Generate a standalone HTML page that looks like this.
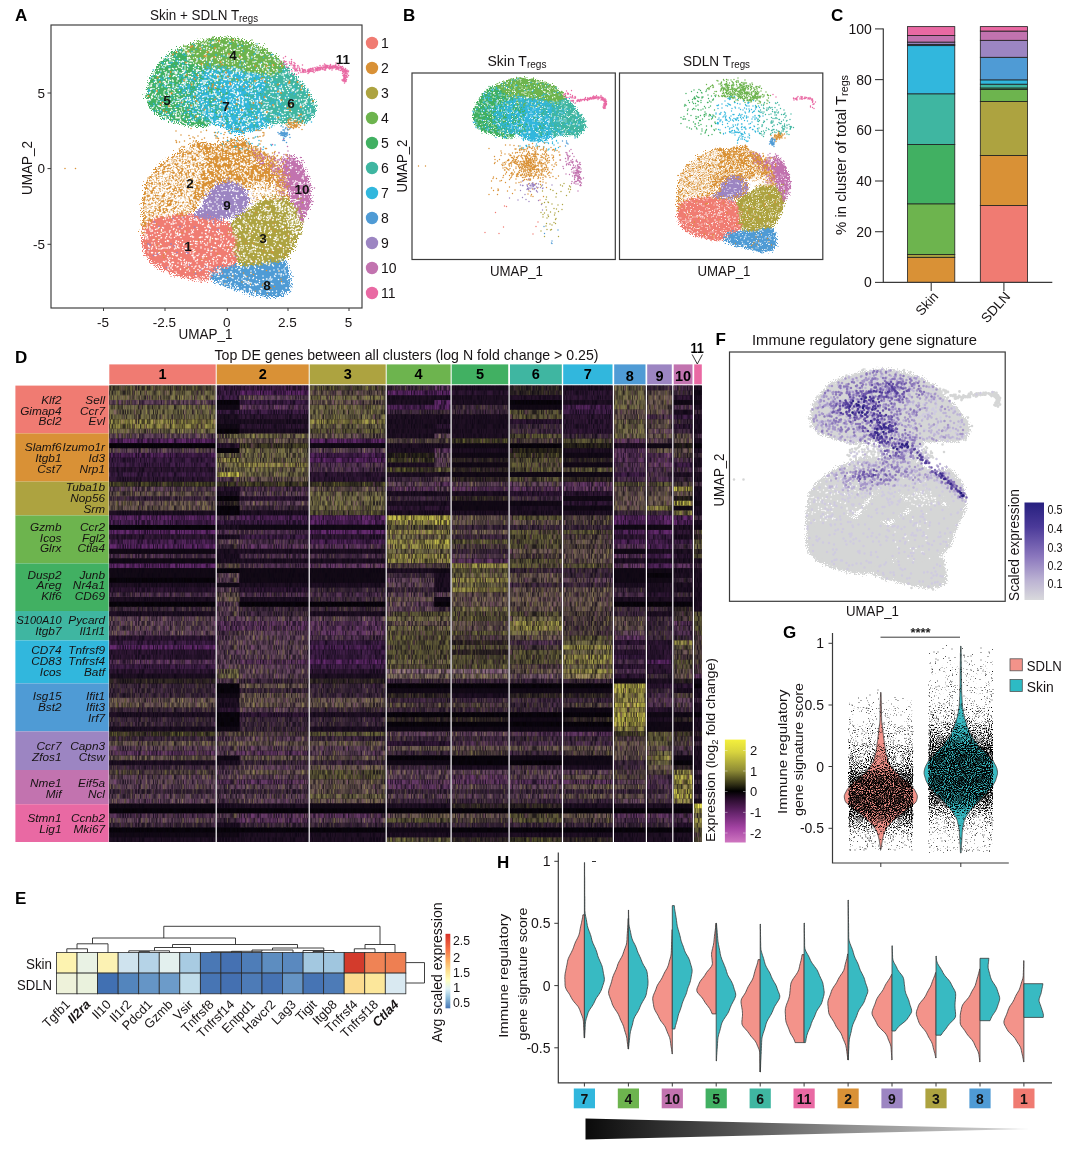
<!DOCTYPE html>
<html><head><meta charset="utf-8"><title>Figure</title>
<style>html,body{margin:0;padding:0;background:#fff}svg{display:block}text{font-family:"Liberation Sans",sans-serif}</style></head>
<body>
<svg width="1080" height="1149" viewBox="0 0 1080 1149">
<rect width="1080" height="1149" fill="#fff"/>
<defs><filter id="rag" x="-5%" y="-5%" width="110%" height="110%"><feTurbulence type="fractalNoise" baseFrequency="0.85" numOctaves="2" seed="4" result="n"/><feDisplacementMap in="SourceGraphic" in2="n" scale="15" xChannelSelector="R" yChannelSelector="G"/></filter><filter id="rag2" x="-5%" y="-5%" width="110%" height="110%"><feTurbulence type="fractalNoise" baseFrequency="0.9" numOctaves="2" seed="9" result="n"/><feDisplacementMap in="SourceGraphic" in2="n" scale="10" xChannelSelector="R" yChannelSelector="G"/></filter><clipPath id="cA"><rect x="51" y="25" width="311" height="283"/></clipPath><clipPath id="cB1"><rect x="412" y="73" width="203.3" height="186.5"/></clipPath><clipPath id="cB2"><rect x="619.5" y="73" width="203.3" height="186.5"/></clipPath><clipPath id="cF"><rect x="729.5" y="352" width="275.7" height="249.3"/></clipPath></defs>
<g clip-path="url(#cA)">
<g filter="url(#rag)">
<path d="M146.3 97.4L149.4 80.7L157.8 66.0L170.3 53.5L180.7 48.3L195.3 61.9L207.9 68.1L201.6 76.5L199.5 91.1L201.6 107.8L207.9 120.3L207.9 126.6L191.2 125.5L174.5 121.4L159.8 116.2L150.4 107.8Z" fill="#41B062"/>
<path d="M179.3 49.1L200.2 40.8L216.9 38.1L233.6 38.7L250.3 42.9L264.9 49.1L277.4 57.5L284.7 64.8L281.6 72.1L271.2 76.9L254.5 74.2L237.8 71.1L221.1 67.9L206.4 69.0L193.9 62.7Z" fill="#6DB44E"/>
<path d="M270.0 75.9L280.5 71.1L285.0 66.3L295.1 76.3L305.5 88.9L313.9 101.4L315.5 110.8L309.7 120.2L299.2 123.3L282.5 122.3L265.8 124.3L261.7 116.0L259.6 103.5L261.7 90.9L265.8 78.4Z" fill="#3FB6A1"/>
<path d="M206.5 68.0L221.1 66.9L237.8 70.0L254.6 73.2L267.1 78.4L262.9 90.9L260.8 103.5L262.9 116.0L267.1 124.3L254.6 130.6L237.8 132.7L221.1 126.4L206.5 120.2L200.3 107.6L198.2 90.9L200.3 76.3Z" fill="#31B7DD"/>
<path d="M143.8 197.8L145.8 183.2L155.2 170.6L169.9 158.1L184.5 149.8L199.1 143.1L217.9 144.5L232.5 141.0L245.0 139.3L251.3 145.6L253.4 156.0L261.7 164.4L272.2 170.6L274.3 181.1L261.7 187.3L251.3 189.4L245.0 187.3L238.8 183.2L226.2 181.1L215.8 183.2L207.4 191.5L199.1 202.0L192.8 210.3L184.5 216.6L169.9 216.6L155.2 218.7L145.8 227.0L143.1 243.7L142.3 212.4Z" fill="#D99136"/>
<path d="M142.2 242.1L145.0 225.0L154.6 216.4L169.6 214.3L184.6 214.3L195.3 216.4L212.4 218.5L223.1 220.7L233.8 225.0L238.0 235.6L240.2 250.6L238.0 261.3L229.5 267.7L218.8 276.3L208.1 279.5L195.3 279.5L180.3 276.3L165.3 270.9L152.5 263.5L145.0 254.9Z" fill="#F07B72"/>
<path d="M230.1 225.6L238.6 214.9L251.4 208.5L260.0 199.9L272.8 195.6L285.7 197.8L294.2 204.2L300.6 212.7L302.8 221.3L298.5 234.1L294.2 247.0L287.8 255.5L281.4 261.9L272.8 264.1L262.1 266.2L249.3 268.3L238.6 264.1L234.3 251.2L234.3 236.3Z" fill="#ADA340"/>
<path d="M209.4 274.7L220.1 268.2L235.0 266.1L250.0 266.1L262.8 264.0L277.8 261.8L286.4 261.8L289.6 274.7L290.7 289.6L282.1 296.0L269.3 297.1L254.3 293.9L239.3 289.6L224.3 285.4L213.7 281.1Z" fill="#4F9BD5"/>
<path d="M284.5 158.0L292.9 155.9L301.2 164.3L307.5 174.7L310.6 187.3L310.6 201.9L305.8 214.4L301.2 222.8L297.5 210.2L291.2 197.7L287.0 187.3L284.5 176.8L282.4 166.4Z" fill="#C273AF"/>
<path d="M209.9 193.3L217.4 184.7L227.0 181.3L237.7 183.4L245.2 190.7L248.8 200.3L244.3 210.0L233.4 216.4L221.6 218.9L209.9 217.7L200.2 218.5L193.4 216.4L200.7 207.8Z" fill="#9C85C2"/>
</g>
<path transform="scale(.5)" d="M368 97h0m-23 11h0m7-2h0m2-1h0m2 0h0m1-2h0m3 5h0m3-3h0m1-1h0m1 3h0m0-2h0m1-1h0m0 0h0m2 1h0m0 1h0m-32 8h0m1-3h0m5 2h0m0-3h0m3 4h0m0-4h0m2 2h0m1-4h0m2 3h0m0-2h0m3 3h0m3-4h0m0 0h0m5 3h0m3-2h0m3 3h0m1-3h0m1-1h0m1 1h0m0 4h0m1-2h0m2 2h0m-45 5h0m4 1h0m2-1h0m1 1h0m1 0h0m1-2h0m0-1h0m4 2h0m1 2h0m0-1h0m2-3h0m5-2h0m21 1h0m0 1h0m2 0h0m0 4h0m2-2h0m1 2h0m2-3h0m1-1h0m3 1h0m1 2h0m-63 6h0m1 1h0m3-1h0m0 1h0m2-1h0m1 0h0m7-1h0m1 0h0m8-3h0m32 0h0m6-1h0m3 6h0m4-1h0m4 1h0m2-1h0m-73 5h0m3 1h0m1-3h0m4 0h0m0 0h0m0 4h0m2-3h0m1-1h0m5-2h0m45 2h0m1-1h0m0 1h0m3 3h0m1-2h0m1 2h0m1 0h0m3-1h0m4-1h0m3-3h0m1 5h0m12-2h0m15-3h0m-108 10h0m2-3h0m6 3h0m0-1h0m60-3h0m4 2h0m2 2h0m2-4h0m0 4h0m1-4h0m2 4h0m5-2h0m0 3h0m5-1h0m14 1h0m47-2h0m-154 6h0m1-2h0m3 4h0m1-1h0m5-3h0m74 4h0m2-3h0m1 0h0m4 1h0m0-3h0m3 4h0m1 1h0m1-4h0m2 2h0m1-2h0m6 4h0m1-1h0m1-2h0m7 2h0m1-2h0m2 3h0m4 1h0m5-6h0m5 5h0m-135 2h0m4 3h0m1-3h0m1 1h0m1 4h0m79-1h0m1-3h0m1 1h0m1-2h0m1 3h0m2 1h0m0-3h0m0 0h0m1 3h0m3-2h0m0 2h0m2-3h0m3 1h0m0 0h0m12-1h0m1 3h0m0 1h0m0-4h0m1 4h0m1-6h0m9 3h0m0 2h0m3-4h0m1 1h0m1 4h0m5-3h0m26-2h0m24 3h0m12-4h0m-196 11h0m1-4h0m0 2h0m0-1h0m1 2h0m3-3h0m79 3h0m4-3h0m2 5h0m1-6h0m0 3h0m1-3h0m1 1h0m3 3h0m3-3h0m1 4h0m11 0h0m8-5h0m6 2h0m1-1h0m1-1h0m5 2h0m53-1h0m-194 7h0m1-1h0m4 4h0m5-5h0m2 0h0m79 6h0m1-3h0m0 0h0m2-1h0m2 1h0m1-1h0m0 1h0m1-2h0m4 0h0m1 1h0m2 0h0m0 4h0m5 0h0m2-4h0m3 2h0m10-3h0m1 2h0m4 3h0m7-2h0m22 1h0m7-5h0m31 2h0m19 1h0m-220 8h0m6 0h0m1-4h0m0 3h0m2 0h0m2-3h0m0 5h0m83-1h0m1-3h0m0 2h0m0-3h0m0 4h0m2 1h0m1-5h0m1 5h0m0-5h0m0 4h0m1 0h0m2 0h0m1-1h0m0-2h0m1 4h0m2-5h0m0 4h0m0-1h0m4 2h0m2 0h0m9-6h0m0 4h0m4 1h0m4-3h0m2-1h0m7 3h0m40-3h0m8 2h0m43 3h0m-228 3h0m1 1h0m0-2h0m3 1h0m0 0h0m2 2h0m0-4h0m1 2h0m1 3h0m83-2h0m4-4h0m0 5h0m4-5h0m2 5h0m6-5h0m5 0h0m1 1h0m2 0h0m3 5h0m1-2h0m6-1h0m3-2h0m5 1h0m1 2h0m0-1h0m2-1h0m5-2h0m4 2h0m2 0h0m3 0h0m56 3h0m-209 4h0m0 2h0m2-4h0m7-1h0m0 0h0m1 2h0m1-1h0m88 2h0m0 1h0m1 1h0m0 1h0m0 0h0m2-5h0m1 5h0m0-5h0m8 2h0m3 0h0m8 2h0m2 0h0m3 0h0m0-3h0m3 2h0m7-2h0m2 2h0m0 0h0m2 0h0m3 1h0m39-5h0m28 2h0m14-1h0m-222 9h0m2-2h0m0-2h0m4 2h0m1 0h0m82 3h0m1-1h0m1-2h0m9 0h0m1-1h0m2-1h0m4 6h0m1-3h0m5-1h0m1 2h0m4-3h0m1 0h0m2 3h0m3-2h0m0 3h0m1-2h0m4-1h0m1 3h0m7-4h0m6 4h0m13 1h0m31-6h0m8 3h0m13 0h0m11-3h0m-224 11h0m4-2h0m0-2h0m2 3h0m2-1h0m1 0h0m1 1h0m85-2h0m2 3h0m0-4h0m2 1h0m6-1h0m5 0h0m3 0h0m11 1h0m5-1h0m8 0h0m2 5h0m2-1h0m5 0h0m1-5h0m2 2h0m1 2h0m3-1h0m5-1h0m1-2h0m18 0h0m0 0h0m19 6h0m5-1h0m12 1h0m14-5h0m-229 6h0m7 0h0m3 5h0m88-3h0m3 2h0m0-1h0m2-4h0m1 4h0m4-4h0m4 1h0m1 1h0m2 4h0m2-1h0m4-1h0m9 1h0m3 0h0m5-3h0m3 2h0m5-1h0m6-1h0m25 2h0m-173 6h0m4 0h0m0-2h0m1 2h0m1 2h0m2-1h0m88 1h0m3-3h0m4-1h0m0 1h0m1 3h0m1 0h0m2-2h0m6 0h0m2 0h0m0-3h0m8-1h0m0 2h0m1 2h0m3-1h0m3 0h0m2-2h0m0 1h0m14 3h0m11-5h0m46 2h0m-202 7h0m2 1h0m2-1h0m1 3h0m1-6h0m4 3h0m0 2h0m2-1h0m83-1h0m0 0h0m2 1h0m0-4h0m1 1h0m4 0h0m2 1h0m1 1h0m1 0h0m3 0h0m2 2h0m2-2h0m10 2h0m0-4h0m1-1h0m2 0h0m10 6h0m2-4h0m3-2h0m3 5h0m0-3h0m59 2h0m14 1h0m-215 4h0m4 2h0m4-3h0m2-2h0m0 6h0m2-3h0m1 3h0m1-3h0m2 2h0m1 1h0m78-5h0m3 2h0m2 1h0m4-3h0m4 5h0m2-4h0m2 3h0m8 0h0m2-3h0m2 1h0m3 0h0m1-3h0m2 5h0m2-4h0m0 0h0m7 1h0m1 4h0m23-6h0m7 5h0m6-4h0m5 1h0m27-1h0m8 0h0m-212 6h0m3 0h0m5 3h0m1 2h0m2-4h0m2 2h0m1-1h0m2 2h0m2-1h0m0 1h0m72-4h0m1 2h0m1 3h0m3-2h0m3 1h0m1-2h0m1 3h0m2-4h0m4-1h0m5 1h0m0 0h0m4 4h0m1 0h0m5 0h0m5-5h0m3 2h0m4 2h0m2-3h0m2-2h0m1 4h0m3 0h0m10-3h0m17 0h0m12 2h0m29-2h0m0 1h0m-188 5h0m0 3h0m7 2h0m3-1h0m3 1h0m63-3h0m2 1h0m2-2h0m2 4h0m0-6h0m0 3h0m1 1h0m0-2h0m2 0h0m1 0h0m1 1h0m1 1h0m5 2h0m8-5h0m6 2h0m2-3h0m1 5h0m0-2h0m3 1h0m2-4h0m30 4h0m30-2h0m5 0h0m2 1h0m-186 5h0m5-1h0m1 0h0m3 0h0m0 1h0m3 1h0m0-1h0m2 0h0m1-1h0m4 2h0m1 1h0m2 0h0m2-2h0m0 2h0m2 0h0m4 1h0m48-4h0m3 3h0m3 1h0m2 0h0m0-1h0m0-2h0m2 3h0m1 1h0m8-4h0m1 0h0m1-1h0m5 4h0m10 0h0m17 0h0m13-4h0m10 2h0m11-1h0m6 0h0m19 3h0m1-2h0m-183 6h0m2-3h0m14 2h0m1 0h0m0-1h0m3 2h0m1-1h0m5-1h0m1 1h0m6 2h0m7-1h0m3 3h0m2-2h0m0 0h0m2 2h0m27-4h0m2 1h0m1 2h0m1-2h0m0-1h0m1 0h0m1 2h0m3-3h0m4 1h0m1 2h0m8 0h0m2-3h0m9 4h0m3-4h0m14 4h0m4-3h0m28 1h0m5 0h0m31 2h0m-179 2h0m3 1h0m4-1h0m9 0h0m3 1h0m2 1h0m1-2h0m2 4h0m1-4h0m1 2h0m1-2h0m2 4h0m1-2h0m3 1h0m1-3h0m7 4h0m4 1h0m2-2h0m3 1h0m2-3h0m2 2h0m3 0h0m2 1h0m1-3h0m0 1h0m0 0h0m1 3h0m0-5h0m5 4h0m1-3h0m1 4h0m2-2h0m0-1h0m6-1h0m2-1h0m1 2h0m2 1h0m15-3h0m2 0h0m14 1h0m2 1h0m17 3h0m20 0h0m5-4h0m1 3h0m11-1h0m-145 3h0m3 2h0m3 0h0m5-2h0m3 1h0m4 3h0m9-4h0m0 3h0m2 0h0m1-3h0m1 1h0m2 4h0m0-2h0m11-3h0m0 1h0m1 2h0m1-2h0m3 4h0m3-5h0m4-1h0m11 5h0m22-3h0m15 4h0m10-4h0m3-2h0m27 4h0m2 0h0m15 2h0m-117 0h0m54 1h0m13 4h0m19-5h0m14 5h0m0-5h0m6 1h0m-41 6h0m34 1h0" stroke="#41B062" stroke-width="3.10" stroke-linecap="round" fill="none"/>
<path transform="scale(.5)" d="M417 78h0m8-3h0m1-1h0m7 4h0m20-3h0m2 3h0m1-1h0m7 0h0m2 0h0m12 0h0m-81 5h0m3 1h0m12 0h0m1 1h0m4 0h0m5-5h0m3 4h0m2-5h0m4 4h0m1 0h0m1 1h0m4-2h0m1-1h0m1 1h0m1-1h0m2 1h0m2 1h0m0-1h0m4-3h0m3 5h0m1 1h0m2-3h0m3 0h0m1 2h0m2-1h0m3-2h0m0-2h0m2 5h0m2-5h0m0 5h0m0 0h0m1 0h0m4 1h0m0-4h0m4 3h0m1 0h0m2-4h0m5 4h0m10 0h0m11-3h0m-119 8h0m8 2h0m0-3h0m3 2h0m3 1h0m0-2h0m1-4h0m2 5h0m2-3h0m1-2h0m0 4h0m3 0h0m1-1h0m3 2h0m2 0h0m4-2h0m2 0h0m0 1h0m3-4h0m1 3h0m2-2h0m6 0h0m0 0h0m1 0h0m5 0h0m0 0h0m2 0h0m5-1h0m0 2h0m1 1h0m1-2h0m1 1h0m5 0h0m1 0h0m8 1h0m4 1h0m1-2h0m3-1h0m0-1h0m5 2h0m1 0h0m0 4h0m0-6h0m1 1h0m4 1h0m0 3h0m1-3h0m2 2h0m2-3h0m2 2h0m0 2h0m1-3h0m2 2h0m3-1h0m3 2h0m5 0h0m2 0h0m0-2h0m8 2h0m-142 3h0m4 0h0m1 2h0m1-1h0m10-2h0m3 1h0m1 0h0m2 1h0m3 0h0m3-1h0m2 0h0m0 0h0m81-1h0m7 1h0m1 0h0m4 1h0m3 3h0m3-1h0m1-4h0m0 4h0m1 1h0m3-1h0m0-1h0m2-2h0m1 4h0m1-2h0m0-1h0m1 1h0m4-3h0m0 1h0m0 3h0m0-1h0m1 1h0m3 0h0m4-1h0m4 1h0m-161 3h0m3 3h0m12-4h0m1-1h0m0 2h0m1 2h0m6-4h0m118 2h0m1 0h0m1 1h0m1 1h0m1 1h0m2-3h0m1-1h0m4 0h0m2 3h0m3 1h0m3-1h0m0-1h0m1-2h0m3 2h0m3 0h0m-157 4h0m1 3h0m2-2h0m1-2h0m2 2h0m1 3h0m0-3h0m2 3h0m133-4h0m7 3h0m0 1h0m2-4h0m3 4h0m1 0h0m1 0h0m2-3h0m1 3h0m2 0h0m7-2h0m-169 4h0m2 0h0m1-1h0m5 1h0m4 4h0m1-2h0m139-3h0m6 3h0m2 1h0m1 2h0m2-1h0m0-1h0m1-1h0m0 1h0m5-1h0m10 1h0m-177 3h0m6 4h0m2-3h0m0 1h0m3-1h0m1 2h0m0 0h0m1-2h0m0 2h0m2 1h0m1-2h0m0 0h0m3 0h0m5 3h0m139-4h0m0-2h0m1 2h0m3 1h0m3-2h0m1 2h0m5-2h0m2 3h0m2-1h0m2 1h0m-165 6h0m0-1h0m3-1h0m2 2h0m2 0h0m1-2h0m0-2h0m2 2h0m0 1h0m1 1h0m1 1h0m0 1h0m5-1h0m38 1h0m102-6h0m4 4h0m1 1h0m2-2h0m5 3h0m1-3h0m1 0h0m0 2h0m4 0h0m-175 2h0m6 1h0m3-1h0m0 4h0m1-3h0m1 0h0m1-1h0m1 4h0m2-1h0m1-1h0m0 1h0m1 1h0m1-2h0m0 1h0m1-1h0m1 1h0m0 1h0m6-3h0m0 0h0m2 0h0m0 0h0m1 0h0m2 2h0m0-2h0m1 2h0m0-3h0m6 4h0m2-2h0m1 1h0m0 2h0m0-2h0m1-2h0m1-1h0m0 4h0m4-4h0m1 2h0m6 0h0m4 1h0m1-3h0m6 4h0m1-1h0m13 0h0m83-1h0m3-1h0m1 0h0m8 0h0m0-1h0m0 3h0m-156 6h0m1-2h0m0 0h0m3 0h0m1 3h0m3-4h0m2 4h0m2-5h0m2 0h0m2 3h0m1 3h0m0-3h0m5 2h0m1-2h0m0-3h0m1 6h0m0-5h0m1 0h0m1 3h0m1-2h0m2 0h0m3-1h0m0 3h0m1-4h0m2 5h0m1-2h0m0 1h0m2-3h0m3 2h0m0 1h0m4-1h0m1 1h0m1-2h0m1 0h0m1-1h0m2 1h0m3 3h0m0-2h0m2-1h0m1 3h0m1-4h0m1 2h0m2-2h0m4 4h0m1-2h0m1 1h0m4 2h0m4-4h0m0 0h0m2 3h0m1-1h0m4 1h0m2-2h0m61 1h0m1 0h0m0-2h0m2 0h0m4 2h0m-147 5h0m3 3h0m5-6h0m3 0h0m2 2h0m1 3h0m6-3h0m1 1h0m10-3h0m0 4h0m3-1h0m2-2h0m1 4h0m1-1h0m2-4h0m1 6h0m0-5h0m3 1h0m1-1h0m1 3h0m1 0h0m2 1h0m4-4h0m0 0h0m1 4h0m7-3h0m2 0h0m4 0h0m4 0h0m0 3h0m2-2h0m0 0h0m1 1h0m3 1h0m0-3h0m1-1h0m1 3h0m1-3h0m0 1h0m0-2h0m2 4h0m2 0h0m1-4h0m2 2h0m3 2h0m4 0h0m1-1h0m3-1h0m0 1h0m1-3h0m1 2h0m2-1h0m2 4h0m2-3h0m1 2h0m2-1h0m3 2h0m4 1h0m2 0h0m1-2h0m3 1h0m11-1h0m3 2h0m0-6h0m1 4h0m2-1h0m1-1h0m3 1h0m0-2h0m2 0h0m2 4h0m-141 5h0m2 1h0m0-2h0m10 2h0m1-5h0m3 6h0m4-2h0m4-2h0m6 0h0m7 4h0m5-3h0m1 2h0m2-2h0m0-1h0m4 2h0m2 0h0m3 1h0m0 0h0m13-5h0m1 5h0m1-1h0m0 1h0m0-2h0m3 0h0m0-1h0m4-1h0m0-1h0m0 1h0m3-1h0m3 2h0m4-2h0m4 2h0m0 2h0m6 1h0m0-1h0m7-3h0m3 1h0m0 2h0m0-1h0m2 3h0m0-4h0m1-2h0m1 3h0m1-1h0m0-2h0m3 5h0m6 1h0m0 0h0m1-2h0m0-2h0m4-2h0m0 1h0m3 2h0m5 1h0m5-3h0m0-1h0m-139 7h0m10 5h0m5-1h0m6 0h0m3-3h0m7 0h0m1 1h0m10 2h0m3-1h0m22 1h0m5 1h0m2-2h0m3-3h0m4 0h0m2 1h0m5 2h0m1 2h0m13-6h0m4 0h0m1 5h0m1-4h0m6 4h0m4-2h0m0-3h0m6 3h0m-107 8h0m0 0h0m1-2h0m7-2h0m4 0h0m10 1h0m4 2h0m2-2h0m4 2h0m5-2h0m1 2h0m2 0h0m5-1h0m6-2h0m0 4h0m1-1h0m4-2h0m1 2h0m14 0h0m1-3h0m4 5h0m0-5h0m1 4h0m0-3h0m14-2h0m4 1h0m1 4h0m-34 4h0m4 2h0m4-4h0m4-1h0m0 1h0m1-1h0m7 0h0m10 2h0m2 2h0m4-1h0m3 2h0" stroke="#6DB44E" stroke-width="3.10" stroke-linecap="round" fill="none"/>
<path transform="scale(.5)" d="M575 135h0m3 2h0m-108 4h0m22 3h0m65-4h0m2 1h0m6 0h0m2-3h0m1 4h0m0-1h0m2-3h0m3 1h0m2 1h0m2 4h0m2-3h0m-176 8h0m33-2h0m17 0h0m28-2h0m27 4h0m37-3h0m6 1h0m1-1h0m4 3h0m9 0h0m5-2h0m1-1h0m0 0h0m1 1h0m6 2h0m-83 3h0m15 2h0m27 0h0m12-1h0m1 3h0m1-5h0m2 4h0m2-4h0m0 4h0m0 0h0m2-5h0m2 5h0m1-1h0m3-2h0m12-1h0m1 0h0m5 0h0m0 1h0m0 4h0m1-1h0m0-3h0m1 0h0m1 2h0m1 2h0m1-1h0m1-3h0m1 3h0m0-2h0m-165 7h0m6-4h0m10 2h0m8 3h0m18 0h0m29 1h0m8-4h0m1-1h0m9 1h0m3 3h0m6-1h0m5 1h0m6 0h0m6-2h0m1-2h0m1 0h0m0 5h0m1-1h0m3-1h0m1 1h0m0-2h0m2-3h0m1 2h0m0 0h0m3-2h0m0 0h0m3 1h0m26-1h0m1 3h0m2 2h0m1-3h0m1 2h0m1-2h0m0 1h0m3 3h0m4-5h0m-187 8h0m47 1h0m14-2h0m31 2h0m6-1h0m3 0h0m1-1h0m0 2h0m0 2h0m1-5h0m2-1h0m0 2h0m3 3h0m3-1h0m3-3h0m2 4h0m3 0h0m3-2h0m9-3h0m2 2h0m0 1h0m1 0h0m45-3h0m1 2h0m0 0h0m2 1h0m1 2h0m0-1h0m1 2h0m4-2h0m1 0h0m4 1h0m1-3h0m1-1h0m-177 11h0m0-5h0m64-1h0m5 3h0m7-2h0m8-1h0m20 0h0m7 1h0m1 1h0m0 3h0m1-5h0m1 0h0m55 3h0m0-2h0m1 4h0m3-3h0m3 4h0m0-6h0m-203 9h0m59-1h0m16 0h0m7 3h0m11 1h0m12 0h0m2-6h0m4 5h0m2-4h0m3 5h0m13-1h0m2 0h0m1-3h0m5-1h0m68 3h0m2-1h0m1 3h0m0-2h0m2 0h0m9 0h0m-162 3h0m2 3h0m39 0h0m1 0h0m5-3h0m2-1h0m5 4h0m2-3h0m2 2h0m5-2h0m0 2h0m2-3h0m2 0h0m7 2h0m0 2h0m1 0h0m1 1h0m1 0h0m1-4h0m72 4h0m3-4h0m1 2h0m7 2h0m-210 5h0m20-1h0m37 0h0m13-2h0m14 3h0m1 0h0m3-1h0m2-2h0m5 4h0m0-2h0m6 1h0m7-1h0m1-1h0m3-1h0m4 4h0m1-2h0m1 2h0m0-2h0m5 1h0m2-3h0m1 4h0m74-4h0m1-1h0m4 5h0m1-3h0m1 0h0m3-1h0m2 4h0m3-2h0m-222 8h0m0 1h0m70-1h0m28-2h0m2 1h0m3-2h0m2 1h0m1-2h0m1 2h0m1-2h0m6 1h0m2 3h0m2-4h0m10 4h0m0 0h0m1-1h0m5 1h0m83-1h0m4 2h0m-201 2h0m69 1h0m4 0h0m3-2h0m7 5h0m0-5h0m0-1h0m2 2h0m1 0h0m0 2h0m1-3h0m5 2h0m1 2h0m4-2h0m0-1h0m6 0h0m3 1h0m0 3h0m1-1h0m1 1h0m1-2h0m86-2h0m3 3h0m2 1h0m3-3h0m2-1h0m-215 9h0m20-2h0m12 3h0m3-4h0m28 2h0m4 1h0m24-4h0m1 2h0m3 2h0m2-3h0m11-2h0m6 1h0m0 2h0m1 0h0m0 0h0m2-2h0m1-1h0m92 5h0m3-1h0m4 0h0m-209 3h0m5 2h0m9 1h0m4 1h0m2-2h0m7 1h0m5 0h0m4 0h0m24 0h0m15-3h0m10 3h0m0-2h0m1-1h0m0 2h0m1 3h0m2-5h0m2-1h0m3 2h0m3 1h0m1 1h0m1 1h0m0-2h0m0 0h0m3-1h0m0 3h0m3-3h0m2-2h0m0 3h0m1 1h0m1-3h0m2 3h0m0-3h0m2-1h0m1 1h0m89 4h0m0-2h0m3 1h0m1-3h0m1 5h0m6-5h0m4 0h0m-211 8h0m1 2h0m14-3h0m3 0h0m1 4h0m17-5h0m1 1h0m17 1h0m16-2h0m3 2h0m2 0h0m6 0h0m2-3h0m4 1h0m6 4h0m2-2h0m0-2h0m1 3h0m1-2h0m3-1h0m2 4h0m0-3h0m1 2h0m3-4h0m0 0h0m2 4h0m4-2h0m89 1h0m1 0h0m0 0h0m4 0h0m1-1h0m0 3h0m-214 6h0m24-3h0m18 3h0m31 1h0m2-1h0m4-5h0m1 2h0m2-1h0m9 3h0m3-3h0m1 0h0m2 3h0m0-2h0m2 1h0m2-1h0m5 2h0m0 0h0m3-1h0m1-1h0m0 0h0m0 2h0m0-3h0m3 3h0m3-3h0m84 2h0m2-2h0m1-1h0m3 3h0m1-2h0m1 0h0m3 1h0m1 3h0m-206 5h0m38 2h0m12-3h0m8 2h0m16-1h0m1 0h0m1 2h0m0-1h0m5-3h0m2 1h0m2-3h0m1 1h0m5 4h0m3-2h0m2 0h0m1-2h0m6-1h0m4 2h0m1 0h0m2-2h0m0 6h0m1-1h0m1 0h0m78 0h0m0-1h0m1-2h0m3 0h0m2-2h0m0 3h0m2 1h0m2-2h0m-145 10h0m18-1h0m2 0h0m0-3h0m3-2h0m12 3h0m5 1h0m12-2h0m0 1h0m2-1h0m1 1h0m1-1h0m0 1h0m2 2h0m0-4h0m0 5h0m4-2h0m0 0h0m2 0h0m1 0h0m1 1h0m3 0h0m4-4h0m2 1h0m1 3h0m4-1h0m0-1h0m1-1h0m0 2h0m1 1h0m0-1h0m3-2h0m5 2h0m1 2h0m0-3h0m0-2h0m2 3h0m1 0h0m5-2h0m2-1h0m0 1h0m5 0h0m2 1h0m0 1h0m6-2h0m2 1h0m2 2h0m0-3h0m5 0h0m1 3h0m2-2h0m0 1h0m0-3h0m2 1h0m3-2h0m3 4h0m3 1h0m1 0h0m2 1h0m0-6h0m0 5h0m2-2h0m0 2h0m-197 4h0m7 2h0m12 1h0m7-1h0m12 0h0m1-4h0m33 5h0m2-2h0m2-4h0m4 1h0m1 3h0m2 1h0m3-3h0m3 0h0m17 3h0m11-1h0m1 0h0m1-2h0m1 1h0m0-2h0m1 4h0m1-2h0m2 1h0m2 2h0m5-5h0m3 2h0m5-1h0m0 1h0m2-3h0m0 5h0m2-5h0m2 3h0m4-3h0m2 5h0m1-4h0m1-1h0m3 3h0m4 1h0m4 2h0m1-4h0m1 0h0m2-1h0m0 0h0m4 2h0m2 1h0m4 0h0m1 0h0m11-4h0m-169 7h0m12-1h0m22 3h0m13-1h0m17-2h0m8 5h0m20 0h0m11-4h0m6 0h0m2 0h0m10 0h0m45-1h0m-148 7h0m26 5h0m-4 7h0" stroke="#3FB6A1" stroke-width="3.10" stroke-linecap="round" fill="none"/>
<path transform="scale(.5)" d="M420 83h0m6-2h0m-40 7h0m35 2h0m24-1h0m14-3h0m3 1h0m14 2h0m38-1h0m-129 4h0m4-1h0m16 0h0m15 0h0m5 2h0m51 0h0m8-2h0m1 1h0m16 4h0m9-1h0m-148 7h0m1-3h0m29 0h0m11-3h0m5 2h0m1 0h0m59 1h0m44 1h0m-157 2h0m14 5h0m15-4h0m103-1h0m23 5h0m2-4h0m6 1h0m-186 9h0m17-2h0m2 2h0m15-4h0m4 2h0m2-1h0m0 0h0m14 0h0m32-1h0m14 2h0m0-2h0m11 3h0m4 0h0m1-1h0m4 3h0m18-2h0m33 2h0m5-5h0m26 1h0m8 0h0m3-1h0m-215 11h0m7-2h0m17-1h0m41 2h0m4-2h0m4 1h0m66-3h0m34 2h0m24-2h0m22 1h0m7 4h0m-232 5h0m15 0h0m5 0h0m8-3h0m2-1h0m3 4h0m1-3h0m6 4h0m1-4h0m5-2h0m3 2h0m40 2h0m11-3h0m0 3h0m24 0h0m17-1h0m16 0h0m8-1h0m21 0h0m13 3h0m-197 2h0m1 0h0m6 2h0m2 0h0m7-3h0m7 5h0m9-3h0m8 2h0m1-3h0m3 4h0m4-1h0m37 0h0m8-3h0m1 0h0m0 3h0m11 0h0m7 0h0m6-2h0m35 3h0m1-4h0m9-1h0m18 6h0m13-4h0m20-1h0m28 1h0m-244 7h0m4 0h0m10-2h0m2 1h0m25 0h0m12-2h0m1 2h0m14 1h0m15-2h0m1 5h0m6-4h0m2 1h0m0-1h0m9 3h0m4-1h0m2 1h0m2-3h0m5 4h0m4-2h0m1 1h0m0 1h0m2-2h0m1-2h0m4 3h0m2-4h0m12 0h0m1 2h0m1-1h0m2 3h0m4 0h0m12-5h0m6 1h0m23 4h0m11-3h0m16 0h0m20-1h0m12 2h0m-265 5h0m14 4h0m28-3h0m17-2h0m2 5h0m3-2h0m1 1h0m14-2h0m4 2h0m5-2h0m10 2h0m1-5h0m2 1h0m1 1h0m2 1h0m2 1h0m1-2h0m0 2h0m0-3h0m2 2h0m4 1h0m2 0h0m1-3h0m1 4h0m0-1h0m3-1h0m0 1h0m1 1h0m3 0h0m0-5h0m2 5h0m1-2h0m3 0h0m0-1h0m1 1h0m1 2h0m0-1h0m3 0h0m2-4h0m6 0h0m2 4h0m4-1h0m0-1h0m1 0h0m1-1h0m0 4h0m1-2h0m0 1h0m1-1h0m0-3h0m1 6h0m2-5h0m3 3h0m4-3h0m2 5h0m1-5h0m1 2h0m2-2h0m3-1h0m1 1h0m4 3h0m2-3h0m1 2h0m49 1h0m3-3h0m30 3h0m-252 7h0m21-1h0m1-4h0m7 0h0m10 0h0m4 3h0m5 2h0m4 0h0m1-3h0m12 0h0m2 3h0m2-4h0m1 3h0m1 1h0m2 1h0m6-5h0m1 1h0m3-1h0m1 1h0m2-1h0m0 0h0m2 3h0m1 2h0m4-3h0m0-2h0m1 4h0m5-2h0m0 0h0m4-2h0m3 0h0m1 1h0m3-2h0m6 3h0m0-1h0m2-1h0m2 2h0m3 3h0m4-4h0m2 3h0m2-3h0m1 1h0m0-3h0m0 2h0m1 0h0m1 4h0m1-4h0m1-1h0m0 0h0m2 0h0m0 3h0m1-2h0m0 0h0m0-1h0m3 1h0m0 3h0m0-4h0m1 3h0m1 0h0m0 2h0m1-5h0m1-1h0m1 3h0m3 2h0m1-3h0m0-1h0m1 3h0m1 1h0m0 1h0m2-3h0m1 1h0m0-4h0m1 3h0m7 2h0m2-3h0m1 3h0m1 1h0m1-1h0m0-1h0m3 2h0m2-4h0m0-2h0m3 4h0m0-1h0m3 1h0m2-1h0m3-1h0m1 3h0m3-2h0m1 2h0m3-3h0m1 1h0m5 1h0m3 2h0m6-3h0m6 2h0m0-2h0m1 2h0m-231 7h0m4-4h0m7-1h0m14 1h0m1 4h0m5-1h0m3-1h0m3-3h0m9 2h0m8-2h0m4 1h0m1 0h0m0 2h0m3-2h0m3 2h0m2 0h0m6 1h0m5-1h0m1-1h0m4 1h0m1 1h0m2-2h0m2-2h0m2 2h0m2 2h0m0-1h0m2-2h0m1-2h0m0 4h0m3-2h0m4 2h0m1 0h0m0 0h0m1-4h0m2 1h0m1 2h0m0 2h0m0-5h0m1 4h0m2-4h0m0 2h0m2 0h0m8 2h0m0-2h0m2 0h0m7-1h0m2 4h0m0-4h0m7 4h0m9 0h0m3-1h0m4-2h0m1-1h0m2 2h0m5-1h0m3 1h0m10 0h0m4-3h0m0 0h0m0 2h0m2 3h0m3 0h0m0-3h0m1-2h0m0 3h0m1 0h0m0-3h0m1 6h0m3-6h0m1 3h0m1-1h0m0 2h0m1 0h0m0 0h0m3-2h0m1 3h0m1-4h0m1 0h0m0-1h0m1 2h0m0 4h0m2-2h0m0 0h0m0-1h0m0-2h0m1 4h0m0-2h0m4 1h0m1 0h0m2-1h0m1 1h0m0-1h0m0-2h0m1 4h0m0 1h0m0-2h0m3 0h0m0-3h0m0 3h0m1 0h0m1-1h0m0-1h0m2 1h0m0 3h0m4-4h0m1 0h0m0 0h0m5-2h0m2 1h0m2 4h0m3-2h0m3 1h0m-229 6h0m6 0h0m1-1h0m2-2h0m2-1h0m1 3h0m3 1h0m11-2h0m0-1h0m2 0h0m19 1h0m3-2h0m4 5h0m1-1h0m1-2h0m3 2h0m5-2h0m0 1h0m3 1h0m2 1h0m1-1h0m2-3h0m1 4h0m0-1h0m2-3h0m0 3h0m1 1h0m2-2h0m2-2h0m0 0h0m3 5h0m0-4h0m11 4h0m3-2h0m3-3h0m0 1h0m11-2h0m34 3h0m5-2h0m15 0h0m4 1h0m7-1h0m10 4h0m1-1h0m5 0h0m2 1h0m2-3h0m6 1h0m2-1h0m1-1h0m3 0h0m0-1h0m1 0h0m3 3h0m0 3h0m1-4h0m0 0h0m2 3h0m0-3h0m2 1h0m2 2h0m0-1h0m1-3h0m0 2h0m3 2h0m1-2h0m6 1h0m0-2h0m-233 5h0m11 5h0m1-1h0m2-4h0m11 4h0m0 1h0m7-2h0m2 0h0m3 1h0m3 0h0m17-4h0m3 4h0m1 1h0m2-1h0m7-2h0m11-2h0m0 3h0m12 1h0m1-4h0m1 3h0m1-1h0m0-1h0m80 1h0m24-1h0m12-2h0m1 5h0m1-3h0m0-1h0m2 1h0m0 0h0m1 3h0m0-1h0m1-1h0m1 1h0m0-2h0m1-2h0m1 1h0m0 4h0m1-1h0m14 0h0m0 1h0m5-3h0m3 1h0m-243 5h0m9 2h0m7-1h0m2-1h0m2 3h0m2 1h0m14-3h0m11-2h0m2 2h0m1 1h0m2 0h0m1-2h0m1-1h0m1 5h0m3 0h0m1-3h0m3-1h0m1-2h0m3 5h0m1-3h0m1 2h0m1-2h0m0 2h0m1 2h0m1-2h0m0-3h0m6 3h0m5 1h0m0-3h0m1 2h0m6 1h0m0-3h0m1 0h0m1 1h0m1-1h0m1 2h0m2-4h0m1 4h0m0 1h0m3-5h0m1 6h0m111-6h0m6 1h0m2 4h0m0-4h0m0 1h0m0 1h0m3-1h0m5 0h0m1-2h0m21 6h0m2-2h0m2-2h0m1-1h0m0 1h0m8 0h0m0-2h0m6 4h0m12 0h0m-292 7h0m7-1h0m14-1h0m15-2h0m10 2h0m4 1h0m1-4h0m8 6h0m0-5h0m2 5h0m1-5h0m1 3h0m0-4h0m2 1h0m1 0h0m1 1h0m3 2h0m2 2h0m0-6h0m2 1h0m0 4h0m4-1h0m1-2h0m1 2h0m1-3h0m0 0h0m1 3h0m4-1h0m5 2h0m4-2h0m0 0h0m2-2h0m2 2h0m0-1h0m2-1h0m0 4h0m2-2h0m2-1h0m1 0h0m1-1h0m1 3h0m0 1h0m2-2h0m1 3h0m0-1h0m114 0h0m5-3h0m0 0h0m1-1h0m3 5h0m2-1h0m0-1h0m10-2h0m5 1h0m6 2h0m2-3h0m4 1h0m2-1h0m29 2h0m-294 4h0m2 1h0m1-3h0m8 1h0m2 3h0m7-2h0m17 3h0m30-1h0m1-2h0m1-1h0m0 0h0m3 3h0m0 0h0m2-2h0m1-1h0m3 5h0m1-2h0m3-2h0m0-1h0m1 3h0m1-3h0m4 0h0m3 5h0m1-3h0m5-1h0m0-2h0m2 2h0m0 3h0m2-3h0m0 3h0m1-1h0m2 0h0m0-2h0m0 3h0m2 0h0m1-4h0m1 1h0m1 1h0m110-2h0m2-1h0m3 4h0m2-3h0m4 0h0m0 2h0m15-1h0m11 2h0m1-3h0m10 2h0m16 2h0m3 0h0m6-5h0m21 5h0m5-5h0m-318 7h0m14 5h0m32-1h0m5 1h0m1-5h0m5 1h0m5 0h0m1-1h0m2 3h0m4-4h0m1 1h0m4 0h0m6 4h0m6 0h0m1-1h0m0-4h0m3 5h0m1-5h0m1 1h0m0-1h0m0 2h0m0-1h0m2 3h0m2-4h0m1 5h0m0-1h0m4-2h0m1 1h0m2 0h0m0 1h0m4-1h0m0 3h0m0-2h0m1-3h0m0 3h0m0-3h0m2 5h0m108-4h0m12 1h0m5 1h0m12-1h0m1-1h0m7-1h0m3 4h0m0-4h0m4-1h0m19 5h0m9-2h0m2-2h0m-273 11h0m3-4h0m2-1h0m7 4h0m8-2h0m7 0h0m20 3h0m3-4h0m1 4h0m3-3h0m1 2h0m1-2h0m0 1h0m1-1h0m0-1h0m2 1h0m3 3h0m1-5h0m0 5h0m2-5h0m1 4h0m1-2h0m0-3h0m8 2h0m0 4h0m1-6h0m1 4h0m1-1h0m0 1h0m3-1h0m2 2h0m0-4h0m2 5h0m1-3h0m1 1h0m0 0h0m1-4h0m3 2h0m0 1h0m0 0h0m1-1h0m0 4h0m106 0h0m0-2h0m1-4h0m2 5h0m7-1h0m1 2h0m2-6h0m4 1h0m7 1h0m0-1h0m8 2h0m12 1h0m11-3h0m5 1h0m11 4h0m-287 5h0m19 0h0m5-1h0m3-2h0m5 2h0m4-1h0m6-2h0m7 1h0m1 3h0m5-4h0m2 0h0m4 0h0m1 4h0m2 0h0m1 1h0m2-4h0m0-1h0m4-1h0m3 2h0m1 0h0m0 1h0m1 0h0m1 2h0m2-2h0m2 3h0m1-4h0m0-1h0m1-1h0m2 3h0m0 1h0m1 1h0m0-1h0m1-2h0m1 0h0m0 2h0m2 1h0m3-4h0m0 1h0m3 0h0m2 1h0m2 0h0m0-1h0m0 2h0m0-3h0m2 1h0m0 2h0m1 0h0m2-4h0m0 3h0m0 2h0m1 1h0m1-4h0m1 3h0m0-2h0m2 2h0m3-1h0m101 1h0m3-3h0m2 3h0m0-2h0m10-2h0m3 1h0m5-1h0m2 1h0m6 2h0m6-2h0m0 3h0m7-2h0m2 2h0m0-2h0m21 2h0m19 0h0m-292 4h0m7 1h0m0 0h0m17-1h0m12 0h0m0 0h0m2-2h0m12 4h0m3 1h0m1-5h0m1 1h0m1 2h0m0-2h0m1 1h0m5 0h0m1 1h0m3-1h0m0-2h0m1-1h0m5 0h0m0 3h0m4-1h0m0 2h0m1-2h0m4-1h0m1 1h0m0-2h0m4 1h0m0 3h0m4 2h0m1-2h0m2 2h0m0-3h0m1-2h0m1 1h0m1 3h0m0 0h0m1-3h0m1-1h0m1 1h0m2-1h0m105 4h0m1-3h0m1-2h0m0 6h0m1-3h0m2 2h0m4-4h0m8 1h0m8-1h0m2 5h0m2-4h0m2 3h0m0-3h0m3 0h0m12 2h0m2 1h0m1-3h0m40 3h0m-300 3h0m5 0h0m2-2h0m8 1h0m2 1h0m14 3h0m19-1h0m2-2h0m1 1h0m2 0h0m8-2h0m0 0h0m2 1h0m2 1h0m3 1h0m6 0h0m1-3h0m1 3h0m1 0h0m1-1h0m4 0h0m1 2h0m2-4h0m0 0h0m1 4h0m2-3h0m0 3h0m5 1h0m1-4h0m2 2h0m1-2h0m1 3h0m1 1h0m0-1h0m2-3h0m1-1h0m0 1h0m0 2h0m4 1h0m0-3h0m2 0h0m103 0h0m0 3h0m0 0h0m1 0h0m0-3h0m1 2h0m3 1h0m5-1h0m6-3h0m2 4h0m2 0h0m6-4h0m24 2h0m5 0h0m2 2h0m44-4h0m2 0h0m4 1h0m-315 10h0m10-1h0m9-5h0m8 5h0m13-2h0m24-1h0m1 1h0m2 2h0m1 1h0m1-4h0m1 1h0m0 0h0m4-1h0m0 1h0m1 1h0m2 0h0m0 0h0m1 1h0m2-3h0m1 4h0m2-4h0m3 0h0m0 1h0m2-1h0m2 4h0m4-6h0m1 3h0m1-2h0m1 0h0m1 1h0m0-2h0m0 2h0m0 2h0m2-4h0m0 3h0m2-2h0m3 1h0m2 2h0m102-2h0m2 3h0m3-5h0m8 4h0m13 2h0m12-5h0m12 1h0m8 2h0m27-1h0m12-1h0m8 0h0m-310 4h0m9 3h0m1-1h0m2-2h0m2 5h0m10-1h0m6 0h0m1-1h0m0 1h0m5-2h0m3-1h0m1 1h0m11 1h0m2 3h0m5-1h0m1-2h0m2 0h0m4-3h0m0 2h0m2-1h0m0 2h0m2 2h0m1-2h0m4-1h0m1 0h0m1 1h0m3 0h0m0-2h0m0 4h0m1-4h0m0 1h0m1 3h0m0-4h0m0 2h0m0-2h0m1 4h0m2-5h0m3 0h0m0 5h0m1-2h0m2-2h0m0 1h0m3 2h0m0-4h0m3 1h0m1 2h0m2-2h0m0 2h0m1-1h0m2 2h0m1-3h0m0 3h0m2 2h0m1-2h0m96-3h0m2 5h0m0-4h0m1 1h0m1 0h0m1 2h0m0-4h0m3 3h0m2-1h0m0 2h0m8-5h0m8 0h0m14 5h0m6 0h0m1-5h0m61 4h0m-297 6h0m4-3h0m4 0h0m6 2h0m1-1h0m7 1h0m35 2h0m0-2h0m1-1h0m1 2h0m5 0h0m0-2h0m5-2h0m1 5h0m4 0h0m4-2h0m1-2h0m3 1h0m0 4h0m1-5h0m2 5h0m1-5h0m2 3h0m1 0h0m3 0h0m1-2h0m2 2h0m97 2h0m1-2h0m0-1h0m1 0h0m1-1h0m2 3h0m0 0h0m0-1h0m8-2h0m0 3h0m6-3h0m13-2h0m10 0h0m0 2h0m2 1h0m3-3h0m8 4h0m10-1h0m15 3h0m3-6h0m2 4h0m17 0h0m-290 7h0m7-3h0m11 2h0m23 0h0m0-2h0m8 4h0m1-1h0m3-2h0m1-3h0m1 0h0m2 0h0m1 1h0m0 4h0m1-2h0m7 0h0m2 1h0m2-4h0m2 3h0m0-3h0m1 2h0m5-1h0m2 0h0m3 5h0m3-5h0m1 4h0m3-4h0m4 4h0m0-1h0m0-4h0m1 2h0m0 0h0m0 1h0m1-3h0m0 4h0m1 1h0m11 1h0m80-6h0m1 0h0m2 6h0m0-5h0m1 1h0m2 0h0m2 1h0m4-2h0m1 5h0m1-5h0m2 0h0m1 2h0m5 0h0m2 1h0m5 2h0m2-3h0m4 0h0m12 0h0m23-3h0m16 4h0m-258 5h0m13-1h0m22 3h0m5-5h0m6 1h0m4 1h0m14-2h0m4 4h0m8-3h0m2-1h0m0 1h0m1 3h0m5-1h0m2 0h0m2 0h0m2-2h0m1 4h0m1-3h0m0 0h0m0 0h0m1 3h0m2 1h0m1-4h0m2 3h0m2-3h0m0 0h0m1 2h0m1-1h0m2 2h0m4 0h0m0 0h0m68-2h0m1 0h0m5 0h0m0 0h0m1-2h0m5 4h0m3-3h0m2 3h0m0 1h0m55-5h0m22 3h0m9 0h0m-247 4h0m29 2h0m15 0h0m5-3h0m8 3h0m7-4h0m1 4h0m2-2h0m0 1h0m0 3h0m0-5h0m3 3h0m3 1h0m1-1h0m3 1h0m1 0h0m0-1h0m4 0h0m8 1h0m1 0h0m11 0h0m18 1h0m1 0h0m11 0h0m4 0h0m2-3h0m1-2h0m1-1h0m4 2h0m1-1h0m1 2h0m1 1h0m0-2h0m4 2h0m1 1h0m17 0h0m34-4h0m-129 9h0m4 0h0m7-2h0m3 3h0m1-2h0m1-3h0m0 5h0m1 1h0m1-2h0m4-1h0m5 0h0m1 0h0m0-1h0m0 4h0m2 0h0m0 0h0m3-2h0m1-2h0m3-1h0m1 0h0m1 3h0m1-2h0m1 2h0m1-3h0m1 4h0m0-3h0m3 2h0m3-3h0m1 0h0m2 3h0m1 1h0m1-1h0m0 1h0m1-2h0m0 0h0m1 2h0m5-1h0m2 0h0m1 0h0m4-2h0m0 3h0m14-5h0m0 4h0m1-2h0m10 0h0m-86 9h0m2-1h0m2-3h0m4 0h0m0 2h0m5 0h0m4 0h0m5 3h0m2 0h0m1-1h0m5-4h0m3 0h0m6 0h0m1 1h0m1 0h0m7 3h0m1-5h0m1 2h0m2 1h0m3-2h0m4 2h0m4 0h0m-89 4h0m6-1h0m5 3h0m17-1h0m4 1h0m1-2h0m5-1h0m13 1h0m1 0h0m0 0h0m1 1h0m0-2h0m1 2h0m2-1h0m-57 6h0m4 2h0m77 1h0m4-1h0m-60 8h0m1 1h0m6-5h0m12 5h0m18-3h0m16-3h0m10 5h0m-73 7h0m48-2h0m5-2h0m1 4h0m5-1h0m-54 5h0m19 1h0m3 0h0m44-2h0m2-3h0m24 1h0m1 2h0m7-1h0m-103 7h0m22-3h0m11 5h0m1 0h0m2-1h0m1-1h0m11 1h0m1 2h0m15-6h0m15 5h0m1-5h0" stroke="#31B7DD" stroke-width="3.10" stroke-linecap="round" fill="none"/>
<path transform="scale(.5)" d="M580 237h0m2 1h0m2 1h0m9 0h0m9-3h0m-26 8h0m2 0h0m1 1h0m1-1h0m0-2h0m0 0h0m0 2h0m4 1h0m0-1h0m3 0h0m1 2h0m0-4h0m1 3h0m2-4h0m1 4h0m2 1h0m1-3h0m0 1h0m4 0h0m6-3h0m0 2h0m-33 5h0m2 3h0m3-4h0m1-1h0m1 2h0m1 2h0m1-2h0m1 0h0m0 0h0m0-2h0m2 4h0m2 0h0m1 1h0m1 0h0m1-2h0m2 1h0m0 2h0m2-2h0m0 1h0m0 0h0m1-5h0m0 3h0m1 3h0m3-3h0m3 2h0m2-5h0m6 4h0m-227 7h0m81 0h0m9 1h0m5 0h0m19-1h0m43-1h0m37-2h0m1 0h0m3 1h0m2-2h0m0 1h0m1-1h0m1 2h0m3 1h0m0 1h0m1-3h0m2-1h0m2 2h0m1-2h0m5 2h0m-246 7h0m61-1h0m45 0h0m18-2h0m6 1h0m3 3h0m8-3h0m19 1h0m2-1h0m4 1h0m4-1h0m53-1h0m3 0h0m26 0h0m-242 11h0m40-6h0m27 1h0m6 1h0m13 3h0m2-4h0m11 2h0m26 0h0m39-2h0m2 1h0m-150 5h0m8 3h0m10-2h0m13 4h0m22-5h0m0 0h0m1 5h0m0 0h0m0-4h0m3 4h0m12 0h0m8-1h0m24-2h0m27 3h0m10-2h0m4-1h0m6-1h0m2-2h0m-176 11h0m28-4h0m7 5h0m2-6h0m3 6h0m12-3h0m33 2h0m0-4h0m25 1h0m1 3h0m3-1h0m0-1h0m9-2h0m2 3h0m20-3h0m-144 8h0m0-1h0m6 0h0m10-2h0m11 5h0m9 1h0m3-4h0m3 2h0m0 1h0m2 0h0m1 0h0m2 1h0m1-2h0m11 0h0m34-3h0m1 2h0m6 2h0m1 0h0m2-1h0m2 0h0m1-1h0m2-3h0m0 4h0m5 0h0m2-1h0m4 2h0m2-1h0m1 1h0m3-3h0m1-2h0m1 5h0m6 0h0m3-2h0m0-2h0m31 5h0m2-6h0m-158 11h0m4 0h0m1 1h0m16-4h0m1 0h0m0 3h0m6-1h0m5 1h0m2-1h0m0-3h0m1 3h0m5-1h0m1-1h0m2-1h0m1 1h0m7 3h0m0 0h0m3 0h0m2-5h0m0 1h0m5 3h0m1-2h0m1 0h0m7 3h0m4-3h0m2-1h0m3 4h0m6 1h0m0-1h0m0-4h0m4 1h0m0 2h0m0 2h0m0-5h0m2-1h0m4 5h0m0-3h0m3 3h0m0-2h0m2-2h0m1 3h0m1 0h0m5-2h0m4-2h0m1 1h0m0 2h0m0 1h0m2-1h0m4-2h0m2 1h0m8 1h0m0-1h0m1 0h0m2 1h0m0-1h0m2 1h0m12 2h0m4 0h0m-155 5h0m14 1h0m7-4h0m0 5h0m4-3h0m3 2h0m3-1h0m0 1h0m4-5h0m1 2h0m4-1h0m1 2h0m4-1h0m8 2h0m0-1h0m0-2h0m2 0h0m3-1h0m1 3h0m1 1h0m0 0h0m1-3h0m1 0h0m5 0h0m4 1h0m1-1h0m0 2h0m2 0h0m0 2h0m1-2h0m1-2h0m3 0h0m0 2h0m0-1h0m1 0h0m1 2h0m4-1h0m0-3h0m0 2h0m2 4h0m0-5h0m2 0h0m1 0h0m0 1h0m0-1h0m1 2h0m2-2h0m12 5h0m14-5h0m9 2h0m4-2h0m3 1h0m3-2h0m1 4h0m1 0h0m1-4h0m4 2h0m0 1h0m3-3h0m4 3h0m0 3h0m1-6h0m1 6h0m1-2h0m2 0h0m5 1h0m0-3h0m10 1h0m2 0h0m-171 8h0m0-1h0m4 0h0m0-2h0m2 3h0m7-2h0m1-3h0m0 5h0m0-4h0m4 2h0m6 0h0m5-2h0m103 2h0m2-2h0m1 1h0m1 0h0m0 2h0m1-1h0m1-1h0m0 4h0m0-1h0m1-4h0m1 0h0m1 1h0m1 0h0m0 0h0m1 3h0m2 1h0m1-3h0m0-2h0m0 3h0m3 1h0m0 0h0m0 0h0m1-3h0m4 0h0m1 3h0m2-2h0m1 3h0m1-5h0m0 3h0m1-1h0m4 3h0m2-2h0m1 1h0m20 0h0m1-2h0m-191 4h0m5 4h0m5-5h0m3 3h0m123-2h0m0 2h0m1 0h0m1 1h0m6-4h0m1 1h0m4 2h0m0 2h0m1-1h0m1-4h0m1 3h0m0 0h0m1-1h0m1 0h0m1 3h0m1-5h0m1 3h0m3 2h0m0-1h0m0-1h0m0-1h0m0-2h0m0 3h0m0 2h0m2-1h0m2 0h0m0 1h0m4-4h0m0 0h0m1 2h0m1 1h0m1-3h0m1 4h0m1-2h0m0 2h0m1-2h0m3-1h0m3 4h0m6-6h0m10 5h0m17-2h0m2 2h0m5 1h0m-233 1h0m5 0h0m2 4h0m4-3h0m4 0h0m8-2h0m129 2h0m2 0h0m1 2h0m0-1h0m1-2h0m2 0h0m0 1h0m1 0h0m2 0h0m3 0h0m1 2h0m0-2h0m1-1h0m2 3h0m0-3h0m0 0h0m0 0h0m0 1h0m0-1h0m1 4h0m1-5h0m1 4h0m1 0h0m1-3h0m2 1h0m0 2h0m1 1h0m0 1h0m0-1h0m2 0h0m0-1h0m1-1h0m0 3h0m2-1h0m0-2h0m2-1h0m1 1h0m1 2h0m4-1h0m0-4h0m0 2h0m3-1h0m0 0h0m1 0h0m0 0h0m1 1h0m0 2h0m3 2h0m0-2h0m1-3h0m2 5h0m1-6h0m1 6h0m0-1h0m0-2h0m1 3h0m0-4h0m1 2h0m1 1h0m3-5h0m7 5h0m2-3h0m12 3h0m-242 6h0m4-4h0m1 3h0m9-2h0m1 0h0m3-1h0m1 3h0m150-2h0m3-2h0m2 2h0m0 4h0m3-4h0m2 0h0m2 2h0m4-4h0m2 5h0m1 0h0m2-2h0m1 1h0m1-2h0m0 2h0m1-2h0m1 3h0m1-4h0m4 4h0m1-1h0m1-2h0m1-2h0m1 2h0m1 0h0m1 2h0m1 1h0m2-1h0m1-2h0m0 0h0m0 1h0m0 0h0m2 1h0m2 1h0m0-4h0m1 0h0m1 0h0m2 3h0m1 0h0m1 0h0m3 2h0m1-2h0m7-2h0m0-1h0m8 4h0m6-5h0m-249 12h0m0-5h0m8 1h0m2 3h0m2 0h0m2-1h0m169-1h0m6-2h0m2 1h0m2 3h0m2 0h0m1 1h0m2-1h0m2-1h0m1 1h0m3-2h0m1 0h0m0 2h0m0-3h0m2 1h0m0 0h0m2 3h0m0-2h0m0-1h0m1-2h0m1 4h0m1-4h0m1 0h0m1 5h0m2-3h0m0 2h0m1 1h0m0-2h0m1 0h0m0-2h0m0-1h0m0 5h0m1-4h0m1 2h0m2 0h0m3-2h0m2-1h0m1-1h0m10 2h0m0 2h0m2-1h0m4-3h0m-252 12h0m5-4h0m4 1h0m0-2h0m1 3h0m2 2h0m182-2h0m2-3h0m0 1h0m2 3h0m0-4h0m2 3h0m0-2h0m6-1h0m1 5h0m2-5h0m3 1h0m1 1h0m3-2h0m2 2h0m1 2h0m1-3h0m0-1h0m0 4h0m1-2h0m1 0h0m0-1h0m1 2h0m0 0h0m1-3h0m0-1h0m0 2h0m1 3h0m0-5h0m1 3h0m2 0h0m1-3h0m1 2h0m2 0h0m3-1h0m1 3h0m3-3h0m2 2h0m2-2h0m10 2h0m-443 4h0m21 0h0m165 0h0m7 5h0m0-5h0m2 4h0m4-3h0m188 2h0m1 2h0m1-3h0m1 0h0m2-1h0m0 0h0m0-1h0m0 1h0m1 3h0m4-2h0m0 3h0m2-4h0m1 3h0m1-3h0m2-1h0m3-1h0m1 4h0m0-3h0m2 1h0m1-2h0m2 3h0m6 3h0m2-4h0m1 0h0m1-1h0m0 0h0m0 1h0m2 0h0m1 1h0m3-3h0m0 5h0m1-5h0m1 6h0m1-2h0m1-1h0m3-2h0m0 4h0m0 1h0m3-3h0m2 3h0m8-2h0m-268 5h0m2 2h0m2-1h0m1-3h0m0 3h0m3-1h0m5-2h0m188 2h0m2 2h0m19-4h0m0 3h0m1-4h0m1 6h0m0-6h0m3 1h0m1 2h0m0-2h0m1 3h0m0-2h0m2 2h0m0 1h0m3-5h0m3 2h0m2 1h0m0 0h0m1-2h0m0 2h0m2-3h0m1 1h0m0 4h0m1 1h0m0-6h0m1 2h0m2 0h0m0-2h0m2 4h0m0-1h0m0 1h0m1-1h0m2-1h0m0 0h0m1-1h0m2 1h0m0 1h0m0 0h0m1 1h0m1 1h0m1-4h0m0 0h0m0 4h0m1 0h0m-270 7h0m10-5h0m5 0h0m140 4h0m12 1h0m45-2h0m7 2h0m1-1h0m4 1h0m0-1h0m10 0h0m0 1h0m4-4h0m5 1h0m3 0h0m0 0h0m2 1h0m0-3h0m2-1h0m1 2h0m2 1h0m2 0h0m0-3h0m0 1h0m1 5h0m1-2h0m2 1h0m0-2h0m4-1h0m2-1h0m1 4h0m0-4h0m0 0h0m1 1h0m0 3h0m1-3h0m0-2h0m2 4h0m1-4h0m0 2h0m1 1h0m0-3h0m3 3h0m4 2h0m1-4h0m1 4h0m-284 3h0m9 0h0m1-1h0m2 0h0m0 4h0m3-4h0m114 4h0m1 1h0m4-4h0m2 0h0m5-1h0m2 0h0m6-1h0m5 1h0m8 3h0m3 1h0m2 1h0m2-1h0m1-1h0m1-1h0m1-2h0m0 5h0m2-1h0m9 0h0m1 0h0m32-5h0m5 1h0m13 5h0m4-1h0m1-5h0m1 3h0m0 1h0m5 2h0m3-6h0m1 3h0m2-2h0m2 4h0m4-4h0m2 3h0m0 1h0m0-1h0m3-3h0m1 1h0m1 3h0m1-2h0m2-1h0m0 1h0m0 2h0m1-3h0m2-2h0m0 1h0m2 4h0m1-3h0m3-1h0m0 1h0m1 4h0m-272 5h0m2-5h0m118 4h0m1 2h0m0-4h0m1 2h0m1-4h0m3 5h0m2-4h0m2 5h0m0-2h0m1-3h0m0 5h0m8-2h0m2-4h0m5 0h0m1 1h0m1 3h0m2 1h0m3-3h0m6-1h0m9-1h0m1 3h0m2-1h0m0-2h0m2 0h0m3 5h0m3-4h0m7 1h0m3 3h0m2 0h0m24 0h0m4-1h0m1 0h0m7-1h0m5 0h0m6 2h0m1-4h0m2 1h0m3 2h0m0-3h0m5 0h0m2 3h0m0 1h0m0-2h0m1 0h0m1 2h0m0 0h0m0-2h0m1-1h0m1 3h0m0-1h0m1 2h0m0-2h0m0-4h0m1 2h0m0 2h0m0 1h0m1-1h0m0-1h0m1-3h0m1 5h0m0-4h0m0 4h0m1-5h0m0 0h0m1 1h0m1 4h0m1 1h0m0-6h0m0 0h0m1 1h0m1 2h0m0 2h0m1 1h0m0-3h0m3 1h0m1 0h0m2 0h0m1-3h0m4 5h0m-283 5h0m1-2h0m3 2h0m2 0h0m116 0h0m1 0h0m0 0h0m1-1h0m0-3h0m7 0h0m15 0h0m26 2h0m5-1h0m4 3h0m0 1h0m3-4h0m1 3h0m8-5h0m3 2h0m2 3h0m1-4h0m18 0h0m1-1h0m2 3h0m1 1h0m0 0h0m2-2h0m2 2h0m1-3h0m3 2h0m1 0h0m2 2h0m1-3h0m1 2h0m2 0h0m3-1h0m1 3h0m4-3h0m0 0h0m1 1h0m7 1h0m3-2h0m2 0h0m1 1h0m0 2h0m1-5h0m0 0h0m1 5h0m1-4h0m0 0h0m1 2h0m2 1h0m1-2h0m0 1h0m4-1h0m0-2h0m0-1h0m0 3h0m0 0h0m3 0h0m1 2h0m1-1h0m1 1h0m1 1h0m0-5h0m0 5h0m0-3h0m1-1h0m0 1h0m2 2h0m2-4h0m2 5h0m-283 2h0m3-2h0m107 5h0m3 0h0m3-1h0m3 2h0m0-1h0m0-4h0m1 2h0m4 1h0m0 1h0m2-4h0m1 0h0m3 0h0m59-1h0m2 0h0m10 0h0m0 1h0m7 2h0m2-3h0m0 4h0m1-2h0m0 3h0m0-3h0m14-1h0m1 3h0m1-1h0m4-2h0m0 3h0m4 0h0m0-3h0m5 5h0m0-5h0m1 2h0m1-2h0m2 1h0m0-2h0m7 3h0m3 2h0m2-2h0m0-1h0m2 2h0m0-1h0m0 3h0m1-3h0m0-2h0m0 4h0m0 0h0m3-4h0m0 1h0m2 0h0m1 1h0m1 0h0m0 1h0m1 0h0m1-4h0m1 0h0m1 5h0m2-4h0m1 0h0m0 3h0m3-1h0m0 0h0m2 0h0m0-2h0m1 3h0m0-2h0m1 1h0m0-2h0m1-1h0m2 1h0m-284 10h0m1-4h0m1 2h0m0 0h0m2-2h0m1-1h0m102 5h0m0-1h0m3-1h0m3-1h0m1 4h0m2-3h0m1-1h0m3 1h0m70-2h0m21 3h0m1-3h0m1 1h0m0 2h0m9-3h0m1 3h0m4-2h0m7 1h0m2-3h0m1 4h0m8-3h0m5 3h0m3 0h0m2-2h0m3 3h0m0 0h0m0-5h0m1 0h0m2 3h0m1 1h0m1-4h0m0 5h0m1-1h0m2 0h0m0 2h0m1-3h0m0 1h0m1-2h0m1 4h0m0-2h0m0 0h0m2-2h0m2 2h0m0 1h0m2-3h0m4-2h0m-284 6h0m1 2h0m6 0h0m1 4h0m1-3h0m104 0h0m1-2h0m1 5h0m1-5h0m5 5h0m3-4h0m92 1h0m8 0h0m3 3h0m0-1h0m3 0h0m1-2h0m3 3h0m3-1h0m3-1h0m5 2h0m5-4h0m3 1h0m9 2h0m2-4h0m0 2h0m1-2h0m3 0h0m0 4h0m2-1h0m4 1h0m0-2h0m0 1h0m3-1h0m2 0h0m4 3h0m1-1h0m1 0h0m0-4h0m-286 9h0m1-1h0m2 1h0m3-1h0m1-3h0m1 4h0m0 1h0m0-2h0m0-1h0m98 0h0m2-1h0m1 2h0m1-3h0m1 3h0m1-2h0m4 4h0m0 1h0m92-6h0m9 1h0m2 3h0m2-2h0m2 4h0m1-5h0m2 4h0m7-3h0m3 1h0m1 1h0m2 0h0m0-2h0m1 3h0m8-2h0m1 2h0m5-5h0m2 2h0m6 0h0m0-1h0m3 2h0m0-2h0m2 5h0m0-6h0m2 3h0m1-1h0m1 0h0m0 1h0m0 1h0m1-1h0m1 2h0m1 0h0m0-3h0m1 3h0m5-2h0m0-2h0m4 0h0m0 0h0m1 0h0m2 2h0m3-1h0m-291 4h0m0 2h0m2-1h0m3 0h0m2 1h0m3 1h0m93-2h0m1 3h0m0 1h0m2 0h0m2 0h0m105-5h0m2 4h0m2 1h0m7-2h0m4 0h0m9-3h0m6 4h0m7-3h0m3-1h0m2 2h0m0 1h0m1 0h0m2-2h0m2 0h0m0 1h0m1-1h0m1-1h0m3 1h0m0-1h0m1 2h0m2-1h0m3 2h0m3-2h0m2 1h0m12-1h0m1-1h0m1 2h0m-288 4h0m3 6h0m2-2h0m0-3h0m0 4h0m1-2h0m88 2h0m7-3h0m9 0h0m99 1h0m11-3h0m5 0h0m58 5h0m-284 6h0m2-4h0m3 3h0m0 2h0m2-2h0m83 2h0m1-2h0m1 0h0m1 1h0m2 1h0m2-6h0m0 2h0m1 1h0m3 3h0m1-1h0m4-3h0m141 2h0m-246 3h0m0 0h0m2 0h0m1 0h0m2 2h0m78 2h0m2 0h0m3-1h0m1 0h0m0-1h0m1 0h0m0-2h0m1 2h0m0 0h0m5 2h0m0 0h0m2 1h0m1-5h0m1 1h0m2 0h0m140 0h0m-244 9h0m0-4h0m1 1h0m2-2h0m0 1h0m4 1h0m1-1h0m30 4h0m8-1h0m3 0h0m9-2h0m1 3h0m4-2h0m1-1h0m2 0h0m2 1h0m2 2h0m11 0h0m1-5h0m4 1h0m0 1h0m2 1h0m3-1h0m2 1h0m1-1h0m2-1h0m128 4h0m-223 2h0m3 1h0m13 0h0m4 3h0m0-2h0m6 1h0m1-1h0m0 1h0m0 0h0m8 1h0m0 0h0m0-2h0m2-1h0m4-1h0m1 3h0m5 0h0m1-3h0m4 2h0m2-2h0m1 0h0m10 0h0m4 1h0m6-1h0m5 1h0m0 0h0m3 0h0m-78 4h0m2 6h0m3-5h0m2-1h0m3 5h0m2-5h0m0 4h0m0-3h0m7 0h0m3 2h0m10 0h0m0 1h0m14-4h0m3 2h0m0 4h0m18-5h0m3 0h0m-75 5h0m1 3h0m1-2h0m1 0h0m0 1h0m4 1h0m2-1h0m1-1h0m1-1h0m1 1h0m0 4h0m1-2h0m2-2h0m11 0h0m2 0h0m203 1h0m21-1h0m34 1h0m-291 10h0m0-2h0m6 1h0m2-1h0m5-1h0m2-2h0m3-1h0m11 4h0m101-3h0m134 2h0m-261 6h0m3 1h0m7-4h0m0 4h0m199-2h0m75 4h0m-252 1h0m53 4h0m88-4h0m22 1h0m59 0h0m-257 8h0m1 0h0m3-1h0m1 3h0m2-1h0m1 1h0m31-4h0m29 0h0m12 2h0m92 1h0m48-1h0m46-4h0m26 4h0m-287 5h0m0-3h0m156 4h0m54-3h0m78 2h0m-270 8h0m7-1h0m110 0h0m1-2h0m57 1h0m-85 3h0m22 3h0m73 3h0m34-3h0m57-1h0m-291 4h0m22 4h0m8 0h0m156-1h0m29-2h0m-127 5h0m76 3h0m72-2h0m29 3h0m7-2h0m12 3h0m-258 5h0m14 1h0m57-1h0m1 1h0m38-3h0m100 2h0m15 1h0m-108 5h0m31 1h0m80-4h0m-219 5h0m1 5h0m18-4h0m66 5h0m158-6h0m-167 9h0m23 0h0m55-2h0m23 7h0m3-1h0m-133 14h0m14 7h0m58 0h0m41 2h0m46-5h0m25 1h0m-164 6h0m72 4h0m36-6h0m5 3h0m-71 4h0m19 2h0m39-2h0m3 9h0m65-4h0m1 5h0m-113 4h0m34-3h0m17 4h0m25 0h0m10-2h0m-11 5h0m13 2h0m2 2h0m9-2h0m-7 4h0m-31 5h0m23 5h0" stroke="#D99136" stroke-width="3.10" stroke-linecap="round" fill="none"/>
<path transform="scale(.5)" d="M319 431h0m13-1h0m1 2h0m14-1h0m4 0h0m10-2h0m6 2h0m0-1h0m11-3h0m4 5h0m1-3h0m3 2h0m-78 6h0m6-1h0m2 2h0m3-3h0m1 1h0m1-2h0m2 1h0m4 3h0m0-1h0m0-1h0m0 2h0m1-1h0m0 1h0m2-4h0m2 3h0m6-1h0m7-2h0m0 1h0m3 2h0m0-3h0m3 2h0m2 2h0m1-3h0m4 0h0m1-2h0m1 1h0m5 3h0m0 1h0m0-4h0m2 3h0m1-1h0m2 0h0m1 0h0m0-2h0m0 4h0m3-3h0m2-3h0m1 3h0m1-3h0m2 1h0m1 2h0m4-2h0m2 5h0m1-1h0m0 1h0m6-3h0m4-1h0m12 0h0m-104 6h0m3 3h0m1-4h0m3 4h0m1-2h0m2-1h0m3 2h0m1-4h0m3 0h0m1 4h0m2-1h0m5-1h0m9-1h0m2-1h0m4 1h0m8 0h0m2 0h0m8 0h0m5 0h0m2 1h0m1 0h0m2 0h0m4-1h0m5 3h0m2-2h0m1-2h0m0 2h0m2 2h0m0-1h0m2 0h0m1 2h0m2-4h0m3 2h0m2 0h0m3 3h0m1-2h0m1-4h0m1 5h0m0 0h0m0 1h0m3-1h0m1-5h0m1 2h0m6-1h0m5 4h0m0 0h0m4 0h0m11-3h0m2 2h0m10 1h0m-143 5h0m1-2h0m2 0h0m0 3h0m1-1h0m3-3h0m88 0h0m10 0h0m4 0h0m6 2h0m1-1h0m2-1h0m2 2h0m2 1h0m1-1h0m1-2h0m1 2h0m1 0h0m3 3h0m3-3h0m2 1h0m2 1h0m1-2h0m0 0h0m3 1h0m0-1h0m1 2h0m2-3h0m7 1h0m-159 6h0m8-3h0m139 0h0m3 1h0m2 2h0m1 1h0m0-4h0m1 3h0m0 1h0m3 1h0m3-1h0m4 1h0m1 1h0m1-4h0m-168 7h0m1-1h0m3 2h0m160-4h0m2 1h0m2 3h0m1-4h0m1 5h0m0-5h0m1 5h0m-174 6h0m2-2h0m5 0h0m1 2h0m163-5h0m2 4h0m1-3h0m2 4h0m-173 5h0m0-2h0m1-2h0m2 0h0m0 5h0m1 0h0m0 1h0m0-5h0m168 1h0m5 4h0m0-5h0m-180 8h0m1-1h0m175 0h0m2 2h0m0-2h0m1-2h0m0 5h0m4 0h0m1-3h0m2 2h0m-184 5h0m0 2h0m3-1h0m172 0h0m2-4h0m1 2h0m3 1h0m-186 8h0m2-3h0m3 1h0m2 1h0m1 2h0m173-4h0m1 0h0m1-1h0m4 0h0m-185 8h0m5-2h0m1 1h0m1 1h0m174-1h0m0 2h0m4-2h0m0-1h0m-180 7h0m4 1h0m171 2h0m6-5h0m1 3h0m2 0h0m0-2h0m-187 7h0m3-2h0m2 1h0m2 4h0m1-5h0m0 3h0m2 0h0m168 3h0m4-1h0m-179 3h0m4-1h0m1 3h0m4-1h0m0 1h0m2-2h0m0-1h0m0-1h0m0 5h0m1 1h0m1-2h0m161 1h0m-167 1h0m2 1h0m9 5h0m157-4h0m2-1h0m-166 6h0m5 5h0m1-4h0m0-1h0m3 3h0m2-3h0m3 0h0m0 1h0m0 1h0m1 2h0m2-1h0m3 2h0m0-1h0m128 0h0m0 0h0m4 0h0m1 0h0m0 1h0m1-4h0m-133 5h0m2 5h0m1-5h0m1 3h0m1-1h0m1 1h0m0-1h0m0 0h0m116 3h0m1-2h0m0 2h0m1-2h0m0-2h0m2 2h0m3 1h0m0-4h0m4 4h0m3-4h0m-140 5h0m9 1h0m1-1h0m1 5h0m3-4h0m2 2h0m1 1h0m6 0h0m0 1h0m1-2h0m3 1h0m2 0h0m88 1h0m3-1h0m1 0h0m-104 6h0m1-2h0m5 0h0m0 0h0m1 0h0m1 0h0m1 3h0m3-1h0m7 2h0m1-4h0m3 0h0m3 1h0m1 1h0m5 1h0m4 0h0m4 0h0m50 1h0m3-2h0m2 0h0m3 0h0m0-2h0m6 0h0m-85 6h0m3 1h0m2-2h0m2-1h0m4 1h0m0 0h0m6-1h0m2 2h0m0-1h0m2 4h0m0-5h0m4 5h0m0-5h0m1 3h0m1-2h0m2 0h0m1 4h0m0-1h0m1 0h0m4-2h0m0 0h0m1 2h0m1 1h0m0-2h0m6 1h0m1 0h0m4-1h0m4 1h0m4-2h0m1 2h0m0 0h0m2 0h0m1-3h0m1 2h0m0-2h0m1 1h0m1 3h0m6-2h0m10-2h0m2 2h0m6-2h0m-83 6h0m10 1h0m3 2h0m5 1h0m1-5h0m2 5h0m0-3h0m3 0h0m2 1h0m3 0h0m0-2h0m2 1h0m3 1h0m1 2h0m1-4h0m4 4h0m3-2h0m5 0h0m0 1h0m1-4h0m0 5h0m6-5h0m0 0h0m-32 9h0m17 1h0" stroke="#F07B72" stroke-width="3.10" stroke-linecap="round" fill="none"/>
<path transform="scale(.5)" d="M525 393h0m7-1h0m11 4h0m8-4h0m6 1h0m4 2h0m1-1h0m3 1h0m2 1h0m-47 6h0m13 0h0m4 0h0m8-4h0m1 3h0m8-2h0m5 0h0m0 0h0m1 2h0m1 0h0m1 0h0m3-1h0m1 1h0m0-4h0m6 4h0m1-3h0m19 2h0m4-2h0m1-1h0m5 0h0m-83 9h0m1 2h0m1 0h0m7-5h0m0 1h0m1 2h0m0 0h0m6 0h0m3-2h0m0 1h0m8-2h0m17 3h0m2-3h0m2 1h0m6 2h0m1 0h0m1 1h0m1 1h0m15-5h0m14 2h0m-99 9h0m5-4h0m2 3h0m2-3h0m2 0h0m4 1h0m2-1h0m5-2h0m40 1h0m3 0h0m3 2h0m1 0h0m0-2h0m1 2h0m2-2h0m0 4h0m3-1h0m1-2h0m1 2h0m0-4h0m1 2h0m13 0h0m1-1h0m0-1h0m3 1h0m-103 7h0m3 3h0m4-1h0m5-3h0m0 4h0m1-3h0m2 1h0m0 0h0m2-1h0m2 1h0m1 0h0m67 0h0m0-2h0m2 0h0m0 0h0m2 2h0m0-1h0m6 2h0m1 0h0m0-3h0m-102 8h0m0 1h0m3-3h0m1 0h0m1 5h0m0-3h0m1 1h0m0 1h0m5 1h0m2-2h0m0-2h0m1 3h0m54 0h0m13-3h0m8-2h0m3 1h0m0 2h0m1-2h0m1 3h0m0 1h0m1-3h0m2 1h0m11-2h0m1 3h0m-113 4h0m1 3h0m1-5h0m1 2h0m3 3h0m2-3h0m2 1h0m78 1h0m9 1h0m3-3h0m1 0h0m0 3h0m2-1h0m2-2h0m0 2h0m1-1h0m1-1h0m1 3h0m1-3h0m3 3h0m3 0h0m-124 5h0m4-1h0m2-1h0m1 3h0m0-2h0m0 0h0m7-2h0m80 2h0m17-2h0m5 0h0m0 0h0m0 2h0m2 2h0m1 0h0m1-2h0m-134 6h0m5 2h0m2-2h0m0-2h0m2-1h0m1 2h0m1 1h0m1 1h0m1-1h0m0 1h0m87-4h0m3 3h0m9-3h0m4 3h0m8 0h0m4-3h0m1 2h0m0 0h0m2 4h0m1-2h0m-129 4h0m0-2h0m1 1h0m3 4h0m1 1h0m1-2h0m2-2h0m86-2h0m9 4h0m6 1h0m0 1h0m12-3h0m1 1h0m1 0h0m1 0h0m1-3h0m1 0h0m1 5h0m2-5h0m4 0h0m2 4h0m2-5h0m-139 12h0m4-3h0m91 2h0m5-2h0m4 0h0m7 2h0m13 0h0m0-3h0m1 4h0m1-5h0m0 3h0m1 0h0m0-1h0m1 1h0m0-1h0m1-2h0m4 4h0m-134 3h0m1-1h0m7 4h0m88-2h0m2 3h0m7-2h0m5-1h0m7 3h0m4-1h0m2-4h0m1 5h0m2-4h0m2-1h0m1 5h0m2-3h0m2 0h0m-135 6h0m5-2h0m1 4h0m4-3h0m1 0h0m1 4h0m0-3h0m1 2h0m90-4h0m7 1h0m2 1h0m10 0h0m2-3h0m6 2h0m1 3h0m2 0h0m5 1h0m-129 5h0m110 1h0m2-6h0m1 6h0m0 0h0m3-2h0m1 2h0m0 0h0m2-2h0m8-4h0m-130 7h0m2 2h0m3 2h0m1-5h0m1 2h0m1-1h0m0 4h0m104-3h0m2 2h0m1 1h0m2-4h0m1 0h0m0 3h0m5-3h0m-122 7h0m5 2h0m108-2h0m1 2h0m-114 6h0m3-2h0m3 2h0m0 2h0m101-1h0m2-5h0m1 1h0m4-1h0m2 4h0m0 2h0m0-2h0m-119 5h0m3 2h0m4 1h0m0-5h0m1 3h0m0 1h0m2 1h0m94 0h0m1-3h0m1 3h0m-106 5h0m7-4h0m2 0h0m94 0h0m0 0h0m1 1h0m3 3h0m1-2h0m2 1h0m0 1h0m4-4h0m-110 7h0m6 1h0m0-2h0m88 5h0m1-4h0m1 1h0m5-2h0m-101 6h0m6 2h0m1 2h0m2-4h0m73 4h0m1 1h0m4-1h0m3-2h0m1 1h0m2 1h0m0 0h0m8-3h0m0 0h0m-94 9h0m0-1h0m54 2h0m1 0h0m1-1h0m1-1h0m0 2h0m0 0h0m2-3h0m1 2h0m3-3h0m0 3h0m2 0h0m2 0h0m0-1h0m1 0h0m0-2h0m0-2h0m1 1h0m2 4h0m2-4h0m6 0h0m3-1h0m-76 10h0m4-1h0m2 1h0m1-2h0m1 2h0m11-1h0m4 1h0m0 2h0m2-4h0m1 3h0m3 1h0m1-3h0m1 0h0m1-2h0m1 2h0m1 1h0m0 2h0m4-1h0m0-4h0m7 2h0m2 3h0m3-1h0m0-3h0m5 2h0m3-4h0m1 3h0m2-2h0m4 2h0m4 0h0m0 0h0m-67 4h0m1 2h0m2-1h0m1 1h0m3 1h0m4-2h0m0 0h0m2-2h0m11 2h0m3-1h0m3 3h0m1-1h0m3-3h0m2 2h0m0-1h0m7 2h0m7-1h0m6-2h0" stroke="#ADA340" stroke-width="3.10" stroke-linecap="round" fill="none"/>
<path transform="scale(.5)" d="M562 252h0m4 2h0m5 3h0m1-2h0m3 3h0m5-1h0m-18 7h0m1 0h0m3-4h0m1 0h0m2 0h0m0 4h0m7-4h0m-20 5h0m2 3h0m2-1h0m1 0h0m2 1h0m0-3h0m0 3h0m1-2h0m1 2h0m1-1h0m0-2h0m1 3h0m0 0h0m1-1h0m0 2h0m1-4h0m0 3h0m1 1h0m1 0h0m0-3h0m0 3h0m1 0h0m1 1h0m0-3h0m1-2h0m0 2h0m1-1h0m0 4h0m4-1h0m-17 2h0m0-1h0m3 1h0m2 0h0m1 0h0m1 0h0m0 2h0m0-1h0m0 0h0m2 1h0m1 0h0m0 0h0m8 2h0m-14 6h0m1-5h0m1 1h0m1 4h0m4 4h0m-32 235h0m19 1h0m5-1h0m-41 7h0m11-2h0m7 3h0m1-1h0m3-1h0m1 1h0m2-2h0m2 2h0m4 0h0m1 1h0m5-1h0m5-2h0m3-1h0m0-1h0m-133 10h0m23 1h0m5-3h0m4 1h0m3-1h0m5 2h0m13-5h0m9 4h0m4 0h0m2 0h0m7 0h0m1-2h0m8 2h0m4 1h0m2 0h0m2-2h0m3 2h0m0-2h0m1 3h0m3 0h0m1-3h0m2 2h0m3 0h0m0 0h0m1 1h0m1-4h0m1-2h0m1 3h0m1 1h0m0 1h0m2-4h0m1 2h0m1 2h0m1 0h0m1-1h0m2-2h0m3 3h0m1-3h0m3 1h0m1-2h0m1 3h0m0 0h0m1-3h0m2 0h0m2 0h0m1 4h0m4-3h0m-131 6h0m0 0h0m1 3h0m4 0h0m2-1h0m10 1h0m1-2h0m1-2h0m1 2h0m0 3h0m0-3h0m4-2h0m2 4h0m2-2h0m0 1h0m1 2h0m0-4h0m0-1h0m2 1h0m0 2h0m1 0h0m4 1h0m0-4h0m1 3h0m1-2h0m4 3h0m1-2h0m5-1h0m1-1h0m4 4h0m1-1h0m0 2h0m1-5h0m1 0h0m1 1h0m1-2h0m0 2h0m1 3h0m2-3h0m2-1h0m0 3h0m2-3h0m0 2h0m3 0h0m2-1h0m1 2h0m2-1h0m4 2h0m3-3h0m0-1h0m1 2h0m0-1h0m1 2h0m2-3h0m1 4h0m1-5h0m2 2h0m1-1h0m3-1h0m1 3h0m1-2h0m2 1h0m5-1h0m6-1h0m16 4h0m6 1h0m4-3h0m0 2h0m-137 6h0m0-1h0m0-2h0m1 0h0m1 4h0m5-3h0m1-2h0m0 2h0m1 3h0m1-3h0m0 1h0m7 1h0m1-3h0m1 1h0m3 1h0m0 1h0m17-4h0m3 2h0m3 1h0m0-2h0m4 2h0m3-1h0m3 0h0m4 0h0m1 0h0m3 0h0m2-2h0m4 0h0m3 0h0m0 1h0m60 1h0m2 4h0m2-1h0m0-2h0m-153 5h0m3 3h0m3-3h0m1 3h0m1-1h0m1 2h0m1-6h0m1 2h0m1 0h0m0 1h0m1-1h0m3-1h0m132 4h0m2-1h0m6 1h0m-154 5h0m2-1h0m0 1h0m2 1h0m4-5h0m0 4h0m9 0h0m4 2h0m125-1h0m1-1h0m12 2h0m-156 1h0m12 4h0m0-4h0m2 0h0m2 4h0m0-3h0m3 3h0m0-3h0m1 3h0m0-5h0m1 3h0m3 2h0m1 1h0m2-1h0m3-1h0m1 0h0m0 1h0m112 0h0m5-4h0m0 2h0m0 3h0m1-3h0m2-1h0m1 2h0m-132 6h0m1-2h0m3-1h0m3 5h0m6-3h0m4 1h0m0 0h0m1-3h0m0 1h0m1 1h0m1-1h0m0 1h0m3-1h0m2 4h0m1 0h0m7-1h0m0 0h0m1 0h0m2 0h0m90 0h0m1-5h0m0 2h0m3 0h0m1-1h0m0 1h0m1 3h0m-129 3h0m6 3h0m8-5h0m1 3h0m1 0h0m1 2h0m7 0h0m3-4h0m1 2h0m3 1h0m1-1h0m1 2h0m1-4h0m2-1h0m2 3h0m0-1h0m4 0h0m1 2h0m3 0h0m0 2h0m1-3h0m6 2h0m69-4h0m4 3h0m0 1h0m1-4h0m1 2h0m0-2h0m6 2h0m-120 4h0m5-1h0m1 5h0m10-1h0m3-1h0m6 0h0m1-1h0m0 2h0m1-1h0m2 1h0m1-3h0m0 0h0m1 3h0m1-3h0m0 1h0m2 2h0m2 0h0m6-1h0m1 1h0m1-1h0m2 2h0m4-3h0m0 3h0m1-1h0m0 1h0m0-3h0m0 1h0m1 3h0m3-3h0m1 1h0m13 2h0m30-1h0m4-2h0m2-3h0m1 4h0m4-2h0m3 1h0m-87 3h0m5 0h0m1 1h0m0 2h0m2-2h0m6 4h0m5-3h0m9 3h0m2 0h0m0-3h0m1-1h0m2 1h0m1-1h0m1 1h0m0 1h0m3 0h0m1-1h0m2-1h0m2 2h0m0-2h0m1 3h0m2-2h0m0 0h0m2-1h0m2 3h0m1-2h0m2 1h0m7 0h0m0-1h0m2-2h0m0 2h0m2 0h0m1 1h0m0-3h0m3 1h0m0 1h0m2 1h0m0 3h0m1-5h0m3 0h0m5 4h0m13-4h0m-77 7h0m3 1h0m16-1h0m3 2h0m1-4h0m1 0h0m3 3h0m6-2h0m1 2h0m2-2h0m2 1h0m2 0h0m0 2h0m6-2h0m3 2h0m2-2h0m8-2h0" stroke="#4F9BD5" stroke-width="3.10" stroke-linecap="round" fill="none"/>
<path transform="scale(.5)" d="M567 279h0m-22 10h0m30 4h0m-70 6h0m17-1h0m-15 3h0m1 5h0m6-5h0m44 5h0m0-1h0m18-3h0m-66 5h0m2 5h0m3 0h0m4-1h0m2-4h0m2 2h0m1 1h0m25-2h0m19 1h0m12 2h0m-73 5h0m8 1h0m9-4h0m2 3h0m2-2h0m4 0h0m5-1h0m4 4h0m2-3h0m7 2h0m17-2h0m7-2h0m1 1h0m3 4h0m1-2h0m6 1h0m8-1h0m8 0h0m-86 6h0m5-1h0m1 1h0m4-3h0m3 0h0m21 1h0m0 2h0m1 0h0m5-1h0m3-1h0m1 1h0m5-2h0m1 5h0m2-4h0m0 3h0m1-1h0m3 0h0m3 2h0m1-3h0m1 0h0m1 3h0m1-2h0m5-2h0m1 4h0m2-1h0m1-2h0m1 0h0m0-1h0m9 3h0m9-1h0m-88 7h0m3 0h0m1-1h0m3 0h0m1 0h0m0-3h0m1 2h0m14 0h0m3 0h0m3 3h0m9-4h0m2 4h0m3-3h0m4-1h0m5 1h0m3 1h0m1-3h0m0 5h0m1 0h0m2-3h0m8-1h0m1 2h0m1-1h0m0 3h0m6 0h0m7-3h0m3-1h0m-66 6h0m9 1h0m2 2h0m4-3h0m4 4h0m6-3h0m1 3h0m4-3h0m2 2h0m1-1h0m1 3h0m12-1h0m6-1h0m2-3h0m1 2h0m1-1h0m1 0h0m2 3h0m0-1h0m2-2h0m2 2h0m3-3h0m1 2h0m0-2h0m0 4h0m-76 5h0m14-3h0m3-1h0m1 4h0m0 2h0m4-2h0m1-2h0m0 0h0m4-1h0m1 3h0m1-3h0m1 2h0m1-1h0m7 1h0m2-2h0m0 4h0m3 0h0m4-2h0m7 2h0m7-3h0m3 1h0m7 2h0m2-1h0m0-3h0m4 4h0m0 0h0m0 0h0m-61 6h0m5-4h0m5 1h0m1 0h0m10 2h0m1 0h0m1-3h0m0 3h0m2 0h0m1 1h0m1-1h0m0 1h0m4-5h0m0 4h0m2-2h0m0 1h0m8-2h0m16 0h0m3 1h0m1-1h0m0 4h0m0-1h0m2-2h0m0-1h0m1 3h0m0 0h0m1 0h0m0-3h0m-60 6h0m8-1h0m3 1h0m0 0h0m4 3h0m3-2h0m3 1h0m3-2h0m0 0h0m5 3h0m0 2h0m10-5h0m15 1h0m0 1h0m4-1h0m7 2h0m5 1h0m-90 5h0m18 0h0m12-2h0m3 1h0m1 0h0m5 1h0m7 1h0m2-1h0m2-2h0m1 0h0m26 1h0m2 0h0m2-3h0m2 2h0m0 3h0m1-2h0m-55 5h0m3 3h0m3-2h0m4 1h0m2-1h0m2 1h0m2 2h0m1-2h0m1 2h0m0-3h0m1 0h0m1 1h0m0-2h0m0 3h0m1 1h0m1-3h0m0 2h0m0-2h0m4-2h0m26 2h0m2-1h0m-61 7h0m9 1h0m6-1h0m5 3h0m1-3h0m2 2h0m2-2h0m4-3h0m0 2h0m1 1h0m1 0h0m1-1h0m28 2h0m3-2h0m0 3h0m6 0h0m0-3h0m-65 7h0m12-2h0m2 1h0m1 2h0m2-1h0m4 1h0m1 1h0m0-1h0m1-3h0m5-1h0m1 1h0m2 2h0m25 2h0m0-2h0m1 0h0m5 2h0m2-4h0m1 4h0m9-1h0m-91 6h0m15-3h0m12 5h0m15-4h0m7 0h0m1 0h0m24-1h0m0 1h0m1 1h0m0 1h0m1 0h0m3 1h0m2-1h0m2 0h0m-64 3h0m4 3h0m0-4h0m5 0h0m2 2h0m0 4h0m8-1h0m7-5h0m2 2h0m0 0h0m4-1h0m23 1h0m1 3h0m2-5h0m2 2h0m-54 4h0m1 6h0m16-3h0m2-3h0m2 5h0m1-2h0m2-3h0m0 2h0m1 3h0m1 0h0m1-2h0m1-3h0m0 4h0m0 0h0m3 2h0m0-1h0m17-4h0m2 4h0m0-5h0m0 2h0m1-1h0m1 2h0m4-1h0m-56 8h0m22 2h0m1-6h0m0 3h0m1 1h0m1 1h0m3 1h0m0-3h0m1 1h0m3 1h0m1 0h0m20 0h0m1 0h0m1-1h0m0-3h0m4 5h0m-39 2h0m6 0h0m1 2h0m4 0h0m1-1h0m3-2h0m0-1h0m0 4h0m1 0h0m0-1h0m2 3h0m11-3h0m3 2h0m1-5h0m5 3h0m5-2h0m-36 9h0m4-2h0m2-1h0m2 3h0m1-1h0m1-2h0m0 3h0m1-2h0m2 2h0m4-1h0m0-1h0m1 3h0m0-2h0m1 0h0m1-1h0m2 0h0m0 2h0m2-3h0m0-1h0m3 6h0m1-5h0m0 5h0m-22 0h0m5 1h0m0 0h0m3 3h0m2 1h0m1-5h0m2 3h0m1 0h0m1-1h0m1 3h0m0-4h0m1 1h0m1 1h0m3 0h0m-17 8h0m0-2h0m2-1h0m4-1h0m0 4h0m2-1h0m3-2h0m0 4h0m-15 4h0m0-3h0m2 0h0m3 1h0m0 2h0m3 0h0m1-3h0m8 2h0m-18 6h0m3 1h0m3 2h0m3-5h0m-2 8h0m0-2h0m1 2h0m2-3h0m1 4h0" stroke="#C273AF" stroke-width="3.10" stroke-linecap="round" fill="none"/>
<path transform="scale(.5)" d="M458 362h0m-17 7h0m2 3h0m3-1h0m1 0h0m5-2h0m0 1h0m0 0h0m2-2h0m1 4h0m2 0h0m1-5h0m0 3h0m0-2h0m3 4h0m0-1h0m2 1h0m2-1h0m3-4h0m1 2h0m1 0h0m1 0h0m0 2h0m2-1h0m1 1h0m-43 5h0m2 0h0m0-2h0m1 1h0m1-1h0m1-1h0m0 4h0m2 0h0m0 1h0m1-4h0m1-1h0m4 4h0m2 0h0m1-2h0m1 1h0m1-1h0m2-1h0m8 0h0m1-2h0m1 3h0m9-1h0m1 2h0m1-3h0m0 0h0m0 2h0m1-1h0m2 1h0m1-1h0m2 2h0m-52 6h0m2 0h0m7-3h0m3 0h0m34 0h0m3-1h0m2 4h0m1 0h0m4 2h0m0-1h0m0 0h0m0-2h0m4-3h0m1 1h0m-68 6h0m6 1h0m3 3h0m1-1h0m4 0h0m0 0h0m2-2h0m48 3h0m2-4h0m5 4h0m-73 6h0m0-4h0m1 1h0m2 1h0m0 2h0m1 1h0m3-3h0m1 0h0m1 1h0m61-2h0m0 3h0m1-1h0m6-4h0m-85 10h0m2 2h0m7-5h0m1 3h0m1 0h0m1-2h0m0 1h0m2-1h0m1 2h0m63-1h0m1 3h0m1-1h0m2-3h0m0 2h0m0-4h0m-80 7h0m1-1h0m1 2h0m0 0h0m4 2h0m1-3h0m1 5h0m1-1h0m0-3h0m0-2h0m65 4h0m0-1h0m0 0h0m0 0h0m3 1h0m2-1h0m3 2h0m1-2h0m0-3h0m-88 9h0m3-1h0m1-1h0m1 5h0m6-4h0m72 2h0m0-2h0m-89 9h0m1-1h0m2 0h0m5-3h0m1 4h0m2 1h0m62-1h0m2-1h0m3 1h0m1-1h0m0-1h0m1 1h0m2 1h0m1 1h0m0-3h0m1-2h0m3 5h0m2-3h0m-93 8h0m3 0h0m1 1h0m2-4h0m1-1h0m0 3h0m1 2h0m0 0h0m1-3h0m3-1h0m15 4h0m7 0h0m23-1h0m0 0h0m1 0h0m4-2h0m3 1h0m2 0h0m4 1h0m0-4h0m1 0h0m4 2h0m4-1h0m2 1h0m1-3h0m0 4h0m3-2h0m1 2h0m-93 5h0m6 1h0m2-3h0m0 4h0m1-5h0m1 3h0m0-2h0m0 4h0m2 1h0m2 0h0m1-3h0m0-2h0m1 3h0m3 0h0m1 2h0m1-1h0m1-3h0m1-2h0m5 6h0m5-2h0m1 1h0m3-2h0m0 1h0m1-3h0m3 0h0m0 3h0m0 0h0m2-4h0m2 5h0m2-1h0m2-1h0m0 2h0m2-2h0m1 3h0m3-2h0m1 1h0m0-3h0m5-2h0m1 1h0m1 1h0m0 3h0m1-4h0m0 0h0m0 0h0m5 0h0m1 3h0m1-2h0m3 2h0m1-3h0m2 2h0m1 1h0m1-4h0m0 3h0m-123 8h0m20-2h0m24 1h0m9-3h0m4 2h0m0-2h0m0 0h0m5 3h0m3-4h0m0 2h0m4 0h0m0 1h0m2 0h0m0-2h0m1 2h0m0 1h0m0-3h0m4 3h0m14 0h0m1 1h0m2-5h0m2 2h0m1 1h0m0-2h0m2 0h0m2-1h0m0 0h0m2 2h0m11-2h0m5 2h0m-155 10h0m118-1h0m-109 10h0m42 0h0m29 1h0m31 3h0m16 2h0m-77 11h0m-63 18h0m4 2h0m42-2h0m6 4h0m114-2h0m-90 7h0m51 1h0m-126 1h0m18 9h0m39-3h0m19 0h0m3 1h0m-69 5h0m164 2h0m-92 17h0m33 3h0m-79 2h0m69 5h0m28-4h0m-39 11h0" stroke="#9C85C2" stroke-width="3.10" stroke-linecap="round" fill="none"/>
<path transform="scale(.5)" d="M571 113h0m-4 3h0m16 3h0m-22 5h0m7-2h0m1 2h0m1 0h0m2-1h0m7 1h0m4-1h0m5 2h0m-22 3h0m4 1h0m3-1h0m1 0h0m6-1h0m2 3h0m1-4h0m0 1h0m3 3h0m1 1h0m1 0h0m1-1h0m0 2h0m1-1h0m0-4h0m6 4h0m9-1h0m35 1h0m6 0h0m3-3h0m1 3h0m1-1h0m2 1h0m1 0h0m2 0h0m3 1h0m1 0h0m1-3h0m0 1h0m0-1h0m1 3h0m4-1h0m1 1h0m3-1h0m1-1h0m0 2h0m0-2h0m1-4h0m0 4h0m4-2h0m1 3h0m1-1h0m-105 4h0m3 1h0m10 1h0m1-4h0m1 4h0m1 2h0m1-4h0m2 3h0m3-5h0m0 4h0m3-2h0m1 3h0m5 0h0m17 0h0m3 0h0m1 0h0m1-1h0m0 1h0m4-2h0m1 3h0m1-1h0m0 1h0m2-1h0m0-3h0m1 2h0m1 2h0m0-3h0m0 1h0m0 0h0m1-1h0m0 2h0m1 0h0m0 1h0m0-1h0m0 0h0m1-2h0m0 1h0m0 0h0m0 0h0m1-1h0m0 0h0m0 0h0m1 2h0m1-3h0m0 0h0m1 1h0m2 2h0m1-1h0m0 1h0m0-3h0m1 1h0m1-1h0m0 0h0m1 0h0m1 2h0m1-3h0m0 1h0m1 3h0m0-3h0m0 1h0m0 0h0m1-2h0m0 0h0m1 1h0m0 1h0m1 0h0m0-2h0m0 2h0m2 1h0m1-1h0m0-1h0m1 4h0m0-5h0m1 2h0m0 2h0m1-1h0m0 1h0m1-4h0m0 2h0m0 0h0m0-1h0m0-2h0m0 1h0m1 0h0m0 3h0m0-1h0m0-1h0m0 0h0m1 2h0m0-2h0m1 1h0m0 1h0m0-3h0m1 4h0m0-2h0m0 1h0m2-2h0m0 0h0m0 0h0m0-1h0m1 0h0m0 2h0m0-2h0m1 3h0m0-1h0m0-3h0m1 0h0m0 2h0m0 0h0m0 0h0m0-2h0m1 3h0m0-2h0m0 1h0m1 3h0m1-1h0m0-3h0m1 2h0m1-1h0m0 0h0m0 4h0m0-2h0m0-2h0m0 1h0m0 1h0m1 2h0m0-1h0m0 1h0m0-3h0m2 1h0m1-3h0m1 2h0m0-2h0m1 4h0m0-1h0m1-1h0m0-1h0m2 3h0m0-4h0m1 4h0m1-1h0m4 1h0m-113 7h0m6-2h0m6-3h0m0 3h0m1-1h0m2-2h0m1 3h0m1-1h0m4 0h0m0-1h0m1 2h0m0-2h0m0 2h0m5-2h0m0 3h0m0 0h0m1-4h0m1 1h0m0 0h0m0 0h0m0 1h0m0 1h0m1 2h0m0-3h0m0-1h0m2 4h0m0-5h0m1 2h0m1 3h0m3-1h0m0-3h0m1 3h0m0-3h0m1 1h0m0-1h0m0 3h0m0 0h0m1-3h0m0 3h0m0-2h0m0-3h0m1 5h0m1-1h0m0-3h0m0 2h0m0-2h0m1 1h0m0 0h0m0 1h0m1 2h0m0 0h0m1-3h0m1-1h0m1 3h0m0 1h0m1-5h0m1 4h0m1-2h0m3 2h0m1-2h0m0 0h0m1 0h0m1 0h0m0 1h0m2 0h0m2-3h0m1 2h0m1 0h0m0 0h0m1-1h0m3-1h0m2 1h0m3 1h0m1-2h0m1 2h0m13 0h0m8-1h0m3-1h0m3 2h0m3 1h0m1-1h0m1-2h0m1 1h0m0 1h0m1 3h0m0-4h0m0 0h0m1 3h0m0 1h0m0-1h0m1 2h0m1-3h0m0-2h0m0 2h0m1 0h0m0 2h0m1-1h0m0 2h0m0-5h0m0 2h0m1-1h0m0 3h0m1-1h0m0 0h0m1-1h0m0 0h0m0 3h0m1-1h0m0-3h0m0 2h0m2 2h0m1-2h0m-111 7h0m7 0h0m4-3h0m5-1h0m4 0h0m0-1h0m1 0h0m9 3h0m2-2h0m10 0h0m57 2h0m1-1h0m2 3h0m1-1h0m1 0h0m0-3h0m2 2h0m0-2h0m0 1h0m0 0h0m2 2h0m1 0h0m-9 3h0m1 1h0m1 3h0m0-3h0m0 1h0m0 0h0m0 3h0m0 0h0m1 0h0m0-1h0m1-2h0m0-1h0m0 2h0m0-3h0m0 2h0m1-2h0m1 4h0m1-1h0m0-3h0m1 3h0m1 0h0m2-3h0m-13 9h0m1 0h0m2 0h0m0-2h0m0 4h0m1-6h0m0 3h0m0-1h0m0 0h0m0 3h0m0-4h0m1 5h0m0-3h0m0 0h0m1-1h0m0-2h0m0 0h0m0 1h0m0-1h0m0 5h0m1-4h0m0 1h0m0-1h0m1 4h0m1-2h0m-7 3h0m3 4h0m1-3h0m2 0h0" stroke="#E969A3" stroke-width="3.10" stroke-linecap="round" fill="none"/>
<path transform="scale(.5)" d="M451 359h0m-20 5h0m27-2h0m40-1h0m-68 10h0m12-3h0m1 4h0m0-3h0m3 2h0m1 0h0m2-4h0m3 3h0m4-4h0m5 6h0m4-1h0m3-4h0m3 2h0m2 1h0m2-1h0m1 1h0m7-1h0m-57 9h0m7-2h0m0 0h0m0-2h0m3 3h0m4-4h0m4 4h0m2 0h0m1-2h0m4-1h0m10 1h0m10 1h0m1-3h0m0 0h0m3 2h0m1-1h0m3-2h0m1 0h0m-56 10h0m0-2h0m48-1h0m3-1h0m7 6h0m4-6h0m10 4h0m0 2h0m-86 0h0m1 4h0m1 0h0m0 0h0m1 1h0m6-4h0m6 1h0m3 3h0m5-1h0m52-3h0m18 2h0m-99 7h0m16-1h0m0 2h0m1 1h0m66-4h0m0 3h0m1-1h0m-81 2h0m2 4h0m1 0h0m1 2h0m1-2h0m7 0h0m2-2h0m66 1h0m1 3h0m9-4h0m4-1h0m7 0h0m-109 6h0m10 5h0m2-5h0m9-1h0m65 4h0m0-1h0m3 1h0m2-1h0m3 2h0m1-2h0m1-1h0m9 4h0m-122 4h0m24-1h0m1 3h0m10-4h0m72 1h0m-90 8h0m1 0h0m5-4h0m70 3h0m4-1h0m3 2h0m2 0h0m3-2h0m2 0h0m3-2h0m-92 11h0m0-5h0m1 0h0m1 1h0m1 2h0m1 2h0m50-1h0m7-1h0m7-3h0m11 3h0m1-3h0m2 1h0m1 2h0m1-1h0m1-2h0m5 3h0m5-4h0m-117 9h0m12 0h0m8 2h0m1-5h0m1 1h0m5 2h0m0-2h0m1 3h0m17 0h0m8-3h0m4 4h0m4-2h0m7-1h0m5-2h0m3 1h0m0 0h0m5 0h0m5 3h0m5-4h0m2 3h0m8 0h0m21-2h0m-154 10h0m20-2h0m24 1h0m13-3h0m5 3h0m3-4h0m0 2h0m1-1h0m0 0h0m5 0h0m7 1h0m3 1h0m9 0h0m1 2h0m1-3h0m1 4h0m3-3h0m2-2h0m2-1h0m1 2h0m12-2h0m9 3h0m5-1h0m13-1h0m-177 11h0m104-5h0m9 0h0m5 4h0m9-2h0m-9 6h0m34-1h0m-143 7h0m42 0h0m29 1h0m31 3h0m16 2h0m-77 11h0m-63 18h0m4 2h0m42-2h0m6 4h0m114-2h0m-90 7h0m51 1h0m-126 1h0m18 9h0m39-3h0m19 0h0m3 1h0m-69 5h0m164 2h0m-92 17h0m33 3h0m-79 2h0m69 5h0m28-4h0m-39 11h0" stroke="#9C85C2" stroke-width="3.10" stroke-linecap="round" fill="none"/>
<path transform="scale(.5)" d="M409 82h0m9 2h0m8 0h0m4-2h0m9 1h0m14-2h0m6 1h0m8 0h0m-77 4h0m9-1h0m4 3h0m3-1h0m0-1h0m3 3h0m1-1h0m2-2h0m1 3h0m5 1h0m6-3h0m1-2h0m2 1h0m1-1h0m4 0h0m7 1h0m5 2h0m1 1h0m8 1h0m3-3h0m18-2h0m0-1h0m2 4h0m7-2h0m6 3h0m5 0h0m18 0h0m-140 6h0m8-3h0m11 2h0m1-1h0m1-2h0m1-1h0m6 5h0m4-2h0m10 2h0m27-4h0m3 1h0m6-2h0m2 1h0m8 3h0m1-2h0m14 4h0m4-2h0m1-1h0m23 1h0m2-2h0m3 3h0m3-2h0m-143 4h0m1 0h0m1 3h0m1 0h0m2 1h0m1-1h0m4-3h0m24 1h0m6-1h0m5 1h0m5 3h0m1-4h0m6 3h0m6 1h0m1-3h0m6-2h0m14 3h0m1 0h0m2-3h0m6 3h0m2 2h0m5-1h0m2-1h0m4 2h0m4 0h0m6-2h0m14-2h0m4 2h0m1-3h0m5 5h0m4-4h0m3 1h0m5 0h0m2-1h0m-167 8h0m5-2h0m1 1h0m4 2h0m2-2h0m2 0h0m6 2h0m1-3h0m2 3h0m1 1h0m5-1h0m4 1h0m0-5h0m6 6h0m2-1h0m5-4h0m11 4h0m2-4h0m6 1h0m2 1h0m1-2h0m12-1h0m8 3h0m4-3h0m0 3h0m5-3h0m31 3h0m12 3h0m2-3h0m14-1h0m3 3h0m0-1h0m0-4h0m3 4h0m1-3h0m3 5h0m10-2h0m1-3h0m-193 10h0m0-2h0m1 3h0m2-5h0m3 4h0m8-3h0m23 0h0m0 0h0m1-2h0m3 0h0m1 1h0m28 1h0m2 0h0m1 4h0m1-2h0m26 1h0m9-3h0m7 2h0m1-3h0m0 3h0m4 0h0m0-3h0m7 2h0m1 0h0m2 0h0m9-1h0m15 0h0m2 1h0m13 2h0m1-2h0m12-1h0m2 0h0m2-1h0m8 0h0m4 4h0m1-1h0m6 0h0m0 0h0m1 0h0m-212 5h0m3-2h0m2 4h0m2 0h0m1-4h0m3 2h0m3 0h0m1 1h0m10-1h0m16 1h0m0-3h0m2 1h0m2-1h0m1 2h0m7-1h0m4-1h0m3 4h0m0-2h0m7-1h0m0 0h0m1 3h0m5 1h0m2-2h0m4 0h0m0 2h0m9-2h0m1 2h0m1-4h0m1 0h0m0 0h0m5-1h0m1 0h0m4 3h0m4-1h0m1 1h0m3-2h0m20 2h0m11-2h0m2 1h0m2 2h0m4-3h0m1-2h0m1 1h0m12 5h0m0-6h0m2 2h0m6-2h0m6 3h0m4 1h0m24 1h0m3-1h0m7 2h0m1-5h0m1 4h0m-217 6h0m2-1h0m0 1h0m5-3h0m4 0h0m3 1h0m8-1h0m4 1h0m3 1h0m1 0h0m2-2h0m2 1h0m9 3h0m0-6h0m4 2h0m2-1h0m2 1h0m1 0h0m7 2h0m2-3h0m0 1h0m11-1h0m4 4h0m10-1h0m1 1h0m1-1h0m4 1h0m12-4h0m5 3h0m4-2h0m1 1h0m6 3h0m0-6h0m1 6h0m3-4h0m7 1h0m5-1h0m6 1h0m9-2h0m2 1h0m20 2h0m3 0h0m3-1h0m16 1h0m2 2h0m2-6h0m1 6h0m18-3h0m0-1h0m3 3h0m2-4h0m2 3h0m-235 6h0m5 1h0m0 0h0m4-1h0m1-4h0m2 3h0m0-1h0m2 1h0m3 0h0m16 2h0m3-3h0m6 4h0m0-1h0m1 0h0m4 1h0m2-6h0m2 0h0m1 1h0m0 4h0m5-4h0m2 0h0m5-1h0m3 6h0m1-3h0m1 2h0m5-2h0m1 1h0m2 1h0m5-2h0m0 3h0m25-2h0m3-1h0m3-1h0m10 0h0m11 0h0m8 0h0m4-2h0m11 4h0m7 0h0m2-3h0m2 2h0m3-3h0m13 4h0m11-2h0m3 1h0m0 1h0m2-3h0m0 0h0m6 5h0m6-4h0m10 2h0m1 2h0m9-1h0m1-4h0m5 4h0m-242 3h0m6 0h0m3 2h0m3-4h0m7 6h0m7-1h0m7 0h0m1 0h0m4-3h0m3 1h0m3 2h0m1-1h0m6 0h0m5 2h0m1-5h0m11 2h0m3 2h0m7-2h0m8-1h0m1 4h0m1-1h0m18-3h0m2 3h0m2-1h0m1 2h0m16 0h0m12-3h0m6 2h0m0-1h0m4-2h0m2 0h0m4 3h0m12 1h0m5-3h0m5-2h0m2 1h0m3-2h0m14 4h0m6-2h0m0-2h0m4 5h0m3-2h0m5-1h0m1-1h0m4 0h0m7 4h0m-228 4h0m5 1h0m6-1h0m10-2h0m1 0h0m1-1h0m7 0h0m3 5h0m2 1h0m3-2h0m10-1h0m1 0h0m2 2h0m1-1h0m1-2h0m17 0h0m6 1h0m0-1h0m1 3h0m2-3h0m0-1h0m0 2h0m1 0h0m3 0h0m10 0h0m4 2h0m2 0h0m0-1h0m2-2h0m7 1h0m11-1h0m1-1h0m2 1h0m1 2h0m0 0h0m8-3h0m12 1h0m3-1h0m9 5h0m0-1h0m1-4h0m0 2h0m0 2h0m1-4h0m2 3h0m2-3h0m2 3h0m8-1h0m11 3h0m4-5h0m7 5h0m3-5h0m4 4h0m0-4h0m9 1h0m5 3h0m3-5h0m2 2h0m1 0h0m10 0h0m1 0h0m5-1h0m1 0h0m1 3h0m14-3h0m8 5h0m-269 4h0m1-2h0m4 3h0m6 0h0m0-1h0m1 0h0m10-3h0m2 2h0m1-3h0m3 4h0m1 0h0m1 0h0m8-4h0m4 2h0m2 2h0m1-2h0m1 0h0m6 0h0m3 1h0m2-2h0m2 0h0m4 4h0m1-1h0m5-1h0m3 0h0m2-2h0m0 1h0m3 3h0m8-4h0m4 4h0m3-3h0m2 2h0m0-3h0m11 4h0m7-1h0m2 1h0m0-2h0m2-3h0m1 1h0m4 4h0m1-2h0m3 2h0m3 0h0m7-1h0m3 0h0m4-2h0m1-2h0m1 5h0m3-1h0m7 2h0m2 0h0m1-1h0m2-2h0m0-3h0m5 2h0m7 2h0m0-3h0m5 2h0m1 1h0m9 2h0m2-6h0m2 4h0m8-1h0m4 1h0m5 1h0m6-3h0m10-2h0m1 0h0m4 4h0m2 1h0m0-5h0m4 1h0m4 5h0m2-1h0m4-5h0m8 4h0m6-1h0m4 0h0m2 0h0m0-3h0m1 1h0m5 3h0m-263 3h0m2 0h0m10 1h0m2 4h0m2-6h0m1 5h0m0-2h0m4-1h0m1 1h0m9 0h0m1-2h0m2 0h0m3 1h0m1 1h0m3 3h0m1-5h0m11-1h0m0 2h0m9 0h0m1 1h0m0 3h0m3-3h0m2 3h0m0-1h0m2 0h0m12-2h0m9-3h0m4 4h0m2 0h0m5-3h0m3 3h0m14-3h0m2 2h0m2-2h0m2 5h0m8 0h0m1-4h0m3-1h0m3 2h0m5 2h0m3-3h0m1 3h0m0-1h0m7 1h0m12-4h0m9 2h0m4-1h0m0-1h0m3 1h0m0 2h0m1-1h0m3 1h0m5-2h0m12 0h0m9-2h0m3 1h0m10 1h0m11 3h0m1 0h0m0 0h0m1-4h0m9-1h0m3 0h0m1 4h0m1 1h0m14 0h0m-277 1h0m4 3h0m2 1h0m7-3h0m14 3h0m0-1h0m5 1h0m3 1h0m4-1h0m1 1h0m9-3h0m2 0h0m11 3h0m2-3h0m1 4h0m2-4h0m1 3h0m22-1h0m0 2h0m2-5h0m8 4h0m4 0h0m3 1h0m1-1h0m4-1h0m4-4h0m4 1h0m2 2h0m2 1h0m3 0h0m2 1h0m0-2h0m1-3h0m12 3h0m3 0h0m2 0h0m3-2h0m2 3h0m3 0h0m12 1h0m10-3h0m2 2h0m5-3h0m5 0h0m1 3h0m1-4h0m4 6h0m10 0h0m5-1h0m6-2h0m4-1h0m1 4h0m2-3h0m8 0h0m7-2h0m1 3h0m23 0h0m5-2h0m3 2h0m5-3h0m2 0h0m7 4h0m-286 6h0m5-2h0m2-2h0m2 1h0m7 1h0m6-1h0m1-1h0m2 4h0m0-4h0m1 1h0m1 2h0m3 2h0m3-5h0m0 3h0m9 2h0m0-5h0m8-1h0m5 4h0m5 1h0m2-2h0m1 2h0m1-2h0m0 3h0m3-2h0m1-4h0m3 3h0m4 1h0m2-4h0m3 4h0m7 0h0m1-1h0m5 0h0m4 0h0m2 0h0m1-1h0m3 0h0m3 1h0m0-1h0m1 2h0m4 1h0m7-4h0m8 0h0m14 0h0m5 4h0m13 0h0m1 1h0m5-3h0m3 2h0m1-1h0m5 1h0m1-3h0m5 3h0m2-1h0m2-3h0m11 4h0m7-1h0m5-2h0m4-1h0m1 4h0m3 0h0m4-4h0m15 2h0m1 1h0m4-4h0m5 6h0m12-1h0m9-1h0m3-3h0m2 0h0m3 5h0m12-1h0m10-1h0m3 1h0m-303 5h0m0 0h0m3 0h0m2-2h0m0 2h0m10-2h0m2 2h0m1-4h0m8 6h0m6-2h0m1-3h0m4 4h0m1 0h0m3 0h0m7 1h0m0-2h0m1 0h0m7-2h0m7 1h0m1 0h0m3 2h0m1-1h0m4-2h0m0 0h0m2 3h0m12-3h0m5 0h0m3 0h0m6 3h0m6-2h0m3-3h0m2 0h0m10 4h0m11 1h0m3-4h0m2 1h0m7 1h0m1-2h0m5 0h0m2 2h0m7-1h0m1 0h0m2-2h0m1 1h0m4 3h0m2-3h0m0 1h0m7 2h0m2 2h0m5-5h0m1 1h0m5 4h0m4-5h0m2 2h0m8-1h0m4 2h0m4-4h0m3 3h0m1-2h0m1 0h0m12 0h0m3 1h0m11 1h0m1-3h0m4 4h0m3 1h0m15-1h0m8 1h0m5-2h0m2 2h0m2-4h0m2 4h0m5-4h0m10 4h0m-296 5h0m0 1h0m0-1h0m2 0h0m1-1h0m4 0h0m5-3h0m0 6h0m4-3h0m19 3h0m1-2h0m3 2h0m0-2h0m5 1h0m5-2h0m2-3h0m1 1h0m3 1h0m11 0h0m28 1h0m8 0h0m1-2h0m1 4h0m2-1h0m3-3h0m0 0h0m1 2h0m19-1h0m2-2h0m10 2h0m9 0h0m1 1h0m7 1h0m3-2h0m3-2h0m1 5h0m4-2h0m5-2h0m17 5h0m5-3h0m4-1h0m1 0h0m2-2h0m1 6h0m5-1h0m5-1h0m1 1h0m1-3h0m8-1h0m11 3h0m6-2h0m1 2h0m7-1h0m0 2h0m1-3h0m1 2h0m7 2h0m1-5h0m3-1h0m2 4h0m8-1h0m6 0h0m3-2h0m3 4h0m3-1h0m15-2h0m-304 9h0m2-1h0m10 2h0m2-3h0m0 2h0m0-4h0m15 3h0m2-3h0m6 2h0m1 3h0m7-1h0m4-4h0m1 1h0m2 3h0m8-4h0m9 4h0m5-4h0m3 2h0m1-3h0m13 3h0m2 1h0m2 1h0m1-4h0m3 1h0m2 1h0m5 1h0m6-1h0m0-1h0m5-2h0m11 2h0m2 1h0m1-1h0m9 0h0m14 0h0m9 3h0m3 0h0m1-5h0m2 4h0m1-2h0m6 2h0m6 2h0m13-3h0m3 1h0m1-2h0m4 0h0m1 1h0m15-1h0m3-2h0m9 4h0m12 1h0m4 0h0m1 0h0m5 0h0m4-2h0m1 1h0m3-4h0m0 4h0m1-2h0m4-1h0m2 1h0m8-1h0m2 4h0m7-3h0m3-1h0m4 3h0m3-2h0m2-2h0m8 1h0m1 0h0m7 1h0m-316 10h0m3-6h0m5 6h0m1-3h0m1-1h0m3 2h0m1-1h0m1-2h0m10 3h0m7-2h0m2 2h0m1 1h0m5 0h0m2-3h0m3-1h0m0 3h0m0-1h0m7 2h0m0-5h0m6 3h0m2 0h0m8 0h0m7 1h0m4-4h0m3 1h0m9 0h0m0 2h0m1 1h0m5-2h0m1-1h0m7 2h0m19-3h0m0 3h0m4 0h0m2-1h0m3-2h0m1 2h0m2 0h0m0 3h0m11-4h0m0 3h0m8 2h0m3-1h0m14-4h0m3 1h0m2 3h0m0 0h0m2-1h0m0-3h0m2-1h0m0 2h0m25-1h0m4 0h0m0 0h0m4 4h0m1-4h0m0-1h0m0 0h0m26 5h0m2-2h0m17 1h0m18 0h0m22 0h0m6-1h0m11-2h0m-310 6h0m0 3h0m2-1h0m5 2h0m3-5h0m3 4h0m1-4h0m7 1h0m5 2h0m12 3h0m8-2h0m5-1h0m4 3h0m0-6h0m7 5h0m3-2h0m7 0h0m0 1h0m4-1h0m1 3h0m7 0h0m8-3h0m3-3h0m7 2h0m2-1h0m3-1h0m4 0h0m2 3h0m8 0h0m10-1h0m2-1h0m1 3h0m2-4h0m0 5h0m1 0h0m20-4h0m3 5h0m7-3h0m3 2h0m4-1h0m2-2h0m4-1h0m2 1h0m2 2h0m4-2h0m3 1h0m1 0h0m4 1h0m11-1h0m1-1h0m8 0h0m0 3h0m11-1h0m2 1h0m1 1h0m9-5h0m4 2h0m4 1h0m5 0h0m1 1h0m2-3h0m1 1h0m1-2h0m11 3h0m6-1h0m23-2h0m10 0h0m5 4h0m2-3h0m-321 5h0m2 1h0m1-2h0m2 2h0m13 2h0m4-3h0m3 4h0m10-3h0m14 4h0m3-2h0m6 1h0m1-5h0m2 5h0m3-1h0m1-2h0m2-2h0m3 4h0m5-2h0m2 1h0m1-2h0m4 2h0m0-1h0m3-1h0m1 4h0m6-2h0m3-2h0m5 5h0m4-4h0m6-1h0m0 4h0m8-2h0m9 0h0m10 0h0m7 3h0m12-4h0m1 3h0m7-1h0m0-2h0m7 0h0m6 3h0m1 1h0m5-6h0m0 2h0m0 4h0m6-3h0m0-1h0m1-1h0m0 4h0m6 0h0m8-2h0m3 2h0m1-4h0m3 3h0m5 0h0m3-1h0m0 3h0m5-4h0m1 3h0m2-2h0m31 3h0m5-5h0m2 2h0m0 3h0m1-1h0m5-1h0m10 1h0m6-2h0m5-1h0m4-1h0m6 2h0m0-1h0m0 3h0m5-3h0m0-1h0m5 0h0m3 5h0m1-5h0m1 2h0m1 3h0m-301 2h0m12 2h0m2-1h0m15 0h0m4 2h0m5-2h0m1-3h0m5 3h0m5 3h0m3-5h0m7 3h0m0-1h0m1 1h0m5-1h0m6 3h0m4-5h0m1 3h0m5-2h0m3 1h0m6-3h0m0 1h0m3 5h0m3-2h0m4-1h0m12 0h0m2 0h0m1 0h0m2-1h0m4 2h0m1-3h0m4 0h0m0 0h0m2 4h0m14 1h0m3 0h0m7-6h0m2 4h0m2 1h0m8-4h0m2 2h0m0 0h0m5 1h0m2-1h0m0-2h0m6 0h0m12 1h0m4 0h0m6 2h0m14-4h0m4 1h0m4 0h0m0 4h0m18-1h0m39-2h0m8 2h0m5 0h0m3-2h0m2 0h0m1 3h0m10-5h0m4 4h0m-322 8h0m2-1h0m2-3h0m5 4h0m3-5h0m2 2h0m2-2h0m1 2h0m3 2h0m0 1h0m2-5h0m2 4h0m9-1h0m1-4h0m2 5h0m0-4h0m3 4h0m7 0h0m10 0h0m3 1h0m5-3h0m2 0h0m1-2h0m4 0h0m0 1h0m7 2h0m2 0h0m5-2h0m2-2h0m2 2h0m1-2h0m4 1h0m7 4h0m1-2h0m11 1h0m7 1h0m4-1h0m0-1h0m11-1h0m0 0h0m1 3h0m0-4h0m4-1h0m4 2h0m12 0h0m0 0h0m2-2h0m3 3h0m6 3h0m6-1h0m0-3h0m9-2h0m3 5h0m28-3h0m0 2h0m1 0h0m8 0h0m2-3h0m2-1h0m4 1h0m0 4h0m0 1h0m6-4h0m6-2h0m2 2h0m0 2h0m7-3h0m15 2h0m1-1h0m0 1h0m11 0h0m1-2h0m17 1h0m2-2h0m1 4h0m0-1h0m4 0h0m1-2h0m9 2h0m-302 6h0m6 1h0m22 0h0m1 1h0m7-2h0m2 0h0m6 3h0m4-2h0m6-2h0m11 1h0m12-2h0m3-1h0m3 3h0m5-1h0m7 4h0m1-2h0m7-4h0m0 2h0m5 2h0m0 0h0m5-3h0m10 4h0m15 0h0m3-1h0m7-2h0m18 1h0m4-3h0m2 1h0m1 4h0m4 1h0m13-1h0m3-2h0m4 2h0m11 1h0m0-3h0m3 1h0m3-1h0m15 2h0m14-3h0m11 3h0m1 1h0m0-2h0m3 1h0m3 0h0m21 0h0m9-1h0m5-3h0m4 5h0m6-4h0m0 2h0m-305 3h0m11 4h0m0-2h0m4 1h0m10-3h0m7 3h0m4-1h0m1 3h0m1-5h0m7 2h0m4-1h0m12 1h0m9 2h0m0-5h0m6 5h0m4-4h0m2 2h0m3 1h0m5 1h0m0-3h0m4 2h0m8-4h0m0 5h0m0 1h0m4-1h0m1 0h0m3 0h0m9-3h0m0-1h0m2 4h0m1-1h0m3-3h0m2 3h0m3-2h0m6-1h0m1 1h0m4 3h0m6-3h0m0 1h0m4-1h0m3 3h0m3-4h0m8-1h0m0 5h0m4 1h0m1-5h0m8 3h0m15 0h0m13-4h0m2 0h0m1 5h0m3 0h0m1-3h0m2 2h0m0-3h0m2 4h0m1-1h0m0-4h0m2 0h0m2 1h0m4-1h0m0 2h0m14-1h0m5 2h0m3 3h0m6-1h0m13-4h0m13 3h0m2 1h0m1 1h0m10-4h0m6 2h0m3 0h0m3-2h0m-296 5h0m1 4h0m4 0h0m4-4h0m3 0h0m1 4h0m9-4h0m4 0h0m1 2h0m0 3h0m5-6h0m3 4h0m2-4h0m5 6h0m1-1h0m1-4h0m7 1h0m0 0h0m13-2h0m5 4h0m0 1h0m1-2h0m1 0h0m0 0h0m0 2h0m1-2h0m4 0h0m4 2h0m2 0h0m2-4h0m4 2h0m8 0h0m0-1h0m1 1h0m2 2h0m2-3h0m10 0h0m8-2h0m0 3h0m6-1h0m9 0h0m18 3h0m1-4h0m2 4h0m3-3h0m11 3h0m12-2h0m5 0h0m6-2h0m0 4h0m1-1h0m1-4h0m4 6h0m5-1h0m2-1h0m3-3h0m9 0h0m3 0h0m3 1h0m4 2h0m6 1h0m8-4h0m9 4h0m5-5h0m2 4h0m6-2h0m6 4h0m3-1h0m8-1h0m3-2h0m2-1h0m2 5h0m12-6h0m-292 6h0m2 4h0m9-2h0m1 1h0m8-1h0m2-1h0m2 1h0m2-1h0m2 1h0m0 0h0m1 3h0m5-4h0m7 3h0m0 1h0m5-2h0m3 0h0m1-2h0m5 5h0m4-2h0m13-2h0m1 3h0m13-5h0m1 3h0m20 0h0m3 3h0m0-3h0m5-1h0m11-1h0m1 3h0m2-2h0m1 4h0m12-2h0m4-2h0m0 0h0m9 3h0m1 0h0m0-3h0m2 4h0m1-4h0m5 2h0m1-1h0m0 1h0m3-3h0m1 2h0m4 0h0m12 2h0m2-3h0m22-1h0m8-1h0m4 1h0m1 3h0m6-2h0m5-1h0m1 4h0m3-4h0m1 0h0m14 4h0m2-4h0m2-1h0m1 5h0m3 0h0m10-1h0m9-1h0m5 2h0m-268 2h0m12 1h0m2 0h0m3 2h0m2 1h0m8-2h0m8-1h0m2 1h0m3 0h0m2 1h0m14-3h0m0 1h0m6 2h0m11-4h0m3 0h0m0 3h0m8 0h0m2-2h0m0 5h0m0-5h0m1 0h0m1 4h0m2-4h0m1 1h0m1-2h0m2 4h0m0-2h0m3 1h0m2 2h0m1-5h0m1 5h0m2-3h0m8-1h0m2 4h0m3-3h0m13 2h0m1-3h0m0 0h0m7 1h0m5-1h0m4 0h0m1 1h0m1 3h0m8-2h0m2 0h0m0 0h0m4-1h0m2 0h0m4-1h0m1 1h0m2-2h0m6 2h0m2 2h0m16-3h0m6 0h0m4 0h0m5 1h0m4 1h0m17-1h0m1 1h0m4 0h0m2-1h0m12-1h0m-218 7h0m10 2h0m3-1h0m18-3h0m3 0h0m22 0h0m4 2h0m5 2h0m3-4h0m3 5h0m0-1h0m9-3h0m7 2h0m7 2h0m8-1h0m0-2h0m10-1h0m2 2h0m3 1h0m1-2h0m2-2h0m8 1h0m1 0h0m9 0h0m1 3h0m1-3h0m0 1h0m10-1h0m13-1h0m-95 6h0m2 1h0m16-1h0m1 4h0m2-3h0m10 2h0m5-1h0m0 4h0m1-4h0m0 2h0m2-2h0m2-1h0m4 0h0m18 5h0m-44 2h0m26 0h0m1 1h0m3-1h0m7-2h0m-16 23h0m-77 7h0m44-1h0m3-2h0m7 3h0m5-5h0m1 3h0m1 2h0m4-5h0m2 1h0m1 2h0m1 0h0m2-2h0m4-2h0m8 4h0m-103 4h0m1 4h0m0-1h0m10-3h0m4 4h0m1-3h0m0-1h0m8 2h0m2 1h0m2-1h0m5-1h0m1 0h0m1 2h0m2 0h0m1-2h0m3 2h0m1-2h0m6 1h0m3 1h0m5 0h0m0-2h0m5 1h0m4-1h0m0-2h0m2 0h0m1-1h0m0 6h0m8-5h0m12 4h0m2 0h0m13-4h0m2 3h0m-122 7h0m2-1h0m0 1h0m1-2h0m1 1h0m2-3h0m4 4h0m0 1h0m0-3h0m0 0h0m1 2h0m0 0h0m3-4h0m1 3h0m1-3h0m2 2h0m0 2h0m0-3h0m1 2h0m1-1h0m1 2h0m0 1h0m0 0h0m0-3h0m2 3h0m0-1h0m4-4h0m1 2h0m0-2h0m1 2h0m5 2h0m14 1h0m1-2h0m5 1h0m2-2h0m7 0h0m2 2h0m1 0h0m1-3h0m2-1h0m4 1h0m3 2h0m0-2h0m2 2h0m2 0h0m5 2h0m2-6h0m2 4h0m2 0h0m2-1h0m2 0h0m5 1h0m0-1h0m8 2h0m0-4h0m5 3h0m1-4h0m2 4h0m2-2h0m2 0h0m5 3h0m1-3h0m1 4h0m-136 4h0m4-1h0m2-1h0m1-2h0m1 0h0m3 4h0m1-4h0m2 0h0m1 1h0m0 2h0m1-1h0m0-2h0m4 5h0m2-4h0m1 2h0m2-2h0m0 4h0m1-2h0m0-1h0m0 1h0m2 3h0m1-3h0m6-2h0m4 4h0m1-3h0m4 0h0m1-1h0m1 4h0m6-4h0m6 1h0m4 2h0m4-2h0m1 1h0m1 0h0m2-1h0m1 2h0m3 1h0m3-2h0m6 2h0m1-5h0m7 4h0m2-4h0m2 3h0m1 0h0m2-2h0m0 4h0m1-3h0m3 0h0m1 3h0m1-4h0m0 0h0m1 2h0m0-1h0m3 2h0m0-1h0m1 1h0m0-2h0m9 0h0m3-1h0m0 2h0m1 3h0m6-1h0m1-2h0m-143 9h0m3-1h0m3 0h0m3-2h0m3 1h0m0-3h0m6 4h0m0-4h0m3 0h0m0 5h0m1-4h0m0 2h0m0-2h0m1 2h0m0 0h0m2 2h0m2-2h0m1 1h0m1-1h0m0 1h0m2 0h0m2-3h0m1 1h0m1-3h0m1 4h0m1-1h0m0 1h0m3 0h0m4-4h0m1 0h0m1 4h0m3-1h0m0-2h0m2 1h0m0-2h0m1 4h0m2 0h0m0-2h0m1 3h0m0-1h0m1 1h0m5-1h0m3 0h0m0-1h0m4-2h0m3-1h0m0 5h0m2-1h0m2-1h0m3 2h0m0 0h0m1-3h0m6-2h0m0 4h0m1-3h0m1 5h0m5-2h0m0-4h0m5 3h0m2 0h0m5 0h0m4 2h0m3 0h0m8 0h0m5-1h0m7-1h0m1 2h0m1-3h0m3-1h0m1 2h0m2 1h0m2-1h0m2 1h0m8-2h0m-162 10h0m2-1h0m6-1h0m1 1h0m0-1h0m1 0h0m0 1h0m0-3h0m2 3h0m1-1h0m3-1h0m1 0h0m0-3h0m1 6h0m2-3h0m1-1h0m1-2h0m0 5h0m2-1h0m3 1h0m0-1h0m1 1h0m1 0h0m0-3h0m0 2h0m1 1h0m1-1h0m1 1h0m1-3h0m1 2h0m3 0h0m0 2h0m1-1h0m1-3h0m0-2h0m2 5h0m1 0h0m0-4h0m5 3h0m1-3h0m1 1h0m0-2h0m3 1h0m0 0h0m1 4h0m0 0h0m0-2h0m0-1h0m1 1h0m0 3h0m1-3h0m0 2h0m0-2h0m2 1h0m3-3h0m0 5h0m0-6h0m0 2h0m0 1h0m1 2h0m0-4h0m1 4h0m0-1h0m0 1h0m2 1h0m0-6h0m0 4h0m1-3h0m2 4h0m0-5h0m1 1h0m2 2h0m1-3h0m3 3h0m5-3h0m1 1h0m1 1h0m2 0h0m2 1h0m2-3h0m13 4h0m7-3h0m2 0h0m0 0h0m6 0h0m5 2h0m1 0h0m2 1h0m1-2h0m5-1h0m2 2h0m0-3h0m1 4h0m3-1h0m4-2h0m0 4h0m6-2h0m5 2h0m4-2h0m2 2h0m1-2h0m4-1h0m2 4h0m0-4h0m2 0h0m0 2h0m3 2h0m64 0h0m12-3h0m-247 9h0m1-3h0m2 1h0m0 2h0m0-4h0m0 1h0m1 1h0m0 2h0m1-3h0m4 1h0m0-4h0m0 2h0m0-1h0m4 2h0m4 3h0m0-5h0m1 1h0m1 1h0m1 2h0m0-4h0m3 5h0m2-6h0m1 6h0m0-3h0m1 0h0m3-1h0m2 2h0m0-1h0m0 0h0m0 2h0m0 1h0m1-3h0m3 2h0m1-3h0m1 0h0m4 0h0m0-2h0m2 1h0m1 4h0m0-3h0m1 1h0m0 1h0m1 1h0m3 0h0m1-1h0m6 1h0m0 1h0m0-4h0m2 2h0m1-1h0m1 2h0m0 1h0m1-2h0m0-3h0m2 2h0m1 1h0m0 1h0m1-3h0m0 0h0m2 3h0m0-4h0m1 0h0m1 5h0m1-3h0m2 0h0m1 2h0m2-1h0m2 2h0m1 0h0m3-4h0m1 1h0m5 1h0m4 0h0m9-2h0m0 4h0m0-5h0m5 3h0m1 2h0m1 0h0m2 0h0m3-2h0m0 2h0m2 0h0m3-3h0m0 2h0m6-4h0m3 1h0m2 1h0m1 1h0m0 2h0m1-4h0m5 3h0m5 0h0m1-1h0m3-2h0m1 0h0m5 4h0m3-5h0m3 3h0m7-3h0m2 4h0m2-5h0m1 3h0m0 0h0m0-1h0m6 4h0m1-1h0m64-3h0m4 3h0m3-3h0m-255 10h0m1 0h0m2-6h0m0 3h0m1-2h0m1 2h0m1 0h0m1 0h0m0-2h0m1 2h0m0-2h0m3 2h0m0-2h0m0 0h0m1 3h0m0 0h0m1-4h0m1 5h0m1-3h0m0 0h0m0-2h0m3 5h0m1-3h0m2-2h0m0 0h0m1 0h0m2 2h0m1-2h0m1 0h0m2 0h0m1 5h0m0-3h0m0 0h0m1-1h0m0 1h0m1 4h0m1-4h0m0 1h0m1 0h0m0 1h0m1 1h0m3-1h0m1-3h0m0 5h0m1-1h0m2 1h0m1-1h0m3-1h0m0 1h0m1 0h0m0-1h0m1-3h0m1 4h0m1-1h0m1 0h0m3-1h0m0-2h0m0 4h0m2-3h0m2 0h0m4-2h0m0 2h0m0 2h0m2-3h0m0 0h0m0-1h0m5 3h0m0 2h0m3 0h0m3-4h0m0 1h0m1 0h0m0 0h0m2-1h0m3 0h0m0 5h0m1-5h0m1 4h0m1-1h0m5-3h0m5 4h0m3-1h0m1 1h0m4-4h0m6 3h0m0-1h0m2-1h0m2-1h0m2 3h0m2-1h0m0 0h0m1 0h0m0 0h0m8-3h0m1 0h0m1 3h0m5-1h0m5 3h0m1-4h0m1 2h0m1-2h0m7 0h0m6 5h0m0-4h0m1 3h0m1-2h0m2 2h0m0-2h0m0 1h0m2 2h0m1-4h0m1 1h0m0 2h0m1 0h0m5-2h0m1 0h0m5-3h0m1 0h0m0 5h0m0-1h0m1 1h0m2 1h0m1-4h0m2 1h0m1-2h0m1 2h0m1-2h0m1-1h0m2 5h0m0 0h0m3 0h0m52-3h0m7 4h0m5-1h0m12-4h0m4 1h0m-276 10h0m2-1h0m0 0h0m0 1h0m1-1h0m1-2h0m4-2h0m3-1h0m0 6h0m1-6h0m1 5h0m2-1h0m0-1h0m3 2h0m1-1h0m0-1h0m1 0h0m0 1h0m1-1h0m1-1h0m2-1h0m0 3h0m2-4h0m1 5h0m1-4h0m0 1h0m2 0h0m0 1h0m1 0h0m0 0h0m4 2h0m0-4h0m2 5h0m1-4h0m2-2h0m1 4h0m2 0h0m2-3h0m1 4h0m1-4h0m0 1h0m1 0h0m1 0h0m0 2h0m2-1h0m0 0h0m0 2h0m1-2h0m4 3h0m0-2h0m4 0h0m0-3h0m1 0h0m0 4h0m1-1h0m0-1h0m0 2h0m1-5h0m1 3h0m0 3h0m1-1h0m2 0h0m1-1h0m0-2h0m2 3h0m1-5h0m2 6h0m0 0h0m3-4h0m2 2h0m1 2h0m2-3h0m1 0h0m3 1h0m3-2h0m4 2h0m2 1h0m0-2h0m1-1h0m6 3h0m3-3h0m2 2h0m0-2h0m16-2h0m0 6h0m2 0h0m4-2h0m4 1h0m0 1h0m10-2h0m1 0h0m0-2h0m3 2h0m1 0h0m3 2h0m0-4h0m1-1h0m2 3h0m1-2h0m1 0h0m5 3h0m6-4h0m3 0h0m3 3h0m0-1h0m1-3h0m2 1h0m2 1h0m1 0h0m2-1h0m14 5h0m0 0h0m5-3h0m2-2h0m4 5h0m1-2h0m53 1h0m2-1h0m3-1h0m21 2h0m-291 5h0m1-2h0m3 3h0m3-2h0m1 1h0m0-2h0m0 1h0m1-1h0m2-2h0m2 5h0m3-3h0m0 3h0m2-2h0m0 2h0m3-1h0m2-1h0m1 1h0m1 0h0m3-1h0m0-1h0m2-1h0m1 1h0m2 2h0m0-1h0m0 3h0m1-6h0m0 0h0m0 6h0m1-4h0m0 2h0m1-3h0m0 2h0m0 2h0m1-3h0m1 1h0m0 2h0m2 1h0m2-5h0m3 1h0m1 3h0m1-1h0m5 2h0m1-4h0m1 3h0m0-3h0m1 2h0m1 0h0m2 0h0m1-1h0m0-2h0m1 1h0m2 0h0m1 0h0m1 3h0m1-4h0m0 0h0m2 0h0m1 4h0m1-1h0m0 0h0m1 2h0m0-6h0m0 5h0m1 0h0m1-4h0m0 5h0m1-2h0m0-4h0m4 2h0m1 2h0m0 1h0m1-2h0m0 0h0m1-2h0m2 4h0m1 0h0m1-1h0m1 0h0m1-2h0m0 4h0m1-5h0m1 5h0m3-2h0m0 0h0m3-4h0m0 3h0m1-2h0m0 1h0m1 2h0m1-2h0m0 0h0m1-1h0m0 2h0m5-2h0m2 3h0m0-2h0m1 3h0m3 0h0m1-4h0m4 2h0m0-2h0m4 0h0m0-1h0m2 3h0m6 2h0m2-4h0m0 0h0m3 2h0m2 1h0m0-3h0m5 0h0m2 2h0m1 2h0m2-1h0m2-2h0m4 2h0m1-2h0m1-1h0m1 1h0m1-2h0m5 5h0m3-1h0m1 1h0m4-4h0m1-1h0m1 6h0m2-5h0m4 3h0m1-2h0m1-1h0m0 3h0m2 0h0m2-4h0m5 5h0m0-4h0m2 0h0m1 0h0m6 4h0m9 0h0m0-2h0m1 0h0m2 0h0m2 3h0m5-5h0m39 3h0m15-3h0m10-1h0m10 3h0m0 1h0m-292 8h0m2-1h0m2 1h0m1-3h0m4 1h0m1-2h0m1-1h0m1 2h0m1-2h0m7 4h0m0-1h0m0 2h0m2-1h0m1-2h0m1 1h0m1 0h0m2 2h0m0-3h0m1-1h0m1 1h0m0 1h0m1 0h0m2-4h0m1 5h0m1-4h0m0 5h0m6 0h0m1-3h0m0-1h0m1 0h0m1 1h0m0-1h0m2 3h0m1-1h0m3-3h0m6 2h0m2-1h0m0 1h0m1 2h0m1 1h0m2-4h0m1-1h0m2 1h0m1 4h0m4-6h0m0 1h0m1 5h0m1-2h0m2-2h0m1 0h0m2-1h0m2 0h0m2 2h0m2 2h0m1 0h0m2-1h0m0-2h0m0 0h0m1-1h0m0 0h0m1 5h0m0-4h0m1 1h0m2 2h0m2-3h0m0 0h0m2 2h0m7-2h0m1-2h0m0 3h0m1 0h0m0-3h0m0 3h0m3 2h0m1 1h0m11-5h0m1 4h0m0-5h0m3 3h0m7-2h0m1 1h0m0 0h0m1 2h0m3 0h0m0-1h0m1-2h0m0 1h0m5-2h0m0 1h0m2 3h0m4 0h0m10 0h0m3-3h0m2 4h0m4-1h0m3 0h0m2-3h0m0 0h0m1 4h0m1 0h0m4-2h0m1 2h0m1 0h0m1-5h0m6 1h0m0-1h0m0 1h0m5 1h0m0 4h0m9-4h0m1 3h0m1 0h0m0-3h0m1 2h0m1 0h0m10 0h0m3-3h0m15 4h0m0-3h0m34 1h0m3-2h0m15 0h0m3 4h0m2-3h0m12 1h0m1 3h0m1-2h0m-307 5h0m2 0h0m0-2h0m1 0h0m2 3h0m4 1h0m1-2h0m1 0h0m3-1h0m1 1h0m0 3h0m1-5h0m1-1h0m0 1h0m1 2h0m1-3h0m2 3h0m1 2h0m0-1h0m1-2h0m1 3h0m1-3h0m0-2h0m1 5h0m0-3h0m1 0h0m0 3h0m1 0h0m1-2h0m1-3h0m1 4h0m1-2h0m0 2h0m3-2h0m2 0h0m1 3h0m3-4h0m1 1h0m1 2h0m0-3h0m0 2h0m4 3h0m2-4h0m2 2h0m1-3h0m0 5h0m3-2h0m0 2h0m1-3h0m0-2h0m4 4h0m0 1h0m1-6h0m1 3h0m2 1h0m1-1h0m1 2h0m4-1h0m1 0h0m3-4h0m0 1h0m0 1h0m1 1h0m0 0h0m2 1h0m0-3h0m1-1h0m2 4h0m1 1h0m0 1h0m4-5h0m1 2h0m1 0h0m0 1h0m1 1h0m1-5h0m1 1h0m1 3h0m2 0h0m0 2h0m1-3h0m1 1h0m0-1h0m7 2h0m5 0h0m0-4h0m1 2h0m1-1h0m1-1h0m2 4h0m4-2h0m0 1h0m8 0h0m0-1h0m5-3h0m3 4h0m1-2h0m1 2h0m4 2h0m2-5h0m0 2h0m3 0h0m0-1h0m1 1h0m0 2h0m0-3h0m2-1h0m1 5h0m1-1h0m0 1h0m1 0h0m4-2h0m1-1h0m2 0h0m8 2h0m1-1h0m7-2h0m4-1h0m2 3h0m5 1h0m1-3h0m2 0h0m1 2h0m3 1h0m2-1h0m10-2h0m1 3h0m3-3h0m2 2h0m0-4h0m1 0h0m4 1h0m11 0h0m0 5h0m5-5h0m1 1h0m1 4h0m37 0h0m6 0h0m27-2h0m5-1h0m2-1h0m-313 9h0m3 0h0m1-1h0m0 2h0m1-5h0m2 2h0m1-2h0m1 3h0m0 1h0m0-4h0m1 1h0m1 0h0m0 3h0m4 1h0m1-1h0m0-4h0m1 4h0m2-1h0m1 0h0m0-3h0m1 3h0m1-3h0m0 5h0m1-1h0m0-4h0m1 0h0m1 4h0m0 1h0m1-3h0m1-2h0m1 4h0m1-2h0m0 2h0m3-5h0m1 4h0m2-1h0m0 0h0m1 2h0m0-4h0m1 1h0m3 3h0m1-4h0m1 1h0m1 1h0m0 2h0m1 0h0m1 0h0m1 1h0m3-5h0m0 1h0m1 1h0m0 2h0m0-4h0m3 1h0m1 1h0m1 0h0m6 2h0m0-2h0m3-3h0m0 3h0m2-3h0m1 2h0m1 2h0m2-3h0m1 1h0m1 3h0m2-1h0m1 1h0m1-1h0m0 0h0m1-1h0m0-1h0m2 1h0m2-2h0m1 0h0m0 4h0m1-4h0m3-1h0m1 3h0m0 1h0m1 1h0m1 1h0m0-4h0m0-2h0m1 3h0m1 1h0m0 1h0m1-3h0m1-1h0m1 2h0m0 2h0m2 1h0m2-4h0m1 0h0m2 0h0m1 2h0m3-4h0m13 3h0m1-3h0m0 5h0m1 0h0m2 0h0m1-4h0m3 0h0m1 2h0m5 0h0m0 2h0m0-3h0m11-1h0m2 4h0m4 0h0m2-1h0m10-4h0m0 6h0m3 0h0m0-1h0m2-5h0m0 4h0m3-4h0m2 0h0m14 2h0m2 2h0m4-4h0m3 1h0m1 3h0m1 1h0m1 1h0m3-3h0m6 1h0m1-2h0m6 0h0m4-2h0m0 3h0m7-1h0m2 3h0m0 0h0m2-3h0m1 3h0m0-1h0m5 0h0m10 0h0m0 1h0m29-4h0m1 5h0m30-4h0m2-1h0m1 3h0m-310 5h0m2 1h0m1 0h0m1 1h0m0-1h0m3-1h0m0-3h0m2 2h0m1 2h0m0-2h0m1 4h0m2-5h0m0 1h0m1-2h0m0 1h0m1 1h0m0 1h0m3 2h0m0-2h0m1 1h0m0 1h0m3-2h0m1-2h0m1 2h0m1 0h0m0 1h0m0-2h0m0 1h0m1-3h0m0 0h0m0 4h0m3 1h0m1-4h0m0 1h0m1 1h0m0 1h0m2-4h0m1 5h0m0-4h0m3 3h0m2 0h0m0-2h0m3 2h0m1-3h0m1 2h0m3 1h0m2 2h0m0-4h0m0-1h0m1 3h0m1-2h0m0 2h0m0-3h0m2 3h0m0 1h0m2-1h0m1-1h0m1 2h0m2-4h0m0-1h0m2 3h0m1 3h0m0-6h0m1 6h0m0-1h0m2 0h0m1-2h0m0 1h0m2-4h0m2 5h0m0 0h0m1-1h0m1 2h0m0 0h0m1-5h0m1 1h0m0 1h0m0-1h0m1 3h0m1-1h0m2-2h0m1-1h0m1 0h0m0 2h0m3 1h0m2 0h0m1-2h0m1 1h0m0 0h0m0 0h0m1 0h0m1-1h0m0 2h0m1 0h0m3-1h0m0-1h0m0-2h0m1 0h0m0 5h0m3-2h0m2-1h0m4-1h0m2 3h0m1 1h0m0-4h0m2 0h0m3 0h0m2 3h0m2-2h0m2 0h0m1-1h0m4-1h0m1 1h0m12 4h0m3-4h0m2 2h0m17-1h0m13 0h0m1 0h0m1 2h0m0-2h0m1 3h0m1-1h0m3-3h0m2 3h0m6-2h0m1 3h0m0-1h0m0 0h0m5-2h0m5 4h0m3-5h0m0 5h0m1-4h0m1-1h0m2 0h0m1 1h0m2 1h0m2 3h0m0-1h0m2-3h0m0 1h0m1-1h0m0 2h0m4-1h0m3 1h0m1 0h0m1 1h0m1 0h0m4 1h0m0-2h0m2-3h0m0 4h0m3-3h0m2 1h0m2 2h0m3 0h0m7-2h0m2-3h0m34 3h0m9-1h0m4 3h0m1-3h0m3 1h0m4 3h0m0-1h0m3 0h0m8 0h0m-313 2h0m0 4h0m0-1h0m4-1h0m1 1h0m1 0h0m3 2h0m0-1h0m2-3h0m0-1h0m0 5h0m0-1h0m1-5h0m1 5h0m1 0h0m1-4h0m1 0h0m0 2h0m0 2h0m3-1h0m1-4h0m0 5h0m0 0h0m2-1h0m4 1h0m1 1h0m0-5h0m0 2h0m2 3h0m2-5h0m1 3h0m2 1h0m0 0h0m2-2h0m1-2h0m1 2h0m5 2h0m1 0h0m1-5h0m1 0h0m1 0h0m0 4h0m1 1h0m0-1h0m0-4h0m1 2h0m3 1h0m1-2h0m0 2h0m2 2h0m1-2h0m2-1h0m3 4h0m1-5h0m0 0h0m0 2h0m3 3h0m4-5h0m0 3h0m2-4h0m1 4h0m4-2h0m0 2h0m1-3h0m0 0h0m1 1h0m0 1h0m1 1h0m2-4h0m0 2h0m0 2h0m1 0h0m1-4h0m4 5h0m0 0h0m3-1h0m2-3h0m1 4h0m0-4h0m2-1h0m0 0h0m2 2h0m3 1h0m1 0h0m3 1h0m1 1h0m1 0h0m0-1h0m2-3h0m12 3h0m6 0h0m4-3h0m1 0h0m1 0h0m3 0h0m1 0h0m16 3h0m10-1h0m3-2h0m5 0h0m3 4h0m10-5h0m1 0h0m1 2h0m1 3h0m4 0h0m5-2h0m3-1h0m1 2h0m1 1h0m3-2h0m3 0h0m2 2h0m4-2h0m0-3h0m1 6h0m2-1h0m0 0h0m0 1h0m2-5h0m0 1h0m0 2h0m1 1h0m2-1h0m0 1h0m1 1h0m0-5h0m0 3h0m1-1h0m2 2h0m1-5h0m2 2h0m0 0h0m2 2h0m0-3h0m2 3h0m0-4h0m1 3h0m1 1h0m2-3h0m0 0h0m3 4h0m1-2h0m8 0h0m4 0h0m3 1h0m34 1h0m4 0h0m0-3h0m0-1h0m10 3h0m2-1h0m1-2h0m3 2h0m4-2h0m0 0h0m1 4h0m5-5h0m2 4h0m0-3h0m0 0h0m-321 6h0m1-1h0m1 3h0m0 0h0m0 0h0m1 1h0m0-2h0m2 3h0m0 1h0m1-2h0m0-4h0m0 3h0m2 1h0m1 2h0m1-4h0m2-1h0m1 0h0m4 3h0m1-1h0m1 3h0m0-3h0m0 3h0m1-4h0m1 2h0m1-3h0m1 1h0m2 1h0m2 3h0m0-4h0m1 2h0m2-3h0m0 5h0m1 0h0m1-4h0m0 0h0m1 0h0m2 1h0m1 1h0m1-1h0m0-1h0m0 0h0m2-1h0m0 2h0m0 0h0m2-3h0m0 2h0m2-1h0m5 3h0m1-4h0m1 3h0m1-3h0m1 4h0m1-2h0m5-1h0m1 0h0m0 2h0m1 2h0m0 0h0m1 0h0m0 1h0m2-5h0m1 0h0m2 4h0m0-5h0m2 4h0m1-4h0m1 4h0m3-3h0m0 4h0m1-2h0m0-3h0m1 5h0m1 0h0m1-3h0m0 3h0m0-2h0m1 3h0m0-5h0m3 1h0m3-1h0m1 4h0m3 1h0m2-4h0m1 1h0m1 1h0m0-3h0m1 2h0m0-2h0m2-1h0m0 3h0m1-2h0m0 2h0m7-1h0m3 4h0m1-5h0m0 4h0m8-2h0m0 0h0m0 3h0m0-4h0m2 1h0m1-2h0m1 2h0m1 0h0m0 0h0m27-1h0m3 1h0m8 2h0m9-3h0m1 2h0m4-1h0m3-3h0m7 1h0m9 0h0m3 0h0m1 4h0m5-3h0m3 2h0m2 1h0m3-1h0m0-3h0m3 3h0m1-2h0m3 1h0m0-1h0m2-1h0m1 2h0m1-2h0m1-1h0m3 6h0m0-5h0m1 1h0m2 2h0m1-3h0m1 0h0m0-1h0m4 1h0m3-1h0m6 1h0m6 3h0m2-4h0m5 5h0m5-2h0m0 2h0m2-2h0m2 2h0m57-2h0m0-3h0m1 0h0m0 2h0m4 2h0m-327 5h0m0 2h0m3-1h0m0-2h0m1 1h0m2 2h0m1-4h0m1 0h0m1 0h0m0 1h0m5 3h0m2-4h0m1 3h0m1-3h0m0 5h0m1-2h0m0-1h0m2-2h0m0 3h0m1 2h0m0-1h0m1-4h0m1 0h0m0 3h0m1-2h0m0 2h0m4-1h0m1-1h0m0 2h0m0-2h0m1 4h0m2-2h0m1-3h0m0 3h0m1-1h0m1-1h0m1 2h0m1-4h0m1 3h0m0-1h0m1 1h0m0 1h0m2 0h0m1-1h0m1 1h0m0-3h0m0 4h0m2-3h0m1 0h0m1-2h0m1 0h0m0 2h0m1 0h0m0-2h0m0 4h0m0-2h0m0 2h0m0 1h0m0-3h0m1 1h0m1 0h0m4 3h0m1-1h0m1-4h0m4 0h0m0 2h0m0-3h0m3 4h0m7 0h0m2 2h0m0-5h0m2 0h0m1 2h0m0 1h0m0-1h0m1-1h0m0 4h0m1-2h0m4-3h0m0 2h0m2 1h0m0-1h0m0 0h0m1 3h0m1-4h0m2 0h0m2 1h0m1-1h0m1-1h0m1 0h0m1 3h0m0 0h0m1-3h0m5 1h0m0 3h0m5 0h0m1 0h0m1-3h0m3-1h0m4 5h0m3-3h0m1-1h0m1 2h0m3-3h0m20 4h0m8-1h0m4-1h0m4 0h0m7 1h0m1-2h0m5 1h0m2-2h0m1 3h0m3 0h0m3 1h0m2-1h0m29-1h0m1 1h0m1-3h0m1 1h0m8 2h0m0-2h0m3 2h0m1-2h0m1 1h0m1 0h0m3 0h0m1-1h0m1 0h0m2-1h0m0 1h0m5-1h0m3 5h0m1-3h0m0 1h0m2 0h0m0-1h0m1 0h0m2-1h0m3-1h0m3 2h0m7-2h0m6 2h0m17 1h0m10 1h0m7 0h0m3-1h0m2-2h0m5 2h0m11-4h0m-325 12h0m1-5h0m0 0h0m1 3h0m0-3h0m0 4h0m3-3h0m1 1h0m0-1h0m0 3h0m2-4h0m0 1h0m1 3h0m2 0h0m1 1h0m2 0h0m0-2h0m1-2h0m1 0h0m1 3h0m2-5h0m1 3h0m1 2h0m2-1h0m1 0h0m1 1h0m2-5h0m0 3h0m0 1h0m1-3h0m1 4h0m0-2h0m1-2h0m0 4h0m2-3h0m0 3h0m1-4h0m0 2h0m1-1h0m1-1h0m0-1h0m3 0h0m1 5h0m1-3h0m1 2h0m0 1h0m1-3h0m1 4h0m3-2h0m1-1h0m1-1h0m1-1h0m1 5h0m3-5h0m1 0h0m2 1h0m0 2h0m3 1h0m0-5h0m1 6h0m1-6h0m0 1h0m1 4h0m1 1h0m0-2h0m2 0h0m1-1h0m0-1h0m0 3h0m1-4h0m0 2h0m1-1h0m0 3h0m4-5h0m2 5h0m1 0h0m0 0h0m1-3h0m2 0h0m1 2h0m3 0h0m0 0h0m1 2h0m0-2h0m0-2h0m2 0h0m0 3h0m1-2h0m0 2h0m2-2h0m1 1h0m0-4h0m1 2h0m0-2h0m2 3h0m1 3h0m0-5h0m1 0h0m2 4h0m5-2h0m5-3h0m2 2h0m0 0h0m0-2h0m2 1h0m7 2h0m3-2h0m20 5h0m6-1h0m25 0h0m20 0h0m17 0h0m1-3h0m3 1h0m6-1h0m1 3h0m4 0h0m1-1h0m1 0h0m1-2h0m2 3h0m1 1h0m6-1h0m2-5h0m2 3h0m3-3h0m5 2h0m3 3h0m0 1h0m1-2h0m2-2h0m4 2h0m6-3h0m0 2h0m1-3h0m0 4h0m1 1h0m4 0h0m4 1h0m17-1h0m2-5h0m4 5h0m6-3h0m15 3h0m5 0h0m4-3h0m-328 6h0m3 2h0m1 2h0m4-1h0m1 0h0m2-3h0m1 3h0m0-3h0m1-1h0m1 1h0m0 2h0m0-1h0m1-1h0m3 3h0m0-2h0m1 0h0m0 1h0m4 0h0m1 0h0m2 0h0m1 0h0m2-4h0m0 4h0m2 1h0m0-1h0m1-2h0m6 3h0m2 0h0m1-4h0m1 3h0m0 0h0m1-1h0m0 0h0m2-1h0m0 3h0m2-4h0m1 3h0m1-4h0m0 1h0m0 1h0m2 1h0m3 2h0m0-1h0m1-2h0m0 1h0m1-2h0m1 5h0m0-4h0m4 3h0m2-2h0m1-2h0m0 3h0m2 2h0m0 0h0m0-2h0m3 1h0m2-1h0m0 0h0m1-1h0m2 2h0m1-1h0m1-3h0m0 4h0m1-4h0m1 3h0m0 0h0m3-3h0m1 5h0m0-3h0m2 3h0m0-4h0m0 2h0m1 1h0m1 1h0m0 0h0m1-5h0m2 0h0m1 3h0m1 2h0m2-2h0m1 1h0m1 1h0m0-6h0m1 3h0m1-2h0m7 0h0m1 4h0m2 1h0m3-5h0m5 2h0m19-2h0m16 0h0m9 0h0m24 0h0m0 4h0m0-3h0m9-1h0m3 0h0m16 3h0m7-2h0m0 0h0m2-1h0m1 4h0m2-3h0m4-1h0m0 4h0m1-3h0m1 3h0m2-2h0m1 3h0m0-2h0m3-3h0m7 3h0m1-1h0m0 2h0m1-4h0m0 5h0m1 0h0m3-1h0m1-4h0m1 2h0m6 1h0m2 1h0m5-4h0m1 2h0m1 2h0m0-2h0m3 2h0m2-2h0m0 0h0m2 2h0m37-4h0m0 3h0m3-1h0m7 1h0m-317 3h0m0 2h0m1-2h0m1 0h0m0-1h0m1 6h0m2-4h0m0-1h0m0-1h0m0 2h0m1 0h0m4 2h0m1-1h0m0-1h0m1 3h0m4-2h0m2 1h0m1-3h0m1 2h0m1 1h0m3 0h0m3-2h0m2-2h0m1 4h0m0 0h0m2-1h0m0-3h0m1 3h0m3-2h0m0 0h0m0 1h0m1 1h0m0 1h0m2-4h0m1 1h0m0 5h0m1-4h0m1-1h0m0 3h0m4-1h0m3-1h0m1 0h0m1-1h0m2 0h0m1 0h0m1-1h0m0 2h0m1 3h0m1-3h0m0 0h0m1 1h0m1 2h0m1 0h0m1-1h0m0-2h0m1 3h0m1 1h0m0-5h0m0 3h0m0-3h0m1 5h0m0-5h0m1 2h0m1-2h0m1 3h0m0-4h0m0 1h0m1 5h0m0-1h0m1-1h0m1-2h0m0 3h0m1-2h0m2-2h0m0 1h0m0 2h0m1 0h0m1-1h0m0 2h0m0-4h0m1 1h0m1 0h0m0 3h0m3-2h0m1 3h0m1-2h0m1 0h0m1-3h0m0-1h0m1 4h0m4-2h0m1-1h0m2 1h0m1 1h0m2 1h0m1 0h0m0 1h0m1-1h0m3 0h0m1 2h0m7-2h0m1-3h0m2 3h0m29-4h0m2 4h0m2-3h0m9 1h0m21-2h0m1 0h0m2 4h0m1 1h0m3-5h0m3 1h0m25 2h0m1-2h0m0 4h0m2-1h0m1-1h0m5 1h0m0-1h0m0-2h0m1 0h0m1 4h0m3 1h0m5-3h0m3-1h0m0 0h0m1 2h0m0-2h0m1 3h0m1-2h0m3 0h0m5-1h0m1 1h0m1-1h0m1-1h0m0 3h0m5-3h0m2 1h0m0 0h0m4 3h0m1-1h0m3 0h0m1-4h0m3 3h0m3-3h0m11 5h0m1-2h0m15 0h0m4 0h0m1 0h0m2 2h0m2 0h0m3 0h0m-308 3h0m1-2h0m1 3h0m1-1h0m1-1h0m0 4h0m1-1h0m0-2h0m2 1h0m1-1h0m0 2h0m0-2h0m2-2h0m1 0h0m0 5h0m0-3h0m0 1h0m0 0h0m2-3h0m1 2h0m0-2h0m1 1h0m2 1h0m0 0h0m1 3h0m0-1h0m1-3h0m0 4h0m0-4h0m3-1h0m1 4h0m1 1h0m1-4h0m0-1h0m2 3h0m2-2h0m0 1h0m0 1h0m1-2h0m3 3h0m0 2h0m2-1h0m0-1h0m3 0h0m2-3h0m1 1h0m0 4h0m2-3h0m0 0h0m4 1h0m1-1h0m1-1h0m5 2h0m2 0h0m0-2h0m0 0h0m1 1h0m0-3h0m0 4h0m1 0h0m0 0h0m1 2h0m0-3h0m6 1h0m4-3h0m1 0h0m0 3h0m0-4h0m3 6h0m0-5h0m0 3h0m1-4h0m0 1h0m1-1h0m0 0h0m2 6h0m1 0h0m1-4h0m0 3h0m0-3h0m0 4h0m2 0h0m0-5h0m1 3h0m0-4h0m1 5h0m0 1h0m2 0h0m0-1h0m1-5h0m0 1h0m1 0h0m1 3h0m5-2h0m0-1h0m1 2h0m0 3h0m4-2h0m0-3h0m0-1h0m2 6h0m0-2h0m3-4h0m2 1h0m3 0h0m17 3h0m4-2h0m1-2h0m2 3h0m8-1h0m15 0h0m10-1h0m15 3h0m17 0h0m1-3h0m18 1h0m4 2h0m8-3h0m5 1h0m20 4h0m6-3h0m1-2h0m1 2h0m2 0h0m5 1h0m1 1h0m0-2h0m2-1h0m2-2h0m5 5h0m0-2h0m21-1h0m2-1h0m18 4h0m1-2h0m0-2h0m-321 7h0m1 4h0m1-4h0m2 0h0m1 4h0m0-2h0m1 0h0m0-4h0m0 6h0m3-3h0m2 3h0m0-1h0m2-2h0m2 0h0m0-2h0m2 0h0m1 3h0m0-2h0m0 1h0m1-2h0m0 1h0m0 4h0m1-5h0m0 0h0m0-1h0m1 3h0m1-1h0m2 2h0m0-2h0m3 0h0m0 3h0m0-5h0m4 3h0m1-1h0m3 3h0m1-4h0m0 0h0m2 4h0m1 1h0m0-2h0m1-2h0m0 0h0m0 1h0m0 1h0m2-2h0m1 1h0m1-2h0m0 1h0m6 4h0m1 0h0m2-1h0m1-1h0m0 0h0m1-1h0m1-2h0m0 2h0m1 0h0m3-1h0m0 3h0m1-3h0m2 1h0m1-3h0m0 2h0m2-2h0m0 5h0m1 1h0m1 0h0m0-2h0m1-4h0m0 3h0m2-2h0m1-1h0m1 1h0m1 5h0m1-6h0m2 3h0m0-1h0m0 4h0m1-4h0m1 1h0m3 2h0m1-2h0m1-2h0m5 1h0m0-1h0m1 2h0m1 1h0m0-1h0m1 0h0m1 2h0m0-1h0m2-1h0m0-2h0m6 3h0m26-2h0m10 2h0m8-4h0m4 3h0m5 1h0m7 0h0m10 2h0m1-3h0m8-2h0m4 0h0m2 5h0m11-5h0m20 1h0m9 1h0m6 0h0m6 3h0m4-2h0m1-2h0m1 1h0m3 0h0m11-3h0m1 1h0m3 4h0m0-5h0m1 5h0m0-4h0m0 3h0m1 1h0m3-3h0m0 1h0m2 3h0m0-5h0m1 3h0m1-3h0m0 2h0m1 2h0m4-3h0m1-2h0m1 0h0m5 2h0m4 3h0m1 0h0m5-2h0m0-1h0m1 0h0m4 2h0m0-1h0m6 1h0m5-2h0m13 2h0m-322 6h0m3-1h0m0 3h0m3-1h0m1-4h0m0 3h0m1-4h0m0 6h0m0-1h0m1 0h0m1-2h0m1 1h0m1 0h0m1 1h0m2-4h0m0 4h0m0-3h0m1-1h0m0 0h0m0 3h0m0-2h0m1-1h0m0 1h0m1 1h0m1 2h0m0-3h0m1 3h0m3-4h0m0 0h0m1 5h0m2-5h0m0 2h0m2 1h0m5-1h0m0 0h0m1-1h0m0 4h0m0-5h0m0 1h0m1 2h0m2-3h0m3 0h0m1 4h0m1-4h0m3 0h0m1 1h0m1-2h0m0 3h0m1-3h0m1 5h0m0-2h0m0-1h0m1 0h0m0 2h0m1-2h0m0 2h0m2-3h0m0 2h0m1-2h0m2 0h0m1-1h0m0 5h0m5 0h0m2 0h0m0 1h0m0 0h0m0-3h0m1 1h0m0-2h0m2 4h0m2-1h0m0-5h0m1 2h0m0 0h0m2 1h0m0-1h0m1 1h0m1-1h0m0 3h0m2 0h0m0-3h0m1-1h0m2-1h0m0 2h0m1 2h0m0-1h0m1 1h0m0-1h0m3-1h0m0 3h0m2-1h0m0-4h0m1 5h0m1-4h0m0 0h0m0 4h0m3-3h0m0 1h0m3-2h0m2 5h0m16-1h0m4-4h0m1 3h0m0-2h0m11-1h0m1 1h0m4 0h0m0 2h0m14-4h0m1 4h0m8-2h0m1 0h0m0 3h0m12-1h0m14 0h0m0 0h0m5 1h0m9 0h0m35-2h0m6 2h0m2-2h0m2 1h0m1 0h0m9 0h0m12 0h0m5 2h0m1-2h0m1-1h0m1-3h0m3 4h0m1-2h0m0 3h0m0-1h0m5-2h0m0 2h0m1-3h0m4-1h0m2 4h0m1-3h0m0 4h0m3-2h0m2 3h0m1-1h0m2-5h0m3 5h0m0-1h0m4-4h0m-305 9h0m2-2h0m1 4h0m3-3h0m1 1h0m0-2h0m1 0h0m5 2h0m1-2h0m0 0h0m0 1h0m2 1h0m1-3h0m2 2h0m2 3h0m1 1h0m2-2h0m1-2h0m1 1h0m1 0h0m2 0h0m2 3h0m3-1h0m1 0h0m0-1h0m1-2h0m0-1h0m1 2h0m0 0h0m4-2h0m0 0h0m3 2h0m1 1h0m3 1h0m1-1h0m0-3h0m3 0h0m0 1h0m1 4h0m1-2h0m2-2h0m0 2h0m1 0h0m4 1h0m0-4h0m2 1h0m1 2h0m1 2h0m1-2h0m3-4h0m0 5h0m0-4h0m0-1h0m1 2h0m2-1h0m1 3h0m0-1h0m1-3h0m4 2h0m2 3h0m1-2h0m2 0h0m2-2h0m3 5h0m0-5h0m1 0h0m0 0h0m1 1h0m2-1h0m0 0h0m3-1h0m23 5h0m7-5h0m0 0h0m13 1h0m6 0h0m21 4h0m6-5h0m0 2h0m1 2h0m12-1h0m1 0h0m23 2h0m2 1h0m10-4h0m9 2h0m7-3h0m6 1h0m2-1h0m3 0h0m1 5h0m1-4h0m1 0h0m2-1h0m12 1h0m4 1h0m3 0h0m3-3h0m3 4h0m1 1h0m3-3h0m2 1h0m5-3h0m1 6h0m1-5h0m1 3h0m2 1h0m1-1h0m3-3h0m3 1h0m3-2h0m5 4h0m8-3h0m1 4h0m3-4h0m3 1h0m-321 6h0m0 0h0m2 0h0m0-2h0m1 3h0m0 1h0m0 1h0m1 0h0m1-4h0m1 3h0m2-4h0m3 1h0m0 0h0m1 0h0m0 3h0m3-1h0m0-1h0m4 2h0m1-3h0m1 3h0m1 0h0m2-3h0m0-1h0m0 3h0m1-1h0m0 1h0m2 2h0m2-1h0m1-2h0m0-1h0m0-1h0m2 1h0m0 4h0m3-1h0m1-3h0m1 2h0m0 2h0m1-1h0m2 0h0m0-2h0m1 2h0m1-3h0m2 3h0m0-3h0m2 0h0m3 0h0m0 2h0m1 1h0m0 1h0m2-2h0m1 1h0m0-2h0m0-1h0m1 0h0m1 0h0m2 1h0m2 2h0m2-3h0m0 0h0m7 1h0m10 0h0m2 0h0m4-2h0m27 1h0m31 0h0m21 0h0m10 4h0m1-1h0m2-4h0m0 3h0m6-2h0m27 3h0m1-4h0m4 2h0m14 4h0m1-3h0m0 2h0m3-3h0m7 4h0m7-1h0m4 0h0m3-4h0m0 3h0m1 2h0m7-2h0m9-1h0m4 1h0m9 0h0m3 2h0m4-1h0m1-5h0m0 4h0m3-3h0m1-1h0m3 6h0m0-3h0m1 1h0m5 2h0m1-4h0m2 0h0m2 1h0m-310 4h0m4 4h0m1-1h0m2-3h0m0 5h0m0-4h0m2-1h0m0 1h0m3 2h0m1-1h0m0 0h0m0-2h0m0 1h0m1 3h0m1-1h0m1-1h0m0 0h0m2 2h0m1-4h0m1 0h0m0 0h0m0 1h0m1-1h0m1 3h0m0 0h0m1 1h0m5-3h0m0-1h0m2 1h0m10-1h0m1-1h0m2 2h0m3-2h0m2 4h0m6-4h0m0 3h0m11 0h0m10-1h0m7 0h0m11 1h0m1 2h0m9 0h0m1 1h0m9-1h0m39 0h0m1-5h0m3 1h0m36 4h0m0-2h0m7-1h0m2 4h0m7-2h0m6 0h0m6 0h0m4-2h0m3 3h0m1 1h0m0-4h0m0 3h0m0-2h0m1 2h0m4-1h0m0-2h0m5 1h0m6-1h0m2 2h0m0-1h0m3-1h0m2 3h0m1-3h0m6 1h0m10-3h0m3 6h0m1-3h0m0 0h0m9 0h0m4-1h0m3 1h0m3 2h0m1-2h0m0-1h0m0 3h0m1-2h0m0-3h0m3 4h0m0-1h0m2-2h0m2 3h0m5 1h0m1-1h0m0-3h0m2 4h0m2-5h0m-309 8h0m0 0h0m2 3h0m0-4h0m1 0h0m1 4h0m1 0h0m4 1h0m8-4h0m20-1h0m4-1h0m15 6h0m1-4h0m3 1h0m8-2h0m4 3h0m4-4h0m4 4h0m9-2h0m3 1h0m6-2h0m2 1h0m4 1h0m1-1h0m2 4h0m8-2h0m11-2h0m2 3h0m6-1h0m11 1h0m52-2h0m2 2h0m12-1h0m12 2h0m7-5h0m3 5h0m5-5h0m5 1h0m3 1h0m1-2h0m8 1h0m1-1h0m0 1h0m7 0h0m1-2h0m3 1h0m3 4h0m2 1h0m6-4h0m5-1h0m2 4h0m1-3h0m2-1h0m2 5h0m0 0h0m3-2h0m2-1h0m0 2h0m1-1h0m2-2h0m3 1h0m0-2h0m2 0h0m2 5h0m1-3h0m0 0h0m1-1h0m4 2h0m-307 8h0m1-5h0m5 0h0m2 5h0m4-3h0m4 0h0m20 1h0m4-4h0m5 1h0m3 3h0m1 0h0m3 0h0m2-1h0m4-1h0m12-2h0m4 4h0m1-2h0m13-1h0m15 1h0m4 0h0m4 3h0m2-1h0m10-4h0m0 5h0m8-4h0m2 4h0m1 1h0m7-1h0m4-2h0m0 2h0m6 0h0m0 0h0m4 0h0m19 0h0m2-1h0m6-3h0m10-1h0m2 2h0m4 4h0m0-5h0m1 0h0m3 3h0m17-4h0m2 5h0m9-4h0m0 5h0m12-1h0m15 0h0m8 0h0m1 1h0m7-4h0m3 0h0m1 1h0m4-2h0m2 4h0m0-2h0m5 2h0m2-3h0m1 3h0m1-3h0m3 3h0m2-5h0m1 4h0m2-4h0m1 5h0m1 0h0m2-1h0m1-4h0m0 3h0m-309 8h0m5-1h0m4 0h0m5-3h0m5 2h0m8 3h0m1-1h0m7 0h0m2 1h0m16-2h0m13 0h0m11 0h0m4-2h0m8 0h0m15 3h0m16 0h0m5-3h0m1 2h0m2-2h0m1 3h0m1 0h0m1 1h0m13-3h0m1-3h0m3 2h0m21 1h0m1-1h0m6 0h0m10 0h0m0 1h0m2-2h0m0 4h0m0-3h0m2-1h0m1 2h0m4 3h0m7-1h0m1-1h0m6-2h0m1 2h0m3 1h0m3-5h0m1 3h0m7-1h0m6 0h0m1 4h0m9-1h0m1-2h0m6-3h0m2 6h0m7-6h0m4 5h0m0 0h0m2-1h0m9 2h0m3-4h0m0 2h0m1-2h0m1 3h0m1-2h0m9-1h0m0 0h0m1 0h0m0-1h0m4 2h0m2-1h0m0 0h0m3 1h0m1 1h0m1-1h0m5-3h0m5 5h0m-308 6h0m4-5h0m6 3h0m0 1h0m0-3h0m4 3h0m7-1h0m3-1h0m9 1h0m0 1h0m0 2h0m17-1h0m7-2h0m1-2h0m5 3h0m11-3h0m6 5h0m13-2h0m0 0h0m4 0h0m8-1h0m16 2h0m2 0h0m0-1h0m6 1h0m20-1h0m30-3h0m0 0h0m3 2h0m2 0h0m0 0h0m2 3h0m5-3h0m0-3h0m2 5h0m8-1h0m8 1h0m2 0h0m2-3h0m9-2h0m1 1h0m6 1h0m1-1h0m1 2h0m0 3h0m8-1h0m1-3h0m0 1h0m8-1h0m17-1h0m12 4h0m4-2h0m0 1h0m6-1h0m3 1h0m1-1h0m3-2h0m0 2h0m3 0h0m3 2h0m1-2h0m1 0h0m0-2h0m3 0h0m1-1h0m2 0h0m-308 7h0m1 0h0m0 5h0m11-5h0m3-1h0m5 4h0m5-1h0m7 2h0m4-2h0m4-1h0m9 0h0m3 4h0m9-4h0m1 3h0m3-1h0m0 1h0m4-5h0m11 2h0m9 4h0m4-2h0m0 0h0m2-3h0m1 2h0m18 1h0m7 1h0m1 1h0m6-4h0m8-1h0m7 0h0m2 2h0m3 2h0m1-4h0m3 2h0m3 1h0m12-2h0m4 1h0m5-3h0m3 2h0m2 3h0m0-5h0m2 4h0m2-4h0m1 2h0m22 2h0m3-2h0m4 3h0m3-4h0m1 1h0m7 3h0m6-4h0m7 1h0m8 3h0m2-2h0m2 2h0m1-5h0m1 3h0m10 2h0m7-1h0m25-3h0m0 3h0m1-2h0m1 2h0m3-1h0m1-1h0m1 1h0m1 2h0m1 0h0m0-3h0m2-1h0m-307 5h0m1 4h0m3-1h0m1-2h0m1 4h0m6-2h0m4-1h0m7 3h0m5-2h0m3 0h0m13 2h0m1-4h0m0-1h0m5 6h0m2-4h0m11 2h0m3-3h0m0 1h0m3 1h0m1-2h0m0-1h0m2 1h0m0-1h0m7 2h0m10-2h0m3 5h0m3-1h0m1 2h0m2 0h0m14 0h0m3 0h0m9-1h0m3-1h0m14-2h0m7-1h0m5 3h0m5 1h0m1-1h0m10-2h0m6 4h0m1-2h0m3 0h0m4 1h0m8-2h0m8-3h0m2 2h0m1 2h0m3-2h0m6 0h0m13 3h0m4-3h0m4 1h0m19 2h0m1 1h0m13-2h0m7 2h0m6 0h0m1-3h0m9-3h0m4 3h0m0 3h0m2-2h0m4-1h0m6-2h0m-302 9h0m0-2h0m1 0h0m3-1h0m1 3h0m12 1h0m10 0h0m4-3h0m1-1h0m8 1h0m11 0h0m7-1h0m13 0h0m37 0h0m1 0h0m1 0h0m9 4h0m2-5h0m3 1h0m5 4h0m1-5h0m0 2h0m4 1h0m6 0h0m1 2h0m1-1h0m3 0h0m6-3h0m5 3h0m6 0h0m17-2h0m4 1h0m5 3h0m1-2h0m11-4h0m5 4h0m2-2h0m1 0h0m0 0h0m1-1h0m9 4h0m13 0h0m12-4h0m7 0h0m7 4h0m2-4h0m0 4h0m2-2h0m0-2h0m4 5h0m0-2h0m12-1h0m2 0h0m2-2h0m9 4h0m4-5h0m-279 6h0m11 3h0m14 0h0m4-2h0m0 1h0m2 0h0m14 3h0m1-3h0m1 0h0m4 1h0m4 2h0m4-4h0m9 5h0m7-3h0m6-1h0m4 1h0m1 0h0m2 0h0m7 0h0m1 3h0m3-3h0m10 3h0m5-2h0m0-3h0m11 5h0m11-6h0m3 4h0m10 2h0m2-3h0m0 1h0m1-2h0m11 3h0m7-3h0m5-2h0m16 3h0m1 0h0m10 0h0m4 1h0m4 1h0m4-3h0m0 1h0m9-2h0m2 4h0m1-4h0m0 1h0m1 1h0m15 2h0m5-4h0m11 1h0m16 0h0m5 2h0m3-3h0m-291 10h0m7-5h0m5 0h0m1 4h0m8 2h0m3-4h0m1 1h0m28 2h0m3-4h0m3 3h0m11 0h0m0-2h0m3-1h0m6 0h0m5 2h0m3 0h0m7-2h0m3 1h0m8-2h0m7 1h0m2 3h0m3 0h0m16-4h0m1 1h0m6 4h0m4 0h0m0-1h0m2-2h0m5 4h0m1-2h0m5 1h0m6 0h0m1-3h0m1 2h0m0-2h0m1 1h0m3 2h0m16 0h0m0-5h0m1 5h0m9 0h0m5 0h0m8-1h0m0 2h0m2 0h0m23-5h0m1 4h0m2-5h0m3 5h0m13 0h0m2-3h0m8 2h0m1 1h0m2 0h0m11-5h0m7 1h0m2 3h0m1-2h0m-286 5h0m2 1h0m5 2h0m1-3h0m7 1h0m1 3h0m5 1h0m6-1h0m1-1h0m3 0h0m4 0h0m3 0h0m3-3h0m1 3h0m2-2h0m10 0h0m1 3h0m3-4h0m0 1h0m1 1h0m2 1h0m7-1h0m6 2h0m2 0h0m1 1h0m10-1h0m8-4h0m10 3h0m0-2h0m8 4h0m13-5h0m4 2h0m2 0h0m3 1h0m8-3h0m1 0h0m5 4h0m17-2h0m9 2h0m0-3h0m8 2h0m4-1h0m0 0h0m3 1h0m0-4h0m7 3h0m14-3h0m3 1h0m1 2h0m3-1h0m5 2h0m0-1h0m5 2h0m7 1h0m5 0h0m5-4h0m2 2h0m1 0h0m11-1h0m6-2h0m5 2h0m5 3h0m2-5h0m3 1h0m5-1h0m-286 11h0m2-5h0m5-1h0m19 0h0m27 0h0m17 1h0m4 3h0m16-1h0m2-2h0m0 5h0m2-1h0m26-2h0m0-3h0m1 3h0m5 1h0m2-1h0m8 1h0m18-2h0m5 3h0m1-3h0m1-1h0m9 2h0m2-3h0m0 3h0m2-2h0m9 0h0m0 1h0m5 0h0m11-1h0m5 2h0m3-1h0m3-1h0m1-1h0m3 0h0m0 6h0m1-5h0m23-1h0m1 4h0m10-2h0m2 1h0m20 3h0m0-4h0m-264 5h0m0 0h0m1 1h0m1-1h0m6 1h0m6 0h0m2-1h0m1 4h0m9-4h0m2 3h0m13-3h0m1 4h0m0 0h0m1-3h0m1 4h0m3-3h0m13-2h0m10 2h0m8-1h0m5 0h0m0 0h0m12 2h0m9 2h0m3-1h0m4-4h0m8 2h0m37 2h0m5-4h0m2 3h0m7-4h0m2 4h0m1-2h0m11 1h0m3-1h0m8 1h0m2-3h0m4 0h0m7 1h0m5 1h0m4-1h0m1 2h0m8 2h0m1 0h0m8 0h0m2 0h0m4 1h0m15-1h0m4-1h0m-253 3h0m2 0h0m23 4h0m1-4h0m16 0h0m2 1h0m1-2h0m7 5h0m22-4h0m2-1h0m0 2h0m1 3h0m3-1h0m4-3h0m2 0h0m9 2h0m1 3h0m2-3h0m5 0h0m9-3h0m6 5h0m5-1h0m3-3h0m3 0h0m2 1h0m8 3h0m4-3h0m8 1h0m7-1h0m6 3h0m3-5h0m2 2h0m1 4h0m3-5h0m4 1h0m1-2h0m1 3h0m5 1h0m13-3h0m9 0h0m2 0h0m6 2h0m1 3h0m4-6h0m7 4h0m9-2h0m2 1h0m16-3h0m-226 8h0m2 3h0m1-5h0m5 1h0m12 1h0m3 1h0m2 2h0m6 0h0m1-2h0m19-1h0m0-2h0m3 6h0m3-1h0m1-2h0m9 2h0m15 1h0m6-4h0m2 1h0m5 3h0m3-3h0m13-1h0m3-1h0m1 1h0m1 0h0m11 2h0m20-2h0m6 3h0m2-4h0m2 1h0m6 0h0m2 3h0m10 0h0m4-4h0m3 3h0m6-2h0m13 3h0m15-1h0m5-2h0m3 0h0m1 2h0m-246 7h0m11-4h0m2 1h0m3-2h0m5 2h0m0 1h0m2 1h0m5-1h0m2-1h0m1 1h0m9 1h0m7 0h0m6-1h0m2 3h0m2-4h0m0 2h0m4 0h0m1-1h0m3 2h0m1-1h0m12 0h0m18-3h0m3 4h0m6 0h0m6-3h0m7 2h0m11 0h0m2-2h0m2 2h0m2 1h0m2-2h0m0-3h0m7 5h0m6-3h0m20-1h0m10 4h0m2 0h0m4-4h0m2 0h0m7 4h0m1-3h0m1-1h0m12 0h0m1 2h0m1-3h0m3 5h0m3-2h0m7 1h0m25 0h0m-243 2h0m1 5h0m13 1h0m3-2h0m1-3h0m1-1h0m3 4h0m1-2h0m6 1h0m5 2h0m7-4h0m5 1h0m4 2h0m5-2h0m7 3h0m6 1h0m2-2h0m6 0h0m1 0h0m0 0h0m10 2h0m1-6h0m2 1h0m2 2h0m1-1h0m5 3h0m7-5h0m29 6h0m1-5h0m3 0h0m23 4h0m10 1h0m6-2h0m10 0h0m1 1h0m9-3h0m14-2h0m5 3h0m1-3h0m6 1h0m1 2h0m1 1h0m12 0h0m12 1h0m2-2h0m-237 7h0m1 1h0m5-2h0m0-2h0m3 4h0m9-5h0m7 5h0m0-1h0m8-3h0m8 3h0m11-1h0m8 2h0m4-4h0m4 3h0m2-1h0m8-2h0m1-1h0m5 2h0m4-1h0m9 0h0m3 4h0m3-2h0m2-2h0m8 1h0m15 2h0m8-1h0m6 2h0m2 0h0m2-4h0m5 1h0m9 1h0m1-2h0m12 5h0m2-5h0m6 2h0m7 2h0m2 0h0m30-1h0m8 2h0m4-2h0m-216 6h0m19 1h0m3-5h0m5 2h0m12 1h0m8-1h0m1-1h0m12 0h0m4 0h0m3 2h0m3 3h0m7-3h0m6-1h0m2 0h0m0-1h0m1 2h0m1-1h0m2 0h0m0 2h0m20 0h0m2 0h0m15-4h0m3 4h0m21-2h0m9 2h0m29-2h0m8-2h0m10 2h0m12 2h0m0-3h0m-217 6h0m39 5h0m1 0h0m18-5h0m2 4h0m2-4h0m4 4h0m2-2h0m3-1h0m6 2h0m2-3h0m5 2h0m0-3h0m6 2h0m7 0h0m8 0h0m7 0h0m0 1h0m1-1h0m5-1h0m3 2h0m14 1h0m0 1h0m14-4h0m11 4h0m38-3h0m1 0h0m6 0h0m4 0h0m0 1h0m1-1h0m4 2h0m5-2h0m0 1h0m-193 4h0m2 2h0m15 1h0m9-3h0m3 1h0m0 1h0m8 0h0m4-1h0m0 0h0m15-1h0m3 0h0m8 4h0m14-4h0m4 2h0m2 1h0m11 0h0m7 2h0m3-3h0m3-3h0m2 2h0m7 2h0m7 1h0m1-2h0m19-3h0m7 6h0m1 0h0m6-1h0m1-3h0m8-2h0m1 1h0m12-1h0m-125 9h0m4 0h0m2 0h0m2-2h0m3-1h0m4 1h0m11 5h0m8-3h0m4-1h0m3 3h0m9-2h0m3 0h0m2 3h0m5-1h0m16-4h0m6 2h0m7-2h0m1 0h0m11 1h0m4 0h0m2-2h0m13 1h0m18 0h0m-135 6h0m4-1h0m6 4h0m4 0h0m6 1h0m2-4h0m8 3h0m17-1h0m3-3h0m4 0h0m1 3h0m3 1h0m0-2h0m2-1h0m3 1h0m7 1h0m1 2h0m2 0h0m2-1h0m1 1h0m3-4h0m10 0h0m3 3h0m3 2h0m8-3h0m3 1h0m17-2h0m1 2h0m4-1h0m-107 4h0m1 1h0m4 3h0m8-4h0m2 4h0m14-4h0m11 0h0m5 0h0m6-1h0m16 5h0m44 1h0m1 0h0m-99 1h0m14 1h0m2 0h0m9 2h0m0-3h0m2 1h0m2 2h0m18 2h0m1-5h0m2 1h0m7 0h0m6 4h0m16 0h0m12-1h0m-58 3h0m0-1h0m1 2h0m11-3h0m2 3h0m13-2h0m5 0h0m6 0h0m8 5h0m10-3h0m4-1h0m-3 5h0" stroke="#fff" stroke-width="3.00" stroke-linecap="round" fill="none"/>
<path transform="scale(.5)" d="M438 82h0m28-2h0m-84 14h0m3-2h0m45 4h0m-29 1h0m-48 7h0m23-1h0m39 1h0m-69 5h0m63 3h0m3 0h0m46-4h0m22 5h0m-51 1h0m-57 11h0m69-1h0m-38 4h0m41 1h0m103 1h0m-36 2h0m22 0h0m31 0h0m-223 12h0m32 6h0m79-5h0m-137 10h0m25-3h0m55-1h0m41 2h0m20 0h0m-88 7h0m21-2h0m85 1h0m36 3h0m13-5h0m-203 7h0m140 2h0m70-3h0m48 3h0m1-2h0m0-1h0m16 1h0m-212 5h0m42 4h0m1-4h0m19 4h0m16-4h0m27 4h0m12 0h0m56-4h0m48 3h0m-187 4h0m14 0h0m171 3h0m-288 3h0m29 4h0m213-3h0m6 3h0m-219 1h0m275 3h0m-321 2h0m93 1h0m139 1h0m-194 5h0m58 3h0m37-3h0m13 4h0m32-4h0m88 1h0m63 2h0m-301 3h0m38 0h0m92 2h0m18 1h0m34-2h0m12-1h0m4 2h0m58 1h0m5-1h0m-265 3h0m17 2h0m44-1h0m71 1h0m93-2h0m29 6h0m5-1h0m22-1h0m-275 7h0m49-1h0m33-1h0m46-2h0m29 3h0m19-2h0m77 3h0m-247 3h0m201 0h0m-142 9h0m51 0h0m155-2h0m4-2h0m-123 9h0m34-3h0m43 0h0m21 5h0m-131 11h0" stroke="#D99136" stroke-width="3.80" stroke-linecap="round" fill="none"/>
</g>
<g clip-path="url(#cB1)">
<g filter="url(#rag2)">
<path transform="matrix(0.667 0 0 0.6706 375.2 52.76)" d="M146.3 97.4L149.4 80.7L157.8 66.0L170.3 53.5L180.7 48.3L195.3 61.9L207.9 68.1L201.6 76.5L199.5 91.1L201.6 107.8L207.9 120.3L207.9 126.6L191.2 125.5L174.5 121.4L159.8 116.2L150.4 107.8Z" fill="#41B062"/>
<path transform="matrix(0.667 0 0 0.6706 375.2 52.76)" d="M179.3 49.1L200.2 40.8L216.9 38.1L233.6 38.7L250.3 42.9L264.9 49.1L277.4 57.5L284.7 64.8L281.6 72.1L271.2 76.9L254.5 74.2L237.8 71.1L221.1 67.9L206.4 69.0L193.9 62.7Z" fill="#6DB44E"/>
<path transform="matrix(0.667 0 0 0.6706 375.2 52.76)" d="M270.0 75.9L280.5 71.1L285.0 66.3L295.1 76.3L305.5 88.9L313.9 101.4L315.5 110.8L309.7 120.2L299.2 123.3L282.5 122.3L265.8 124.3L261.7 116.0L259.6 103.5L261.7 90.9L265.8 78.4Z" fill="#3FB6A1"/>
<path transform="matrix(0.667 0 0 0.6706 375.2 52.76)" d="M206.5 68.0L221.1 66.9L237.8 70.0L254.6 73.2L267.1 78.4L262.9 90.9L260.8 103.5L262.9 116.0L267.1 124.3L254.6 130.6L237.8 132.7L221.1 126.4L206.5 120.2L200.3 107.6L198.2 90.9L200.3 76.3Z" fill="#31B7DD"/>
</g>
<path transform="scale(.5)" d="M978 173h0m-4 6h0m5-2h0m1 3h0m0-2h0m1 0h0m1-3h0m2 3h0m2 0h0m0-1h0m0 3h0m2-1h0m1-4h0m2 0h0m1-1h0m3 2h0m3 0h0m-25 10h0m1-4h0m2-1h0m0 2h0m0 3h0m5-2h0m0-1h0m4-2h0m0 0h0m11 3h0m0-4h0m0 3h0m0 1h0m0 0h0m0-3h0m2-1h0m2 2h0m0-2h0m2 0h0m1 2h0m1 2h0m-40 4h0m1 3h0m4-2h0m2-3h0m0 6h0m0-3h0m0 0h0m2-3h0m0 1h0m29 2h0m5 1h0m0 2h0m0-1h0m0 1h0m1-3h0m3-2h0m0 5h0m-52 4h0m5-3h0m1 3h0m5-4h0m0 1h0m2-1h0m35 2h0m5 0h0m0 2h0m1-4h0m1 3h0m1 1h0m1-1h0m3 1h0m0-4h0m2 5h0m2-2h0m2 2h0m-66 7h0m1-1h0m3 0h0m0 1h0m2-4h0m0-1h0m52 4h0m1-3h0m0 2h0m0 0h0m5-2h0m1 4h0m1-5h0m0 1h0m1-2h0m9 4h0m2-2h0m2 4h0m8-2h0m2 0h0m1 1h0m1-1h0m14 0h0m9 0h0m8 0h0m-128 6h0m2-2h0m3 4h0m2-1h0m51 0h0m2-1h0m0-3h0m0 4h0m0-1h0m1-2h0m1-2h0m1 0h0m1 5h0m0-5h0m0 6h0m1-3h0m0 2h0m0-3h0m1 0h0m0 3h0m1 0h0m3-5h0m0 4h0m0-2h0m1-1h0m11 3h0m0 1h0m1-4h0m2 0h0m7 4h0m45-1h0m-139 5h0m1 1h0m1 0h0m2 1h0m0 0h0m55 0h0m1-5h0m0 3h0m1-2h0m1 2h0m1 0h0m0 0h0m1-3h0m0 3h0m6 2h0m5-3h0m2-1h0m0 5h0m5-5h0m0 0h0m0 0h0m0 4h0m3-1h0m1-1h0m0 3h0m0-2h0m0-1h0m5 2h0m5 0h0m29-3h0m22-1h0m-148 5h0m1 6h0m3-2h0m1-1h0m55 0h0m1 3h0m0-2h0m1-1h0m0-1h0m1 1h0m1-2h0m1 0h0m3 2h0m1 0h0m2 0h0m1 1h0m1-1h0m2-1h0m1 3h0m0-4h0m0-1h0m1 6h0m3-2h0m0-2h0m0-2h0m2 1h0m3 3h0m1 1h0m1-2h0m2 2h0m1-3h0m3 1h0m5 2h0m9-2h0m46-2h0m-156 10h0m0-5h0m1 5h0m0 0h0m1 1h0m1-5h0m0 1h0m0 1h0m2 2h0m0 0h0m0-1h0m2-2h0m56-2h0m5 3h0m1 0h0m1-3h0m6 4h0m0 1h0m2-2h0m1 0h0m3 2h0m9-3h0m2 1h0m0-1h0m4-1h0m1 1h0m0 0h0m2-1h0m4 4h0m18-3h0m12 4h0m3-1h0m2-3h0m3 4h0m3-4h0m2-1h0m-148 5h0m2 1h0m2 0h0m1 2h0m1-3h0m0 1h0m1 1h0m0 3h0m57-2h0m0 2h0m1-1h0m0 2h0m2-5h0m1 1h0m1-1h0m1 4h0m2-1h0m4 0h0m3 1h0m5 1h0m0-3h0m1 1h0m1-1h0m7 2h0m2-1h0m1 2h0m3-5h0m1 1h0m1 0h0m0 1h0m30-1h0m-129 6h0m0 1h0m4 1h0m2 1h0m56 0h0m2-3h0m2-2h0m0 5h0m1-2h0m2 0h0m0-3h0m0 0h0m5 2h0m0 2h0m1-2h0m1-2h0m0 2h0m2 4h0m1-3h0m0 1h0m4-1h0m3-1h0m7 2h0m1-1h0m1-1h0m3 4h0m21-4h0m2-2h0m5 3h0m22 2h0m-148 2h0m1 0h0m1 1h0m1 3h0m0-4h0m1 4h0m0-4h0m0 1h0m1 3h0m0-3h0m1 1h0m57 1h0m0 0h0m0 1h0m1-2h0m0 2h0m2-1h0m2 1h0m0-1h0m2 0h0m1-3h0m3-1h0m1 5h0m1-1h0m0 1h0m3-1h0m2-1h0m0-1h0m1-1h0m0 3h0m4-3h0m1 1h0m2 2h0m1-3h0m0 0h0m31 1h0m10 1h0m-128 6h0m3-2h0m1 4h0m0-1h0m1 2h0m2-1h0m1 1h0m3-1h0m49 0h0m2-2h0m0 0h0m0-3h0m1 5h0m1-5h0m0 1h0m1 5h0m1-5h0m1 4h0m1-2h0m0 0h0m4-1h0m1 3h0m2-3h0m8 3h0m2-5h0m1 5h0m2 0h0m1 0h0m1-2h0m3 0h0m7-1h0m2 1h0m8 3h0m18 0h0m0-1h0m7-1h0m1 1h0m-136 1h0m3 4h0m1-3h0m2 0h0m0 5h0m4-5h0m0 3h0m0-3h0m1-1h0m0 1h0m2 0h0m1 4h0m0-1h0m2 1h0m3-1h0m1 1h0m41-5h0m0 0h0m1 2h0m1 1h0m0-3h0m2 4h0m1-4h0m3 3h0m2 3h0m1-5h0m3 4h0m0-1h0m1-3h0m0 1h0m7-1h0m8 0h0m2 0h0m2 3h0m2 2h0m2-5h0m28 0h0m0 1h0m2-1h0m4 3h0m-117 4h0m1 3h0m2-3h0m0 0h0m5 0h0m1 4h0m0-2h0m1-2h0m0 1h0m2-1h0m5 3h0m3 0h0m29-2h0m4-1h0m3 1h0m0-3h0m1 1h0m0 2h0m3 3h0m1-5h0m3 5h0m2-4h0m5 4h0m1-2h0m4 0h0m2-3h0m4 1h0m8-2h0m14 4h0m0-4h0m26 1h0m-126 6h0m8-1h0m1 2h0m3-1h0m2 1h0m2-1h0m5 3h0m0 1h0m4-3h0m3 3h0m0-2h0m1-1h0m2 1h0m2 1h0m0 0h0m6-1h0m1 3h0m1-2h0m0 1h0m2-2h0m5 2h0m4 0h0m1-4h0m2-1h0m0 4h0m1 1h0m1-5h0m0 3h0m0-2h0m2 0h0m3 0h0m2 3h0m1-1h0m0-2h0m1 0h0m1 3h0m1-2h0m6 2h0m5-4h0m28 2h0m3 3h0m1-4h0m12 5h0m0-1h0m7 0h0m-108 1h0m7 1h0m4 0h0m7 1h0m5-1h0m7 3h0m2-3h0m33-1h0m24 1h0m-73 5h0m6 1h0m6 0h0m28-1h0m35 4h0" stroke="#41B062" stroke-width="2.80" stroke-linecap="round" fill="none"/>
<path transform="scale(.5)" d="M1014 162h0m4-3h0m3 0h0m1 3h0m1-4h0m3 0h0m1 2h0m2 1h0m1-2h0m0 2h0m2-1h0m3-1h0m0 1h0m2-1h0m1 3h0m0-6h0m4 0h0m3 1h0m1 2h0m2 2h0m0 1h0m0-4h0m2-2h0m2 4h0m0-1h0m2 2h0m1-1h0m0 1h0m1 1h0m3-2h0m0 2h0m2 0h0m1-1h0m2-3h0m1 2h0m2 1h0m0-4h0m8 4h0m-81 7h0m5-3h0m8-1h0m1 2h0m1 0h0m1 0h0m2-1h0m1 0h0m0 1h0m1-2h0m0 4h0m2-6h0m1 0h0m0 4h0m0 0h0m6-4h0m0 2h0m2 2h0m0-1h0m1-3h0m0 3h0m1-1h0m2 0h0m0-1h0m2-1h0m4 2h0m4-1h0m0 0h0m2 1h0m1 0h0m11 0h0m0 0h0m0-1h0m3-1h0m4 2h0m2 0h0m0-2h0m1 1h0m2-1h0m2 2h0m1 2h0m1 0h0m1-3h0m2 1h0m5 2h0m2-2h0m0 3h0m1 0h0m0-4h0m1 2h0m2 2h0m2-2h0m1 0h0m2 1h0m0 0h0m1-1h0m1-1h0m2 3h0m4 0h0m-102 5h0m2 1h0m2 1h0m1-2h0m2-2h0m1 1h0m1-2h0m0 0h0m2 0h0m2 2h0m0-1h0m1 1h0m0-1h0m1 1h0m3-2h0m0 1h0m4-2h0m67 1h0m0 2h0m4-2h0m1 1h0m1 3h0m1-2h0m1 0h0m2 0h0m0 0h0m2 2h0m0-4h0m1 5h0m1-1h0m1-1h0m0 1h0m0-2h0m2-2h0m1 1h0m1 3h0m1 1h0m-109 0h0m3 2h0m1-1h0m1 1h0m2 0h0m1 1h0m1-2h0m0 3h0m91-4h0m2 1h0m4-1h0m5 1h0m2 3h0m0-2h0m4 2h0m2-4h0m-113 6h0m5 0h0m2 2h0m0-2h0m3 2h0m5 4h0m94-5h0m0 1h0m1 0h0m0-2h0m1 4h0m0 0h0m2-2h0m0 2h0m2 0h0m1 2h0m0 0h0m5-1h0m2-2h0m1 0h0m-121 3h0m8 0h0m0 1h0m0 2h0m3-1h0m1-1h0m1 0h0m0-1h0m3 3h0m1 1h0m2-2h0m1 3h0m6 1h0m2-1h0m1 0h0m3 1h0m1 0h0m8-2h0m4 1h0m6 1h0m0-1h0m59-5h0m2 1h0m2 1h0m1 0h0m3 1h0m0 0h0m0 1h0m0 0h0m1-2h0m4 0h0m5 3h0m-121 1h0m7 1h0m1-1h0m2 4h0m5-2h0m1-1h0m0 1h0m1 0h0m4 2h0m0 0h0m0-1h0m1-1h0m2 0h0m0-2h0m0 4h0m1-2h0m0 0h0m1 3h0m2-1h0m1-1h0m1-3h0m2 0h0m0 0h0m1 2h0m2 0h0m2 1h0m0-2h0m2 2h0m0-1h0m1-1h0m1 5h0m0-2h0m1-2h0m2-2h0m4 5h0m1 1h0m1-1h0m0-1h0m3 1h0m0-3h0m1 2h0m1 0h0m1 2h0m0-3h0m4 1h0m1 0h0m2 1h0m0 1h0m0-1h0m1 0h0m3-1h0m1 0h0m1 1h0m3 0h0m8-1h0m30 1h0m3-5h0m0 1h0m1 4h0m1-3h0m1 1h0m0 1h0m0-3h0m0 5h0m1-4h0m0 1h0m2-1h0m-97 4h0m1 4h0m2 1h0m2-3h0m3-1h0m1 0h0m1 5h0m4-3h0m4-2h0m2 0h0m3 2h0m0 1h0m0 0h0m3-2h0m0 1h0m0-3h0m0 0h0m1 5h0m4-3h0m1 0h0m6 1h0m1 1h0m1-2h0m2 0h0m2 2h0m1-3h0m1 1h0m3-1h0m1 0h0m1 1h0m1 0h0m1 3h0m0-3h0m1 0h0m0-1h0m1 3h0m0 1h0m1-3h0m0-1h0m1 4h0m3-4h0m0 0h0m0 4h0m2-4h0m1 1h0m1 1h0m0 1h0m2 1h0m1-1h0m3 0h0m1-2h0m3 3h0m0-2h0m1 3h0m1-2h0m1 1h0m1-1h0m0 1h0m1-1h0m2-1h0m0-1h0m0 2h0m2-1h0m0 0h0m2 0h0m0 0h0m4 2h0m2-4h0m-92 9h0m1-2h0m0-1h0m1 0h0m0 0h0m2 4h0m1-2h0m2 2h0m1-4h0m4 2h0m2-1h0m3 2h0m2-1h0m0 3h0m2-4h0m2-2h0m1 5h0m2-4h0m3 0h0m3 1h0m0 0h0m3 1h0m1 1h0m1-3h0m0 3h0m3-2h0m1 1h0m2-3h0m2 2h0m1 3h0m1-1h0m4-2h0m1 2h0m2 0h0m1-1h0m1-1h0m0-2h0m1 6h0m1-6h0m3 3h0m2 2h0m1-2h0m1 0h0m1-1h0m2-1h0m2 2h0m3-3h0m2 4h0m2 1h0m0-4h0m5-1h0m-66 8h0m3-1h0m10 1h0m3 1h0m3 1h0m8-1h0m2-3h0m0 3h0m4-2h0m0-1h0m0 2h0m1-1h0m4 2h0m0 1h0m5-2h0m3 0h0m2 1h0m0 0h0m6-2h0m1 1h0m0 1h0m0 1h0m3-3h0m2 4h0m0-2h0" stroke="#6DB44E" stroke-width="2.80" stroke-linecap="round" fill="none"/>
<path transform="scale(.5)" d="M1131 197h0m-12 4h0m2 2h0m1-1h0m1-1h0m2 3h0m4-2h0m1 1h0m1-1h0m0 0h0m1-2h0m1-1h0m2 5h0m3-2h0m-53 5h0m10 2h0m14-4h0m3 5h0m0-6h0m0 5h0m6-5h0m1 4h0m1-2h0m2 3h0m1 0h0m0-3h0m2 2h0m2-2h0m0 1h0m1-1h0m2-1h0m7 4h0m3-2h0m1 0h0m3 1h0m0 1h0m-63 2h0m7 1h0m2 0h0m2 3h0m3-4h0m1 1h0m4 3h0m0 1h0m8-2h0m0 0h0m1-1h0m0-2h0m1 4h0m1 0h0m1-2h0m0-2h0m0 1h0m2-1h0m3-1h0m1 1h0m2-1h0m18 1h0m2 0h0m2 2h0m0 2h0m3 1h0m1-2h0m1-2h0m-66 5h0m0 4h0m0-1h0m2-2h0m0 0h0m2 0h0m1-1h0m1 1h0m0 1h0m1 3h0m1-5h0m0 3h0m1 2h0m1-5h0m2 1h0m0 2h0m0-2h0m0-2h0m5 4h0m0 0h0m4-1h0m3-1h0m1-1h0m1-1h0m1 2h0m0 4h0m2-2h0m1-4h0m34 1h0m1 3h0m1 1h0m0-2h0m1-3h0m0 3h0m2-2h0m1 4h0m-74 7h0m7-3h0m2 3h0m6-2h0m1 0h0m1 0h0m1-3h0m3 4h0m2 1h0m3-4h0m0 2h0m1 1h0m0-3h0m1-1h0m1 3h0m0 2h0m1-5h0m41 1h0m0-2h0m1 3h0m1-3h0m3 3h0m1 2h0m1-2h0m1 2h0m0-2h0m-75 6h0m4-1h0m0 1h0m1 0h0m0 0h0m0 0h0m1 2h0m0-2h0m0-2h0m1 1h0m1-1h0m4 1h0m2 0h0m2 3h0m0 0h0m0-4h0m1 1h0m1-1h0m2 1h0m0-1h0m1 2h0m50-2h0m1 0h0m1 1h0m1-1h0m4 5h0m2-1h0m1 1h0m2-5h0m-86 10h0m4-3h0m4 2h0m1 0h0m1-4h0m1 6h0m4-2h0m4-1h0m1 0h0m1 1h0m0 2h0m1-5h0m0 0h0m2 2h0m0-1h0m1-1h0m0 1h0m1 3h0m54-4h0m4 0h0m5 3h0m0 1h0m-90 5h0m1 1h0m5 0h0m3 0h0m1-1h0m6 0h0m3 0h0m0 1h0m5-1h0m3-2h0m57-2h0m1 3h0m1-2h0m2 3h0m1 0h0m0-3h0m1 2h0m1-1h0m0 2h0m2-1h0m2-1h0m-89 4h0m0 1h0m4 2h0m5 1h0m0 0h0m0-2h0m2 0h0m2 2h0m1-1h0m1-2h0m2-1h0m1 1h0m0 0h0m0 1h0m1-1h0m0 0h0m2 2h0m59 0h0m0-2h0m1 1h0m1 0h0m2 2h0m0 0h0m3 1h0m1-1h0m-93 7h0m0-4h0m3 4h0m0-1h0m2 0h0m4 1h0m3-3h0m3-2h0m2 5h0m2-5h0m3 3h0m1 0h0m2 1h0m0-3h0m1 2h0m1 3h0m58-1h0m3 0h0m5-2h0m1-2h0m-94 9h0m0 1h0m0-5h0m2 3h0m4 3h0m3-1h0m5-4h0m3 0h0m0 3h0m0-2h0m6-2h0m2 0h0m1 3h0m0 0h0m0 0h0m1 0h0m1 0h0m1 2h0m23 0h0m4 0h0m1 0h0m12 0h0m5 0h0m2 1h0m0-2h0m1 1h0m0 0h0m1 1h0m3-4h0m2 1h0m0-2h0m0 2h0m7 0h0m-88 5h0m0 3h0m2-3h0m0 2h0m7-2h0m2 1h0m5 0h0m0-2h0m4 2h0m0-3h0m5 1h0m0 1h0m5-1h0m1 3h0m3 2h0m6-6h0m2 1h0m2 3h0m0-1h0m0 1h0m2-2h0m0-2h0m1 1h0m1 1h0m2-1h0m0 1h0m0 2h0m0-2h0m2 0h0m5 2h0m1-3h0m0 4h0m2-4h0m0 3h0m2 1h0m1-2h0m1-1h0m3 2h0m0-2h0m2-1h0m1 5h0m1 0h0m1-5h0m0 4h0m0-2h0m1-2h0m0-1h0m1 3h0m0 0h0m1-3h0m0 4h0m2-1h0m5-1h0m0 0h0m-84 8h0m28-4h0m1 0h0m2 4h0m0-3h0m2 1h0m0-2h0m0 3h0m22-3h0m19 3h0m3 2h0m0-5h0m0 1h0" stroke="#3FB6A1" stroke-width="2.80" stroke-linecap="round" fill="none"/>
<path transform="scale(.5)" d="M1025 160h0m6 0h0m5-3h0m-32 10h0m7-1h0m11 1h0m1-2h0m39 0h0m13 2h0m-71 5h0m7 0h0m4 2h0m16-2h0m2-2h0m1 1h0m19 0h0m15 0h0m18-3h0m6 6h0m4-5h0m-111 10h0m1 0h0m7-4h0m0 3h0m1 1h0m4 0h0m11-1h0m6-3h0m8 1h0m15 2h0m19 2h0m21-4h0m7 2h0m27-2h0m-131 9h0m3-5h0m1 1h0m11 5h0m4-2h0m29-2h0m21-1h0m15 2h0m2-3h0m41 5h0m7 0h0m1-1h0m-149 7h0m1-4h0m2-1h0m6 3h0m2 1h0m0-4h0m3 4h0m19 0h0m0 2h0m2-5h0m7 1h0m0 0h0m6 3h0m6-5h0m8 5h0m8-3h0m31 1h0m16 3h0m2-1h0m0 0h0m1-3h0m3 1h0m4-1h0m5 1h0m21 1h0m-154 7h0m3-5h0m0 4h0m1 0h0m3-1h0m1-2h0m3 5h0m0-3h0m1 0h0m1 0h0m3 2h0m10-4h0m0 4h0m15 0h0m10-1h0m4 0h0m1-1h0m5 2h0m2-3h0m1-2h0m2 6h0m3-5h0m2 3h0m1-3h0m1 4h0m0-4h0m2 2h0m0 2h0m1-3h0m0 3h0m2-4h0m2 3h0m0 1h0m2 1h0m1-5h0m2 3h0m2 2h0m5-1h0m5 0h0m6-4h0m6 3h0m11 1h0m2 0h0m51 0h0m-171 6h0m3-5h0m3 5h0m4-3h0m2 1h0m3 0h0m11 0h0m1 3h0m1-3h0m13 0h0m1 0h0m4 2h0m0 0h0m1 1h0m2-1h0m0-1h0m1 1h0m0-1h0m1 0h0m2 2h0m0-1h0m0 1h0m1-4h0m2 2h0m2 1h0m1 1h0m1-6h0m1 0h0m1 2h0m1 3h0m0-1h0m1-1h0m3-2h0m2 0h0m0 1h0m1 3h0m2-3h0m1 2h0m1-2h0m1 1h0m0 0h0m1-1h0m0-1h0m1 0h0m0 4h0m2-3h0m0 1h0m1-3h0m0 2h0m2 2h0m1 1h0m3-1h0m0-1h0m0 2h0m1 0h0m0-1h0m2-3h0m0 3h0m2 0h0m0 2h0m1-5h0m1-1h0m1 4h0m1-1h0m1 2h0m3 1h0m0-1h0m1-1h0m0-4h0m1 4h0m1-4h0m0 4h0m1-3h0m1 4h0m0 0h0m0-2h0m0 1h0m0-1h0m2-1h0m1 1h0m3-1h0m0 3h0m2-4h0m2 1h0m0 4h0m0-5h0m2 3h0m1-1h0m3 1h0m3 0h0m2 0h0m1 2h0m0-1h0m5 0h0m3 0h0m0-1h0m4 1h0m19-3h0m-158 5h0m3 1h0m6 1h0m14-2h0m3 2h0m6 3h0m2 0h0m1 0h0m1-4h0m0-2h0m4 2h0m0 3h0m1 0h0m1-2h0m0-2h0m1 1h0m3-1h0m1 1h0m4 1h0m0-1h0m2 2h0m1-3h0m1 1h0m1-1h0m0 1h0m2 2h0m2-2h0m0-1h0m3 3h0m0-3h0m1 5h0m7-4h0m4 0h0m3 1h0m0 2h0m2-5h0m4 5h0m3-3h0m1 0h0m2-1h0m0 0h0m1 3h0m0-1h0m2-1h0m4 0h0m1-2h0m3 2h0m0 3h0m1-3h0m1-2h0m1 4h0m0-1h0m1-1h0m1 1h0m3 0h0m1 0h0m0-2h0m0 2h0m0-3h0m0 3h0m1 0h0m2-2h0m1 4h0m1-1h0m0-3h0m1 4h0m0-3h0m1 3h0m1-1h0m0-1h0m1 0h0m1 2h0m1-1h0m0-4h0m1 4h0m1-2h0m0 3h0m1-4h0m0 2h0m2 1h0m2 0h0m0 1h0m1-3h0m2 0h0m1 2h0m0 1h0m3-1h0m4 1h0m0-4h0m2 2h0m0 3h0m8-5h0m7 1h0m-165 6h0m4-1h0m0 1h0m7-1h0m1 3h0m3 2h0m4-3h0m1 3h0m1-6h0m3 3h0m3 1h0m6-1h0m1-3h0m1 4h0m0 1h0m1 0h0m2-4h0m0 3h0m0-2h0m1 0h0m0 3h0m0-4h0m0 2h0m2-1h0m1-1h0m0 0h0m3 4h0m3-3h0m0-1h0m1 5h0m1-5h0m2 2h0m0-1h0m1 0h0m1 2h0m1-2h0m2 0h0m0 3h0m0 0h0m0-4h0m2 2h0m0 2h0m0-3h0m3 2h0m0 1h0m0-3h0m3 3h0m1-3h0m0-1h0m1-1h0m30 0h0m6 1h0m9 2h0m1-1h0m4-2h0m3 4h0m2-2h0m5-1h0m1-1h0m3 1h0m2 4h0m2-3h0m0 1h0m1 0h0m2-3h0m2 6h0m1-2h0m1-1h0m0-3h0m0 1h0m1-1h0m0 1h0m0 2h0m0 2h0m1-3h0m0-1h0m1-1h0m2 5h0m5-2h0m4 2h0m5-2h0m30 3h0m-196 3h0m1-1h0m7 2h0m5-2h0m2 3h0m1 0h0m2-4h0m3 3h0m4-1h0m1 2h0m2-3h0m2 1h0m1-1h0m1 4h0m2-1h0m1-2h0m1-1h0m1 3h0m3-2h0m1 1h0m0 1h0m1-2h0m0-2h0m0 5h0m0-6h0m2 4h0m1-4h0m0 4h0m2-2h0m1-1h0m1 0h0m3-1h0m0 2h0m1-2h0m0 6h0m1-3h0m4-3h0m0 6h0m0-2h0m0-3h0m1 5h0m1-5h0m0 2h0m2 1h0m2-4h0m0 2h0m1 2h0m0-3h0m0 3h0m1-1h0m1 3h0m2-5h0m0 2h0m1 2h0m73 0h0m0-1h0m2-2h0m0 3h0m2-2h0m0 2h0m0 1h0m1-1h0m0 0h0m1-4h0m0-1h0m1 1h0m0 1h0m5 0h0m3 2h0m2-4h0m1 3h0m11 0h0m0 0h0m2 1h0m5 2h0m1-4h0m5 1h0m-192 4h0m2 2h0m15-1h0m5-1h0m7 4h0m4-5h0m5 4h0m4 2h0m1-2h0m2 0h0m1 1h0m1-3h0m1 0h0m1 0h0m0 0h0m0-2h0m0 4h0m1 1h0m0-3h0m1 0h0m1 0h0m1 2h0m0-1h0m1 0h0m0 2h0m0 0h0m2-1h0m1-2h0m0 0h0m1 1h0m1 0h0m1 2h0m1-4h0m1 0h0m1 4h0m1-1h0m0 1h0m0-3h0m4 0h0m1 2h0m0 0h0m0-2h0m0 3h0m1 1h0m0-5h0m3 1h0m0-1h0m2 3h0m2-3h0m0 0h0m73-1h0m1 5h0m1-5h0m2 3h0m1-2h0m2 3h0m0-2h0m7-1h0m1 3h0m8-3h0m3 1h0m1 2h0m3 0h0m2 0h0m-168 6h0m6 0h0m19-3h0m2 2h0m1-3h0m1 2h0m1-1h0m1 1h0m0-1h0m2 4h0m0-3h0m1 1h0m3 0h0m0 3h0m1-1h0m0-1h0m0-3h0m1 3h0m1 0h0m1 0h0m0-3h0m0 0h0m0 2h0m2-2h0m1 3h0m0 2h0m0-1h0m1-2h0m0 1h0m1 1h0m3-3h0m3 2h0m1 0h0m0-4h0m1 4h0m1 1h0m2 0h0m0-2h0m0-1h0m0 4h0m0-4h0m1 2h0m1 0h0m0 1h0m1-3h0m0 2h0m1 1h0m0 1h0m74-1h0m0-3h0m0-2h0m4 0h0m2 4h0m0-1h0m0 1h0m7 1h0m7-4h0m4 1h0m1 0h0m10 1h0m27 0h0m-191 9h0m6-2h0m4-3h0m0 0h0m10 4h0m3 0h0m2 0h0m0-3h0m1 4h0m2-5h0m0 1h0m1-1h0m1 2h0m0 3h0m2-5h0m2 4h0m1 0h0m0-3h0m0 2h0m1-2h0m2-1h0m4 3h0m1 0h0m2 1h0m0 0h0m1-1h0m1 0h0m2-2h0m0 1h0m0 0h0m0-1h0m0 1h0m1 2h0m0-3h0m1 0h0m0 0h0m1-1h0m1 1h0m0 0h0m2 0h0m0 3h0m2-1h0m0 2h0m70-2h0m1-2h0m0 3h0m0-4h0m1 0h0m0 3h0m0-2h0m2 2h0m1-3h0m0 2h0m5 2h0m0-2h0m3-1h0m3 0h0m2 3h0m1-3h0m2 0h0m1 2h0m8-3h0m9 2h0m21-1h0m0 3h0m-206 6h0m2-1h0m2-4h0m1 5h0m13-4h0m11 2h0m2-2h0m8 1h0m1-1h0m2 5h0m3-3h0m1-3h0m1 1h0m1 2h0m4 3h0m1-6h0m0 1h0m2 3h0m1 2h0m2-2h0m0-4h0m4 6h0m3-1h0m1-3h0m0 3h0m0-3h0m1 2h0m1-2h0m1 3h0m0-4h0m1 0h0m1 0h0m0 5h0m2-2h0m1-4h0m1 3h0m0-3h0m0 3h0m1-1h0m69 3h0m1-2h0m2 2h0m1-3h0m1 2h0m4-4h0m2 4h0m0-4h0m5 4h0m4 2h0m1-4h0m3 2h0m5-3h0m0 4h0m1-5h0m2 1h0m5 1h0m11 2h0m18 1h0m1-2h0m-205 6h0m14-2h0m5 2h0m13-2h0m1 0h0m3 1h0m2-1h0m3 3h0m1-4h0m1 5h0m0-4h0m1-1h0m1 5h0m0 1h0m1-3h0m0 3h0m1-5h0m1 4h0m1-1h0m0-4h0m0 0h0m1 4h0m0 0h0m1-2h0m1 1h0m1-1h0m1 3h0m0 0h0m0-2h0m2-2h0m1 0h0m1 4h0m1-4h0m0 2h0m1 2h0m1 1h0m1-1h0m2-5h0m0 4h0m1 2h0m1-5h0m0 1h0m0-2h0m1 3h0m0-1h0m1 0h0m0 3h0m0-1h0m0-3h0m0 0h0m1 4h0m0-1h0m0-1h0m2 0h0m67 2h0m1-1h0m1 0h0m0-3h0m2 3h0m1-3h0m1 4h0m0 0h0m1-1h0m1-1h0m4-1h0m2 3h0m0-3h0m1 1h0m9 0h0m14 0h0m3-1h0m1-1h0m1 1h0m6-1h0m1 0h0m1-1h0m11 6h0m1-2h0m4-1h0m-207 6h0m6-2h0m2 4h0m8-3h0m1 0h0m5 3h0m0-5h0m3 3h0m4 1h0m3-1h0m11 3h0m0-6h0m2 4h0m1-2h0m1 3h0m3-1h0m1-3h0m0 1h0m3 1h0m0 1h0m0-2h0m2 0h0m2 0h0m1 1h0m2-2h0m1 5h0m1 0h0m1-2h0m0-2h0m1 3h0m0-3h0m0-1h0m1 5h0m0-1h0m1-5h0m1 3h0m1-1h0m0-1h0m2 0h0m0 2h0m1 0h0m1-1h0m0 2h0m0 2h0m0-6h0m1 1h0m1 3h0m66-1h0m1 3h0m0-4h0m2 3h0m3-3h0m7 3h0m1 0h0m0-3h0m6 0h0m1 1h0m5-3h0m1 6h0m0-5h0m3 3h0m0 0h0m-151 3h0m4 2h0m1-2h0m9 3h0m9-4h0m0 5h0m5 1h0m1-5h0m3 3h0m0 1h0m3-4h0m0 3h0m3-2h0m0 2h0m0-3h0m1-1h0m1 4h0m0 0h0m3-4h0m2 3h0m0 3h0m1-2h0m0-2h0m1 0h0m3-2h0m0 1h0m0 2h0m0 2h0m1 1h0m0 0h0m1-6h0m1 0h0m0 2h0m1 3h0m2 1h0m0-3h0m8 3h0m1 0h0m57-5h0m2-1h0m2 2h0m2 1h0m0 2h0m0 1h0m2-4h0m4 3h0m3-4h0m2 1h0m2-1h0m3 2h0m0 0h0m1 2h0m2 0h0m2-1h0m5 0h0m12-1h0m1-1h0m3 3h0m22-4h0m-163 10h0m9-2h0m0-2h0m2 2h0m0 1h0m1-2h0m3 2h0m2-3h0m1 0h0m1 1h0m2 0h0m0-1h0m1 2h0m1-2h0m2 0h0m0 2h0m4 0h0m1-1h0m1-1h0m4 2h0m0-1h0m1 0h0m4 3h0m4 0h0m0-2h0m1 3h0m51-2h0m0-1h0m0 3h0m1-4h0m0-2h0m0 2h0m0 0h0m1 3h0m1 0h0m0-2h0m1-2h0m1-1h0m0 1h0m2 3h0m10-1h0m3-2h0m0 1h0m3 3h0m4-1h0m0-2h0m3-1h0m0 0h0m21-1h0m-156 11h0m16 0h0m1 0h0m0-3h0m3 3h0m1 0h0m28-4h0m3 2h0m3 3h0m0 0h0m0-4h0m3 1h0m0-3h0m1 4h0m2 0h0m3 0h0m0-1h0m0 1h0m1-1h0m3 1h0m1 0h0m0 1h0m11 1h0m2-2h0m4 1h0m2 1h0m0-1h0m3-1h0m3 1h0m3-2h0m2 1h0m2 0h0m0-3h0m2 0h0m2 2h0m0 1h0m1-1h0m2-1h0m0 2h0m3-1h0m1-3h0m1 1h0m3 3h0m14-3h0m28 5h0m-104 2h0m1 3h0m8-2h0m5 0h0m0-3h0m0 5h0m0-4h0m0 1h0m1 4h0m0-2h0m1-2h0m0 4h0m1-6h0m3 5h0m1-4h0m0-1h0m1 2h0m1 0h0m1 3h0m2-5h0m0 3h0m0-3h0m0 1h0m3 2h0m0 1h0m0-3h0m0 0h0m2 3h0m1-3h0m0 4h0m3-2h0m0-1h0m2 0h0m0-2h0m2 4h0m2-4h0m1 1h0m1 4h0m5 0h0m2-4h0m1-1h0m7 2h0m1-1h0m8 4h0m-47 2h0m7 5h0m3-4h0m1 0h0m8-1h0m4 3h0m3-1h0m4 0h0m1 2h0m8 0h0m0-3h0m8-2h0m3 4h0m-76 6h0m12-1h0m1 0h0m0 2h0m5-1h0m1 2h0m13-2h0m0 0h0m3 0h0m4 1h0m29-3h0m-68 7h0m4 0h0m3-1h0m41-2h0m8 6h0m2-2h0m13 2h0m0-3h0m6-2h0m0 0h0" stroke="#31B7DD" stroke-width="2.80" stroke-linecap="round" fill="none"/>
<path transform="scale(.5)" d="M1133 182h0m10-1h0m-16 11h0m1-4h0m2 1h0m0 1h0m1-3h0m4 1h0m0-2h0m2 2h0m0 0h0m0-1h0m4 2h0m4 2h0m42 1h0m6-1h0m9 0h0m-70 3h0m0 1h0m1 0h0m3 0h0m4-1h0m2 0h0m2 2h0m1-4h0m0 1h0m0 1h0m3 2h0m2-3h0m0 3h0m1 0h0m0-2h0m18 4h0m0 0h0m1 0h0m1-3h0m4 1h0m1 1h0m0-1h0m1 1h0m1 0h0m1-1h0m0 0h0m1 1h0m0-1h0m0 1h0m1-2h0m0 0h0m0 0h0m0 1h0m1 2h0m1-2h0m1 0h0m1 0h0m0 0h0m0-2h0m1 3h0m0-3h0m0 4h0m1-3h0m0 0h0m1 2h0m0-2h0m0 1h0m1 1h0m0-3h0m1-1h0m0 2h0m1-1h0m0 1h0m0 1h0m1-1h0m0-1h0m0 3h0m0-1h0m2-1h0m0-1h0m2 0h0m0 3h0m1-3h0m0 2h0m0 0h0m2 0h0m1-1h0m0-1h0m0 2h0m2-2h0m1 2h0m0-1h0m0 0h0m1-1h0m0 2h0m0-1h0m0 0h0m1 0h0m0 3h0m1-1h0m1-1h0m3 1h0m-68 4h0m1 1h0m2-1h0m2 3h0m0-3h0m7 0h0m0 2h0m2-1h0m0-3h0m0 2h0m1-1h0m0 1h0m0 0h0m0-1h0m0 1h0m2-1h0m0 3h0m1-3h0m1-1h0m1 3h0m0 0h0m0-3h0m2 1h0m1-1h0m2 0h0m0 0h0m2 1h0m0 1h0m2-3h0m1 1h0m2 0h0m1 2h0m0-3h0m1 2h0m2-2h0m1 1h0m4-1h0m13 1h0m6 1h0m1-1h0m0 0h0m2 1h0m1 0h0m1-1h0m1 2h0m0-2h0m0 4h0m1-4h0m0 2h0m0-2h0m0 3h0m0 0h0m0 0h0m1 1h0m0-3h0m0-1h0m0 2h0m1 0h0m0 2h0m1-3h0m0 3h0m1 0h0m-62 3h0m56 4h0m1-3h0m0 0h0m1 0h0m1 2h0m0-4h0m1 3h0m0-1h0m0-1h0m1 3h0m0-3h0m0 3h0m0-4h0m0 2h0m0-3h0m1 5h0m0-2h0m-7 7h0m1 2h0m0-2h0m0-4h0m1 4h0m0-3h0m0 2h0m0 0h0m1 1h0m0-4h0m1 0h0m0 3h0m0 0h0m0-1h0m1 0h0m0 0h0m0 4h0m1-6h0m0 0h0m-4 7h0m2-1h0" stroke="#E969A3" stroke-width="2.80" stroke-linecap="round" fill="none"/>
<path transform="scale(.5)" d="M1065 287h0m24-1h0m-78 4h0m9 0h0m8 1h0m9 1h0m21-3h0m1 5h0m7-1h0m9 1h0m3-1h0m9 1h0m33-1h0m-142 4h0m52 1h0m2 0h0m7 1h0m3-2h0m0 3h0m1-1h0m1-4h0m2 4h0m4 0h0m4-1h0m1-1h0m1-3h0m4 1h0m3 2h0m2-1h0m4 0h0m1 3h0m4-3h0m1 2h0m9 1h0m3-2h0m0 3h0m6-2h0m9-3h0m3 5h0m2-1h0m1 0h0m-106 3h0m23 4h0m6 0h0m1-1h0m3 0h0m4-4h0m1 4h0m5 1h0m3-6h0m0 3h0m5-1h0m4 2h0m0 1h0m0-2h0m1 1h0m8-3h0m4 2h0m0 2h0m2 1h0m0-4h0m9-2h0m9 3h0m1 2h0m1-4h0m1 1h0m16 0h0m5-1h0m4 3h0m-116 7h0m1-5h0m7 2h0m8 0h0m2 3h0m1-1h0m1 1h0m16 0h0m4 1h0m1-2h0m1 1h0m4 0h0m4 0h0m1-1h0m0 1h0m2-4h0m0 2h0m3 1h0m0 1h0m1-4h0m1 4h0m3-3h0m2 0h0m1 0h0m1 4h0m1-1h0m0-2h0m0 1h0m1-1h0m1-2h0m1 3h0m0-3h0m3 2h0m1-1h0m2 1h0m5 2h0m3-3h0m3 1h0m1-1h0m4 0h0m1 2h0m3 1h0m7-1h0m15 0h0m1 0h0m-131 3h0m34 2h0m2 0h0m1 1h0m1 1h0m1-5h0m1 2h0m4 1h0m1 0h0m1 1h0m1-3h0m6 0h0m2 2h0m1 2h0m1 1h0m3-6h0m2 1h0m0 4h0m0-2h0m1-2h0m1 4h0m1-4h0m1 1h0m0 1h0m1 1h0m0 1h0m1 0h0m4 0h0m1-3h0m0 1h0m3 2h0m1-4h0m3 0h0m0 4h0m1-1h0m0 2h0m1-5h0m2 1h0m1 3h0m8-2h0m1-1h0m2 0h0m2 2h0m3 0h0m1-4h0m0 0h0m1 1h0m3 4h0m3-2h0m7 1h0m2-4h0m0 3h0m-117 4h0m5 3h0m4-3h0m13 5h0m3-3h0m2 0h0m0-2h0m1 1h0m5 4h0m2-3h0m2-1h0m1 4h0m2-2h0m0 2h0m0-5h0m1 1h0m1 3h0m1-4h0m3 3h0m1 0h0m3 2h0m1 0h0m0-1h0m3 0h0m3-1h0m1 0h0m1 1h0m2-5h0m1 3h0m0 1h0m1-3h0m0 3h0m0 0h0m1-1h0m2 2h0m0 0h0m1-5h0m0 5h0m0-2h0m1 2h0m0-1h0m0-1h0m1-2h0m0-1h0m1 2h0m1 2h0m0-3h0m2 5h0m0-4h0m2-1h0m1 4h0m0-1h0m1-1h0m0 2h0m2-5h0m1 4h0m0-1h0m3 0h0m1-2h0m0 0h0m5 5h0m0-1h0m1-3h0m0 3h0m4-3h0m7-1h0m0-1h0m2 4h0m1-2h0m2 2h0m0 0h0m3-1h0m8-1h0m13 0h0m-131 7h0m1-2h0m14 4h0m2-3h0m3-1h0m2 3h0m7 0h0m2-1h0m1-1h0m1-1h0m1 3h0m3-4h0m3 2h0m2 1h0m1 0h0m1-1h0m1 3h0m1 0h0m0-4h0m3 4h0m2-1h0m3 2h0m0-3h0m1 1h0m2 1h0m0-1h0m0 2h0m0 0h0m1-2h0m0-4h0m1 5h0m1-4h0m0 3h0m1-1h0m2 1h0m0-2h0m0 2h0m1-1h0m0 3h0m0-2h0m1-4h0m0 1h0m0 0h0m1 2h0m1-1h0m0 2h0m1-2h0m1 3h0m0 1h0m1-5h0m2 3h0m0-3h0m0 2h0m1-2h0m1 1h0m2 2h0m1 1h0m1-4h0m3 1h0m0-1h0m1 5h0m0 0h0m5-5h0m0 2h0m1 1h0m2-3h0m1 0h0m0 2h0m2 1h0m1-3h0m1 2h0m2 1h0m1-1h0m3 1h0m0-3h0m5 1h0m3-1h0m12 3h0m2-3h0m-275 7h0m14 0h0m154-1h0m3-1h0m2 5h0m3 1h0m5-6h0m1 2h0m4 0h0m9 2h0m5-2h0m0 1h0m1 1h0m0-3h0m1 4h0m1 0h0m1-1h0m1 0h0m3 0h0m0-1h0m0 0h0m3-2h0m0 1h0m1 3h0m1-3h0m1 0h0m0 2h0m1-3h0m1 3h0m1 1h0m1-4h0m1 3h0m0-2h0m0-2h0m2 1h0m0 0h0m1 0h0m0 1h0m1 3h0m0-1h0m1-1h0m1-2h0m1 0h0m0 2h0m1 2h0m0-5h0m2 4h0m2 0h0m0-2h0m0 3h0m0-5h0m1 6h0m0-2h0m0 1h0m0 0h0m0-3h0m1 0h0m1 1h0m0 1h0m0-4h0m2 2h0m2-1h0m2 1h0m5 0h0m0 0h0m2-1h0m0 3h0m5 1h0m3 0h0m0-5h0m1 5h0m0-3h0m0 3h0m11-5h0m4 3h0m5-3h0m-107 6h0m3 4h0m1 0h0m4-3h0m0 0h0m2 2h0m2 1h0m2-3h0m7 3h0m5-3h0m7 0h0m0 4h0m3 0h0m0-1h0m1-4h0m1 2h0m2-1h0m1 1h0m2 2h0m1 0h0m0 0h0m1-2h0m0 0h0m0 4h0m3-2h0m0 1h0m1 1h0m1-6h0m0 2h0m0-1h0m2 2h0m1 2h0m1-2h0m0-2h0m0 1h0m0 3h0m1 1h0m0-1h0m0-1h0m1 1h0m0-3h0m2-2h0m1 3h0m0-1h0m0 0h0m0 1h0m1-1h0m0 0h0m0-2h0m1 3h0m2 0h0m3 0h0m1 1h0m1-2h0m2 1h0m0-1h0m1 3h0m0 1h0m0-3h0m0-1h0m3 2h0m3 0h0m1-1h0m0 0h0m0 3h0m1-4h0m1 4h0m1-4h0m3 0h0m1 1h0m4 0h0m1 1h0m0-4h0m0 4h0m9-1h0m-92 5h0m0 1h0m9 2h0m1-1h0m1-1h0m1 3h0m2 0h0m2-4h0m0 0h0m6 4h0m0-1h0m2-3h0m2 1h0m4-2h0m2 5h0m2-6h0m0 2h0m2 4h0m1-5h0m2 3h0m4-1h0m1 0h0m3-1h0m0-2h0m0 3h0m2 2h0m1-5h0m0 5h0m3-1h0m3-3h0m1 5h0m1 0h0m1-3h0m2-1h0m0-1h0m0 2h0m5-1h0m3 3h0m2-4h0m0 3h0m5-4h0m4 1h0m4 3h0m1-1h0m1-1h0m3 2h0m-95 5h0m4-3h0m8 3h0m4 3h0m1-3h0m0-3h0m9 5h0m0-3h0m1-2h0m1 2h0m0-1h0m1 4h0m1-5h0m4 3h0m1-2h0m1 2h0m2-2h0m3 2h0m1-2h0m3 2h0m0 1h0m1-4h0m1 4h0m2-3h0m1 1h0m1-2h0m0 2h0m1 3h0m0-1h0m2-2h0m1 2h0m1-4h0m1 3h0m3 2h0m2-1h0m1-1h0m2-2h0m1 1h0m3 3h0m2-4h0m0 0h0m0 2h0m4-1h0m1 0h0m0-1h0m1 1h0m3 0h0m3 2h0m2 2h0m3-6h0m3 3h0m8 2h0m11-1h0m-131 5h0m1-3h0m6 3h0m13-2h0m13 4h0m2-3h0m11 2h0m13-3h0m3 0h0m1 4h0m2-5h0m2 5h0m5-1h0m1 2h0m2-2h0m0 2h0m6-4h0m9 1h0m1-2h0m4 1h0m5-1h0m0 4h0m14-4h0m12 2h0m-129 5h0m17 0h0m3-1h0m8 4h0m21 1h0m6-1h0m4-1h0m5-3h0m9-1h0m5 0h0m19 3h0m1 0h0m5 1h0m-29 4h0m8-2h0m6 2h0m0 0h0m10 1h0m11-3h0m-109 10h0m13 2h0m23-4h0m56 2h0m18-1h0m-106 6h0m9 0h0m1-1h0m18 2h0m15-2h0m28 2h0m7-4h0m-87 11h0m17 0h0m30-2h0m31 1h0m7 1h0m-1 3h0m4 1h0m21 0h0" stroke="#D99136" stroke-width="2.80" stroke-linecap="round" fill="none"/>
<path transform="scale(.5)" d="M1142 299h0m-10 6h0m2 1h0m5-4h0m-5 7h0m1 2h0m1 0h0m4 1h0m5-5h0m-14 10h0m5-3h0m0 4h0m0-2h0m1 0h0m2-3h0m9 0h0m-27 7h0m11 3h0m4-3h0m6 1h0m2 3h0m1-5h0m1 5h0m0-1h0m0 0h0m6-1h0m1-2h0m1 3h0m1 1h0m-22 5h0m0 1h0m1-3h0m3 2h0m1 0h0m0-3h0m1-1h0m3-1h0m3 2h0m2 4h0m11-1h0m1-3h0m1-1h0m1 4h0m-35 4h0m15-3h0m5 5h0m1-4h0m2 4h0m2-3h0m1 4h0m3-4h0m0-2h0m0 2h0m1 3h0m1-2h0m2 1h0m0 1h0m1 0h0m-33 2h0m16 2h0m2-3h0m1 1h0m2 5h0m4-1h0m1-1h0m2-2h0m0 3h0m1 1h0m1-6h0m0 6h0m1-5h0m0 5h0m4-4h0m-30 10h0m12-4h0m3 2h0m1 1h0m0-2h0m3 0h0m0 1h0m1 1h0m0 0h0m0-1h0m0-1h0m2 0h0m0-1h0m0 0h0m0 2h0m0-4h0m1 2h0m1 0h0m1 2h0m1-2h0m0 0h0m0-1h0m2 1h0m1 1h0m1-2h0m-23 6h0m6 3h0m4-1h0m0 3h0m1-2h0m0 0h0m1-1h0m0-1h0m2 0h0m1 2h0m1 1h0m0-1h0m1 0h0m0-4h0m0 3h0m2 1h0m1-3h0m0 0h0m0 4h0m-10 6h0m0-1h0m1-3h0m5 3h0m1-2h0m0 0h0m0-2h0m0 5h0m2-2h0m0-2h0m2 1h0m1-1h0m0 3h0m2 0h0m4-2h0m-23 7h0m5 3h0m1-3h0m1 0h0m0 0h0m2 0h0m0 0h0m0 0h0m2-2h0m2 0h0m2 3h0m0-2h0m1 0h0m1 2h0m2 2h0m-20 1h0m5-1h0m4 2h0m4 0h0m4 3h0m1-2h0m1 2h0m-6 11h0" stroke="#C273AF" stroke-width="2.80" stroke-linecap="round" fill="none"/>
<path transform="scale(.5)" d="M1058 358h0m-13 4h0m-4 8h0m4 1h0m1 0h0m8-1h0m1 0h0m4-3h0m1 4h0m2-1h0m0 2h0m2-5h0m1 0h0m0 2h0m1-3h0m1 3h0m0 2h0m1 0h0m1-2h0m1 1h0m3-3h0m4 1h0m8 2h0m19 0h0m-49 3h0m0 4h0m2-1h0m0 0h0m3 0h0m0 1h0m4-1h0m1-4h0m2 1h0m1 4h0m2 0h0m3-3h0m3 1h0m5 0h0m4 2h0m1-1h0m-45 5h0m13-2h0m3 0h0m4 4h0m7-4h0m5 3h0m0-1h0m-23 8h0m25-5h0m-30 11h0m-26 1h0m17 4h0m16-1h0m25 2h0m-19 2h0m25 6h0m2 11h0" stroke="#9C85C2" stroke-width="2.80" stroke-linecap="round" fill="none"/>
<path transform="scale(.5)" d="M1121 370h0m7-3h0m-45 5h0m42 0h0m12 6h0m2-6h0m2 2h0m-56 8h0m16-3h0m5 2h0m16 2h0m17 1h0m2-5h0m-28 8h0m-20 7h0m19 0h0m21-3h0m-41 8h0m-8 8h0m5-2h0m7-1h0m1 1h0m7 3h0m-12 6h0m24-4h0m9-1h0m-17 8h0m5 1h0m11 1h0m-42 6h0m11-5h0m8 4h0m16-1h0m-31 6h0m3-3h0m7 4h0m13 0h0m1-4h0m-24 8h0m8 2h0m3-3h0m15 4h0m-1 2h0m-18 8h0m7 1h0m4 2h0m4-5h0m3 2h0m-19 5h0m-10 10h0m12-3h0m7 1h0m2-1h0m-14 14h0m28 0h0" stroke="#ADA340" stroke-width="2.80" stroke-linecap="round" fill="none"/>
<path transform="scale(.5)" d="M1080 400h0m-71 12h0m4 1h0m-22 12h0m85 19h0m-69 10h0m65-1h0m-102 12h0m28 2h0m68 1h0" stroke="#F07B72" stroke-width="2.80" stroke-linecap="round" fill="none"/>
<path transform="scale(.5)" d="M1125 282h0m8 4h0m0-4h0m1 4h0m2 2h0m-5 4h0m-43 161h0m28 7h0m-27 7h0m15 15h0m-1 4h0m1 1h0" stroke="#4F9BD5" stroke-width="2.80" stroke-linecap="round" fill="none"/>
<path transform="scale(.5)" d="M1036 160h0m4-1h0m1 1h0m-40 7h0m12-1h0m2 1h0m2-4h0m6 3h0m0-3h0m8 3h0m10-2h0m16-1h0m2 0h0m1-1h0m6 3h0m6 1h0m1-1h0m2-1h0m2 0h0m2 0h0m2-1h0m8 3h0m-102 8h0m11-5h0m6 5h0m1-5h0m4 4h0m0-4h0m1 5h0m11-4h0m7 0h0m1 4h0m3-1h0m8-1h0m4 2h0m1-5h0m4 0h0m5 0h0m4-1h0m1 0h0m10 3h0m4 1h0m4 1h0m4-4h0m1 1h0m1 4h0m8-2h0m0-1h0m-109 8h0m3-3h0m2 4h0m2-4h0m1 0h0m8 2h0m1 2h0m1-1h0m13-4h0m0 1h0m0 0h0m4 1h0m1 0h0m2 2h0m8 0h0m2-3h0m10 3h0m4-2h0m4 2h0m1 0h0m2-3h0m3 0h0m7-2h0m4 6h0m4-3h0m8-2h0m6 4h0m2-1h0m5-1h0m5 2h0m0-2h0m2 2h0m1-3h0m2 1h0m0 1h0m1-4h0m9 5h0m-131 4h0m3 2h0m5 0h0m2 0h0m8 0h0m16-2h0m5 0h0m7-1h0m0 1h0m3 0h0m1-1h0m0 1h0m1 0h0m1 2h0m13 0h0m4 0h0m2-2h0m2 2h0m2-3h0m2-1h0m4 1h0m4-1h0m1 0h0m20-1h0m2 3h0m2 2h0m0-2h0m2 1h0m6 2h0m2-5h0m1 3h0m7 2h0m5-6h0m4 3h0m-145 4h0m2 0h0m9 3h0m5-3h0m2-1h0m1 3h0m8 1h0m4 0h0m2 0h0m4 1h0m9-4h0m1 3h0m6 0h0m5-3h0m0 1h0m7 2h0m8-4h0m4 1h0m2 2h0m2 0h0m6-1h0m4 3h0m1 0h0m5-2h0m2 3h0m1-3h0m2 2h0m16 1h0m6-5h0m0-1h0m2 3h0m2 1h0m3-2h0m7-1h0m0 0h0m2-1h0m7 4h0m-149 6h0m17-2h0m1 0h0m3 1h0m12 0h0m11-3h0m1 4h0m0-1h0m4 1h0m1 0h0m0 1h0m6-4h0m5 2h0m2-1h0m8 1h0m2 3h0m1-3h0m6 2h0m0-1h0m4 0h0m1-2h0m0 1h0m1 1h0m0-1h0m1 0h0m1-3h0m0 3h0m7-1h0m8 3h0m1 0h0m6-2h0m3 0h0m2-2h0m7 4h0m4-1h0m10-1h0m0 1h0m1-2h0m3-1h0m1 1h0m18 1h0m-162 7h0m3-2h0m2 0h0m14 0h0m9 4h0m0-3h0m1-1h0m0 4h0m2-2h0m2-3h0m3 0h0m1 0h0m1 1h0m2 3h0m4-3h0m6 1h0m1-1h0m1-1h0m16 1h0m20 3h0m3-1h0m0 2h0m16-6h0m3 4h0m5 1h0m5 0h0m20-1h0m7-2h0m1 2h0m10 2h0m4-2h0m3-1h0m-177 9h0m5-4h0m5 1h0m2 2h0m6-4h0m2-1h0m0 3h0m2-1h0m0 2h0m4 1h0m12-1h0m2-2h0m5 0h0m5 1h0m2 3h0m5-4h0m3 2h0m1 2h0m2 0h0m4-2h0m2-1h0m6 0h0m0 0h0m3-2h0m3 0h0m2 1h0m6 0h0m11 2h0m9 0h0m1-3h0m6 4h0m1-2h0m0-1h0m11 3h0m3-4h0m2-1h0m15 1h0m6-1h0m2 5h0m6-3h0m8 2h0m3-3h0m1 1h0m5 1h0m5-3h0m-184 8h0m4 1h0m1 2h0m0 0h0m4-4h0m6 0h0m1 1h0m2 2h0m3-4h0m7 2h0m2 2h0m0 0h0m2-1h0m0 1h0m1-2h0m7-2h0m3 4h0m12 2h0m6-5h0m7 2h0m9 0h0m1-1h0m1 1h0m4 1h0m1-2h0m18 4h0m6-3h0m4 1h0m1 2h0m5-1h0m1 0h0m3-4h0m0 3h0m2-1h0m7 0h0m4 1h0m1 1h0m5 1h0m16-2h0m4-3h0m7 0h0m1 5h0m7-4h0m3 2h0m1 0h0m15 1h0m-198 7h0m12-2h0m4 1h0m8-1h0m2 2h0m0-2h0m3 0h0m1-1h0m4 0h0m0 1h0m8 1h0m3-2h0m1 1h0m0-4h0m6 4h0m0 2h0m6-6h0m3 6h0m3-6h0m9 2h0m2 3h0m3-3h0m10 0h0m18 2h0m1 1h0m8-1h0m4-2h0m10 4h0m0-1h0m1-4h0m3 0h0m9 4h0m1 0h0m4-5h0m14 4h0m8-1h0m0 0h0m3-1h0m6 0h0m2-2h0m1 4h0m3 1h0m6-3h0m8 3h0m-200 5h0m5-2h0m4 2h0m5 0h0m2 0h0m0 1h0m9-2h0m7 1h0m24 2h0m3-5h0m3 4h0m3-3h0m1 2h0m2 1h0m3-1h0m3-1h0m3-2h0m1 2h0m5 2h0m2-2h0m1-1h0m19 4h0m6-1h0m2-3h0m2 3h0m7-3h0m2 3h0m7 0h0m16 0h0m1 0h0m9-2h0m11 3h0m3-3h0m4 1h0m6-4h0m1 3h0m0 0h0m3 3h0m10-1h0m2-1h0m0 1h0m0 0h0m1-4h0m0 5h0m1-1h0m0-1h0m3-3h0m1 2h0m-191 7h0m3 0h0m4-1h0m7 2h0m3-5h0m7 5h0m0-4h0m8 0h0m3 4h0m13-3h0m16 3h0m6-2h0m8 3h0m3-4h0m0-1h0m9 4h0m2-3h0m1 2h0m8 0h0m6-1h0m1 1h0m2-2h0m1 0h0m0 3h0m6-2h0m1 2h0m2-2h0m6 0h0m3 1h0m9-1h0m3 1h0m1-4h0m0 4h0m7 1h0m6 0h0m8-2h0m4-2h0m1 1h0m4 2h0m2 1h0m3 1h0m1-1h0m0 0h0m3-2h0m8-3h0m2 2h0m1 0h0m0 1h0m1 1h0m6-3h0m-208 8h0m2-1h0m6 3h0m3 1h0m18-5h0m4 1h0m2 0h0m10 1h0m4 2h0m3-3h0m2 4h0m17-1h0m0 0h0m2-2h0m7 2h0m3-2h0m0 3h0m5-5h0m3 2h0m1-1h0m0 4h0m5-2h0m10-1h0m2-2h0m3 2h0m0 0h0m1-1h0m4 3h0m3-2h0m5 2h0m1 1h0m1-1h0m0-2h0m2-2h0m0 3h0m2-3h0m1 1h0m8 3h0m2-1h0m4-1h0m1 3h0m9-2h0m1-2h0m1 0h0m9 0h0m1 4h0m3-2h0m0-3h0m5 3h0m2-1h0m7-2h0m9 3h0m5 1h0m3 0h0m3-2h0m3-2h0m4 2h0m0 1h0m-207 2h0m10 1h0m1 0h0m3 4h0m0-4h0m5 0h0m2 2h0m3 2h0m11-4h0m2 2h0m7 2h0m1-3h0m6-2h0m0 1h0m5 2h0m4-3h0m2 5h0m4 0h0m6-2h0m4 1h0m11-2h0m1 1h0m1 1h0m1 1h0m1-2h0m8 3h0m10-4h0m3 0h0m7 1h0m3-1h0m2 2h0m1-2h0m2 0h0m3 3h0m4-4h0m4 2h0m2-1h0m1 3h0m0-1h0m0-1h0m10 0h0m1-2h0m5 1h0m4 0h0m2-2h0m1 6h0m3-3h0m0-1h0m4 0h0m4-2h0m0 4h0m9 2h0m3-4h0m7-1h0m4 3h0m8-3h0m6 5h0m-217 3h0m2-3h0m7 3h0m3-1h0m5-1h0m7-1h0m1 4h0m2-3h0m4 1h0m1 3h0m3-1h0m5-1h0m2-2h0m2 0h0m1 0h0m1 2h0m1 1h0m0 0h0m21-4h0m4 4h0m4 1h0m3 0h0m2-1h0m3-3h0m6 1h0m3 3h0m1-4h0m11 3h0m8 0h0m3-1h0m23 2h0m1 0h0m1-1h0m4-2h0m26 1h0m11 0h0m2 2h0m3 1h0m1-2h0m6-1h0m1-1h0m2 0h0m4 0h0m1 0h0m4 1h0m0 2h0m6-3h0m-199 6h0m6-1h0m7 4h0m5 0h0m4 0h0m1-3h0m2 1h0m13-1h0m13 1h0m6 2h0m1-3h0m6 2h0m6-4h0m4 5h0m0-2h0m3 0h0m1-2h0m0 3h0m1 2h0m8-2h0m7 0h0m6-2h0m2 2h0m8-4h0m2 2h0m0-1h0m17 0h0m0 1h0m7 1h0m3 0h0m2 0h0m9 0h0m3 1h0m3 0h0m8 1h0m8 0h0m12 0h0m1-2h0m18 2h0m-194 6h0m1-3h0m7 1h0m2 1h0m3 2h0m5-5h0m5 5h0m3-2h0m2 0h0m3-2h0m2-1h0m1 2h0m7 2h0m0-2h0m16 3h0m0-4h0m5-2h0m4 0h0m7 0h0m10 6h0m2-1h0m8-4h0m4 4h0m7-2h0m1-2h0m2 4h0m7 1h0m2-5h0m1 5h0m2-3h0m2 0h0m5-1h0m5-1h0m3 2h0m14 0h0m3 0h0m1-1h0m2-1h0m3 5h0m1-2h0m2-3h0m10 3h0m13-3h0m-171 8h0m1 2h0m13-3h0m1 0h0m0-1h0m4 1h0m2-1h0m4 5h0m3-3h0m0 0h0m2 0h0m0 0h0m1-1h0m8 1h0m2-2h0m7 3h0m3-3h0m4 2h0m1 1h0m6-3h0m0 1h0m2 0h0m2-1h0m6 1h0m1-1h0m2-1h0m12 1h0m1 1h0m1-1h0m1 0h0m2 3h0m11 0h0m15-2h0m2 1h0m0 3h0m7-5h0m3 1h0m1 1h0m7 1h0m2-2h0m2 1h0m2 0h0m20-1h0m1-1h0m6 0h0m-155 7h0m8-2h0m7 2h0m1-2h0m37 5h0m0-4h0m0 0h0m4 1h0m13 3h0m6-5h0m8 1h0m0 4h0m5-2h0m6 1h0m3-3h0m1 0h0m2 1h0m2-1h0m-45 8h0m12 1h0m1-1h0m2-3h0m1 1h0m5 0h0m2 1h0m2 0h0m0 2h0m4-1h0m1-3h0" stroke="#fff" stroke-width="2.00" stroke-linecap="round" fill="none"/>
</g>
<g clip-path="url(#cB2)">
<g filter="url(#rag2)">
<path transform="matrix(0.667 0 0 0.6706 582.7 52.76)" d="M209.9 193.3L217.4 184.7L227.0 181.3L237.7 183.4L245.2 190.7L248.8 200.3L244.3 210.0L233.4 216.4L221.6 218.9L209.9 217.7L200.2 218.5L193.4 216.4L200.7 207.8Z" fill="#D99136"/>
<path transform="matrix(0.667 0 0 0.6706 582.7 52.76)" d="M143.8 197.8L145.8 183.2L155.2 170.6L169.9 158.1L184.5 149.8L199.1 143.1L217.9 144.5L232.5 141.0L245.0 139.3L251.3 145.6L253.4 156.0L261.7 164.4L272.2 170.6L274.3 181.1L261.7 187.3L251.3 189.4L245.0 187.3L238.8 183.2L226.2 181.1L215.8 183.2L207.4 191.5L199.1 202.0L192.8 210.3L184.5 216.6L169.9 216.6L155.2 218.7L145.8 227.0L143.1 243.7L142.3 212.4Z" fill="#D99136"/>
<path transform="matrix(0.667 0 0 0.6706 582.7 52.76)" d="M142.2 242.1L145.0 225.0L154.6 216.4L169.6 214.3L184.6 214.3L195.3 216.4L212.4 218.5L223.1 220.7L233.8 225.0L238.0 235.6L240.2 250.6L238.0 261.3L229.5 267.7L218.8 276.3L208.1 279.5L195.3 279.5L180.3 276.3L165.3 270.9L152.5 263.5L145.0 254.9Z" fill="#F07B72"/>
<path transform="matrix(0.667 0 0 0.6706 582.7 52.76)" d="M230.1 225.6L238.6 214.9L251.4 208.5L260.0 199.9L272.8 195.6L285.7 197.8L294.2 204.2L300.6 212.7L302.8 221.3L298.5 234.1L294.2 247.0L287.8 255.5L281.4 261.9L272.8 264.1L262.1 266.2L249.3 268.3L238.6 264.1L234.3 251.2L234.3 236.3Z" fill="#ADA340"/>
<path transform="matrix(0.667 0 0 0.6706 582.7 52.76)" d="M209.4 274.7L220.1 268.2L235.0 266.1L250.0 266.1L262.8 264.0L277.8 261.8L286.4 261.8L289.6 274.7L290.7 289.6L282.1 296.0L269.3 297.1L254.3 293.9L239.3 289.6L224.3 285.4L213.7 281.1Z" fill="#4F9BD5"/>
<path transform="matrix(0.667 0 0 0.6706 582.7 52.76)" d="M284.5 158.0L292.9 155.9L301.2 164.3L307.5 174.7L310.6 187.3L310.6 201.9L305.8 214.4L301.2 222.8L297.5 210.2L291.2 197.7L287.0 187.3L284.5 176.8L282.4 166.4Z" fill="#C273AF"/>
<path transform="matrix(0.667 0 0 0.6706 582.7 52.76)" d="M213.1 195.8L218.6 189.4L225.8 186.9L233.7 188.5L239.3 193.9L242.0 201.0L238.6 208.2L230.5 212.9L221.8 214.9L213.1 213.9L205.9 214.5L200.8 212.9L206.2 206.6Z" fill="#9C85C2"/>
</g>
<path transform="scale(.5)" d="M1557 263h0m-7 7h0m0-1h0m6 0h0m0 1h0m1-4h0m0 0h0m1 2h0m0 1h0m1-3h0m1 3h0m2-2h0m2 1h0m5 0h0m-27 3h0m3 5h0m3 0h0m1-5h0m0 2h0m2 1h0m1-3h0m0 2h0m0 1h0m1-3h0m1 5h0m1-3h0m1 2h0m0-2h0m0 1h0m1-4h0m0 4h0m0-2h0m1 1h0m0 1h0m0 0h0m1 1h0m0-4h0m1 5h0m0-1h0m1-4h0m1 3h0m0-1h0m0-1h0m0 0h0m0 2h0m1-1h0m0 0h0m1-1h0m0 4h0m2-6h0m4 6h0m-24 3h0m6-2h0m0 2h0m1-1h0m0 1h0m1 0h0m2-3h0m3 2h0m-7 5h0m-78 9h0m16-1h0m3 2h0m1 0h0m-58 6h0m1 0h0m3-3h0m3 3h0m13 0h0m1 0h0m6-2h0m3-1h0m2 1h0m0-3h0m1 3h0m6 0h0m1-1h0m1 2h0m1-1h0m0 0h0m0 3h0m4-1h0m4-3h0m4 1h0m0 2h0m1-1h0m3-1h0m1 0h0m-79 8h0m4-1h0m2 1h0m3-3h0m1 4h0m11-4h0m2 0h0m5 1h0m0 0h0m2 2h0m0 1h0m2-2h0m0 0h0m3 2h0m4-2h0m1 0h0m1 2h0m0-3h0m3 2h0m0 1h0m0-5h0m0 3h0m1 1h0m1-3h0m0 2h0m2-2h0m6 0h0m0-2h0m1 3h0m4-2h0m3 0h0m6 0h0m8-1h0m2 1h0m2 0h0m0 3h0m1 0h0m0-1h0m1-2h0m1 1h0m1 2h0m0 1h0m2 0h0m0-1h0m3 0h0m2 0h0m1 0h0m-98 8h0m1-1h0m2-4h0m3 2h0m0-2h0m1 0h0m2 1h0m4 0h0m1-2h0m72 4h0m2 0h0m1-1h0m1 0h0m1 1h0m1 1h0m0-2h0m1 0h0m2 1h0m1 0h0m1-3h0m1 2h0m0 1h0m1 1h0m1 0h0m1 0h0m0-5h0m0 5h0m1-2h0m1-3h0m1 1h0m1 2h0m0-1h0m1 3h0m0-1h0m1 0h0m2 1h0m0 1h0m7-5h0m1 4h0m-130 6h0m1-2h0m2-2h0m0 2h0m4 0h0m0-2h0m1 3h0m2 1h0m0-1h0m1 0h0m0-4h0m1 2h0m0-1h0m1 0h0m4-1h0m84 2h0m0-2h0m0 4h0m1-2h0m1 2h0m1 1h0m0-1h0m0 2h0m1-5h0m0 1h0m1 4h0m0-1h0m1-4h0m0 5h0m0-3h0m0-1h0m1 1h0m0-3h0m0 5h0m0-4h0m1 2h0m1-1h0m1 2h0m0 0h0m0 0h0m0 2h0m1-6h0m2 5h0m0-3h0m0 2h0m1-2h0m1 4h0m0-2h0m0-2h0m1-1h0m0 3h0m0-2h0m1 3h0m0 0h0m1 1h0m0-4h0m0 2h0m2-2h0m0-1h0m2 3h0m1 1h0m1-1h0m0 2h0m0-1h0m1 1h0m0-2h0m3-3h0m1 0h0m5 2h0m6 0h0m2 1h0m2 0h0m2-1h0m3 1h0m3 0h0m-156 6h0m4 0h0m2-1h0m0-1h0m2-1h0m102 4h0m2-2h0m0 3h0m2-3h0m1-3h0m0 4h0m1-1h0m0 1h0m0-3h0m0 3h0m1 2h0m1-4h0m1 1h0m0 1h0m1-1h0m0-2h0m1 3h0m1-3h0m0-1h0m1 2h0m0 2h0m0 0h0m1-3h0m0-1h0m1 2h0m0 0h0m0 2h0m0 0h0m1-2h0m0 2h0m0 0h0m0-2h0m2 0h0m0-2h0m1 5h0m0 0h0m0 1h0m1 0h0m0-1h0m1-3h0m0 3h0m1 0h0m0 0h0m0 0h0m2 0h0m1-4h0m0 0h0m0 0h0m0 0h0m1 4h0m0 0h0m0-1h0m0-4h0m1 3h0m0 2h0m1-5h0m0 0h0m1 6h0m2-4h0m1 4h0m3-2h0m9 2h0m-169 5h0m5-1h0m1 1h0m0 0h0m1 1h0m2-4h0m0-1h0m1 5h0m1-5h0m4 0h0m112 2h0m0 1h0m1 0h0m0-1h0m2-3h0m0 2h0m0 1h0m1-2h0m1-1h0m2 5h0m0 1h0m1-4h0m0-1h0m0 1h0m1 3h0m0-3h0m0 0h0m0-1h0m0 0h0m1 3h0m0-3h0m0 1h0m1 2h0m0 0h0m0-3h0m0 2h0m0 1h0m1 0h0m0-1h0m1 2h0m1-4h0m0-1h0m0 3h0m0-2h0m1 4h0m0-2h0m1 2h0m0-3h0m1 1h0m2 0h0m1-1h0m0-1h0m0-1h0m1 5h0m2 0h0m1 0h0m0-5h0m0 5h0m3 0h0m1-4h0m0 2h0m1 1h0m0-1h0m0-2h0m1 2h0m0-1h0m1 0h0m0 0h0m3 4h0m4-1h0m5 1h0m2-2h0m1 2h0m-179 2h0m3 4h0m1-4h0m1 4h0m1-1h0m1-1h0m1-3h0m0 4h0m2-5h0m4 1h0m1-1h0m118 2h0m5-1h0m1 1h0m1-1h0m0-1h0m1 3h0m1-2h0m0 2h0m0 0h0m1-1h0m0-1h0m0 0h0m0 3h0m0-1h0m1 1h0m1 2h0m1 0h0m0-4h0m3-2h0m1 1h0m0 1h0m0 4h0m1 0h0m0-2h0m1-3h0m0 2h0m0 0h0m1 2h0m0-3h0m1 1h0m0-1h0m0-1h0m1 0h0m0 3h0m1 0h0m1-3h0m0 5h0m0-4h0m1 1h0m0-2h0m1 4h0m1-2h0m0-2h0m1 3h0m0-3h0m1 1h0m0 0h0m0 1h0m0 3h0m0-6h0m0 4h0m1 2h0m0-5h0m0 1h0m2 4h0m1-1h0m0 1h0m2-4h0m0 2h0m2-3h0m1 3h0m7-1h0m-184 9h0m1 0h0m6-3h0m2 2h0m0 0h0m1-4h0m1 0h0m1 1h0m2-2h0m86 6h0m4 0h0m39-5h0m3 1h0m5-2h0m1 4h0m2-3h0m2 4h0m1 0h0m0 1h0m1-2h0m0-1h0m0 3h0m1-3h0m2-2h0m0 3h0m0-2h0m3 2h0m0-4h0m2 4h0m0-3h0m0 3h0m1-3h0m2 2h0m1 0h0m0-1h0m0 0h0m0 1h0m1 0h0m1 0h0m2 2h0m0 1h0m1-4h0m1 2h0m0 2h0m1-5h0m3 1h0m1 3h0m-186 6h0m3 0h0m2 1h0m1-2h0m1-1h0m3 1h0m0-1h0m1-2h0m74 5h0m2-2h0m1-1h0m1 3h0m4-2h0m1-1h0m1-2h0m1 4h0m0-1h0m3 1h0m2-3h0m2 0h0m1 3h0m1-1h0m1 0h0m3 2h0m3-4h0m1-1h0m8 2h0m0 0h0m1-1h0m3 2h0m2 0h0m2 1h0m15-3h0m4-1h0m4 0h0m2 4h0m2 0h0m2-1h0m2 0h0m1-3h0m0 3h0m4-1h0m0-3h0m1 1h0m0-1h0m1 5h0m1 0h0m0-3h0m0-2h0m0 3h0m2 0h0m0-1h0m1 4h0m0-1h0m0-3h0m1 0h0m0 1h0m0 1h0m1 0h0m1-2h0m1 0h0m0 0h0m1-2h0m0 2h0m0 1h0m1 1h0m3 1h0m1 0h0m0-2h0m0 1h0m1-3h0m0 5h0m1-4h0m2 3h0m0-2h0m0-3h0m1 0h0m3 1h0m-195 8h0m6-1h0m1 2h0m1-1h0m3 0h0m2-1h0m2-1h0m73 2h0m1-1h0m0 1h0m0-2h0m2 2h0m0-2h0m0 5h0m6-5h0m0 1h0m0 4h0m1-2h0m1 0h0m2-3h0m2-1h0m6 1h0m9 4h0m2-4h0m2 0h0m2 5h0m2-2h0m2-1h0m1-2h0m0 1h0m4 2h0m1 1h0m0-3h0m1-2h0m2 5h0m1-1h0m0-1h0m2 1h0m1-1h0m2 2h0m6 0h0m0 0h0m1-2h0m0 2h0m0 0h0m1 1h0m3-2h0m2-1h0m1-2h0m1 5h0m1-6h0m1 4h0m1-4h0m1 1h0m1 5h0m7-2h0m2-4h0m5 5h0m3 0h0m1-1h0m0 0h0m0 0h0m1-3h0m0-1h0m0 2h0m1 1h0m1 1h0m2 1h0m0-1h0m2-3h0m1 0h0m0 1h0m1-2h0m0 5h0m0 1h0m1-4h0m0 1h0m1-3h0m0 5h0m1-2h0m0 1h0m2 0h0m-189 3h0m0 0h0m4 1h0m72 1h0m1 3h0m3-1h0m2-1h0m6-2h0m26-1h0m12 1h0m3-1h0m2 0h0m6 0h0m2-1h0m1 2h0m2-2h0m2 3h0m1 1h0m1-2h0m6 3h0m3 0h0m2-3h0m1 1h0m0-2h0m2 2h0m0-3h0m5 5h0m3-1h0m0 2h0m2-5h0m1 1h0m2 3h0m0-1h0m0-4h0m0 3h0m0-2h0m0 4h0m4-3h0m0 4h0m2-3h0m1-2h0m0 3h0m1-3h0m0 1h0m1 0h0m0 2h0m1 2h0m0-3h0m0 2h0m0-1h0m1-3h0m1 2h0m1-3h0m1 5h0m0-1h0m0-3h0m1 4h0m2-5h0m-192 7h0m3 2h0m1 2h0m0-1h0m69 1h0m2-3h0m1 2h0m4-2h0m1 2h0m52-3h0m13 1h0m4 0h0m7 1h0m3-2h0m4 1h0m2 1h0m7-2h0m0 3h0m0-1h0m1 2h0m1-1h0m1-3h0m0 3h0m1-2h0m1 1h0m0 0h0m0 1h0m1 0h0m0-1h0m0-1h0m0 1h0m1 0h0m0 1h0m1-2h0m1 3h0m1-5h0m0 6h0m0-4h0m1 0h0m2 3h0m2-3h0m-187 7h0m2-2h0m0 4h0m1-3h0m65 1h0m0 1h0m1-3h0m1-1h0m1 4h0m2-2h0m2 3h0m1-4h0m0-1h0m76 5h0m5 0h0m1 1h0m1-5h0m2 4h0m2 0h0m1-5h0m3 5h0m1-2h0m1 0h0m3 3h0m0-1h0m1 1h0m1-3h0m0-1h0m0 2h0m1 0h0m2-3h0m1 0h0m0 4h0m0-5h0m0 1h0m0 1h0m1 2h0m0 1h0m1-3h0m1 4h0m0-4h0m0 2h0m1 0h0m0-4h0m0 3h0m1-2h0m0 3h0m0-2h0m2-2h0m1 2h0m1 2h0m2-2h0m2-1h0m0 0h0m-192 10h0m1-4h0m2 4h0m58 0h0m4-2h0m0-1h0m0 0h0m0 2h0m3-3h0m0 1h0m0 0h0m0-1h0m1 3h0m3-2h0m3-2h0m74 0h0m26 2h0m0 1h0m3-2h0m3 2h0m4-2h0m-187 5h0m2 6h0m1-5h0m0 1h0m0 3h0m0-2h0m2 1h0m58 1h0m2 0h0m0-4h0m1 2h0m2 1h0m4-2h0m4 2h0m120 1h0m-197 6h0m1-5h0m1 6h0m1-3h0m2-1h0m22 4h0m4-1h0m0 1h0m0-1h0m3 1h0m5-1h0m0 0h0m4 0h0m6 0h0m6 0h0m0 0h0m1 0h0m0 0h0m3-2h0m2 0h0m0-2h0m1 0h0m0 2h0m4-1h0m1 0h0m115 3h0m-182 5h0m1-1h0m2-1h0m0-1h0m1 3h0m8-1h0m2 1h0m2 0h0m0-2h0m1-1h0m1 5h0m1-3h0m0 2h0m1-4h0m1 3h0m1-1h0m1-2h0m2 1h0m0-1h0m0 3h0m3-4h0m0 3h0m2-1h0m1 1h0m2 0h0m0-3h0m1 3h0m1 1h0m3-4h0m1 0h0m1 4h0m1-3h0m0 4h0m1-2h0m1-1h0m0-2h0m1 6h0m1-4h0m0 1h0m0 0h0m9-2h0m1 1h0m0-1h0m2 3h0m0-4h0m-58 11h0m0 1h0m2-4h0m2 1h0m1-1h0m0 3h0m2-5h0m2 5h0m0-2h0m1 1h0m0-4h0m1 5h0m2 1h0m2-3h0m0-1h0m1 0h0m1 3h0m1-3h0m1 2h0m1-2h0m0-1h0m2-1h0m5 2h0m2-1h0m7 0h0m2 0h0m6-1h0m4 3h0m1-2h0m33 2h0m121 1h0m-201 5h0m0-2h0m2 3h0m1 2h0m0-1h0m1-4h0m1 0h0m1-1h0m1 1h0m1 0h0m27 1h0m18 4h0m3-1h0m2 0h0m31-1h0m82 1h0m20-1h0m2-2h0m-192 10h0m0-3h0m1 0h0m1 1h0m0 1h0m4-4h0m1 0h0m119 2h0m15 1h0m29 0h0m4-2h0m25 1h0m-200 4h0m12 1h0m94-1h0m34 3h0m10-2h0m32-1h0m-186 7h0m1-1h0m24 4h0m116 1h0m-123 4h0m82-4h0m40 6h0m15-3h0m-125 3h0m13 4h0m15 2h0m46 0h0m59-2h0m-128 8h0m50-4h0m39 0h0m9-1h0m6 1h0m11-2h0m-121 9h0m36 3h0m54-2h0m-86 4h0m87 4h0m60-6h0m-156 10h0m19-3h0m112 5h0m5-3h0m-6 4h0m39 3h0m-138 2h0m17 2h0m1 0h0m27 4h0m58 0h0m11-5h0m-96 6h0m108 2h0m-27 8h0m9-3h0m21 1h0m-67 4h0m21 5h0m11-1h0m3-3h0m8 2h0m29 0h0m5 1h0m-43 6h0m28 0h0m-11 3h0" stroke="#D99136" stroke-width="2.80" stroke-linecap="round" fill="none"/>
<path transform="scale(.5)" d="M1378 395h0m4 0h0m4-4h0m5 5h0m0 0h0m0 0h0m4 0h0m16-1h0m6 1h0m1-4h0m3 3h0m1 1h0m-51 6h0m0-3h0m3-2h0m0 1h0m2 1h0m3 0h0m0 2h0m2-2h0m2 3h0m0-1h0m4-4h0m1 3h0m2 0h0m1-2h0m0 0h0m2 2h0m0-3h0m3 2h0m0 0h0m1 0h0m0-1h0m1-2h0m0 2h0m2 1h0m1 1h0m3-1h0m6 0h0m3-3h0m0 1h0m1 4h0m2-4h0m1 0h0m1-1h0m1 6h0m0-4h0m0 0h0m4-1h0m0 3h0m1-2h0m0 2h0m0 0h0m3-4h0m0 4h0m2 0h0m0 1h0m0 0h0m1-1h0m2 1h0m0 1h0m8-1h0m0 1h0m3-2h0m0 0h0m4-1h0m1 0h0m1 1h0m0 0h0m4 0h0m6 2h0m-97 2h0m4 1h0m1 1h0m1-1h0m1-2h0m2 0h0m2 1h0m61-1h0m5 0h0m2 2h0m1-3h0m0 3h0m2-2h0m4 1h0m0 0h0m3 0h0m0 0h0m4 2h0m4-1h0m0 1h0m1-2h0m2-1h0m0 1h0m0-1h0m2 1h0m0 2h0m1 1h0m1-3h0m2 3h0m2-3h0m1 1h0m-112 4h0m2 3h0m2 2h0m3-5h0m100 1h0m4 1h0m0 0h0m0-2h0m2 0h0m0 3h0m0 2h0m0-5h0m2 5h0m3-1h0m-117 6h0m0-2h0m3-3h0m0 3h0m111 2h0m1 1h0m0-5h0m1 0h0m0 3h0m-118 5h0m2-1h0m0 4h0m1 0h0m2-3h0m0 1h0m112-4h0m0 2h0m2-1h0m0 3h0m3-2h0m3 3h0m1-1h0m-126 6h0m0-3h0m2 1h0m1 1h0m116-1h0m1 0h0m4 1h0m-125 4h0m1 0h0m0 5h0m4-6h0m118 3h0m2-1h0m0-1h0m0 0h0m-123 6h0m3 2h0m0 2h0m1-1h0m1-1h0m0-2h0m1 3h0m113-4h0m3 3h0m3-1h0m-120 6h0m0 0h0m1 3h0m115-4h0m0 4h0m4-1h0m1 1h0m-118 6h0m3-2h0m0-1h0m4 3h0m101 1h0m2-1h0m1-4h0m1 0h0m3 5h0m0-3h0m-113 4h0m2 1h0m2 0h0m3 3h0m1-3h0m0 0h0m5 1h0m1 1h0m88 0h0m1-1h0m0-2h0m2 1h0m3 0h0m2-1h0m0-1h0m-106 7h0m1-1h0m4 0h0m1 5h0m2-3h0m4 1h0m1-1h0m2-1h0m2 0h0m1 0h0m0 2h0m0 1h0m1 0h0m5 1h0m2 0h0m60 1h0m4-4h0m2 0h0m2 0h0m-76 7h0m2-2h0m0 3h0m6 1h0m4-1h0m1-1h0m3 0h0m2 2h0m0-1h0m1 0h0m0 1h0m2-1h0m2 2h0m3-1h0m1 1h0m10-1h0m5 0h0m5 0h0m4 0h0m3 0h0m1-1h0m2 1h0m0-1h0m3 0h0m1 1h0m2-1h0m2-1h0m1-2h0m1 4h0m2-4h0m-56 5h0m8 2h0m0 1h0m2-3h0m3 1h0m5 1h0m3 1h0m2 2h0m1-1h0m0 0h0m1 0h0m2-3h0m1 1h0m2 3h0m1 0h0m1-1h0m5-4h0m0 1h0m1 2h0m4 0h0m2 0h0m3 0h0m4-3h0" stroke="#F07B72" stroke-width="2.80" stroke-linecap="round" fill="none"/>
<path transform="scale(.5)" d="M1529 371h0m1-1h0m6 0h0m3 1h0m1 1h0m12-5h0m5 1h0m6 1h0m4 0h0m-48 3h0m1 3h0m3 0h0m0 2h0m1 0h0m1-4h0m4 1h0m1 1h0m1-1h0m0 2h0m2-1h0m2 1h0m4 0h0m1 1h0m0-4h0m0 0h0m2 0h0m0 2h0m1-1h0m3-1h0m0 4h0m1-4h0m0 2h0m1 0h0m0 0h0m3 1h0m3-2h0m0 2h0m0 1h0m7-5h0m-54 11h0m1 1h0m1-2h0m1-1h0m5 0h0m2-2h0m1-1h0m0 1h0m24 2h0m5-1h0m1-1h0m0 0h0m1 1h0m1 2h0m0-4h0m1 4h0m1 2h0m1-2h0m2 1h0m9-2h0m1 0h0m0 1h0m4 2h0m0-3h0m-72 9h0m1-1h0m3 1h0m0-1h0m4-3h0m0 1h0m3 0h0m0-1h0m2-1h0m2-1h0m32 3h0m2-1h0m6 4h0m5-1h0m1-2h0m5 1h0m0-2h0m4 4h0m-80 4h0m0-2h0m1 4h0m1-1h0m0-2h0m0 2h0m2-3h0m2 2h0m0 0h0m2 1h0m3-4h0m3-1h0m0 1h0m38 2h0m3-1h0m15 1h0m1 2h0m0-4h0m2 5h0m1-3h0m1 3h0m1-3h0m-87 8h0m0-2h0m5 2h0m5-4h0m1 0h0m0 0h0m1 3h0m0-3h0m3 0h0m2 0h0m51 1h0m2 3h0m3-4h0m13 3h0m1-1h0m1 2h0m1-3h0m5-1h0m-91 11h0m0-1h0m1-1h0m2-2h0m0 3h0m1-1h0m2-3h0m56 1h0m2 1h0m5 1h0m8-1h0m0 0h0m4 2h0m1 0h0m1-2h0m1 0h0m1 0h0m1 0h0m0 2h0m2-1h0m-93 2h0m2 1h0m1 2h0m0 0h0m1 0h0m0 2h0m1-1h0m60 2h0m9-5h0m2 3h0m13 0h0m2 1h0m4-1h0m-92 8h0m2-3h0m3-3h0m0 5h0m0 1h0m1-4h0m1 2h0m61-1h0m7-2h0m5 4h0m1 1h0m1-4h0m2 1h0m4-2h0m-87 6h0m4 4h0m1-3h0m2-2h0m70 2h0m1 2h0m0-1h0m1 0h0m0 2h0m0-4h0m0 0h0m1 3h0m0 1h0m5-3h0m2 3h0m-86 2h0m1 1h0m5-1h0m68 4h0m1-1h0m2 0h0m2-4h0m1 0h0m-80 8h0m2 0h0m1 4h0m1-3h0m0-2h0m1 0h0m1 1h0m66 2h0m1 1h0m0-1h0m0-3h0m2 4h0m0-1h0m2 0h0m-77 6h0m1-1h0m1-2h0m1 2h0m2-3h0m0 5h0m1-4h0m59 5h0m3-4h0m2-2h0m5 2h0m-74 5h0m2 0h0m4 3h0m1-3h0m1 5h0m54-1h0m1-4h0m1 2h0m1-2h0m2 0h0m4 0h0m-67 7h0m0 3h0m1 0h0m1-5h0m1 4h0m2-2h0m23 4h0m6-1h0m0 1h0m3 0h0m1-2h0m0 1h0m3-1h0m2-1h0m2 3h0m1-4h0m0 1h0m2 1h0m0 2h0m1-3h0m1 0h0m2 0h0m0 1h0m3-3h0m0-1h0m4 1h0m-58 7h0m5 0h0m0 1h0m4 1h0m4-2h0m2 0h0m3 2h0m4 1h0m1-2h0m1-1h0m4 2h0m3-3h0m1 0h0m4 0h0m2 0h0m1-1h0m6 0h0m10 0h0m-43 7h0m8-1h0m7 2h0" stroke="#ADA340" stroke-width="2.80" stroke-linecap="round" fill="none"/>
<path transform="scale(.5)" d="M1542 279h0m1-2h0m1 4h0m0-5h0m0 5h0m0 1h0m1-1h0m0-2h0m1 0h0m0-1h0m3 1h0m0 1h0m1 0h0m0 1h0m0-2h0m-10 4h0m1 3h0m0-4h0m1 1h0m0 0h0m0 2h0m0-2h0m1 4h0m1-3h0m0 0h0m0 2h0m0 0h0m0 1h0m2 0h0m0-3h0m1 2h0m1 1h0m1-3h0m-10 4h0m4 0h0m1 1h0m0 1h0m1 0h0m0 0h0m1-2h0m0 2h0m0 0h0m1-2h0m1 5h0m0-4h0m-83 173h0m26-1h0m1-1h0m15 2h0m11-2h0m3 0h0m3 2h0m1-5h0m0 5h0m0 0h0m2-4h0m1 3h0m4-2h0m1 1h0m1 1h0m1-1h0m1-3h0m0-1h0m1 5h0m0-3h0m2 3h0m2-2h0m1 0h0m3 1h0m-87 7h0m7-1h0m6 1h0m2 0h0m3-3h0m2 3h0m2-2h0m1-3h0m0 5h0m3-1h0m2-1h0m1-3h0m1 5h0m0 1h0m1-3h0m3 3h0m2 0h0m0-3h0m1 2h0m3-3h0m1 1h0m2-2h0m0 1h0m1 4h0m0-1h0m1-1h0m0 0h0m3 1h0m0-2h0m1-1h0m4-1h0m7 3h0m1-3h0m0-1h0m2 1h0m2 1h0m0-2h0m1 3h0m2-1h0m3 0h0m0-2h0m2 2h0m7 0h0m0-1h0m4 1h0m2 1h0m1 1h0m1 1h0m1-3h0m2 3h0m3-2h0m-103 8h0m2-3h0m4 3h0m1-1h0m0 1h0m1-2h0m3 1h0m1-4h0m0 2h0m13 0h0m0 0h0m1-2h0m4 2h0m0-1h0m6-1h0m3 2h0m0-1h0m2-1h0m0 0h0m0 0h0m9 1h0m4-1h0m2 1h0m38-1h0m2 2h0m5 1h0m-102 3h0m1 2h0m3 1h0m0-1h0m1 2h0m3 0h0m90-1h0m3-3h0m2 2h0m3 3h0m-103 2h0m6 1h0m2-1h0m0 4h0m1-1h0m1 1h0m1 1h0m1-3h0m1-1h0m2 2h0m1 2h0m1 0h0m5 0h0m5-1h0m1 1h0m67-4h0m0 0h0m2 0h0m1 1h0m2-1h0m-85 4h0m2 1h0m1 0h0m4 2h0m0-1h0m0-1h0m2 1h0m1 3h0m0-1h0m2-2h0m2-1h0m0 1h0m1 1h0m0-3h0m2 0h0m2 4h0m1 0h0m1 1h0m3 0h0m4-2h0m4 3h0m47 0h0m5-6h0m0 1h0m0 2h0m1 0h0m-80 3h0m1 1h0m3 0h0m16 2h0m3 0h0m1-1h0m1 0h0m1 1h0m1-2h0m3 1h0m5 2h0m0 2h0m2 0h0m3-3h0m2 2h0m1-1h0m6 0h0m8 1h0m2-1h0m2 1h0m2 0h0m7-1h0m2-1h0m1 0h0m0-2h0m4-1h0m-46 6h0m6 2h0m3-1h0m1 1h0m2 2h0m1-2h0m0-2h0m1 2h0m2 3h0m1-4h0m1 3h0m1 1h0m0-4h0m0 2h0m2 0h0m2 1h0m0-2h0m0 1h0m2-3h0m1 0h0m1 0h0m0 3h0m4 1h0m0-2h0m1 2h0m4-2h0m2 0h0m2-1h0m4 2h0m-22 5h0m3-1h0" stroke="#4F9BD5" stroke-width="2.80" stroke-linecap="round" fill="none"/>
<path transform="scale(.5)" d="M1499 303h0m13 2h0m-6 2h0m2 1h0m8 3h0m3-3h0m17 2h0m4-3h0m11 1h0m2 3h0m3 0h0m-50 6h0m4-4h0m2 4h0m9-3h0m0-2h0m14 4h0m3 0h0m2-2h0m5 1h0m3 3h0m0-4h0m0 1h0m2-2h0m5 5h0m6-1h0m-50 1h0m0 1h0m4 3h0m2 1h0m4 0h0m6 1h0m1-2h0m5 1h0m0-3h0m0 1h0m4 1h0m1-1h0m0-3h0m2 6h0m1-4h0m6-2h0m1 5h0m0-5h0m1 3h0m1 1h0m0 1h0m1-1h0m2-3h0m1 3h0m0-2h0m1 3h0m0 1h0m1-3h0m1-2h0m1 2h0m2 0h0m2 3h0m5-2h0m-59 3h0m1 2h0m4-2h0m5 4h0m2-4h0m2 2h0m6 3h0m2-1h0m0 0h0m1-5h0m1 4h0m0-3h0m2 1h0m1-1h0m1-1h0m2 3h0m1 0h0m2 1h0m2 1h0m1-3h0m1 2h0m1 0h0m1-3h0m1 2h0m0 1h0m8-1h0m2-2h0m1-1h0m3 6h0m0-2h0m6 0h0m-42 6h0m1-1h0m6 0h0m0 0h0m5 1h0m5-2h0m0 1h0m1-2h0m1 1h0m0 2h0m0-4h0m1 1h0m1-1h0m0 0h0m2 1h0m18 1h0m0 2h0m1-3h0m0 5h0m0-3h0m0 2h0m-51 1h0m9 5h0m0-3h0m7 1h0m3-3h0m0 5h0m1-3h0m0 2h0m1-4h0m1 3h0m4-1h0m0-1h0m1-1h0m1 2h0m1-2h0m1 6h0m0-6h0m2 2h0m0 2h0m1 0h0m1 1h0m16-1h0m3 2h0m0-4h0m1-1h0m-30 10h0m6-2h0m0 3h0m2-1h0m1-4h0m2 3h0m0 1h0m18 0h0m-37 6h0m1-2h0m0-1h0m5 0h0m0 1h0m3 1h0m0-4h0m8 1h0m0 1h0m1 3h0m1-1h0m0 0h0m0-4h0m1 3h0m0-2h0m2 3h0m0-2h0m2-2h0m13 1h0m1 4h0m3-1h0m0-3h0m1 4h0m2-3h0m2-1h0m-44 10h0m3-2h0m0-2h0m1 3h0m4 0h0m1-2h0m2-2h0m0 0h0m0 5h0m2-2h0m1 1h0m3-3h0m1 1h0m0 0h0m1 3h0m0-3h0m1 1h0m0 0h0m0 2h0m0 0h0m18 1h0m0-1h0m0 1h0m2-6h0m0 3h0m2 2h0m0-1h0m-46 6h0m3 0h0m5-2h0m2 2h0m5-3h0m4 2h0m0 2h0m7-4h0m2 3h0m14 2h0m1-2h0m1-3h0m0 0h0m0 4h0m2-4h0m1 0h0m0 0h0m3 5h0m0-3h0m-45 4h0m2-1h0m5 0h0m11 4h0m2-2h0m1-1h0m0 4h0m3-3h0m0 4h0m13-1h0m1-1h0m2 1h0m2-3h0m1 1h0m1 1h0m-27 4h0m4 3h0m0-2h0m5 3h0m2-2h0m10-3h0m1 4h0m0-1h0m1-3h0m1-1h0m0 1h0m3 1h0m1 3h0m0-4h0m-24 8h0m2-1h0m1 0h0m0 3h0m2-1h0m1 0h0m1-2h0m1 0h0m0-1h0m2 4h0m5-1h0m2-4h0m0 0h0m3 0h0m-14 11h0m2-1h0m1-3h0m1 0h0m0 0h0m2 3h0m1 2h0m0-2h0m2-4h0m1 2h0m0 0h0m1 0h0m2 0h0m1 0h0m3-1h0m-14 7h0m0 0h0m5 0h0m0-1h0m-6 8h0m3 0h0m1 2h0m2-4h0m3 0h0" stroke="#C273AF" stroke-width="2.80" stroke-linecap="round" fill="none"/>
<path transform="scale(.5)" d="M1461 354h0m1-3h0m1 0h0m2 3h0m1-2h0m2 1h0m1-2h0m0 1h0m5 2h0m2-1h0m2 0h0m5-1h0m-35 3h0m5 4h0m2-2h0m2-2h0m2 4h0m3-2h0m1 0h0m1 0h0m1-1h0m2-1h0m0 0h0m1-1h0m4 1h0m3 1h0m2-1h0m1 1h0m3 1h0m5 2h0m0-2h0m6 1h0m-47 8h0m2 0h0m3-2h0m6-4h0m27 2h0m1-1h0m1 1h0m0 1h0m0 1h0m1 0h0m4 1h0m4 0h0m-52 5h0m1-2h0m1 1h0m1 1h0m0 1h0m0-1h0m2-1h0m1 0h0m1-2h0m1 5h0m40-2h0m0 0h0m1-3h0m0 5h0m1-4h0m0 3h0m1-3h0m7 1h0m-57 7h0m1-2h0m1 1h0m3-2h0m1 0h0m39 5h0m1-1h0m0-4h0m1 2h0m0 3h0m1-4h0m2 0h0m0 2h0m2-2h0m1 2h0m-9 7h0m2-1h0m3-3h0m1 4h0m1-2h0m2-3h0m-67 9h0m3 2h0m2 1h0m0-6h0m0 6h0m2-5h0m0 1h0m1 2h0m1-1h0m0-1h0m0 2h0m1 0h0m1-2h0m33 3h0m3-1h0m1 1h0m0 0h0m3-1h0m2 2h0m0 0h0m1-5h0m1 1h0m3 4h0m0-1h0m3-2h0m2-2h0m1 2h0m-67 3h0m1 2h0m1 4h0m1-4h0m3 0h0m1 2h0m1-3h0m1 1h0m0 3h0m2 1h0m2-3h0m6-2h0m0 1h0m1 0h0m3 3h0m3-1h0m0-1h0m2-2h0m0 3h0m0-2h0m1 2h0m2-2h0m2 1h0m1 3h0m2-3h0m3 2h0m0-3h0m3 4h0m2-5h0m1-1h0m0 1h0m5 3h0m0-1h0m2-1h0m0 2h0m3-3h0m2 0h0m-48 5h0m1 1h0m1-1h0m8 1h0m3-1h0m2 1h0m6 1h0m1 0h0m5 0h0m2 2h0m0 0h0m1-3h0m-6 7h0m7-1h0" stroke="#9C85C2" stroke-width="2.80" stroke-linecap="round" fill="none"/>
<path transform="scale(.5)" d="M1434 161h0m13-2h0m1 2h0m5-2h0m3 1h0m6 0h0m6-1h0m5 3h0m3-6h0m0 5h0m14-1h0m-54 2h0m2 6h0m3 0h0m1-2h0m1-2h0m0 2h0m8 2h0m2-1h0m0-4h0m1 3h0m5 0h0m5-3h0m1 1h0m1 4h0m0-3h0m1 1h0m5-3h0m1 2h0m3-1h0m1 0h0m2 4h0m2 0h0m2-3h0m0 0h0m3 0h0m0 1h0m4 0h0m0-1h0m0 2h0m3-1h0m11 0h0m-91 3h0m8 4h0m3-2h0m1-1h0m1 1h0m16 1h0m1-1h0m1-1h0m5-1h0m2 1h0m1 3h0m0-4h0m0 5h0m0-1h0m1-5h0m0 2h0m1 0h0m1 2h0m0 1h0m0 0h0m0-3h0m2 0h0m2 1h0m4 0h0m1-1h0m2 1h0m0-3h0m0 0h0m2 2h0m5-1h0m1 3h0m5-3h0m0 5h0m1-2h0m0 2h0m1-5h0m1 2h0m0 0h0m1-1h0m1 2h0m1 2h0m1-4h0m1-2h0m0 5h0m1 0h0m1-5h0m1 4h0m3 1h0m0-2h0m3 0h0m1 2h0m1-1h0m2-4h0m1 2h0m1 3h0m1 0h0m0 0h0m1 0h0m1-4h0m7 4h0m2 0h0m3 1h0m3-2h0m-105 5h0m2-1h0m1 3h0m1-3h0m7-1h0m1-1h0m15 4h0m1-1h0m0 0h0m0 2h0m1-4h0m1-1h0m1 3h0m1 2h0m0 1h0m1-1h0m0-1h0m0-3h0m0 2h0m1 0h0m2 1h0m3-2h0m1 0h0m0-1h0m1-1h0m0 4h0m1 1h0m0-3h0m1-1h0m0 4h0m3 0h0m1 0h0m1-1h0m0-4h0m1 2h0m1 0h0m0 2h0m1-4h0m1 4h0m1 0h0m0 1h0m2-2h0m1 2h0m2 0h0m1-2h0m2-2h0m0 2h0m0-2h0m1 0h0m3 2h0m1 2h0m1 0h0m1-4h0m1 1h0m0-2h0m0 2h0m1 2h0m0-3h0m0 3h0m1 1h0m1-3h0m1 1h0m0 3h0m2-4h0m0 2h0m0 0h0m1 0h0m0 0h0m0-2h0m1 0h0m3-1h0m1 3h0m0 1h0m1-2h0m4-2h0m1 4h0m0-4h0m1 2h0m4-1h0m1 0h0m1 3h0m1 0h0m2-4h0m2 5h0m0-3h0m5-2h0m4 2h0m-93 6h0m3 0h0m8-1h0m1-2h0m0 1h0m4 1h0m1 3h0m4 0h0m0-5h0m2 3h0m0-3h0m0 4h0m0 1h0m0-4h0m0 3h0m1-2h0m1-2h0m1 1h0m0 1h0m1 4h0m0-6h0m1 5h0m2-2h0m1 1h0m3 2h0m1-3h0m0-2h0m2 3h0m2 1h0m0-4h0m2-1h0m0 3h0m1-3h0m1 1h0m0 0h0m1 1h0m2 1h0m1 0h0m0 0h0m1-1h0m0 3h0m0-3h0m1 2h0m1-3h0m0 3h0m0-3h0m2 0h0m0 1h0m1 3h0m0 0h0m1-5h0m0 4h0m0 0h0m1 1h0m0-5h0m1 0h0m1 2h0m0 0h0m0 0h0m1 0h0m1 4h0m0-2h0m0-1h0m0 2h0m1-5h0m0 5h0m0-3h0m2 3h0m1-1h0m1 2h0m1-2h0m1 2h0m2-1h0m0-1h0m3-4h0m2 5h0m0-1h0m3-1h0m1 0h0m1-2h0m2 5h0m0-2h0m1-1h0m2 2h0m1 1h0m1-3h0m0 0h0m2 3h0m1-2h0m4-2h0m10 2h0m-104 3h0m4 3h0m5 1h0m6 1h0m1-1h0m1-4h0m0 0h0m2 4h0m1-4h0m1 3h0m4-3h0m1 2h0m1-2h0m1 5h0m1-5h0m1 1h0m2 1h0m0 0h0m1 2h0m0-4h0m0 3h0m2 2h0m0-5h0m1 3h0m1-1h0m1 0h0m0 1h0m2-3h0m1 1h0m1 2h0m1-2h0m3 3h0m0-3h0m1-1h0m1 1h0m1 1h0m0 3h0m1-1h0m0 0h0m1-1h0m0 0h0m1-3h0m0 3h0m0-1h0m1-3h0m0 2h0m2 2h0m1-2h0m1 0h0m3 3h0m0-4h0m2 1h0m1-1h0m2 4h0m0-3h0m0-1h0m1 1h0m0 2h0m0-3h0m1 1h0m2 4h0m0-5h0m2 1h0m0 1h0m1 0h0m2-3h0m1 4h0m0-1h0m1-3h0m1 6h0m3 0h0m1-2h0m0 1h0m2-2h0m0-2h0m0 0h0m0 4h0m0 0h0m1-2h0m0-1h0m0 1h0m1-2h0m1 0h0m0 1h0m1-1h0m1 0h0m0 3h0m6 2h0m3-3h0m3 1h0m7-1h0m0 1h0m1 1h0m1 0h0m4 0h0m-103 2h0m7 0h0m4 0h0m2-1h0m1 2h0m3-1h0m4 0h0m0 5h0m0-2h0m1 0h0m1 0h0m1-1h0m2-1h0m1 1h0m1-1h0m0 3h0m2-2h0m2 1h0m6-3h0m1 0h0m0 4h0m1-2h0m1-1h0m0 0h0m1-1h0m1 2h0m0 2h0m1-4h0m1 2h0m2 2h0m0-4h0m0 0h0m0 3h0m1 1h0m3-4h0m0 0h0m0 4h0m1-3h0m1 1h0m0 1h0m1-1h0m1-3h0m1 6h0m0-2h0m1-1h0m5-2h0m0 0h0m1 2h0m1 2h0m2-2h0m1-1h0m0-1h0m1 5h0m0-2h0m1-1h0m0-2h0m1 2h0m2 0h0m0 1h0m0-2h0m2-1h0m0 3h0m1 1h0m1-3h0m0 4h0m1-2h0m0-3h0m1 3h0m1-2h0m2-1h0m0 1h0m1-1h0m0 3h0m1-2h0m5 0h0m2-2h0m9 4h0m-68 7h0m3-3h0m4 1h0m11 0h0m0 0h0m0-2h0m1 1h0m1 1h0m5 0h0m1 0h0m1-1h0m1 2h0m2-1h0m0-2h0m2 2h0m0-3h0m0 1h0m1 5h0m1-4h0m0 2h0m2-3h0m3-1h0m3 4h0m3-2h0m4 2h0m2 1h0m1 1h0m13-4h0m2 2h0m-46 3h0m26 2h0m4-1h0m8 2h0m6-1h0m-21 6h0" stroke="#6DB44E" stroke-width="2.80" stroke-linecap="round" fill="none"/>
<path transform="scale(.5)" d="M1398 179h0m-15 4h0m5-3h0m7 5h0m6-4h0m2 4h0m1 1h0m8-3h0m1-3h0m-41 7h0m21 5h0m23-2h0m14 1h0m-42 6h0m0-1h0m1-2h0m1 4h0m0-1h0m0 0h0m1 0h0m4-3h0m2 1h0m1 0h0m6 1h0m0-2h0m0 1h0m2-1h0m11 3h0m6-5h0m4 6h0m4-5h0m-54 8h0m8-2h0m10 3h0m2 1h0m5-2h0m17 1h0m3 2h0m3-4h0m1 0h0m-56 9h0m9-4h0m0 0h0m6-1h0m2 3h0m4 0h0m5 3h0m6-5h0m13 0h0m1 0h0m-47 7h0m3-1h0m20 1h0m17 1h0m2 3h0m7-1h0m3-3h0m-46 9h0m1-3h0m9 1h0m2-2h0m3 1h0m6 1h0m1 1h0m5 0h0m4-2h0m23 2h0m-54 8h0m35-4h0m2 3h0m-44 6h0m14-2h0m10 2h0m4 1h0m1 0h0m4-3h0m7-1h0m1 3h0m0-4h0m3 1h0m6 2h0m1-3h0m2 2h0m0-1h0m5 0h0m2 2h0m3 2h0m-69 1h0m4 3h0m2 0h0m3 0h0m21-1h0m1 0h0m12 1h0m13 1h0m5-1h0m2-2h0m0-2h0m-47 7h0m9 3h0m0 0h0m10 2h0m2-5h0m2 0h0m29 3h0m0 1h0m-68 2h0m28 1h0m1 0h0m7 3h0m4-2h0m11 3h0m10-1h0m8-4h0m-57 7h0m5 2h0m11-3h0m3 3h0m1 2h0m29-5h0m9 5h0m-49 0h0m21 0h0m0 4h0m7 2h0m1-3h0m1-2h0m15 0h0m1 2h0m-27 7h0m8-2h0m14 3h0m16-4h0m1 1h0m-24 5h0" stroke="#41B062" stroke-width="2.80" stroke-linecap="round" fill="none"/>
<path transform="scale(.5)" d="M1456 197h0m2-1h0m4-3h0m7 0h0m-19 9h0m9-3h0m2-1h0m14 1h0m12 3h0m20-1h0m-70 9h0m7-2h0m12-1h0m2 2h0m1 0h0m2 1h0m8-5h0m1 0h0m5 2h0m5 1h0m11 1h0m5-2h0m0-2h0m2 0h0m-64 6h0m2 0h0m8 5h0m8-5h0m3 1h0m15 2h0m8 2h0m14-5h0m2 1h0m4 0h0m8 0h0m5 2h0m0-3h0m2 4h0m4-3h0m2 3h0m-83 2h0m28 0h0m7-1h0m10 3h0m5 1h0m3-4h0m4 2h0m5 0h0m1 4h0m0-1h0m4-2h0m8-1h0m6 4h0m-85 4h0m10-1h0m7-1h0m2 2h0m12-4h0m27 2h0m1 2h0m7-2h0m7 1h0m2-2h0m2-1h0m13 3h0m-98 8h0m8-5h0m7 0h0m2 0h0m5 6h0m2-2h0m2-3h0m1 5h0m1-2h0m10 0h0m4-3h0m2 0h0m9 2h0m2-3h0m1 2h0m2 2h0m2-3h0m5 3h0m4 0h0m3 2h0m10 0h0m4-2h0m0-1h0m7 0h0m3 2h0m6-1h0m-90 7h0m2-3h0m4 4h0m9-4h0m2 3h0m6-4h0m1 2h0m5 3h0m3-3h0m3 2h0m0-1h0m1 2h0m2-2h0m0-2h0m1 0h0m1 0h0m5-1h0m2 3h0m3-3h0m1 1h0m6 0h0m0-1h0m11 3h0m6 1h0m0-3h0m3 0h0m3 2h0m-81 7h0m5-5h0m0 3h0m5 1h0m0 0h0m6-4h0m3 1h0m4 2h0m3-3h0m6 2h0m6-2h0m4 1h0m12 0h0m6 1h0m9 2h0m11-2h0m-81 5h0m1-1h0m1 2h0m1-2h0m8 3h0m10-2h0m11 3h0m5 0h0m4 0h0m1-2h0m7 0h0m1 0h0m14 0h0m3-1h0m7 5h0m-57 3h0m5-2h0m4 3h0m4-1h0m3-2h0m0 0h0m7 2h0m0 2h0m9-2h0m1-2h0m4 2h0m2 0h0m0-1h0m1 4h0m1 0h0m7-2h0m2-1h0m8-2h0m6 4h0m-78 2h0m3 1h0m19 3h0m0-5h0m4 4h0m2-1h0m4 0h0m1 3h0m0-1h0m6-5h0m1 2h0m0 0h0m3 4h0m4-5h0m21 0h0m1 0h0m0 0h0m4 3h0m1 1h0m5 0h0m-69 4h0m0 1h0m4-2h0m9-1h0m1-1h0m3 2h0m4 0h0m2 4h0m2-5h0m2-1h0m2 1h0m2 0h0m4 2h0m2 0h0m0 1h0m2 1h0m3-4h0m0-1h0m1 3h0m8 1h0m13-4h0m8 2h0m0 1h0m-41 8h0m2-3h0m3-2h0m1 4h0m2-1h0m4 2h0m6-1h0m3-3h0m-24 10h0m1-1h0m1-2h0m5 0h0m3 0h0m4 1h0m3 2h0m7-5h0m-24 10h0m19-3h0m2-1h0" stroke="#31B7DD" stroke-width="2.80" stroke-linecap="round" fill="none"/>
<path transform="scale(.5)" d="M1527 210h0m2-5h0m10 0h0m12 1h0m1 1h0m3-2h0m-32 5h0m4 1h0m0 5h0m7 0h0m4-1h0m1-1h0m2 2h0m3-1h0m6 0h0m8-5h0m-37 10h0m7-3h0m5 3h0m1 1h0m0-1h0m3-2h0m8 1h0m9 1h0m7-3h0m0 0h0m7 3h0m-50 3h0m2 1h0m4 0h0m2 3h0m2-3h0m14 4h0m3-5h0m4 1h0m1 2h0m2-2h0m4 2h0m0-1h0m1-1h0m12 4h0m1-2h0m-51 5h0m0 3h0m12-5h0m7 0h0m12 1h0m3 0h0m10-1h0m4 0h0m5 2h0m0 1h0m10-4h0m-66 11h0m0 0h0m18 0h0m9-4h0m3 2h0m4 0h0m2-2h0m2 2h0m4 2h0m1 0h0m8 1h0m3-5h0m10 4h0m-63 4h0m2-2h0m8 4h0m1-3h0m1 1h0m13 3h0m0-2h0m1-2h0m3 2h0m0-2h0m12 3h0m5-2h0m10-1h0m0 0h0m1-1h0m-58 8h0m8 1h0m1 0h0m19-4h0m4 5h0m0-1h0m7-1h0m5-2h0m2 0h0m3 5h0m4-4h0m0 3h0m5 0h0m0-1h0m4-1h0m-60 7h0m6-3h0m9 3h0m4 2h0m8-5h0m19 2h0m1 1h0m1 1h0m0 1h0m2-5h0m0 5h0m2-4h0m4 2h0m6-3h0m0 5h0m1 0h0m0-2h0m1-3h0m1 1h0m4 1h0m-71 5h0m7 3h0m4-1h0m5-1h0m6-2h0m5 2h0m1 0h0m2-2h0m2 0h0m5 1h0m3 2h0m3 1h0m5-1h0m2-3h0m1 3h0m2-4h0m5 5h0m-54 4h0m2 0h0m2 3h0m4-2h0m1-3h0m12 4h0m1-2h0m3-2h0m4-1h0m3 1h0m8 2h0m1 1h0m1-3h0m10-1h0m2 4h0m4 1h0m-51 4h0" stroke="#3FB6A1" stroke-width="2.80" stroke-linecap="round" fill="none"/>
<path transform="scale(.5)" d="M1546 189h0m6 5h0m35 3h0m0-1h0m3 1h0m2 0h0m2 1h0m0-3h0m2-2h0m4 5h0m0-2h0m2-3h0m1 1h0m0 2h0m0 2h0m1-4h0m0 0h0m1 0h0m3 3h0m1-1h0m1-2h0m0 3h0m1-1h0m1 0h0m1-1h0m3 3h0m0-2h0m1 1h0m0-1h0m2 2h0m1-3h0m0 1h0m2 1h0m3 1h0m-37 2h0m3-2h0m2 1h0m1 1h0m0-1h0m9-1h0m2 0h0m17 0h0m1 2h0m2 0h0m0 3h0m1-1h0m-1 3h0m1 4h0m2-2h0m0 1h0m3-4h0m-10 8h0m0 1h0m0 1h0m0 0h0m4 1h0m3 2h0" stroke="#E969A3" stroke-width="2.80" stroke-linecap="round" fill="none"/>
<path transform="scale(.5)" d="M1432 300h0m32-1h0m5-1h0m1 1h0m1 1h0m4-1h0m1 1h0m1-4h0m2-1h0m2 2h0m4 0h0m3 0h0m1 0h0m4 2h0m1 1h0m0-5h0m-77 11h0m1-1h0m2 0h0m3-2h0m1 0h0m0 1h0m1 2h0m1-1h0m0-3h0m1-1h0m1 1h0m0-1h0m1 1h0m0 3h0m1-4h0m0 3h0m0-1h0m0 0h0m1 1h0m0-3h0m0 0h0m1 4h0m1-3h0m0 3h0m1 0h0m0-3h0m1 4h0m0-4h0m1 2h0m1-1h0m0 2h0m1 0h0m0-1h0m2-1h0m1 3h0m0-3h0m0 2h0m1-2h0m0 1h0m1 2h0m2-3h0m5-1h0m1-1h0m0 0h0m1 4h0m1-1h0m0 0h0m1-4h0m2 2h0m1 3h0m4-4h0m3 1h0m0 4h0m4-5h0m0 5h0m2-6h0m0 1h0m1 0h0m1 5h0m3-1h0m1-3h0m2-1h0m1 5h0m3-5h0m1 4h0m0-2h0m1 2h0m1-1h0m0-2h0m0 1h0m0-3h0m1 2h0m2 1h0m0 1h0m1-4h0m1 1h0m1 2h0m2 1h0m1-2h0m2 0h0m0 3h0m1-2h0m1 3h0m1-4h0m0-2h0m-90 11h0m1 0h0m1 0h0m2-3h0m0 1h0m1 3h0m1-6h0m0 4h0m0-1h0m0 2h0m1-4h0m0 3h0m0-3h0m0 2h0m1 0h0m0-2h0m1 4h0m0-4h0m1 1h0m3-1h0m0 3h0m1-1h0m1 0h0m0 2h0m0-4h0m0 1h0m0 0h0m0 2h0m1 1h0m0 0h0m1 0h0m1-5h0m1 5h0m0-1h0m0-1h0m0-2h0m1 1h0m0-2h0m0 4h0m0-1h0m1 2h0m0 0h0m0-4h0m1 2h0m1-1h0m0-1h0m0 2h0m1 1h0m0 0h0m0-2h0m1 0h0m0 1h0m0 1h0m2-1h0m1 0h0m2-2h0m0 3h0m1-4h0m2 3h0m1-2h0m1 2h0m1-1h0m1 3h0m7-5h0m3 5h0m4-5h0m2 4h0m1-3h0m1-1h0m1 1h0m0-1h0m0 4h0m6 1h0m1-1h0m1 1h0m2 0h0m1-3h0m1 4h0m0-5h0m4-1h0m4 3h0m4 3h0m1-3h0m1-1h0m1-1h0m1 4h0m0-4h0m1 2h0m0 0h0m3-2h0m1 1h0m0 0h0m-99 7h0m2 3h0m0-1h0m1 1h0m0 0h0m2 0h0m0-1h0m0-1h0m1-4h0m0 2h0m1 1h0m0 0h0m0 0h0m1 0h0m0 1h0m1 1h0m0-1h0m0-3h0m1 0h0m0 0h0m1 5h0m0-6h0m1 6h0m1-3h0m0-1h0m1 1h0m1 1h0m0-3h0m0 3h0m1-2h0m0 1h0m2-3h0m0 4h0m2 0h0m0-2h0m0-1h0m0 1h0m1 1h0m0 1h0m0 0h0m2-3h0m0 2h0m0 0h0m0-2h0m1 5h0m0-5h0m0 4h0m1-3h0m0 3h0m1-4h0m0 1h0m1 1h0m0-2h0m0 1h0m1 1h0m1-2h0m0 4h0m0 0h0m1-1h0m0-1h0m1 1h0m0-3h0m1 0h0m0 0h0m0 3h0m3 1h0m0-4h0m1 2h0m0-1h0m0 2h0m0-1h0m0 0h0m1-2h0m2 0h0m0 3h0m0 0h0m1 0h0m0 0h0m0-1h0m1 2h0m1-1h0m1 0h0m0-1h0m3-1h0m0 4h0m2-1h0m0-2h0m1 1h0m3 0h0m2 1h0m0-4h0m0 1h0m9-1h0m0 0h0m1 2h0m1-3h0m2 4h0m0 2h0m1-2h0m2 1h0m1-5h0m2 2h0m0 4h0m0-2h0m1 0h0m0-3h0m1 2h0m1 1h0m0 1h0m0-1h0m1 0h0m5-1h0m1-1h0m0 2h0m3 2h0m1 0h0m0-2h0m0-2h0m1 1h0m0-1h0m0-1h0m3-1h0m6 3h0m1 0h0m2 2h0m1-3h0m0 3h0m0 1h0m0-3h0m1 2h0m0-2h0m1 0h0m-113 7h0m0 1h0m0 0h0m3-1h0m1-3h0m0 1h0m0 3h0m0-5h0m1 5h0m1-3h0m0 2h0m1 0h0m0-1h0m0 1h0m1 1h0m3 0h0m1-2h0m2 0h0m1 0h0m1 3h0m0-1h0m0-2h0m0-1h0m0 2h0m1-3h0m0 5h0m0-3h0m1 2h0m0-2h0m1 3h0m0-4h0m0 0h0m1 2h0m0 0h0m0 1h0m1-1h0m0 1h0m1-1h0m0-3h0m1 2h0m0-2h0m0 4h0m1-4h0m1 2h0m0 2h0m1 0h0m0 0h0m0-1h0m0-3h0m1 1h0m0 2h0m1-4h0m1 3h0m1 2h0m0 1h0m1-2h0m1-2h0m0 2h0m0-3h0m0 2h0m1 1h0m1-1h0m1 0h0m0 2h0m0 1h0m0-1h0m3 0h0m1 0h0m0-4h0m0 1h0m0 4h0m2 0h0m2-1h0m1-4h0m1 4h0m0 0h0m1-2h0m0-2h0m1 1h0m0 2h0m0 0h0m0-2h0m1-1h0m0 4h0m0-2h0m0 1h0m1 1h0m0 1h0m1-1h0m1-5h0m2 3h0m2-2h0m1-1h0m1 2h0m1-1h0m3-1h0m1 4h0m0 1h0m2-3h0m0 3h0m5 0h0m0-4h0m0 5h0m1-1h0m2-3h0m1 0h0m1 3h0m3-2h0m0-2h0m2 0h0m1 3h0m1 0h0m0 2h0m1 0h0m0-3h0m3 2h0m2-4h0m3 3h0m1 1h0m7-1h0m4-3h0m2 0h0m1 4h0m0-4h0m2-1h0m3 1h0m0 1h0m2-2h0m0 5h0m0-3h0m1-2h0m0 3h0m1-2h0m0 0h0m2 3h0m0-2h0m5 4h0m35-2h0m7 1h0m1-5h0m4 4h0m-176 8h0m2-1h0m1 1h0m3-2h0m0 2h0m0-1h0m1-5h0m0 2h0m1-1h0m1 0h0m1 3h0m0-4h0m0 3h0m1 1h0m0 2h0m0-3h0m0-3h0m0 1h0m0 0h0m1 0h0m1 3h0m1-1h0m0-3h0m0 5h0m0-5h0m0 3h0m2 0h0m1-3h0m0 2h0m1 1h0m1 0h0m0 2h0m1-2h0m1-2h0m0 3h0m1 0h0m2-2h0m0-1h0m0 5h0m0-1h0m0 0h0m1-1h0m1-2h0m0 3h0m0-1h0m0-1h0m0-1h0m1 2h0m0-4h0m3 5h0m0-3h0m2 1h0m1-2h0m1 4h0m0-4h0m1 4h0m1-4h0m2 0h0m0 2h0m0 0h0m0-2h0m2 1h0m0-1h0m0 3h0m0-1h0m1 2h0m0-5h0m2 2h0m2-2h0m0 3h0m1-1h0m1 3h0m0-5h0m0 3h0m1 3h0m0-4h0m1-2h0m1 3h0m1-1h0m0 0h0m0 0h0m1 2h0m0-2h0m1 2h0m0-3h0m1 1h0m1 0h0m0 2h0m0-4h0m1 1h0m1-1h0m1 0h0m1 4h0m2 1h0m0-1h0m3 1h0m0-1h0m1-1h0m1 2h0m0-1h0m0-3h0m0 2h0m2-3h0m1 4h0m1-3h0m1 3h0m3-2h0m0 0h0m4 4h0m0-1h0m1 0h0m1-3h0m1 3h0m2-4h0m0 3h0m0-2h0m5 1h0m1-1h0m3 1h0m0 3h0m1-4h0m3 2h0m0 0h0m3-1h0m0-3h0m4 6h0m0-1h0m1 0h0m6-4h0m3 0h0m1 3h0m0-2h0m1-2h0m1 5h0m0 0h0m2 0h0m0 1h0m0-5h0m1 1h0m0 1h0m2-1h0m0 3h0m1 1h0m0-4h0m0 4h0m2 0h0m4 0h0m1-3h0m1 1h0m1-1h0m1 3h0m2 0h0m32 0h0m1 0h0m1-3h0m3-2h0m2 5h0m5-6h0m9 5h0m-196 7h0m5-2h0m1 1h0m1 0h0m1-3h0m0 3h0m0-2h0m0-2h0m1 1h0m0 2h0m0-3h0m2 3h0m1-3h0m0 4h0m0-1h0m1-3h0m0 4h0m0-4h0m2 4h0m0-3h0m1 3h0m1-5h0m0 4h0m0 1h0m0-4h0m1 4h0m0-2h0m1 0h0m0-1h0m2-1h0m1 0h0m0 0h0m0 4h0m0-3h0m1 2h0m2 2h0m0-6h0m1 3h0m2-2h0m1 0h0m0 0h0m2 1h0m0 3h0m0-3h0m3 2h0m2 1h0m0-2h0m1 0h0m1-1h0m0-1h0m1 4h0m0-1h0m1-2h0m2 1h0m0-2h0m1-1h0m1 5h0m1 1h0m0-3h0m1 2h0m2 0h0m0-1h0m1 1h0m1-2h0m0 2h0m1 0h0m0-5h0m0 6h0m1-6h0m0 3h0m0 0h0m1 2h0m1-1h0m0 2h0m4-3h0m0-2h0m0-1h0m1 3h0m0-1h0m1 2h0m1-2h0m1 3h0m1-1h0m0-2h0m0 2h0m1 0h0m0 1h0m1 1h0m0-1h0m3-4h0m2 0h0m3 4h0m0-5h0m1 1h0m0-1h0m2 1h0m3 3h0m1 2h0m0-1h0m1-2h0m0-1h0m0-1h0m1-1h0m0 3h0m1-2h0m1 0h0m0 4h0m1 0h0m0-1h0m1 0h0m0-3h0m1 2h0m4-2h0m2 1h0m1 0h0m1 3h0m0 1h0m1-2h0m0 0h0m0-2h0m0 0h0m1 4h0m2-4h0m0 1h0m0-3h0m1 1h0m0 4h0m1-5h0m3 3h0m2 0h0m0-2h0m1 3h0m0 0h0m0-1h0m5 0h0m0 1h0m1 1h0m4 0h0m0-5h0m0 2h0m1 1h0m0-2h0m1 5h0m0-3h0m0-1h0m0-2h0m1 4h0m0 1h0m1-2h0m2 1h0m4 1h0m3 0h0m3-4h0m1 1h0m0 1h0m1-3h0m0 2h0m1-1h0m2 3h0m0 1h0m1 0h0m0 1h0m2-2h0m0-4h0m2 1h0m4 1h0m2-1h0m1 1h0m1 1h0m26-2h0m8 0h0m-188 10h0m2 0h0m0-1h0m2-1h0m0-2h0m1 0h0m0 3h0m0-2h0m0 2h0m1 0h0m0-3h0m0 1h0m1 0h0m1 2h0m1-1h0m1-3h0m0 0h0m1 4h0m1 0h0m0-4h0m1 2h0m0 2h0m1-2h0m0-2h0m2 4h0m3 0h0m0-1h0m1 1h0m0-1h0m1-1h0m1 1h0m0-2h0m0 3h0m0-2h0m1 1h0m1 0h0m0 2h0m0-1h0m0 2h0m2 0h0m0-4h0m1 0h0m0 0h0m2 0h0m0 0h0m1-1h0m0 0h0m0 5h0m0 0h0m1-2h0m1 0h0m1 2h0m0-4h0m0 3h0m1-1h0m0-3h0m1 4h0m0-2h0m1 0h0m0 0h0m1-2h0m0 4h0m1-4h0m0 3h0m0-1h0m1-1h0m0 2h0m1 0h0m0 0h0m1-3h0m2 3h0m0 1h0m1-1h0m1 0h0m1-3h0m0 3h0m0-1h0m1-1h0m0-1h0m1 0h0m1 0h0m0 0h0m1 3h0m0-2h0m1 2h0m1 0h0m1 1h0m0 0h0m1-5h0m1 3h0m0 0h0m1 3h0m1-4h0m1 2h0m1 0h0m0-3h0m0 5h0m0-4h0m1-1h0m0 4h0m0-3h0m0 1h0m1 0h0m1-3h0m1 2h0m1 3h0m0-3h0m0 2h0m1-2h0m2 3h0m0-1h0m1 0h0m0-1h0m1 1h0m0-2h0m0 2h0m2 0h0m0 1h0m1 0h0m1-3h0m0 4h0m1-5h0m0 2h0m0-2h0m1 0h0m0 2h0m1 1h0m0-1h0m1-1h0m1-1h0m1 4h0m0-3h0m1 2h0m0-3h0m5 2h0m1-3h0m0 2h0m1-1h0m0 0h0m1 3h0m0 0h0m4 0h0m0-1h0m1 0h0m1 3h0m1-2h0m2 0h0m1-1h0m0-1h0m1 4h0m1-3h0m1-1h0m2 2h0m1 0h0m2 0h0m1 0h0m0-1h0m0 0h0m2-2h0m0 5h0m3-4h0m0 0h0m0 4h0m1-4h0m2 3h0m0-5h0m1 0h0m1 2h0m1-1h0m0 3h0m1-3h0m1 4h0m2 0h0m0-3h0m2 4h0m0-1h0m0 1h0m1-2h0m1-3h0m0 0h0m1 3h0m1-3h0m0 0h0m2 3h0m0 1h0m1-4h0m3 4h0m1-2h0m1-1h0m0 3h0m0-1h0m0 0h0m1 1h0m0-4h0m3 1h0m1 1h0m1-1h0m1 0h0m2 1h0m1-3h0m2 4h0m3 0h0m1-4h0m0 0h0m1 4h0m0-3h0m1 3h0m0 1h0m1-5h0m3 4h0m19 0h0m2 2h0m21-4h0m-203 7h0m2-2h0m1 0h0m0 1h0m0 3h0m1 0h0m1-2h0m1 2h0m0-1h0m1-1h0m1 3h0m0-1h0m1-4h0m0 0h0m1 3h0m0 1h0m0 1h0m1-4h0m1 0h0m1 1h0m0 0h0m0 0h0m1-3h0m1 3h0m1 0h0m0 2h0m0-1h0m1-2h0m0 3h0m1-4h0m0 3h0m0-4h0m1 5h0m0-1h0m1-2h0m0 2h0m0-1h0m2 2h0m0-4h0m1 4h0m0-1h0m0-4h0m0 0h0m2 3h0m0 2h0m1-3h0m0-2h0m0 2h0m1 1h0m1 2h0m1 0h0m1 0h0m0-3h0m0 0h0m0 4h0m1 0h0m1-6h0m0 1h0m1 4h0m0 0h0m1 0h0m1-5h0m0 3h0m1 3h0m0-4h0m1 3h0m0-3h0m0-1h0m2 0h0m0 4h0m0-3h0m1-1h0m0 1h0m1 3h0m1-5h0m0 1h0m0 1h0m2 1h0m0-2h0m0 5h0m0-2h0m2 1h0m0 0h0m0-4h0m0 0h0m0-1h0m2 2h0m0 3h0m1-4h0m0 3h0m0-1h0m0-1h0m2 1h0m1 1h0m1-3h0m1 3h0m0 1h0m1 0h0m1 0h0m1 1h0m0-2h0m1 0h0m1 1h0m0 0h0m1-3h0m0 4h0m0-6h0m1 5h0m0-2h0m2-1h0m0-1h0m1 4h0m1-5h0m0 1h0m0-1h0m1 4h0m2-3h0m0 0h0m1-1h0m0 3h0m1 0h0m2-3h0m1 1h0m0 4h0m0 0h0m4-1h0m1-3h0m0 2h0m0 0h0m2-3h0m2 2h0m2 4h0m0 0h0m2-1h0m1-1h0m1-1h0m3-2h0m0 5h0m1-1h0m2-2h0m0 2h0m1 1h0m1-5h0m1 4h0m2 0h0m1 1h0m1 0h0m1-1h0m1-4h0m0 2h0m1-2h0m1 4h0m0-4h0m1 1h0m0 2h0m2 2h0m1-2h0m1 2h0m1-3h0m0 2h0m2-2h0m0-1h0m0 1h0m2 0h0m2 0h0m1 1h0m1-1h0m1 3h0m0-6h0m1 2h0m1 3h0m0 0h0m0-4h0m1 0h0m0-1h0m0 4h0m1-3h0m2 5h0m1 0h0m1-6h0m3 3h0m0 2h0m2-5h0m2 3h0m3-2h0m3 0h0m0-1h0m1 5h0m1-2h0m1 1h0m1 0h0m1-3h0m0 2h0m1-3h0m0 5h0m2-3h0m2 2h0m2-3h0m1-1h0m0 5h0m0-1h0m1 2h0m0-1h0m3-3h0m2-1h0m26 5h0m9 0h0m8-5h0m-208 11h0m1-3h0m1-2h0m1 4h0m1-4h0m1 0h0m0 2h0m0 0h0m1 2h0m0-3h0m2 0h0m0 2h0m1-1h0m0 1h0m1-4h0m0 2h0m1 1h0m1 2h0m0-3h0m0-1h0m0 0h0m0 3h0m0-2h0m1-2h0m0 5h0m0 1h0m1-2h0m1-2h0m0-2h0m0 1h0m0-1h0m1 3h0m0 0h0m0-2h0m1 3h0m0-3h0m2 5h0m2-5h0m0 0h0m1 5h0m0-6h0m0 5h0m0 1h0m1-6h0m1 1h0m0 4h0m0-5h0m1 5h0m0 1h0m1-2h0m0-1h0m0 1h0m1-4h0m0 2h0m1 0h0m0-1h0m0 4h0m1-4h0m0 5h0m0-6h0m1 0h0m1 5h0m0-1h0m0-2h0m0-1h0m1-1h0m0 4h0m0-1h0m1-2h0m1 2h0m0 0h0m0 3h0m1-5h0m0 4h0m1 0h0m0-4h0m2 2h0m1-1h0m0 2h0m0 0h0m1-4h0m1 1h0m0 0h0m1-1h0m0 5h0m2 1h0m1-4h0m0 2h0m1-1h0m1 0h0m0 3h0m1-5h0m2 3h0m0-4h0m1 2h0m1 4h0m0-2h0m1-3h0m0 4h0m1 0h0m0-5h0m1 0h0m0 3h0m1-2h0m0 4h0m1 0h0m1-1h0m0 1h0m0-2h0m1-3h0m2 3h0m1 0h0m1 3h0m0-2h0m2-3h0m2 3h0m0-3h0m0-1h0m3 5h0m0-3h0m2 1h0m1 3h0m2-5h0m1 1h0m0 0h0m2 3h0m0 0h0m0-5h0m0 2h0m1 2h0m0-4h0m1 4h0m1-1h0m1 0h0m1 2h0m1-4h0m1 2h0m1-3h0m1 0h0m0 2h0m4-1h0m0 0h0m1 2h0m2-1h0m1 0h0m6-1h0m1 1h0m4-2h0m3 0h0m2 1h0m14 0h0m0 2h0m1-1h0m0 1h0m0-2h0m1 4h0m1-4h0m0 0h0m2 3h0m2-4h0m1 5h0m2-1h0m0 0h0m1-2h0m3-1h0m0 3h0m0-2h0m3 4h0m1-5h0m4 5h0m2-2h0m0 1h0m1-4h0m0 2h0m0 1h0m0-3h0m1 1h0m0-1h0m0 2h0m0 1h0m1 0h0m0 0h0m0-2h0m1 2h0m0-1h0m0-1h0m0 0h0m0 3h0m1-2h0m1 2h0m0-2h0m1-3h0m0 6h0m1-2h0m0 1h0m1 0h0m0-1h0m0-1h0m1-1h0m0 0h0m1-1h0m1 3h0m6 1h0m1 1h0m1-1h0m2 1h0m18-5h0m6 5h0m8-4h0m2 2h0m4-2h0m5 3h0m-215 4h0m1-2h0m1 3h0m2-3h0m0-1h0m0 5h0m0-4h0m0 1h0m2 3h0m0-4h0m0 0h0m0 0h0m0 1h0m1 0h0m0 2h0m1 0h0m0-3h0m0 2h0m1 0h0m1 2h0m0-1h0m1 1h0m1-1h0m4-1h0m1-2h0m0 3h0m1-3h0m0 4h0m0-1h0m1-1h0m0-1h0m0 2h0m1 0h0m1-1h0m1 2h0m0-4h0m0 4h0m0-2h0m1 0h0m0-1h0m0 3h0m1-3h0m0 3h0m1 1h0m0-4h0m1 1h0m0 0h0m0-2h0m1 5h0m0-1h0m0-3h0m0 1h0m2 0h0m0-1h0m0 1h0m1 3h0m0-2h0m0 0h0m1-4h0m1 5h0m2-3h0m0 3h0m0 1h0m1-4h0m0-1h0m1 1h0m0 0h0m0 0h0m1 2h0m0-1h0m0 0h0m1 2h0m0-4h0m1 4h0m1-4h0m1 0h0m1 0h0m0 0h0m1 1h0m0 0h0m1 2h0m0 1h0m1-3h0m1 2h0m1-4h0m0 4h0m1-4h0m1 1h0m0 4h0m1-4h0m0 1h0m0-1h0m1 5h0m0-1h0m0-5h0m1 2h0m1 2h0m1-1h0m0 1h0m1-3h0m0 3h0m0-1h0m1 0h0m3 1h0m0-2h0m1 3h0m0-2h0m0 2h0m3-5h0m1 3h0m0-2h0m1 1h0m1 2h0m0 1h0m0 0h0m3-3h0m3 0h0m1 4h0m3-2h0m2-2h0m2 1h0m0-2h0m0 0h0m9 1h0m11-1h0m3 0h0m2 4h0m6-5h0m22 1h0m4 1h0m4 3h0m1-2h0m0 2h0m2-5h0m0 2h0m1 2h0m0 0h0m1 0h0m1-3h0m0-1h0m0 3h0m0 1h0m0 1h0m1-1h0m1-1h0m0-1h0m0 3h0m1-4h0m0 1h0m0 1h0m0 0h0m0 2h0m1-1h0m0-4h0m0 0h0m1 5h0m1 0h0m0-5h0m3 2h0m0 1h0m1 0h0m1 2h0m0 0h0m1-3h0m0-1h0m0 5h0m1-1h0m0-2h0m4-2h0m2 0h0m2-1h0m2 3h0m2 2h0m1 0h0m1-2h0m0-1h0m1-1h0m0 2h0m1-2h0m18 2h0m1 0h0m7-3h0m1 5h0m4-4h0m3 4h0m1-1h0m2 1h0m-213 3h0m2 1h0m0-1h0m1 2h0m1 2h0m0-2h0m1-2h0m0 0h0m1 2h0m0 1h0m2-4h0m2 0h0m0 5h0m0-4h0m1 2h0m0-3h0m1 4h0m1 0h0m0-4h0m1 1h0m0 4h0m1-2h0m1-4h0m1 4h0m0-1h0m2-2h0m0 0h0m1 2h0m1-2h0m0 1h0m1 2h0m1-3h0m1 3h0m0-2h0m0-2h0m1 4h0m0-2h0m0-2h0m0 1h0m1-1h0m2 6h0m0-2h0m0 1h0m1-2h0m0-1h0m1-2h0m0 2h0m0-1h0m0 0h0m1 3h0m0-2h0m1 0h0m0 3h0m0-4h0m1 1h0m0 0h0m0-1h0m1 3h0m0-2h0m0 2h0m1 0h0m0-2h0m2-1h0m0 3h0m1-1h0m1-2h0m0 4h0m1-3h0m1 1h0m1-3h0m1 0h0m1 0h0m1 4h0m0-1h0m0-1h0m1 2h0m1-2h0m1 3h0m0 1h0m2-3h0m0 2h0m0 0h0m0-4h0m1 5h0m0-4h0m0 4h0m0-6h0m1 4h0m0-3h0m0 3h0m0 1h0m1 0h0m1-2h0m0-1h0m0 3h0m0-2h0m0 1h0m1 1h0m0-4h0m1 2h0m0 0h0m1 1h0m1 0h0m0-1h0m1 2h0m0-5h0m1 1h0m0 0h0m0 5h0m2-5h0m0 0h0m0 2h0m1 2h0m2-4h0m2 0h0m1 5h0m1-5h0m1 4h0m3-5h0m3 1h0m0 1h0m2-1h0m13 0h0m4 4h0m3-3h0m2 0h0m15 4h0m13-5h0m3 2h0m9-2h0m2 0h0m0 4h0m0-4h0m3 4h0m2-2h0m0 2h0m0-1h0m1 2h0m2-2h0m1-1h0m1 1h0m0 0h0m0 0h0m0 1h0m2 1h0m0-4h0m1 2h0m0 1h0m1-3h0m0 2h0m1-1h0m0-1h0m0 1h0m1 3h0m0-2h0m0-3h0m1 3h0m1 0h0m0-3h0m1 1h0m0-2h0m0 1h0m0 3h0m0-1h0m0 3h0m0-5h0m1 1h0m1 0h0m0 1h0m1-2h0m0-1h0m0 5h0m1-4h0m0 0h0m0 1h0m1 4h0m2-5h0m0 2h0m0-2h0m0 5h0m1-1h0m0-2h0m0-2h0m3 1h0m2 1h0m3-3h0m0 6h0m1-4h0m0 1h0m1 3h0m17-5h0m4 4h0m10-1h0m1 2h0m6-5h0m-218 11h0m0-5h0m1 3h0m0-3h0m1 3h0m1-2h0m0 1h0m1 1h0m1 0h0m0 0h0m0 2h0m0-5h0m1 3h0m0-3h0m0 4h0m1-5h0m2 4h0m0-2h0m0 4h0m1-5h0m0 2h0m0-1h0m1 1h0m1-2h0m1 2h0m0 2h0m1-5h0m1 5h0m1-5h0m0 0h0m1 4h0m3-1h0m1 2h0m1 1h0m0-4h0m0-1h0m0 4h0m2-5h0m1 3h0m1 2h0m0 1h0m1-2h0m0 1h0m1-3h0m0 3h0m2 0h0m0-4h0m1-1h0m0 4h0m0 1h0m1 0h0m0-1h0m0 0h0m0 2h0m1-5h0m0 1h0m0 2h0m1-1h0m0-1h0m0 0h0m1 4h0m0-4h0m2 0h0m0 3h0m1-1h0m1-2h0m1-1h0m2-1h0m0 2h0m2 3h0m1-5h0m0 3h0m0-1h0m1 2h0m0 1h0m0 1h0m1-2h0m0 2h0m1-1h0m1-3h0m1 1h0m0 2h0m1 0h0m0-3h0m0 2h0m1-3h0m1 1h0m1 3h0m1-1h0m0-1h0m1-1h0m1 4h0m1-4h0m0 2h0m1-1h0m0 0h0m0 2h0m3-2h0m1-2h0m0 3h0m1-3h0m0 2h0m1-2h0m0-1h0m1 5h0m2-5h0m7 3h0m1 0h0m0-2h0m1 3h0m1-4h0m2 0h0m21 1h0m4 0h0m8-1h0m4 1h0m1 1h0m6 1h0m0-1h0m1 0h0m1 2h0m1-3h0m3 3h0m9 1h0m1-3h0m1-1h0m1 2h0m2-2h0m0 3h0m0 0h0m0-1h0m0 1h0m1 0h0m1-1h0m0-1h0m1 4h0m2-5h0m0 0h0m1 4h0m1 0h0m0-5h0m2 0h0m1 2h0m0-1h0m1 1h0m1 1h0m0 2h0m1-3h0m0 2h0m1 0h0m0-3h0m1 3h0m1-2h0m2-2h0m1 1h0m1 2h0m1 2h0m1-1h0m0-3h0m0 1h0m1-2h0m2 2h0m0 1h0m2 0h0m2 1h0m0-4h0m1 2h0m1 3h0m1-1h0m1-2h0m2 2h0m0 0h0m1-2h0m1 0h0m2-2h0m0 3h0m14-1h0m1 3h0m4-1h0m0-3h0m2 4h0m1 0h0m12-5h0m1 0h0m1 4h0m-219 5h0m1 2h0m1-5h0m0 1h0m0 3h0m0 0h0m0 1h0m1-3h0m0 0h0m1-1h0m0 4h0m0-1h0m0 2h0m1-3h0m0-1h0m0-1h0m2 1h0m0-2h0m0 0h0m1 3h0m0 0h0m0-2h0m2 5h0m0-3h0m0 2h0m1 0h0m0-1h0m0-1h0m0-1h0m1-1h0m0 3h0m0 1h0m1-1h0m1 1h0m0-2h0m0 1h0m1-2h0m1-1h0m0 4h0m1 1h0m2-3h0m0-1h0m0 3h0m0-3h0m1 4h0m0-3h0m0 0h0m0 1h0m1 1h0m0 0h0m1-2h0m1 2h0m1-5h0m0 6h0m0-5h0m1 1h0m0-1h0m1 3h0m1-2h0m0 3h0m0 1h0m2-4h0m0 3h0m2 0h0m1-2h0m1-3h0m0 4h0m0 1h0m1-2h0m0 3h0m3-4h0m1 0h0m0 2h0m1 1h0m0-2h0m2-2h0m0-1h0m0 2h0m1 2h0m0-4h0m1 2h0m1 0h0m0 0h0m0 3h0m0-1h0m1 0h0m0 0h0m1-4h0m0 4h0m1-3h0m0 0h0m2 5h0m0-6h0m2 4h0m2-3h0m1 3h0m1-2h0m0 0h0m1 3h0m2-4h0m0 3h0m0-3h0m0 5h0m0-1h0m1-1h0m0-4h0m1 4h0m0-2h0m1 1h0m1 0h0m2 3h0m1-2h0m2-1h0m0 3h0m1-5h0m0 2h0m1 2h0m2-1h0m1-1h0m0-2h0m1-1h0m12 4h0m1 0h0m8-2h0m7 3h0m0-2h0m8 3h0m2-1h0m2 0h0m11-2h0m3-2h0m14 3h0m2-1h0m0 0h0m0-1h0m0 1h0m1 0h0m1 1h0m1-3h0m0 1h0m1 2h0m1-4h0m0 5h0m0-4h0m0 4h0m1-2h0m0-2h0m0 4h0m0-5h0m1 6h0m1-5h0m0 3h0m0-1h0m5 0h0m0-3h0m0 3h0m1 1h0m1-1h0m1-1h0m5-2h0m6 0h0m1 2h0m5-1h0m4 4h0m6-1h0m1-2h0m11 2h0m9-1h0m2 2h0m0-4h0m0 3h0m8-3h0m-217 8h0m1 0h0m0 1h0m1-2h0m2-2h0m0 1h0m0 0h0m2 4h0m1-1h0m1-3h0m0 5h0m0-2h0m1-3h0m0 4h0m0-2h0m0 2h0m2-4h0m0 4h0m2-2h0m0-3h0m1 0h0m0 1h0m1 0h0m1 1h0m0 1h0m0 2h0m0-3h0m0 3h0m0-1h0m0-1h0m2 1h0m0-1h0m0-1h0m0 0h0m0-1h0m0-1h0m1 4h0m0-1h0m0-2h0m1 3h0m1 0h0m1 0h0m0-3h0m0-1h0m1 2h0m0 1h0m1 1h0m0 0h0m1-1h0m1 1h0m1 1h0m0 1h0m1-4h0m1 2h0m0 2h0m1-3h0m1-1h0m0 2h0m2-1h0m1 3h0m0-1h0m1 0h0m1 1h0m0-4h0m1 4h0m0-2h0m1-3h0m0 1h0m1 2h0m1-1h0m0-1h0m2 1h0m0 0h0m2-1h0m0 0h0m1-2h0m0 5h0m1-3h0m0-1h0m1 2h0m0-1h0m0 3h0m1-2h0m0 0h0m1-2h0m1 2h0m1 2h0m0-2h0m0-3h0m0 0h0m0 2h0m1 1h0m0 1h0m0-1h0m1 1h0m0-2h0m0 1h0m0 2h0m1 1h0m0-5h0m0 3h0m0-3h0m2 1h0m0-2h0m0 1h0m1 3h0m1-2h0m0 1h0m0 2h0m1-1h0m0-1h0m1 2h0m0-3h0m1 2h0m0 0h0m2-2h0m0-1h0m2 4h0m0 0h0m0-4h0m2-1h0m1 1h0m0 3h0m0-3h0m1 0h0m8 4h0m1-2h0m1-1h0m11 2h0m5 1h0m2-4h0m13 3h0m3 1h0m7-1h0m6 0h0m4 0h0m0-2h0m12-2h0m4 0h0m5 1h0m2 3h0m2 2h0m2-5h0m3 4h0m5-1h0m3 0h0m1 1h0m5-1h0m4 1h0m1-2h0m1 1h0m2 0h0m2-4h0m4 5h0m0 0h0m16 1h0m0-5h0m5 0h0m-212 10h0m2-3h0m2 1h0m1 0h0m2-1h0m0 0h0m0-1h0m1 1h0m0 4h0m1-5h0m0 5h0m2-4h0m0 3h0m0-1h0m1 0h0m0-2h0m0 0h0m0 1h0m2-2h0m0 2h0m0 2h0m1-5h0m0 5h0m1 0h0m1-4h0m0 4h0m0-1h0m0 1h0m1-1h0m0 1h0m2 0h0m0 0h0m1-4h0m1 4h0m1-3h0m0 0h0m0 3h0m2-2h0m0-1h0m0 1h0m0 3h0m0-2h0m1 2h0m0-3h0m1-3h0m0 2h0m2-1h0m0 4h0m1 1h0m1-1h0m0-3h0m1 0h0m1 0h0m0 3h0m0-2h0m0 1h0m0-4h0m1 6h0m0-3h0m1-1h0m0-2h0m1 5h0m0-3h0m2-1h0m0 2h0m1 0h0m1-1h0m0 3h0m1-3h0m0-1h0m0 2h0m0 2h0m1-3h0m1 4h0m0-5h0m0 0h0m0-1h0m2 1h0m0 4h0m0-4h0m1 2h0m0-2h0m0 4h0m1-3h0m1-2h0m0 1h0m1-1h0m0 1h0m2 3h0m0 1h0m0-3h0m2 0h0m0 3h0m0-3h0m0 2h0m1 0h0m0 1h0m0-1h0m1-1h0m0 1h0m0-1h0m1 3h0m1-3h0m1 2h0m2-5h0m1 1h0m1 5h0m0-1h0m3-4h0m0 2h0m1-2h0m0-1h0m38 5h0m2 0h0m2 0h0m0-4h0m2 3h0m9-1h0m4-3h0m5 1h0m15 3h0m7-1h0m3-2h0m2 4h0m2 0h0m0-1h0m3-1h0m0 3h0m3-6h0m1 3h0m14 2h0m9-2h0m3-1h0m0 1h0m2-1h0m3 3h0m0-4h0m1 4h0m3-5h0m5 6h0m9-1h0m2 1h0m1-6h0m3 2h0m-218 5h0m2 1h0m0 1h0m0 0h0m0-3h0m1 4h0m1 0h0m0-4h0m1 5h0m1-2h0m0 1h0m0 0h0m1 1h0m0-4h0m0 0h0m1 3h0m0 0h0m0 0h0m1 1h0m3 1h0m0 0h0m1-4h0m0 2h0m1 1h0m1-2h0m0-2h0m1 5h0m0-1h0m0-4h0m1 1h0m0 3h0m0-1h0m0-3h0m1 4h0m0-2h0m0-2h0m0 0h0m0 3h0m1-2h0m1 1h0m1 2h0m1 0h0m0-1h0m0-1h0m0 0h0m1-2h0m0 4h0m1-1h0m0-2h0m2 1h0m1-2h0m0-1h0m0 1h0m0 0h0m1 4h0m1-2h0m0-3h0m1 0h0m0 4h0m0-1h0m0 2h0m2 0h0m0-5h0m0 5h0m1 1h0m1-4h0m0 3h0m0-4h0m0 3h0m1-4h0m0 2h0m0 1h0m0 1h0m1-4h0m0 2h0m0 3h0m0-5h0m0 6h0m4-5h0m2 3h0m0-3h0m1 2h0m1 2h0m0-3h0m0-1h0m1 1h0m2 1h0m1 1h0m1-1h0m1 1h0m1-3h0m1 0h0m1 2h0m0 0h0m1 3h0m0-3h0m1 3h0m12 0h0m5-1h0m5-4h0m7 4h0m4 0h0m2 0h0m2 0h0m2 0h0m1-1h0m3-4h0m2 0h0m4 1h0m1 2h0m27 3h0m8-5h0m6-1h0m1 3h0m1-3h0m5 6h0m3 0h0m4-1h0m5-4h0m6 5h0m1-4h0m3-2h0m25 1h0m3 4h0m0-2h0m8-3h0m4 3h0m-213 5h0m2 1h0m0 0h0m0 0h0m1 2h0m1-4h0m0 4h0m0 0h0m2-2h0m0-1h0m0 3h0m1-3h0m2-1h0m0 0h0m1-1h0m0 4h0m1 1h0m0-3h0m1 0h0m0-1h0m1 0h0m0 1h0m0 1h0m1-1h0m3-2h0m0 4h0m1-3h0m0 2h0m2 2h0m1-5h0m1 0h0m8 3h0m5-2h0m3 1h0m2 1h0m7-3h0m0 3h0m2 2h0m6-1h0m2-3h0m11 0h0m9 2h0m6 1h0m13-4h0m42 4h0m0 0h0m8-3h0m1 1h0m7 3h0m4 0h0m8-2h0m5 0h0m7 2h0m0 1h0m8-1h0m0-3h0m1 1h0m2 0h0m6 1h0m1-3h0m3 1h0m0 3h0m-200 5h0m1-1h0m0-1h0m1 1h0m0-2h0m1 4h0m0-1h0m2-2h0m2 1h0m0-2h0m2 3h0m5-2h0m0 2h0m3-1h0m7-3h0m2 3h0m5 2h0m5-1h0m5 2h0m2 0h0m2-1h0m14 0h0m6-1h0m7 0h0m3-3h0m1 1h0m0 0h0m1 1h0m5-2h0m12 4h0m2-1h0m6 0h0m5 1h0m1 1h0m13-3h0m9 1h0m3 0h0m1-3h0m7 4h0m0 0h0m1-2h0m3 2h0m2-4h0m9 2h0m3-2h0m13 2h0m2-2h0m1 4h0m3-2h0m6-2h0m2 4h0m3-3h0m6 0h0m6-1h0m1 5h0m-201 4h0m1 2h0m10-5h0m1 3h0m2 1h0m8 0h0m14-2h0m8-1h0m3 2h0m2 0h0m8-3h0m12 1h0m5 0h0m2 0h0m2 2h0m2-3h0m0 4h0m5-1h0m10 1h0m2-4h0m0 1h0m6 3h0m5-5h0m2 3h0m3 2h0m2-1h0m14-2h0m0-1h0m5 0h0m2 2h0m0-2h0m3 0h0m3 4h0m1-2h0m3 1h0m6 1h0m2-3h0m3 0h0m1-2h0m0 5h0m1-3h0m1-2h0m3 0h0m9 3h0m2-2h0m1 1h0m1 0h0m3-2h0m3 1h0m18 1h0m1 1h0m-196 6h0m7-1h0m12 3h0m4-4h0m24 3h0m3-3h0m2 3h0m2-1h0m1 0h0m10 3h0m3-2h0m3 0h0m1-1h0m3-1h0m10 3h0m0-3h0m8-1h0m2 1h0m3 2h0m10-2h0m14-2h0m0 1h0m6-1h0m2 5h0m0 1h0m12-5h0m8 2h0m0-2h0m3 2h0m2 1h0m4-1h0m2-2h0m2 4h0m7-3h0m3-2h0m3 6h0m0-6h0m4 1h0m0 0h0m1 5h0m9-1h0m0-5h0m1 2h0m3-1h0m-199 5h0m9 4h0m1 1h0m2 1h0m4-4h0m0 2h0m0 1h0m6-5h0m0 3h0m9-1h0m7 1h0m2-2h0m1 3h0m2-1h0m3 1h0m8 2h0m5-3h0m1 1h0m2-1h0m4-2h0m4 2h0m8 2h0m2-4h0m1 4h0m0-3h0m2 1h0m1 1h0m2 0h0m4-1h0m1-3h0m2 1h0m18 3h0m1-1h0m7 3h0m0-5h0m4 2h0m6 3h0m3-2h0m16 0h0m0 0h0m1-3h0m6 0h0m1 1h0m1-1h0m4 2h0m2 0h0m3-1h0m4 3h0m2-2h0m10 3h0m3-1h0m3 0h0m2-4h0m3 2h0m6 3h0m-185 4h0m5-3h0m2 4h0m3 0h0m10 1h0m2-1h0m3 1h0m1-1h0m1-2h0m0 1h0m4 2h0m6-3h0m1-3h0m2 4h0m2 0h0m3-3h0m5 0h0m5 2h0m1-1h0m2 0h0m4 2h0m1-2h0m2-1h0m0 4h0m1-3h0m1 3h0m1-5h0m2 5h0m8-4h0m0 5h0m23-2h0m6 0h0m3-3h0m3 4h0m5-4h0m2 3h0m4 0h0m7-2h0m4 0h0m2 3h0m3-3h0m1 2h0m5 2h0m6-4h0m5 0h0m7 0h0m2 3h0m2-3h0m2 2h0m1 2h0m3-1h0m4-1h0m0 2h0m1-2h0m1-3h0m3 4h0m2-2h0m-198 7h0m2 0h0m15 0h0m1-4h0m2 6h0m2-1h0m3-3h0m3 0h0m4 0h0m3 0h0m6 0h0m1-1h0m2 3h0m1-2h0m1-1h0m2 3h0m1 0h0m5 2h0m1-5h0m8 1h0m3-1h0m1-1h0m6 2h0m10 3h0m6-4h0m1 0h0m6 2h0m0-2h0m3-1h0m1 5h0m5-3h0m3 3h0m1-1h0m2 0h0m6 0h0m3-2h0m1 2h0m4 2h0m7-1h0m1-4h0m2 4h0m4-4h0m3 1h0m6 3h0m12-3h0m0 1h0m1-1h0m6 0h0m2 1h0m2-2h0m8 1h0m0 1h0m1-3h0m5 2h0m6 0h0m-188 10h0m3-3h0m4 0h0m1-3h0m1 6h0m0-4h0m4 2h0m3 0h0m2-1h0m0 2h0m1-3h0m19 1h0m0 1h0m15 0h0m13-2h0m2 0h0m3 3h0m6-1h0m4 2h0m0-2h0m7-3h0m6-1h0m1 1h0m0 2h0m3 2h0m6-1h0m3 1h0m7-2h0m4-2h0m0 3h0m0-3h0m2 4h0m6 1h0m4-3h0m5 0h0m7 1h0m2-3h0m1 3h0m3 2h0m18-5h0m8 5h0m6-4h0m1-1h0m-182 8h0m3-1h0m2 3h0m4 1h0m2-3h0m3-2h0m6 2h0m3 2h0m11-2h0m2 3h0m4 0h0m2-2h0m5 0h0m1-2h0m3 1h0m1 2h0m0 0h0m2 0h0m7-2h0m2 0h0m1-2h0m5 0h0m1-1h0m3 3h0m3 3h0m2-5h0m9 2h0m6-2h0m2 3h0m0-1h0m10 3h0m4-1h0m27-2h0m4-2h0m3 4h0m2 0h0m3 0h0m5 0h0m6 1h0m6-5h0m1 3h0m1 0h0m5-2h0m0 3h0m1-1h0m0-2h0m0 1h0m3 1h0m1-2h0m3 2h0m2-1h0m1 0h0m-174 3h0m3 2h0m6 1h0m3 2h0m1-2h0m5 2h0m15-2h0m8 2h0m3 1h0m4-4h0m1 4h0m5-6h0m8 2h0m0 0h0m6 3h0m14-2h0m5 2h0m6-3h0m6 3h0m3 1h0m5-4h0m2-1h0m5 4h0m1-3h0m8 3h0m6-3h0m2 1h0m8-1h0m5 1h0m7 2h0m2-3h0m3 3h0m2 0h0m10-4h0m0 0h0m-166 7h0m5 1h0m1 1h0m1-1h0m2 2h0m5-3h0m5-1h0m3 0h0m2 0h0m2-1h0m3 5h0m13-2h0m10 2h0m1 1h0m1-3h0m5 2h0m15 0h0m1-4h0m4 4h0m9-3h0m8 0h0m6-1h0m12-1h0m4 3h0m1 1h0m1-3h0m5 0h0m1 0h0m0 0h0m1 0h0m11 1h0m1-1h0m4 0h0m2 5h0m2-2h0m1 0h0m2 0h0m0-1h0m19 0h0m-158 5h0m6 2h0m4-1h0m1-2h0m1 2h0m22 1h0m4-2h0m4 0h0m5 4h0m0-1h0m1-1h0m9-3h0m3-1h0m0 3h0m2 1h0m3-1h0m2 2h0m2-2h0m6-1h0m5 1h0m14 2h0m3-2h0m12 0h0m4 0h0m4-1h0m3 0h0m6-1h0m3 4h0m4-4h0m4 2h0m4-3h0m1 1h0m12 4h0m9-2h0m-152 5h0m6-1h0m4 0h0m2 5h0m4-3h0m2 2h0m4-4h0m5 2h0m6 1h0m7 1h0m1-3h0m1 0h0m4 3h0m7-1h0m3-1h0m0-1h0m4 3h0m0-3h0m13-2h0m4 5h0m6-3h0m7-1h0m6 3h0m1-3h0m0 5h0m6-1h0m14-2h0m4-2h0m0 2h0m7-1h0m9 3h0m7-2h0m3 2h0m1-5h0m4 4h0m-135 3h0m2-1h0m14 2h0m8 2h0m13-1h0m3 0h0m3-2h0m2 3h0m3 2h0m1-2h0m9 0h0m3 1h0m8-3h0m1-1h0m6 3h0m1-1h0m0-3h0m15 3h0m11 0h0m5 0h0m5 1h0m5-2h0m2-2h0m5 0h0m3 3h0m0-2h0m2 4h0m6 1h0m-89 1h0m2 4h0m14-4h0m9 2h0m1 3h0m11-4h0m0 1h0m5 2h0m7-2h0m4 1h0m1-3h0m5 4h0m4 1h0m8-3h0m5 1h0m3-1h0m-57 9h0m4-5h0m2 5h0m1-4h0m1 3h0m2 0h0m2 0h0m6-4h0m1 4h0m5-4h0m13 0h0m3 0h0m0 1h0m1 3h0m3-2h0m8-2h0m4 2h0m1-1h0m1 1h0m9 2h0m-55 2h0m12 5h0m7-2h0m3-4h0m1 4h0m1-3h0m18 3h0m12-4h0m-22 7h0m4 0h0m3 0h0" stroke="#fff" stroke-width="2.00" stroke-linecap="round" fill="none"/>
</g>
<g clip-path="url(#cF)">
<g filter="url(#rag2)">
<path transform="matrix(0.943 0 0 0.8435 672.4 337.3)" d="M146.3 97.4L149.4 80.7L157.8 66.0L170.3 53.5L180.7 48.3L195.3 61.9L207.9 68.1L201.6 76.5L199.5 91.1L201.6 107.8L207.9 120.3L207.9 126.6L191.2 125.5L174.5 121.4L159.8 116.2L150.4 107.8Z" fill="#d5d6d6" stroke="#d5d6d6" stroke-width="1.5" stroke-linejoin="round"/>
<path transform="matrix(0.943 0 0 0.8435 672.4 337.3)" d="M179.3 49.1L200.2 40.8L216.9 38.1L233.6 38.7L250.3 42.9L264.9 49.1L277.4 57.5L284.7 64.8L281.6 72.1L271.2 76.9L254.5 74.2L237.8 71.1L221.1 67.9L206.4 69.0L193.9 62.7Z" fill="#d5d6d6" stroke="#d5d6d6" stroke-width="1.5" stroke-linejoin="round"/>
<path transform="matrix(0.943 0 0 0.8435 672.4 337.3)" d="M270.0 75.9L280.5 71.1L285.0 66.3L295.1 76.3L305.5 88.9L313.9 101.4L315.5 110.8L309.7 120.2L299.2 123.3L282.5 122.3L265.8 124.3L261.7 116.0L259.6 103.5L261.7 90.9L265.8 78.4Z" fill="#d5d6d6" stroke="#d5d6d6" stroke-width="1.5" stroke-linejoin="round"/>
<path transform="matrix(0.943 0 0 0.8435 672.4 337.3)" d="M206.5 68.0L221.1 66.9L237.8 70.0L254.6 73.2L267.1 78.4L262.9 90.9L260.8 103.5L262.9 116.0L267.1 124.3L254.6 130.6L237.8 132.7L221.1 126.4L206.5 120.2L200.3 107.6L198.2 90.9L200.3 76.3Z" fill="#d5d6d6" stroke="#d5d6d6" stroke-width="1.5" stroke-linejoin="round"/>
<path transform="matrix(0.943 0 0 0.8435 672.4 337.3)" d="M143.8 197.8L145.8 183.2L155.2 170.6L169.9 158.1L184.5 149.8L199.1 143.1L217.9 144.5L232.5 141.0L245.0 139.3L251.3 145.6L253.4 156.0L261.7 164.4L272.2 170.6L274.3 181.1L261.7 187.3L251.3 189.4L245.0 187.3L238.8 183.2L226.2 181.1L215.8 183.2L207.4 191.5L199.1 202.0L192.8 210.3L184.5 216.6L169.9 216.6L155.2 218.7L145.8 227.0L143.1 243.7L142.3 212.4Z" fill="#d5d6d6" stroke="#d5d6d6" stroke-width="1.5" stroke-linejoin="round"/>
<path transform="matrix(0.943 0 0 0.8435 672.4 337.3)" d="M142.2 242.1L145.0 225.0L154.6 216.4L169.6 214.3L184.6 214.3L195.3 216.4L212.4 218.5L223.1 220.7L233.8 225.0L238.0 235.6L240.2 250.6L238.0 261.3L229.5 267.7L218.8 276.3L208.1 279.5L195.3 279.5L180.3 276.3L165.3 270.9L152.5 263.5L145.0 254.9Z" fill="#d5d6d6" stroke="#d5d6d6" stroke-width="1.5" stroke-linejoin="round"/>
<path transform="matrix(0.943 0 0 0.8435 672.4 337.3)" d="M230.1 225.6L238.6 214.9L251.4 208.5L260.0 199.9L272.8 195.6L285.7 197.8L294.2 204.2L300.6 212.7L302.8 221.3L298.5 234.1L294.2 247.0L287.8 255.5L281.4 261.9L272.8 264.1L262.1 266.2L249.3 268.3L238.6 264.1L234.3 251.2L234.3 236.3Z" fill="#d5d6d6" stroke="#d5d6d6" stroke-width="1.5" stroke-linejoin="round"/>
<path transform="matrix(0.943 0 0 0.8435 672.4 337.3)" d="M209.4 274.7L220.1 268.2L235.0 266.1L250.0 266.1L262.8 264.0L277.8 261.8L286.4 261.8L289.6 274.7L290.7 289.6L282.1 296.0L269.3 297.1L254.3 293.9L239.3 289.6L224.3 285.4L213.7 281.1Z" fill="#d5d6d6" stroke="#d5d6d6" stroke-width="1.5" stroke-linejoin="round"/>
<path transform="matrix(0.943 0 0 0.8435 672.4 337.3)" d="M284.5 158.0L292.9 155.9L301.2 164.3L307.5 174.7L310.6 187.3L310.6 201.9L305.8 214.4L301.2 222.8L297.5 210.2L291.2 197.7L287.0 187.3L284.5 176.8L282.4 166.4Z" fill="#d5d6d6" stroke="#d5d6d6" stroke-width="1.5" stroke-linejoin="round"/>
<path transform="matrix(0.943 0 0 0.8435 672.4 337.3)" d="M209.9 193.3L217.4 184.7L227.0 181.3L237.7 183.4L245.2 190.7L248.8 200.3L244.3 210.0L233.4 216.4L221.6 218.9L209.9 217.7L200.2 218.5L193.4 216.4L200.7 207.8Z" fill="#d5d6d6" stroke="#d5d6d6" stroke-width="1.5" stroke-linejoin="round"/>
<path transform="matrix(0.943 0 0 0.8435 672.4 337.3)" d="M252.2 187.2L260.4 181.1L276.7 185.2L284.8 197.4L272.6 198.4L260.4 201.5L252.2 205.6L249.2 195.4Z" fill="#d5d6d6" stroke="#d5d6d6" stroke-width="3" stroke-linejoin="round"/>
<path transform="matrix(0.943 0 0 0.8435 672.4 337.3)" d="M250.2 146.5L262.4 150.6L276.7 160.7L284.8 173.0L288.9 187.2L284.8 198.4L272.6 199.4L276.7 185.2L270.6 170.9L260.4 164.8L252.2 156.7Z" fill="#d5d6d6" stroke="#d5d6d6" stroke-width="1" stroke-linejoin="round"/>
</g>
<path transform="scale(.5)" d="M1880 778h0m-12 4h0m4 4h0m10-3h0m0 1h0m5-4h0m2 1h0m3 1h0m4 2h0m23-1h0m23 2h0m25 1h0m18-1h0m0 0h0m3 0h0m5 1h0m-102 0h0m10 5h0m1 0h0m4 0h0m1 0h0m1-1h0m3 0h0m7 2h0m9-1h0m10 0h0m1-1h0m0-2h0m1 3h0m1-1h0m3-3h0m4 4h0m3-2h0m1 1h0m1 0h0m1-2h0m0-1h0m0 4h0m0-1h0m4-3h0m0 2h0m0-1h0m3 1h0m1 1h0m0 0h0m4-1h0m1 0h0m3 0h0m1 0h0m1 0h0m0-3h0m1 0h0m5 1h0m3 2h0m0-1h0m2 2h0m1 1h0m0-2h0m0 1h0m2-2h0m2 3h0m1-2h0m1 1h0m0 1h0m0-1h0m1-1h0m3 0h0m1 3h0m2-1h0m-90 1h0m4 1h0m0 4h0m1 0h0m1 0h0m2-2h0m2 1h0m5-2h0m2 1h0m3-1h0m0 2h0m4-3h0m1 0h0m0 1h0m4 0h0m1-2h0m0 2h0m1-1h0m0-1h0m3 2h0m12-1h0m2-1h0m29 0h0m6 1h0m2 1h0m1 2h0m1-3h0m1 2h0m0-1h0m1 2h0m1-3h0m1 0h0m1 4h0m0-2h0m2 1h0m-77 4h0m70 3h0m1-3h0m2 4h0m1-3h0m2-1h0m-8 6h0m1 2h0m2-2h0m3-1h0m1-1h0m2 5h0m-11 1h0m2 1h0m4 0h0m1 2h0" stroke="#d5d6d6" stroke-width="5.60" stroke-linecap="round" fill="none"/>
<path transform="scale(.5)" d="M1725 740h0m2-1h0m81 1h0m13 4h0m-100 5h0m68-4h0m10 2h0m12 2h0m-118 2h0m11 3h0m3-3h0m5 1h0m2-1h0m105 0h0m-118 5h0m1 2h0m136 2h0m1 0h0m-175 6h0m12 0h0m21-1h0m-41 8h0m10-5h0m3 5h0m31-5h0m4 5h0m149-3h0m1-1h0m12 2h0m-205 4h0m5 0h0m199 3h0m2-3h0m5 4h0m0-1h0m-224 6h0m62 1h0m11-2h0m4 0h0m1 0h0m10 3h0m53-1h0m-142 6h0m0-1h0m5-2h0m70 1h0m3 1h0m12-3h0m11 4h0m6-3h0m0 3h0m9-2h0m20-2h0m11 3h0m20 2h0m58-2h0m1 1h0m9-3h0m-247 5h0m8 5h0m81 0h0m18-6h0m21 0h0m12 0h0m0 5h0m14 0h0m9 0h0m3-5h0m7 2h0m15 1h0m3 0h0m38-1h0m7 2h0m25-1h0m-255 7h0m83-3h0m7 1h0m80 0h0m5 4h0m5-3h0m17 0h0m20 2h0m9-2h0m3 2h0m19-4h0m-258 8h0m0-2h0m3 0h0m83 5h0m3-1h0m120-2h0m15 3h0m-132 0h0m116 0h0m-217 12h0m8-2h0m2-4h0m85 3h0m119 1h0m70-3h0m2 2h0m6-3h0m-288 11h0m3 0h0m1 1h0m97-1h0m0-3h0m109 1h0m77-1h0m-79 4h0m85 0h0m-301 9h0m11-1h0m203-1h0m1 2h0m8 2h0m84-2h0m11-2h0m-309 11h0m90-5h0m0 1h0m7 2h0m110-3h0m4 1h0m89 0h0m7 1h0m-216 3h0m111 0h0m7 2h0m4-2h0m104 6h0m-323 1h0m100 1h0m1 0h0m6 1h0m102-3h0m-108 10h0m110 0h0m2-3h0m98 2h0m0-3h0m-295 9h0m11-1h0m11 3h0m180-3h0m88 0h0m2-1h0m-267 8h0m23 2h0m46-3h0m6 0h0m2 2h0m3 0h0m3 2h0m32-2h0m49 0h0m10 2h0m1 0h0m4-6h0m89 6h0m-241 4h0m32 1h0m5 0h0m9-2h0m1-1h0m24 2h0m9 0h0m14 0h0m23-2h0m5 3h0m13-1h0m18-1h0m4 1h0m4-1h0m8-2h0m1 2h0m1 2h0m3-2h0m12-3h0m1 1h0m2 0h0m2 0h0m5-1h0m18 0h0m7 2h0m21 2h0m-167 7h0m4-4h0m3 3h0m0 2h0m1-3h0m10 3h0m16-3h0m15 2h0m19 1h0m5-1h0m4-4h0m16 0h0m12 0h0m-169 5h0m12 0h0m6 6h0m2-5h0m15 5h0m9-3h0m3 1h0m6 1h0m12-2h0m3 2h0m8 0h0m7-3h0m0-2h0m6 2h0m0 4h0m1 0h0m1-5h0m0 3h0m2 0h0m1 1h0m3 0h0m1-1h0m3 0h0m2 0h0m10 0h0m1-1h0m2 1h0m4 1h0m3-2h0m2-2h0m0 2h0m2-1h0m5 2h0m10 0h0m0-2h0m4-1h0m6 5h0m33-5h0m-181 9h0m6-1h0m2 2h0m3-3h0m9 3h0m5 0h0m5-4h0m13 3h0m8 0h0m4 2h0m3-3h0m1 2h0m5-3h0m3 3h0m2-5h0m1 2h0m1 2h0m1 2h0m2-2h0m0 0h0m7-2h0m4 2h0m1 2h0m3 0h0m0-6h0m2 5h0m9 1h0m1-2h0m0 1h0m1-2h0m5-1h0m1 0h0m0 2h0m1 1h0m3 0h0m1 0h0m2-5h0m2 0h0m4 5h0m1 1h0m2-4h0m20 2h0m6-2h0m-154 4h0m0 4h0m5-1h0m13 0h0m11 0h0m6 1h0m3-2h0m2 0h0m3 3h0m1-2h0m4 0h0m1 0h0m1 1h0m6 1h0m1 1h0m2-1h0m1-3h0m1 1h0m2 1h0m0 0h0m1 1h0m3 0h0m1-3h0m4 0h0m1 0h0m5 0h0m0 0h0m1 1h0m1-1h0m2 1h0m1 1h0m0 0h0m2-3h0m1-1h0m1 5h0m0-3h0m2 0h0m1 2h0m0 0h0m0-2h0m2-1h0m2 1h0m2-1h0m4 0h0m7 0h0m1 1h0m2 0h0m0 3h0m1-5h0m1 6h0m4-2h0m1 0h0m0-2h0m1-1h0m1 4h0m6-1h0m2-2h0m2 2h0m0-1h0m0-3h0m1 4h0m2-3h0m2 2h0m1 3h0m4 0h0m0-1h0m7-1h0m4-2h0m0 2h0m2-3h0m10 2h0m2 3h0m24-2h0m-193 6h0m4 1h0m15-3h0m12 2h0m7-3h0m1 5h0m9-4h0m3 3h0m2-2h0m9-1h0m7-1h0m4 2h0m5 2h0m1 0h0m0 0h0m1 0h0m5 0h0m1-5h0m0 6h0m2-6h0m1 1h0m3 3h0m2 1h0m2 0h0m0 1h0m2-3h0m2-1h0m1 0h0m1 2h0m0-1h0m1-2h0m2-1h0m1 4h0m1 1h0m0-3h0m3 3h0m1 1h0m1-3h0m1 1h0m1-2h0m0 1h0m0 2h0m1-3h0m2 1h0m0 2h0m1-1h0m5-1h0m1 2h0m8-1h0m2-4h0m6 4h0m3-1h0m1-1h0m3 1h0m1 3h0m3-5h0m4-1h0m3 6h0m3-3h0m4 2h0m2-5h0m-164 6h0m13 2h0m0-2h0m10 3h0m10-1h0m4 0h0m4 0h0m7 2h0m1 0h0m5 0h0m1-1h0m4-3h0m6 0h0m1 1h0m1 5h0m2 0h0m3-5h0m3 0h0m2 1h0m0 0h0m6 1h0m2 0h0m1 1h0m5 0h0m2-3h0m1 0h0m1 3h0m6-3h0m1 0h0m0 3h0m1-4h0m1 6h0m0-2h0m0-2h0m6 4h0m2 0h0m2-3h0m0 1h0m2-3h0m2 1h0m1 4h0m2-2h0m1-2h0m4-2h0m3 1h0m5-1h0m0 2h0m5 2h0m1-4h0m0 3h0m1-2h0m2 3h0m1 2h0m1-4h0m7 2h0m1-2h0m2 1h0m8-1h0m3-2h0m2 3h0m-165 4h0m26 0h0m3 3h0m3 0h0m6-3h0m2 3h0m6-4h0m4 3h0m15-2h0m4 1h0m1 1h0m4 2h0m2-4h0m0 4h0m1 0h0m3-4h0m5-1h0m0 3h0m1 0h0m8 2h0m10-3h0m3 4h0m5-5h0m4 0h0m1-1h0m5 5h0m0 0h0m0-3h0m3 1h0m2-2h0m1-1h0m1 5h0m2-3h0m7 2h0m1 1h0m0-3h0m4 1h0m1-2h0m9 0h0m-153 10h0m4-5h0m4 2h0m2 1h0m20-2h0m0-1h0m31 2h0m11-1h0m5-1h0m7 2h0m5-1h0m6 4h0m2-3h0m9 0h0m1 0h0m9 2h0m2 2h0m1-5h0m2 4h0m2 0h0m2-2h0m0 2h0m0-3h0m2 4h0m6-2h0m3-2h0m20-1h0m-167 9h0m72 0h0m42-1h0m12-3h0m3 6h0m0-4h0m0 1h0m5-1h0m0 3h0m2-3h0m0-1h0m1 0h0m0 3h0m2 0h0m1-1h0m1-3h0m1 3h0m0-2h0m2 1h0m1 2h0m3 0h0m2-4h0m0 4h0m-155 6h0m111-2h0m20 0h0m5 1h0m1-1h0m2 2h0m0-3h0m1 4h0m3 1h0m6 0h0m0-2h0m4 0h0m5-1h0m1-3h0m4 3h0m8 3h0m4-3h0m-190 3h0m153 1h0m10 0h0m3 1h0m3 3h0m1-1h0m0-4h0m7 4h0m5-3h0m4 4h0m10-1h0m1-2h0m39 3h0m-245 1h0m171 5h0m11-1h0m7 1h0m6-3h0m10 2h0m2-4h0m18 1h0m17 2h0m8 1h0m-443 7h0m19 0h0m165-3h0m185 4h0m16-1h0m5-5h0m4 3h0m4 1h0m1 0h0m1 1h0m2-3h0m2 0h0m1 0h0m4 2h0m30-3h0m4 4h0m9 1h0m-267 0h0m207 2h0m9 4h0m3-5h0m3 0h0m1 1h0m36-1h0m-61 11h0m10-3h0m3 3h0m1-2h0m1-4h0m2 2h0m1 3h0m-95 5h0m13 2h0m80-5h0m1 0h0m0 3h0m5-1h0m8 1h0m2-4h0m0 6h0m1-2h0m1 2h0m38-2h0m-170 7h0m8 0h0m9 1h0m27-2h0m46 0h0m8 1h0m10-4h0m2 0h0m2 5h0m3-3h0m1 0h0m4 0h0m1-1h0m3-1h0m1 4h0m5-1h0m0-2h0m1-2h0m3 1h0m1 2h0m-261 3h0m134 1h0m4 3h0m4-2h0m24 0h0m0-1h0m26 3h0m3 2h0m4-4h0m4 3h0m10-1h0m4-2h0m1-1h0m2-1h0m27 0h0m1 5h0m1-1h0m0-2h0m1 1h0m3 1h0m1 2h0m1-1h0m2-1h0m3-1h0m-149 4h0m3 0h0m5 2h0m4 0h0m47-1h0m35-1h0m10-1h0m10 4h0m15-1h0m15 1h0m1 0h0m-264 6h0m127 1h0m1 0h0m1 0h0m3-5h0m111 2h0m3 4h0m1-3h0m1-3h0m4 3h0m1-2h0m2 3h0m1 1h0m5 0h0m4 0h0m3-1h0m2 0h0m-163 4h0m2 1h0m13 2h0m127-3h0m2 2h0m4 2h0m8-3h0m8-3h0m2 1h0m35 1h0m2-1h0m-308 6h0m1-1h0m97 1h0m4 3h0m10 0h0m77-3h0m5-1h0m31 3h0m8 3h0m13-4h0m11 1h0m18-3h0m29 0h0m-198 9h0m1 0h0m77 1h0m89 1h0m-279 3h0m111 0h0m76-1h0m26 5h0m74-3h0m27 1h0m-307 5h0m81-1h0m85 2h0m109-2h0m9 1h0m11 2h0m-300 5h0m0-4h0m5 5h0m39-3h0m1 1h0m12 3h0m14 0h0m6-2h0m5 1h0m40-1h0m23 1h0m22-1h0m7-4h0m4 4h0m10-2h0m100 1h0m4 0h0m5-2h0m0 2h0m-295 4h0m23 2h0m15 3h0m13-2h0m4-2h0m1 1h0m36 0h0m4 0h0m8-2h0m5 0h0m8 1h0m4 1h0m2 2h0m14 0h0m35-4h0m3 3h0m3 0h0m109-2h0m-284 8h0m10 0h0m0-2h0m23-1h0m7-1h0m40 1h0m22 1h0m9 2h0m179-3h0m2 1h0m-290 6h0m5 3h0m143-3h0m11 1h0m2 2h0m0 0h0m122-2h0m3 0h0m-134 6h0m129 0h0m-288 5h0m10-1h0m159 4h0m5-4h0m109 5h0m-282 0h0m4 0h0m169 5h0m2-5h0m106 5h0m-278 5h0m170 1h0m3-1h0m109-4h0m-283 9h0m3-2h0m0 8h0m163 1h0m2-4h0m-164 12h0m274-4h0m-110 6h0m96 0h0m-260 9h0m8 1h0m155-4h0m-147 8h0m145-1h0m15 2h0m70-1h0m-230 3h0m8 1h0m125 2h0m32-3h0m13 2h0m11 2h0m1-2h0m11-3h0m8 1h0m3 2h0m6 1h0m3-1h0m17 2h0m-236 3h0m18-1h0m134 2h0m12-1h0m9 2h0m17 0h0m0 2h0m11-3h0m10-2h0m1-1h0m4 0h0m23 0h0m-210 11h0m88-1h0m58-2h0m1-1h0m-138 8h0m5 0h0m1 0h0m11 1h0m4-2h0m7 4h0m9 0h0m29-4h0m4 2h0m1-4h0m2 6h0m1-2h0m133-1h0m-162 9h0m9-2h0m148-3h0m9 4h0m-124 6h0m117-2h0m-120 8h0m13 0h0m17-1h0m91-3h0m-104 6h0m11-1h0m5 3h0m6-1h0m10 0h0m65 3h0m-52 5h0m1-3h0m19 4h0m8 1h0m9-2h0m12 0h0m5 0h0m-57 8h0m25-1h0m9 0h0m8-5h0m3 0h0m-4 6h0m2 3h0" stroke="#d5d6d6" stroke-width="5.20" stroke-linecap="round" fill="none"/>
<path transform="scale(.5)" d="M1781 919h0m-72 7h0m10 1h0m1 1h0m15-2h0m33 2h0m-73 2h0m2 1h0m16 2h0m9 1h0m24 2h0m4-5h0m-56 5h0m21 2h0m49-2h0m14 3h0m-103 7h0m21 1h0m0-1h0m11-2h0m4 2h0m9-4h0m30 5h0m-89 3h0m11 1h0m2 2h0m14-2h0m8-1h0m4-1h0m8 2h0m6 1h0m8 2h0m99 0h0m1-2h0m-169 2h0m2 1h0m4 5h0m23-2h0m9 0h0m18-1h0m4-1h0m0 0h0m4 1h0m13 2h0m77-3h0m19-1h0m-185 10h0m48 0h0m1-4h0m8 4h0m2-2h0m6-3h0m11 5h0m2-3h0m118 0h0m13 0h0m-179 9h0m16 1h0m17-2h0m69 0h0m67-4h0m-189 6h0m1 1h0m5 1h0m1 4h0m11-4h0m4-1h0m1-1h0m20 1h0m2 0h0m5 0h0m6 0h0m6-1h0m45 5h0m1 0h0m93 0h0m-216 4h0m11-1h0m19-1h0m32 0h0m12 2h0m132 2h0m-202 1h0m12 2h0m2-1h0m1 0h0m8 2h0m0 3h0m6-2h0m6-4h0m1 3h0m13 0h0m1 2h0m6 1h0m2-3h0m5 1h0m14-4h0m28 2h0m84 0h0m1 4h0m3-4h0m1 2h0m0-1h0m5 1h0m4-2h0m1 3h0m4-5h0m14 5h0m-238 6h0m3-1h0m191-3h0m6 1h0m13 1h0m2 0h0m7 0h0m2 1h0m5-3h0m0-1h0m10 5h0m5 1h0m-248 6h0m12-4h0m9 2h0m4-4h0m7 1h0m10 1h0m167-1h0m1 2h0m2 0h0m8-2h0m0 0h0m3 3h0m6 1h0m1-4h0m4-1h0m3 3h0m7-1h0m6-1h0m1 4h0m0-5h0m-238 8h0m6 0h0m7 0h0m11 3h0m18-5h0m6 3h0m9 2h0m1-1h0m39-2h0m90-2h0m27 0h0m11 2h0m7 3h0m2 0h0m3-1h0m0 2h0m-249 0h0m16 6h0m26-3h0m161-3h0m4 1h0m6 3h0m1 1h0m4-4h0m5 3h0m0-1h0m2-2h0m7 0h0m6 1h0m11-2h0m-233 11h0m6-2h0m11-3h0m12 1h0m28 1h0m0 2h0m18-3h0m-95 10h0m8-1h0m5 1h0m14-4h0m4 0h0m3 1h0m13 1h0m32 1h0m9-2h0m3 2h0m113-3h0m-197 7h0m27 4h0m4-3h0m1 1h0m39-1h0m158-2h0m-206 7h0m7 2h0m12 0h0m4 1h0m-52 4h0m12 1h0m11-2h0m10 1h0m1 0h0m13-3h0m160 1h0m28 4h0m-18 5h0m0 4h0m5 0h0m16 5h0m-66 7h0m22 8h0m40-1h0m27 2h0m-69 1h0m87 3h0m-106 7h0m26-3h0m35 0h0m-57 13h0m26 3h0m11 0h0m-5 5h0m16 2h0m3 0h0m-30 13h0m11 3h0m32-3h0" stroke="#fff" stroke-width="3.00" stroke-linecap="round" fill="none"/>
<path transform="scale(.5)" d="M1742 742h0m-44 11h0m12 2h0m17-3h0m14-1h0m21 2h0m3 2h0m8-1h0m-86 6h0m15 1h0m40 0h0m12-3h0m12 1h0m34-1h0m31 3h0m1-1h0m1-2h0m11 0h0m-114 5h0m9 3h0m11-4h0m71 2h0m-140 5h0m119 2h0m30 2h0m19-2h0m-165 6h0m37-3h0m31 4h0m110-3h0m2-1h0m2 6h0m-183 0h0m12 5h0m44-1h0m0-1h0m44 3h0m31-3h0m171 1h0m-329 2h0m24 3h0m84 2h0m189-2h0m8-3h0m-316 9h0m130 2h0m80-3h0m12 3h0m-232 6h0m10-5h0m17 6h0m15-4h0m8 0h0m10 4h0m93-3h0m24 0h0m53-1h0m6 0h0m1 2h0m13-2h0m-244 9h0m6 0h0m5-4h0m2 0h0m120 3h0m27 1h0m18 0h0m7 0h0m0-4h0m21 4h0m3-2h0m21 2h0m2 0h0m27-4h0m-243 7h0m14 1h0m185 2h0m16 0h0m9-1h0m3-1h0m24 1h0m-245 7h0m97-4h0m28 4h0m17-3h0m7 0h0m23-2h0m29 3h0m2-2h0m1 3h0m13-1h0m1 2h0m26 1h0m2-5h0m-268 11h0m162-5h0m51 5h0m4-3h0m0 2h0m11 1h0m1-4h0m2-1h0m-243 9h0m1-2h0m197 1h0m12 2h0m6-2h0m2-3h0m6 0h0m6 4h0m10-4h0m23 5h0m27-2h0m-246 5h0m27 4h0m41-2h0m50-2h0m31 0h0m6 2h0m9-3h0m9 3h0m8-2h0m27-1h0m-244 10h0m1-3h0m96 1h0m59-3h0m88 1h0m-240 7h0m52 3h0m19-1h0m91-3h0m3 5h0m22-2h0m46 0h0m0 1h0m25 0h0m16 0h0m6-4h0m-287 7h0m1 2h0m16-1h0m6-2h0m2 2h0m39 2h0m0-2h0m11-3h0m85 2h0m78 1h0m23-2h0m12 5h0m-270 5h0m39-3h0m2-2h0m115 3h0m12 0h0m43-2h0m3 1h0m23 3h0m27-1h0m-206 7h0m122-4h0m51 2h0m4 2h0m40-3h0m3 3h0m4 0h0m14-2h0m-258 8h0m11-1h0m16-2h0m7 4h0m0-2h0m20-1h0m94-3h0m5 5h0m16-1h0m36 2h0m28-1h0m17 1h0m2-4h0m-222 8h0m9-1h0m4-3h0m4 2h0m53 0h0m45 2h0m27-1h0m11-3h0m27 3h0m10 3h0m-200 3h0m8 0h0m59-1h0m67 0h0m-56 9h0m65 1h0m5-1h0m-107 5h0m27 1h0m52-1h0m21 0h0m-127 6h0m16 0h0m32-3h0m4 0h0m4 5h0m13-5h0m18 1h0m48-2h0m-142 6h0m8 6h0m4-5h0m57 4h0m37-4h0m5 2h0m30-1h0m3 3h0m-139 2h0m22 3h0m57-4h0m29 4h0m3-1h0m28 1h0m8-3h0m-150 11h0m15 0h0m80-1h0m0-5h0m74 0h0m-166 8h0m35 4h0m4-2h0m3 1h0m46-3h0m14-2h0m2 1h0m8 3h0m-135 4h0m32 4h0m18-4h0m9 1h0m28 2h0m15-1h0m7-3h0m2-1h0m4 5h0m15-1h0m-9 7h0m3-2h0m24 0h0m1-1h0m52-2h0m-110 7h0m7 1h0m34-2h0m2 3h0m0 2h0m3-4h0m8 0h0m26 0h0m38 3h0m-225 6h0m17-2h0m18 3h0m4 0h0m29-3h0m27-2h0m5 3h0m13-2h0m27 4h0m36-3h0m19-1h0m8 1h0m17 2h0m11 0h0m-221 4h0m66 0h0m161 2h0m-252 5h0m23-1h0m9-2h0m4 0h0m34 5h0m26-5h0m40 1h0m6 3h0m37-1h0m3-1h0m8 1h0m4-2h0m27 1h0m3 1h0m1 2h0m25-4h0m-245 11h0m15-1h0m58 0h0m5 0h0m1-3h0m4 1h0m17 2h0m21 1h0m8-1h0m4-2h0m5 1h0m6 1h0m23-4h0m2 1h0m20 3h0m5-2h0m33 2h0m39 0h0m-296 7h0m11-3h0m18 1h0m16-2h0m16 2h0m15-3h0m47 1h0m1 3h0m9-1h0m19 2h0m27-5h0m11-1h0m35 5h0m20-2h0m11-3h0m5 3h0m-218 7h0m7 2h0m6-5h0m43-1h0m13 5h0m50 1h0m9-3h0m18-1h0m16 0h0m1-2h0m12 4h0m13-3h0m26 4h0m8-5h0m-232 8h0m21 2h0m15-1h0m1 3h0m6-3h0m19 0h0m7-1h0m4 1h0m6 2h0m25-5h0m2 5h0m10-4h0m4 3h0m3-1h0m43 2h0m18-3h0m69 3h0m-260 5h0m32-4h0m14 5h0m10 0h0m7-3h0m8 3h0m6-2h0m33-1h0m4-2h0m20 3h0m91-2h0m25 2h0m-275 7h0m7-4h0m49 2h0m5 2h0m6-3h0m78 0h0m2 3h0m4-2h0m17 4h0m4-3h0m117-2h0m-290 7h0m17-2h0m0 3h0m24 0h0m28-2h0m47 5h0m33-3h0m6-1h0m1 3h0m1-2h0m14-1h0m64 3h0m14-2h0m30-3h0m-257 6h0m10 0h0m9 2h0m4 2h0m31-3h0m2 2h0m1-2h0m12-1h0m50 6h0m10-4h0m16-1h0m44 2h0m31 0h0m8-3h0m-254 11h0m27-2h0m11 2h0m21-4h0m41 0h0m30 3h0m11-4h0m97 5h0m60 0h0m-266 1h0m45 2h0m51-2h0m2 6h0m33 0h0m56-4h0m42-2h0m31 5h0m-302 6h0m32-3h0m19 1h0m23-2h0m18-1h0m31 6h0m28-5h0m37 4h0m44-3h0m56 1h0m13-3h0m-273 7h0m10 2h0m5-2h0m4 0h0m2-1h0m0 1h0m17 0h0m63 1h0m33 4h0m31-1h0m19-3h0m15-1h0m3 0h0m2 1h0m42 3h0m-260 3h0m45-1h0m8 0h0m15 5h0m5 0h0m120-2h0m19 1h0m9-4h0m-227 7h0m24 0h0m15 3h0m9 0h0m12-1h0m35 1h0m13 0h0m91-5h0m8 3h0m4-1h0m17 0h0m10-1h0m18 2h0m-263 6h0m47-2h0m43 0h0m1 3h0m55-2h0m15 0h0m9 1h0m4-1h0m6 3h0m1-2h0m13 1h0m18-3h0m32 0h0m54-1h0m-298 8h0m56 3h0m5-2h0m10-1h0m52 0h0m37 2h0m3 2h0m25-4h0m31 1h0m1 2h0m6-1h0m54-3h0m-226 11h0m15-4h0m15 4h0m4-1h0m24 0h0m18-1h0m80 0h0m22-1h0m33 0h0m10 2h0m11-2h0m-268 8h0m26-3h0m42 3h0m2-3h0m40 2h0m16-3h0m13 4h0m15-3h0m23-1h0m13 1h0m5 1h0m4 0h0m13 1h0m3-2h0m33 3h0m-262 3h0m14 4h0m5-2h0m1-1h0m48 0h0m20 2h0m5-2h0m23-3h0m18 1h0m22 0h0m32 1h0m23 4h0m24-5h0m23-1h0m1 0h0m-243 8h0m11 3h0m45-3h0m10 1h0m18-1h0m27 1h0m12 0h0m15-2h0m14 0h0m13 1h0m11 2h0m44 2h0m13-4h0m19 1h0m5 1h0m-266 6h0m32-4h0m10 3h0m25 0h0m14-2h0m20 5h0m34-2h0m49-3h0m35 5h0m13-4h0m6 2h0m17-2h0m13 3h0m-96 6h0m27 0h0m2-1h0m11-3h0m-212 9h0m40-3h0m7 0h0m43 4h0m3-1h0m33 2h0m106-5h0m17 2h0m-221 3h0m13 5h0m3-4h0m49 1h0m10 1h0m13-2h0m0 5h0m56-4h0m11-2h0m13 2h0m5 0h0m18 0h0m3 2h0m-93 6h0m30-2h0m32 0h0m7 0h0m-155 8h0m4-1h0m9 2h0m2 0h0m49 1h0m95-4h0m-164 5h0m4 5h0m25-2h0m20 1h0m9 0h0m16-2h0m4 0h0m30 0h0m25-2h0m29 2h0m-128 6h0m7-1h0m54 3h0m2-2h0m8-2h0m29 1h0m76-1h0m6 3h0m-185 6h0m34-3h0m72 2h0m9 1h0m58-2h0m-112 6h0m10 4h0m15-1h0m6 0h0m18-5h0m43 5h0m7-1h0m8 2h0m8-3h0m-104 6h0m21 1h0m16 1h0m18-4h0m45 4h0m6 0h0m1-2h0m-100 8h0m40 0h0m5-1h0m44 0h0m18-4h0m4 1h0m-46 10h0m7 0h0m29 1h0m-58 3h0m47 0h0m6-2h0m10 4h0m-23 4h0" stroke="#cfcbe0" stroke-width="5.00" stroke-linecap="round" fill="none"/>
<path transform="scale(.5)" d="M1751 743h0m13-4h0m13 3h0m0 1h0m-43 5h0m31 1h0m28-4h0m-95 10h0m26-3h0m15 3h0m9 1h0m14-3h0m11 2h0m9-3h0m8 0h0m2-1h0m8 5h0m1-6h0m16 4h0m5 2h0m13-2h0m-130 4h0m10 3h0m14-1h0m22-2h0m3 1h0m15 1h0m2-1h0m8 0h0m1 3h0m10-4h0m4 3h0m3-3h0m8 1h0m17 1h0m-115 4h0m19-1h0m30 4h0m27-2h0m10 1h0m1-2h0m11 1h0m1 2h0m5-2h0m37-1h0m-189 8h0m18-2h0m65 1h0m5-2h0m10 2h0m1 2h0m22-1h0m28 0h0m19 0h0m3-3h0m35 3h0m-177 3h0m9 5h0m1-5h0m16 0h0m3 1h0m14 0h0m14 3h0m15 0h0m2-3h0m3 2h0m3 0h0m2-4h0m16 0h0m33 0h0m3 5h0m2 0h0m34-5h0m-206 9h0m8-1h0m38 1h0m2 0h0m2 0h0m3 0h0m6-2h0m53-1h0m24 3h0m6 2h0m33-3h0m13 0h0m4 3h0m-194 4h0m28 1h0m20 1h0m7 1h0m2-6h0m1 2h0m7 1h0m1 0h0m24 3h0m33-2h0m9 0h0m8 0h0m7-1h0m1 1h0m0-2h0m5 2h0m3 1h0m11-2h0m1 1h0m1-1h0m31 2h0m3-5h0m3 5h0m6-3h0m7 1h0m2-2h0m-227 6h0m18 2h0m39-3h0m11 5h0m9-1h0m4-4h0m16 2h0m1 3h0m38-1h0m1 0h0m16 2h0m8-3h0m11 3h0m4-6h0m4 3h0m42 0h0m2 0h0m0 3h0m8-6h0m3 5h0m-237 4h0m22 2h0m2-4h0m6 4h0m26-4h0m11-1h0m7 3h0m8 1h0m39 0h0m3 0h0m10-2h0m23-2h0m1 1h0m3 5h0m14-1h0m4 1h0m6-1h0m24-4h0m7 2h0m5-2h0m22 3h0m1-2h0m-248 5h0m2 5h0m56-5h0m28 1h0m8-1h0m8 3h0m4 2h0m0-3h0m14 2h0m23-2h0m32 3h0m2-2h0m11-3h0m11 1h0m1 1h0m15-1h0m9-2h0m9 3h0m-239 9h0m6-2h0m4 0h0m9-2h0m5-1h0m5 4h0m1 0h0m4-1h0m2-3h0m11 5h0m0-1h0m2-4h0m4 3h0m12 2h0m25-1h0m10-1h0m15-1h0m7-1h0m12-1h0m20-1h0m61 6h0m3-6h0m46 4h0m-261 3h0m9-1h0m37 2h0m37-1h0m2-1h0m46 6h0m17-6h0m8 0h0m10 3h0m6 0h0m14-2h0m16 4h0m7-4h0m9 4h0m1-4h0m27 2h0m1 2h0m16-1h0m5-3h0m-265 7h0m21 3h0m2 0h0m1-3h0m9 3h0m39-1h0m79 2h0m12-3h0m16-2h0m11 1h0m3-2h0m3 0h0m1 1h0m29 4h0m23-1h0m4 0h0m16 0h0m3-3h0m-256 7h0m3-1h0m20 2h0m6-1h0m10 3h0m26-3h0m21-1h0m1 0h0m30 4h0m14-1h0m11-3h0m1 2h0m23-2h0m1 5h0m8-3h0m3 1h0m18 1h0m6-3h0m3 2h0m1 0h0m33 0h0m22-3h0m5 0h0m-291 8h0m68 2h0m9-2h0m4 2h0m9-2h0m28 2h0m5-2h0m1 1h0m7 0h0m23 2h0m9-5h0m63 3h0m1-3h0m7 0h0m10 3h0m26-4h0m-260 11h0m3-1h0m1-2h0m3 2h0m5-1h0m7 3h0m4-5h0m11 2h0m1 1h0m16-4h0m86 1h0m31 0h0m4 0h0m8 3h0m10-2h0m15-1h0m32 2h0m0 2h0m6-2h0m19-1h0m7 4h0m9-3h0m6-2h0m1-1h0m0 4h0m-288 6h0m34-2h0m17-1h0m3 1h0m83-1h0m18 0h0m10-1h0m8 6h0m30-4h0m19 1h0m7 2h0m63-2h0m-295 5h0m12 1h0m8-2h0m6 4h0m39 1h0m6-5h0m17 1h0m2 1h0m22-1h0m29 1h0m9-2h0m30 1h0m7 0h0m1-2h0m1 0h0m4 4h0m3 2h0m1-1h0m29-1h0m3-3h0m27 2h0m5 3h0m5-3h0m7 1h0m6 2h0m9-4h0m-289 4h0m34 1h0m9 3h0m34-2h0m2 3h0m5-3h0m2 0h0m1 3h0m3 0h0m22 1h0m4-3h0m15 1h0m0-2h0m10-2h0m17 5h0m58-1h0m10 0h0m5-1h0m11 3h0m4-4h0m13 1h0m25 0h0m-270 5h0m17-2h0m16 4h0m13-4h0m67 5h0m16-4h0m2 2h0m20-1h0m29 0h0m14 1h0m22-2h0m7 4h0m8-2h0m20 3h0m18-1h0m-246 4h0m26 1h0m6 1h0m5-2h0m4-2h0m2 2h0m9 2h0m5-1h0m2-4h0m35 3h0m6-1h0m1-2h0m2 3h0m0-1h0m39 1h0m4 3h0m2 0h0m4-3h0m38 1h0m9-3h0m13 3h0m2-2h0m9-1h0m5 2h0m2 2h0m6-1h0m19-1h0m-246 5h0m3 1h0m41-2h0m48-1h0m31 6h0m20-4h0m10 0h0m2 0h0m13 0h0m2 1h0m6-2h0m47-1h0m13 1h0m5 1h0m-212 7h0m25 0h0m1 0h0m38 1h0m22 1h0m14-5h0m19 4h0m-77 7h0m48-4h0m2 4h0m6 1h0m3-6h0m23 5h0m4 0h0m-77 1h0m46 4h0m1 2h0m9 0h0m1-1h0m4 0h0m-55 6h0m30 0h0m8 0h0m7-4h0m4 4h0m5-2h0m34 2h0m-122 4h0m34 2h0m2-1h0m1-2h0m20-1h0m20 0h0m26 0h0m-64 9h0m7 1h0m16-1h0m2 2h0m1-4h0m2 1h0m4 1h0m6 0h0m2 0h0m17-2h0m1 3h0m19 0h0m5 0h0m6-1h0m-122 8h0m36-6h0m18 4h0m30 2h0m0 0h0m-120 5h0m17-4h0m0 2h0m11-2h0m2-1h0m1 2h0m9 1h0m13-2h0m8 0h0m0 1h0m9 2h0m6-3h0m11 0h0m1 1h0m29-1h0m3 0h0m32 1h0m8-1h0m21 3h0m-171 4h0m2 3h0m15-3h0m14-1h0m3 1h0m10-2h0m2 5h0m9-5h0m13 5h0m27-1h0m32-3h0m38 0h0m19 3h0m-209 6h0m0-3h0m25 1h0m10 1h0m24 0h0m42-2h0m3 2h0m5-2h0m5 0h0m14 0h0m11 2h0m5 1h0m2 2h0m4 0h0m8-3h0m36 0h0m7-2h0m-221 9h0m9 0h0m14-3h0m32 3h0m38-2h0m11-1h0m12 4h0m16-3h0m24 2h0m11-2h0m8 3h0m42-4h0m6 4h0m1-2h0m2 1h0m1 1h0m7 0h0m-243 5h0m3-1h0m10-2h0m2 3h0m1-3h0m54 4h0m11 1h0m31 0h0m10 0h0m2-5h0m7 3h0m25-4h0m16 2h0m8 1h0m15-1h0m6 0h0m6 1h0m7 0h0m4 2h0m5-2h0m3-3h0m-195 11h0m13-2h0m0 1h0m9 0h0m59-1h0m8 0h0m13-2h0m9 4h0m22-1h0m1-3h0m3 0h0m25 0h0m8 4h0m0-3h0m1-2h0m2 2h0m4 0h0m22-2h0m9 5h0m-232 2h0m30 2h0m8 3h0m6-5h0m23 2h0m8 2h0m17 0h0m5 1h0m1-6h0m1 5h0m8-5h0m11 2h0m15-1h0m45 1h0m1 2h0m28-3h0m5-1h0m8 3h0m11 2h0m-203 6h0m0-3h0m11 0h0m19-1h0m2 0h0m2 1h0m16-2h0m11 2h0m2 0h0m58 3h0m19-4h0m66 5h0m6-5h0m-242 6h0m0 2h0m4-2h0m28 2h0m2 0h0m10 2h0m4-2h0m0-1h0m34 2h0m44-4h0m41 3h0m77 1h0m-218 4h0m10 1h0m29-1h0m9 1h0m166 2h0m7 0h0m3 0h0m3 0h0m6-1h0m7-2h0m-211 9h0m25-2h0m170 2h0m18 1h0m-12 6h0m9 5h0m6 2h0" stroke="#bdb4d6" stroke-width="5.00" stroke-linecap="round" fill="none"/>
<path transform="scale(.5)" d="M1761 743h0m20-2h0m-41 6h0m12 2h0m11-2h0m9-1h0m-50 7h0m26-2h0m31-1h0m10 4h0m2-1h0m10-2h0m28 5h0m-138 1h0m15 2h0m7-3h0m16 4h0m3-4h0m2 4h0m3-2h0m6 4h0m9-5h0m3 1h0m27 2h0m22-2h0m1 1h0m8 1h0m19-3h0m-155 8h0m7 1h0m40 0h0m1-4h0m3 1h0m11 2h0m14 2h0m18 1h0m6-3h0m17 3h0m0-5h0m9 0h0m29 2h0m6-2h0m10 1h0m-184 8h0m29-3h0m39 0h0m8 0h0m10-1h0m1 4h0m14 1h0m39-3h0m24 0h0m1-2h0m18 4h0m6 1h0m-175 1h0m46 1h0m31 4h0m6 0h0m4 0h0m9-2h0m7-1h0m5 1h0m8 0h0m5 2h0m29-3h0m13 1h0m25-3h0m7 5h0m-208 6h0m2-1h0m5 0h0m8 1h0m13 1h0m13-2h0m14-2h0m24 2h0m12-1h0m17-3h0m4 2h0m0 3h0m35-4h0m22 0h0m-186 10h0m18-3h0m17-1h0m29 0h0m4 1h0m8 1h0m19-2h0m31 2h0m3 0h0m5-2h0m7 0h0m4 5h0m2-3h0m13 1h0m25-2h0m11 1h0m13-2h0m13 1h0m-222 6h0m5-1h0m4 5h0m11-4h0m2 4h0m5-3h0m26 3h0m2-3h0m42-3h0m14 4h0m8-2h0m5 0h0m5 1h0m10-2h0m16 1h0m21 0h0m11 0h0m5 3h0m13-2h0m16 0h0m12 2h0m-240 6h0m0-3h0m1 1h0m6 1h0m33 1h0m37-3h0m22 0h0m6 1h0m1 1h0m21 0h0m0-2h0m15-1h0m7 1h0m7-2h0m1 4h0m0 1h0m3-1h0m13 0h0m1 2h0m3-2h0m50-4h0m31 4h0m-248 8h0m4-3h0m7-2h0m1 1h0m0 0h0m6 0h0m6 0h0m2 3h0m8-4h0m1 2h0m11 1h0m3-3h0m10 5h0m10-5h0m2 0h0m24 3h0m3-3h0m19 4h0m21-2h0m28-3h0m-181 12h0m12-4h0m41-1h0m2 2h0m1-3h0m17 2h0m2 1h0m2 1h0m3-4h0m1 1h0m1 4h0m4-1h0m10-2h0m8 3h0m19 0h0m8-1h0m4 0h0m13 0h0m5-3h0m21 0h0m23 0h0m3 3h0m2-3h0m12 5h0m33-2h0m1-1h0m-259 6h0m47 3h0m67-4h0m15 4h0m25-2h0m2 0h0m5-1h0m5-1h0m10 2h0m9-3h0m80 1h0m-246 9h0m2 1h0m26-3h0m20 0h0m1-2h0m4 1h0m10 3h0m14 1h0m25-2h0m44 2h0m23-3h0m12 0h0m3 2h0m-196 4h0m0 2h0m7-3h0m16 2h0m4-3h0m21 1h0m4-2h0m30 5h0m12 0h0m13-3h0m27 3h0m15-1h0m37-4h0m2 5h0m5-5h0m-198 11h0m1-1h0m4-3h0m36 4h0m33-4h0m10 4h0m12-5h0m22 1h0m2 0h0m8-1h0m6 6h0m16-5h0m4-1h0m29 1h0m6 3h0m8 2h0m-196 3h0m6-2h0m10 3h0m1-1h0m11-2h0m4 1h0m5 3h0m16-2h0m11 0h0m6-1h0m8 0h0m19 3h0m9-2h0m1-1h0m30 0h0m21-1h0m2 0h0m5 3h0m19-3h0m6 2h0m10-2h0m61 1h0m-246 9h0m3-3h0m7 4h0m6-2h0m4-3h0m12 3h0m18-2h0m10 0h0m2-2h0m28 2h0m15 3h0m4-2h0m2 3h0m12 0h0m18-5h0m12 2h0m2-1h0m6 2h0m13 0h0m14-3h0m37 2h0m28 1h0m-239 8h0m2-5h0m7 4h0m0-4h0m4 2h0m21-1h0m23 1h0m9-2h0m4 2h0m0 0h0m6 3h0m12-2h0m3 1h0m7 0h0m2-3h0m4-1h0m9 0h0m12 4h0m12 1h0m17-5h0m20 2h0m11-3h0m54 3h0m-251 6h0m9 1h0m16-3h0m7-1h0m3 2h0m1 3h0m2 0h0m32-4h0m4-1h0m10 6h0m4-3h0m0 1h0m8 2h0m4-1h0m19 1h0m6-4h0m64 1h0m50 1h0m1-1h0m41-1h0m-269 8h0m5 2h0m71 0h0m14-2h0m5-2h0m32 1h0m6-2h0m2-1h0m5 5h0m22 1h0m1-6h0m13 6h0m88-2h0m4 0h0m-244 7h0m1 0h0m2-2h0m45 0h0m40-3h0m3 4h0m10-3h0m7 0h0m1-1h0m8 3h0m7 2h0m1-3h0m20 2h0m7 0h0m7 2h0m47-2h0m3 1h0m-200 5h0m30 0h0m5-3h0m12 1h0m3 1h0m24-2h0m29 1h0m4 3h0m24-2h0m2 0h0m5 1h0m1-1h0m35-2h0m3 2h0m6 2h0m-172 1h0m47 6h0m22-6h0m0 3h0m7 1h0m1 2h0m2-5h0m13 3h0m2-2h0m7 2h0m2-1h0m8 1h0m3-1h0m13 1h0m-62 2h0m5 5h0m6 0h0m33 1h0m5-3h0m-18 3h0m28 2h0m-63 6h0m14 2h0m1 0h0m9 0h0m22-2h0m5-1h0m10 0h0m15 1h0m-73 6h0m9 0h0m18 3h0m1-3h0m11 1h0m1 0h0m4 2h0m14 0h0m18-3h0m1-1h0m-67 10h0m12 0h0m4-5h0m2 2h0m4 1h0m7-1h0m18 0h0m3-2h0m1 0h0m1 4h0m16-1h0m-86 3h0m7 1h0m5 3h0m10-4h0m8 5h0m19-4h0m1 1h0m3 3h0m42 0h0m-128 6h0m9-3h0m34-1h0m6-1h0m4 5h0m18-4h0m0 4h0m7-4h0m0 0h0m4-1h0m10 2h0m40 0h0m-119 9h0m1-5h0m9 1h0m3 0h0m1 0h0m7 3h0m12 1h0m5-3h0m14 3h0m30-2h0m11 1h0m29 0h0m17-1h0m-196 6h0m9-2h0m33 4h0m5-3h0m9 2h0m6 1h0m5-3h0m22 1h0m30-2h0m12 3h0m3-2h0m10 4h0m15-3h0m6-2h0m-162 9h0m4-1h0m7 1h0m7-2h0m5 1h0m3-1h0m19-1h0m13 0h0m0 3h0m20-1h0m17-3h0m25 5h0m20-2h0m46-2h0m12 5h0m7-1h0m-215 3h0m44-1h0m16 5h0m0-6h0m24 2h0m11-1h0m14 4h0m3 0h0m17-2h0m4-3h0m4 5h0m5 0h0m1-3h0m23 0h0m12-1h0m3 5h0m29-2h0m-211 5h0m17-1h0m2 1h0m10 1h0m0-2h0m21-1h0m7 3h0m17 0h0m3 0h0m6-1h0m23 3h0m0-2h0m3 2h0m45 0h0m4-5h0m7 4h0m38-4h0m15 0h0m-203 10h0m6-2h0m4-2h0m44 0h0m8-1h0m8 6h0m10-1h0m132-4h0m-207 9h0m30 2h0m1-2h0m3-1h0m3-2h0m1-1h0m1 3h0m3-1h0m11 3h0m15-5h0m1 1h0m3 0h0m7 2h0m6-1h0m12 3h0m94-5h0m18 1h0m-204 7h0m24 4h0m6-2h0m4-1h0m164 1h0m19-3h0m-173 5h0m168 3h0m10 0h0m3-1h0m-1 8h0m3 2h0m-7 3h0m7 3h0" stroke="#a697c9" stroke-width="5.00" stroke-linecap="round" fill="none"/>
<path transform="scale(.5)" d="M1748 742h0m7 0h0m-22 6h0m0-1h0m0 2h0m13-4h0m8-1h0m18 0h0m19 5h0m-25 7h0m41-4h0m-64 9h0m2-4h0m1 1h0m4-1h0m20 5h0m1-6h0m14 2h0m4 0h0m12-1h0m19 1h0m3 3h0m-119 3h0m4 1h0m13 1h0m22-1h0m23 2h0m31-2h0m2 0h0m1-1h0m6-1h0m6 3h0m8-1h0m6 3h0m2-1h0m8-1h0m-156 6h0m1 0h0m7 1h0m4 0h0m3 0h0m2-5h0m15 4h0m2-1h0m10 1h0m2-3h0m35 0h0m11 1h0m3 3h0m4-5h0m9 6h0m35-5h0m1 3h0m14 0h0m-157 4h0m13 2h0m8-2h0m18 0h0m22 3h0m36-3h0m20-1h0m13 1h0m8 2h0m18 0h0m-181 3h0m16 4h0m5-1h0m17-1h0m0 3h0m5-1h0m15 1h0m12-4h0m7 1h0m2 2h0m8-2h0m11-2h0m12-1h0m5 5h0m7-5h0m6 2h0m1-1h0m23 5h0m9-4h0m1 0h0m22 0h0m2 1h0m6 1h0m-198 2h0m22 3h0m8 1h0m3-4h0m17 3h0m7 1h0m6 1h0m11-5h0m0 2h0m39 0h0m11 2h0m19 0h0m13-1h0m32 1h0m7-2h0m-103 9h0m9-4h0m8 2h0m4 0h0m10-1h0m9 1h0m16 3h0m2-2h0m13 1h0m50-4h0m-196 10h0m35-3h0m13-1h0m13-1h0m5 5h0m35-5h0m12 4h0m14-2h0m2 0h0m-136 9h0m1-1h0m19-1h0m15-1h0m39-1h0m5 3h0m3-3h0m3 0h0m7 0h0m20 4h0m17-1h0m11-4h0m6 1h0m-160 9h0m17-2h0m4-1h0m2 3h0m22 2h0m5-3h0m1 0h0m20-1h0m3 2h0m6-2h0m20 3h0m7 0h0m3-3h0m21-1h0m9 3h0m-119 3h0m12 2h0m1-2h0m25 0h0m34-1h0m9 1h0m50 1h0m1 4h0m22-3h0m7 2h0m12-2h0m-172 5h0m6 2h0m5-1h0m30-2h0m4 1h0m8-2h0m3 0h0m13 0h0m5 3h0m41 0h0m11-2h0m7 5h0m27-5h0m5 2h0m-184 8h0m10-1h0m0 0h0m4 1h0m86-2h0m0-3h0m11 2h0m22 2h0m6-1h0m6-2h0m39 1h0m-160 6h0m6 4h0m3-1h0m18-3h0m14 1h0m3 1h0m4-3h0m42 3h0m15 0h0m1-1h0m1 0h0m15-1h0m2 3h0m-129 2h0m3 4h0m1-3h0m5 2h0m61 1h0m5-1h0m2-3h0m10 4h0m20 0h0m8 0h0m2 0h0m-133 4h0m13-2h0m24-1h0m23 2h0m4 0h0m4 0h0m15-2h0m21 5h0m9-4h0m25 3h0m0-4h0m-108 9h0m15 3h0m0-1h0m22-4h0m7 2h0m26-2h0m28 0h0m53 4h0m-189 6h0m37-2h0m3-2h0m8 4h0m3-3h0m12-2h0m49 1h0m15 0h0m19 1h0m20 0h0m-102 5h0m53 2h0m44 3h0m0-1h0m6-2h0m5 3h0m-107 1h0m20 2h0m10-2h0m4 3h0m4 1h0m1-1h0m0-4h0m7 2h0m16 1h0m1 1h0m39 2h0m9-1h0m10 0h0m-109 6h0m0-2h0m9 3h0m22-1h0m18-2h0m3-2h0m7 0h0m10 1h0m14 3h0m5 0h0m16-1h0m4 1h0m-92 6h0m22-2h0m20 1h0m6 1h0m3-2h0m4 3h0m14-6h0m19 5h0m15 1h0m-81 4h0m9-1h0m10-2h0m23 3h0m2 1h0m22-1h0m-38 2h0m8 5h0m2-1h0m24 2h0m2-2h0m-46 3h0m19 0h0m8 4h0m7-3h0m12 0h0m1 1h0m-56 5h0m19 3h0m16-2h0m19-2h0m-52 8h0m12 0h0m19-1h0m0 2h0m4 0h0m2-3h0m1 5h0m13-5h0m33 8h0m1 1h0m-89 5h0m7-3h0m70 3h0m-60 3h0m1 4h0m7 1h0m4-2h0m-30 5h0m3 3h0m21-4h0m9 4h0m72-1h0m-158 3h0m7 2h0m1-2h0m6 4h0m0-3h0m8 4h0m6-5h0m0 4h0m3 1h0m50-5h0m4 1h0m13-1h0m3 1h0m48 1h0m4-2h0m1 1h0m8-1h0m-184 9h0m16 0h0m0 2h0m4-1h0m1-5h0m7 3h0m7-1h0m3-1h0m1 0h0m17 4h0m10 1h0m0-2h0m1-3h0m23 0h0m11 1h0m87 0h0m-163 7h0m15 1h0m42 1h0m2 1h0m6 0h0m5-5h0m6 4h0m92-4h0m7 1h0m6-1h0m-178 7h0m26 2h0m24-2h0m1-1h0m115 3h0m10 2h0m8-5h0m2 3h0m4 0h0m-153 5h0m136-2h0m6-1h0m7 1h0m3 1h0m2 1h0m-1 5h0m13 2h0m5 10h0m2 4h0m1-3h0" stroke="#8b78ba" stroke-width="5.00" stroke-linecap="round" fill="none"/>
<path transform="scale(.5)" d="M1755 767h0m18-2h0m1 1h0m8-2h0m13 3h0m2-2h0m6 2h0m-59 3h0m13-1h0m14 4h0m8-4h0m4 3h0m1-1h0m2-3h0m7 2h0m2 3h0m14-5h0m-60 7h0m3 0h0m9 4h0m0-2h0m18 2h0m0 0h0m5 1h0m0-3h0m4 1h0m1 1h0m1-4h0m12 0h0m1 1h0m2 1h0m2 0h0m-94 5h0m9 1h0m17 2h0m3-1h0m5-1h0m25 3h0m18-3h0m4 2h0m14-1h0m6-2h0m3-2h0m-119 9h0m17-3h0m2 0h0m2 6h0m9-4h0m1 0h0m2-1h0m0 2h0m4-3h0m28 5h0m12-5h0m30 2h0m-105 6h0m7 1h0m18-2h0m4 2h0m1-2h0m17 4h0m10-3h0m10 0h0m2 0h0m8 1h0m7 2h0m7-4h0m1 0h0m7-1h0m9 2h0m-128 8h0m21 2h0m4-5h0m27 3h0m6-2h0m18-2h0m7 3h0m35-1h0m7-1h0m-132 9h0m15-2h0m4-2h0m10 6h0m1-1h0m34-1h0m11-4h0m4 4h0m31-1h0m-111 4h0m8 1h0m34-1h0m13 0h0m4 1h0m3 0h0m26-1h0m-84 10h0m4-2h0m48 1h0m8-2h0m8 1h0m5 0h0m7 3h0m10-1h0m5-4h0m1 0h0m6 2h0m-113 6h0m2-2h0m31 0h0m8 3h0m42 1h0m-62 1h0m8 0h0m6 3h0m54-2h0m3 2h0m12 1h0m8 1h0m7 1h0m-74 6h0m3-5h0m15 4h0m2-2h0m4-3h0m15 5h0m6-4h0m9 2h0m5 2h0m14 0h0m-82 5h0m43 1h0m16 0h0m-19 6h0m26-1h0m1-2h0m-49 7h0m6 2h0m1-4h0m4 3h0m25 1h0m3 0h0m11 0h0m1-1h0m5 1h0m8-1h0m2 2h0m1-6h0m6 5h0m2 1h0m-68 4h0m67 2h0m-53 6h0m3-2h0m6-1h0m1 1h0m0-4h0m18 4h0m-8 6h0m-6 3h0m12 2h0m14 0h0m20 0h0m-30 4h0m20 5h0m-6 3h0m41 0h0m5 7h0m-60 4h0m4-1h0m25 3h0m23 1h0m-42 7h0m11-1h0m1-5h0m0 1h0m0 1h0m1-2h0m48 5h0m-44 1h0m38 4h0m10-2h0m5 12h0m8 0h0m5 9h0m-115 5h0m15 1h0m-35 3h0m25-2h0m111 1h0m-145 9h0m7-3h0m11 2h0m1 1h0m5 1h0m8-3h0m20-1h0m2 2h0m106 1h0m8 0h0m-170 2h0m3 4h0m9-4h0m33 5h0m121-5h0m7 3h0m3 1h0m6 6h0m3 3h0m1 6h0m0 5h0m9 0h0m1-6h0m3 11h0m9 7h0m-5 4h0m13 1h0" stroke="#6e59aa" stroke-width="5.00" stroke-linecap="round" fill="none"/>
<path transform="scale(.5)" d="M1778 768h0m6 6h0m2 3h0m2 2h0m-50 4h0m3 0h0m7-1h0m4 1h0m8 1h0m4 1h0m12-1h0m3-1h0m12-1h0m-64 10h0m32 0h0m34-5h0m2-1h0m-65 10h0m10-2h0m7 1h0m26-2h0m-82 8h0m50 0h0m2-3h0m-52 11h0m2-3h0m3 3h0m32-5h0m30 0h0m-72 7h0m7 4h0m2-1h0m3 2h0m1-5h0m9 2h0m11 0h0m9-2h0m18 3h0m2-2h0m2 0h0m6 0h0m-57 8h0m16 1h0m1-3h0m17-2h0m4 0h0m-55 10h0m11-2h0m18 3h0m14-2h0m9 0h0m14 3h0m12-2h0m-63 5h0m3 0h0m9-2h0m2 1h0m11 1h0m2 1h0m8-3h0m3 4h0m10-2h0m12 1h0m5 0h0m1-1h0m9-1h0m-63 5h0m40 3h0m-18 4h0m23-1h0m1 4h0m1-5h0m23 4h0m-22 6h0m14-3h0m9 3h0m0 1h0m3 1h0m8-4h0m-41 9h0m10-4h0m5 4h0m3-5h0m10 0h0m-42 10h0m42 2h0m1-3h0m0-2h0m3 4h0m4-1h0m-44 7h0m9-4h0m7 4h0m14-2h0m-26 5h0m2 4h0m1-5h0m6 4h0m18-1h0m11 2h0m-27 4h0m3-3h0m4-1h0m5 6h0m-9 3h0m4-2h0m0 2h0m9 2h0m3-3h0m22 3h0m17-3h0m-24 9h0m24 1h0m13 5h0m7 6h0m4 6h0m1-1h0m3 5h0m-2 4h0m4 1h0m7 3h0m0 3h0m19 20h0m14 1h0m-138 3h0m126-1h0m9 6h0m6 3h0m8 7h0m1-3h0m5 6h0m3 3h0m-2 5h0m9 1h0m3 4h0m6 5h0m2 5h0m4 1h0" stroke="#523e9b" stroke-width="5.00" stroke-linecap="round" fill="none"/>
<path transform="scale(.5)" d="M1732 795h0m-26 7h0m11 2h0m6-6h0m6 3h0m17 1h0m-43 4h0m10 2h0m-13 5h0m14-2h0m13 2h0m18 6h0m6-2h0m-16 8h0m-5 4h0m12 13h0m17 3h0m9 5h0m-6 5h0m1 3h0m5-4h0m3 1h0m1 0h0m5 1h0m-23 2h0m0 1h0m9-1h0m20 3h0m-32 4h0m3 0h0m1 1h0m1 4h0m7 3h0m51 15h0m-9 1h0m4 3h0m3-2h0m-25 6h0m7 2h0m7-4h0m3 1h0m11 0h0m66 52h0m3 4h0m6 7h0m11 10h0m18 15h0" stroke="#38298b" stroke-width="5.00" stroke-linecap="round" fill="none"/>
<path transform="scale(.5)" d="M1717 810h0m9 5h0m0 1h0m-21 9h0m13 0h0m6 0h0m43 39h0m46 24h0m-9 1h0m9-1h0m3 5h0m106 93h0m3 6h0m1-1h0" stroke="#271f7e" stroke-width="5.00" stroke-linecap="round" fill="none"/>
</g>
<defs><pattern id="nzD" x="109" y="385.6" width="151" height="33.628" patternUnits="userSpaceOnUse"><g stroke="#0a0410" stroke-width="4.90"><path stroke-opacity="0.5" d="M0 2.4h1M15.6 2.4h1M20 2.4h0.8M23.2 2.4h0.8M26 2.4h1M38.8 2.4h1M40.8 2.4h0.8M44 2.4h1M54.4 2.4h1M58.6 2.4h1.4M62.8 2.4h1.4M68.6 2.4h1.4M77.4 2.4h1M78.4 2.4h0.8M82.4 2.4h1M88.2 2.4h1M89.2 2.4h1M90.2 2.4h1.4M92.6 2.4h1M94.6 2.4h1M110.2 2.4h1.4M117 2.4h0.8M127.2 2.4h0.8M128.8 2.4h0.8M129.6 2.4h1M6.2 7.2h1M8.2 7.2h1.4M23.8 7.2h1.4M28.8 7.2h0.8M44.4 7.2h0.8M46.6 7.2h1M53.4 7.2h1M56.8 7.2h0.8M62 7.2h1.4M69.4 7.2h1.4M71.8 7.2h1M74.2 7.2h1M83 7.2h1.4M86.6 7.2h1.4M91.2 7.2h0.8M98.6 7.2h1M102.8 7.2h0.8M119.4 7.2h0.8M131.8 7.2h0.8M135.4 7.2h1.4M144.4 7.2h1.4M2.2 12h1M4 12h1.4M15.8 12h1.4M23.6 12h1M24.6 12h1M32.2 12h1M49 12h1M58.4 12h1M120 12h1.4M124.2 12h1M132.6 12h1.4M141.8 12h1.4M2.6 16.8h1M18.2 16.8h1M21.2 16.8h0.8M25.4 16.8h1.4M40.6 16.8h1M62 16.8h0.8M77.4 16.8h1M86.6 16.8h0.8M101.8 16.8h0.8M108.8 16.8h1M120 16.8h1M123 16.8h1.4M126.2 16.8h0.8M129.6 16.8h1M131.6 16.8h1.4M145.4 16.8h1M28 21.6h0.8M30.2 21.6h1M40.2 21.6h1.4M44.4 21.6h1.4M54.4 21.6h0.8M71.8 21.6h0.8M92.2 21.6h1M96.2 21.6h1.4M101.4 21.6h1.4M103.6 21.6h1M115.2 21.6h0.8M117.8 21.6h1M132.8 21.6h1M137.2 21.6h1.4M143.8 21.6h1.4M0 26.4h1M18.8 26.4h1M24.6 26.4h1.4M39 26.4h0.8M39.8 26.4h1M46 26.4h1M53 26.4h1M68.2 26.4h1M72 26.4h1M93 26.4h1.4M103.4 26.4h0.8M115.4 26.4h1M116.4 26.4h1M127.2 26.4h1M137.2 26.4h0.8M138 26.4h1.4M3 31.2h0.8M4.6 31.2h1M14.8 31.2h1M25 31.2h1M36.8 31.2h1.4M42.2 31.2h1.4M43.6 31.2h1M55.2 31.2h1M65.2 31.2h1.4M69.4 31.2h0.8M70.2 31.2h1M77 31.2h0.8M87.6 31.2h1.4M90 31.2h1.4M96.8 31.2h1M105.4 31.2h0.8M107.2 31.2h0.8M117.2 31.2h1M127.6 31.2h1M132 31.2h0.8"/><path stroke-opacity="0.72" d="M1 2.4h0.8M3.8 2.4h1M10.8 2.4h1M27 2.4h1M29 2.4h1.4M35.2 2.4h0.8M37.8 2.4h1M39.8 2.4h1M55.4 2.4h1M66.6 2.4h1M67.6 2.4h1M71.4 2.4h1M74.6 2.4h1M76.6 2.4h0.8M91.6 2.4h1M100.6 2.4h1M122.8 2.4h1M124.8 2.4h1.4M143.8 2.4h1M149 2.4h0.8M0 7.2h1M3 7.2h1.4M11.4 7.2h1M14 7.2h1.4M15.4 7.2h1.4M18.2 7.2h1M20.8 7.2h1M22.8 7.2h1M31 7.2h1.4M34.8 7.2h1M45.2 7.2h1.4M60.6 7.2h1.4M67.6 7.2h0.8M82.2 7.2h0.8M88 7.2h1.4M92 7.2h1.4M100.6 7.2h0.8M103.6 7.2h1M109 7.2h1M111 7.2h0.8M121 7.2h1M122 7.2h0.8M123.6 7.2h0.8M126.6 7.2h1.4M142.6 7.2h1M146.8 7.2h0.8M7.8 12h0.8M36 12h1M37.8 12h1.4M42.6 12h1M59.4 12h1.4M110.2 12h0.8M114.4 12h1M131.8 12h0.8M134 12h0.8M135.8 12h0.8M148.2 12h0.8M0 16.8h0.8M4.4 16.8h1M7.6 16.8h1M8.6 16.8h0.8M32.6 16.8h0.8M33.4 16.8h1M34.4 16.8h1M46.4 16.8h1M52 16.8h1M59.6 16.8h1M70.4 16.8h1M73.8 16.8h1M84.6 16.8h1M95.6 16.8h0.8M99.8 16.8h1M102.6 16.8h1.4M113 16.8h1M114 16.8h1M117 16.8h1M124.4 16.8h1M146.4 16.8h0.8M8.6 21.6h0.8M9.4 21.6h1M12.4 21.6h1.4M28.8 21.6h1.4M42.6 21.6h1M43.6 21.6h0.8M46.6 21.6h0.8M57.6 21.6h1M64.8 21.6h1.4M66.2 21.6h1.4M68.6 21.6h0.8M86.6 21.6h1M102.8 21.6h0.8M105.4 21.6h1M106.4 21.6h1M109.4 21.6h1.4M121.6 21.6h0.8M126.2 21.6h1M138.6 21.6h0.8M145.2 21.6h0.8M149.6 21.6h0.8M10.4 26.4h1.4M13.8 26.4h1.4M16 26.4h1M18 26.4h0.8M30.8 26.4h1.4M44 26.4h1M48 26.4h1M58.4 26.4h1M63.8 26.4h1M65.6 26.4h0.8M69.2 26.4h1M74 26.4h1M83 26.4h0.8M83.8 26.4h1M88 26.4h1M107.2 26.4h1.4M112.4 26.4h1.4M122 26.4h1.4M123.4 26.4h1M124.4 26.4h1.4M130 26.4h1.4M132.2 26.4h0.8M134.8 26.4h1.4M140.4 26.4h1.4M148.2 26.4h1M149.2 26.4h0.8M29.2 31.2h1.4M30.6 31.2h1M47 31.2h1.4M51.4 31.2h0.8M58.6 31.2h1M62.4 31.2h1M63.4 31.2h0.8M92.4 31.2h0.8M94.2 31.2h0.8M100.6 31.2h1.4M114.8 31.2h1.4M119 31.2h1.4M126.8 31.2h0.8M136.2 31.2h1M144.4 31.2h1M145.4 31.2h1"/><path stroke-opacity="0.62" d="M4.8 2.4h1M8.8 2.4h1M32.4 2.4h1M33.4 2.4h0.8M34.2 2.4h1M61 2.4h1M73.8 2.4h0.8M97 2.4h0.8M97.8 2.4h1M109.4 2.4h0.8M115 2.4h1M116 2.4h1M121.4 2.4h1.4M128 2.4h0.8M130.6 2.4h1.4M134.8 2.4h1.4M148 2.4h1M13.2 7.2h0.8M20 7.2h0.8M25.2 7.2h1M36.8 7.2h1M39.8 7.2h0.8M43.6 7.2h0.8M54.4 7.2h1.4M65.6 7.2h1M72.8 7.2h1.4M75.2 7.2h1M84.4 7.2h0.8M107.2 7.2h0.8M113.8 7.2h0.8M117 7.2h1.4M129.8 7.2h1M136.8 7.2h1.4M9.6 12h0.8M20.6 12h1M22.6 12h1M29.4 12h1.4M34.6 12h1.4M40 12h1M43.6 12h1M51 12h1.4M54.4 12h1.4M56.6 12h1M66.2 12h1M67.2 12h1.4M70 12h1M74.8 12h1M82.6 12h1M85 12h1.4M87.4 12h1M96.6 12h1.4M98 12h1M100.4 12h1M113 12h1.4M127.6 12h1M128.6 12h1.4M137.6 12h1M143.2 12h0.8M12.4 16.8h1.4M14.6 16.8h0.8M15.4 16.8h1.4M20.2 16.8h1M22 16.8h1M30 16.8h0.8M30.8 16.8h0.8M44.6 16.8h0.8M57.8 16.8h0.8M62.8 16.8h1M67.6 16.8h1M69.4 16.8h1M82.6 16.8h1M91 16.8h0.8M91.8 16.8h0.8M109.8 16.8h0.8M110.6 16.8h1.4M116 16.8h1M119 16.8h1M128.8 16.8h0.8M134.6 16.8h1M140.8 16.8h1.4M150.4 16.8h0.8M2.4 21.6h1.4M4.6 21.6h1M32 21.6h1M33 21.6h1M38.2 21.6h1M39.2 21.6h1M49.2 21.6h1M50.2 21.6h0.8M77 21.6h0.8M78.6 21.6h1M81 21.6h0.8M82.8 21.6h1M89.4 21.6h1.4M99.6 21.6h1M107.4 21.6h1M108.4 21.6h1M116.8 21.6h1M125.2 21.6h1M147.4 21.6h1.4M8.4 26.4h1M12.8 26.4h1M20.8 26.4h1.4M27 26.4h1M28 26.4h0.8M54 26.4h1M71 26.4h1M109.6 26.4h1.4M113.8 26.4h0.8M121 26.4h1M0 31.2h1M2 31.2h1M16.8 31.2h1.4M27 31.2h0.8M40 31.2h0.8M50.4 31.2h1M72.2 31.2h1.4M74.6 31.2h1.4M78.6 31.2h1M84.8 31.2h0.8M111.4 31.2h1M125.4 31.2h1.4M141.2 31.2h1"/><path stroke-opacity="0.25" d="M5.8 2.4h0.8M6.6 2.4h0.8M13.6 2.4h1M16.6 2.4h1M17.6 2.4h1M99.8 2.4h0.8M101.6 2.4h1M103.6 2.4h1.4M108 2.4h1.4M113 2.4h1M132 2.4h1.4M145.6 2.4h1.4M149.8 2.4h1M12.4 7.2h0.8M16.8 7.2h1.4M33.2 7.2h0.8M49.4 7.2h1M59.2 7.2h1.4M81.2 7.2h1M89.4 7.2h0.8M105.6 7.2h0.8M106.4 7.2h0.8M111.8 7.2h1M112.8 7.2h1M122.8 7.2h0.8M129 7.2h0.8M130.8 7.2h1M140.4 7.2h1.4M148.6 7.2h1.4M0 12h1.4M1.4 12h0.8M33.2 12h1.4M41 12h0.8M44.6 12h1.4M48 12h1M53.4 12h1M60.8 12h0.8M76.8 12h1M79.4 12h1M81.8 12h0.8M86.4 12h1M89.4 12h1M90.4 12h0.8M99 12h1.4M106.8 12h1.4M112 12h1M123.4 12h0.8M136.6 12h1M144 12h0.8M144.8 12h1.4M150.4 12h1.4M6.8 16.8h0.8M13.8 16.8h0.8M23 16.8h1.4M31.6 16.8h1M47.4 16.8h1.4M53.8 16.8h0.8M54.6 16.8h1.4M57 16.8h0.8M83.6 16.8h1M92.6 16.8h1.4M106.4 16.8h1M112 16.8h1M118 16.8h1M142.2 16.8h0.8M148.6 16.8h1M3.8 21.6h0.8M5.6 21.6h1M15.2 21.6h1M17.6 21.6h1.4M19 21.6h1M27.2 21.6h0.8M35 21.6h1M45.8 21.6h0.8M47.4 21.6h0.8M51 21.6h1.4M53.4 21.6h1M63 21.6h1M70.4 21.6h1.4M74.6 21.6h1M81.8 21.6h1M88.6 21.6h0.8M90.8 21.6h1.4M110.8 21.6h0.8M113.8 21.6h1.4M122.4 21.6h1.4M127.2 21.6h0.8M135.2 21.6h1M146 21.6h1.4M34.4 26.4h1M35.4 26.4h1.4M41.8 26.4h0.8M47 26.4h1M49.8 26.4h0.8M51.4 26.4h0.8M60.2 26.4h1.4M61.6 26.4h0.8M67.4 26.4h0.8M73 26.4h1M76 26.4h1M77.8 26.4h0.8M78.6 26.4h1M79.6 26.4h1.4M94.4 26.4h1M95.4 26.4h1.4M114.6 26.4h0.8M118.8 26.4h1.4M125.8 26.4h1.4M145.2 26.4h1M147.2 26.4h1M150 26.4h1.4M1 31.2h1M5.6 31.2h1M6.6 31.2h1M13.8 31.2h1M32.4 31.2h0.8M34.6 31.2h0.8M35.4 31.2h1.4M46 31.2h1M53 31.2h0.8M66.6 31.2h1M71.2 31.2h1M81 31.2h1.4M82.4 31.2h1M85.6 31.2h1M91.4 31.2h1M93.2 31.2h1M99.2 31.2h1.4M137.2 31.2h0.8M140.4 31.2h0.8M143.6 31.2h0.8"/><path stroke-opacity="0.38" d="M7.4 2.4h1.4M18.6 2.4h1.4M22.2 2.4h1M46 2.4h1M47 2.4h0.8M47.8 2.4h1M49.8 2.4h1M65.2 2.4h1.4M70 2.4h1.4M79.2 2.4h0.8M80 2.4h1M81 2.4h1.4M84.4 2.4h1.4M85.8 2.4h1M86.8 2.4h1.4M95.6 2.4h1.4M98.8 2.4h1M117.8 2.4h0.8M118.6 2.4h0.8M119.4 2.4h1M133.4 2.4h1.4M137.6 2.4h1M138.6 2.4h1.4M141.4 2.4h1M142.4 2.4h1.4M2 7.2h1M5.2 7.2h1M19.2 7.2h0.8M27 7.2h1M40.6 7.2h0.8M51.4 7.2h1M70.8 7.2h1M85.2 7.2h1.4M93.4 7.2h1M94.4 7.2h0.8M95.2 7.2h1M108 7.2h1M110 7.2h1M125.8 7.2h0.8M139.6 7.2h0.8M143.6 7.2h0.8M14.8 12h1M27.6 12h0.8M46 12h1M47 12h1M57.6 12h0.8M72 12h1M78.6 12h0.8M91.2 12h1M138.6 12h1M141 12h0.8M147.2 12h1M9.4 16.8h0.8M19.2 16.8h1M45.4 16.8h1M48.8 16.8h1M56 16.8h1M63.8 16.8h1.4M68.6 16.8h0.8M78.4 16.8h1M80.8 16.8h0.8M98.4 16.8h1.4M100.8 16.8h1M105.4 16.8h1M122 16.8h1M133 16.8h0.8M133.8 16.8h0.8M137 16.8h0.8M1.4 21.6h1M7.6 21.6h1M10.4 21.6h1M11.4 21.6h1M21 21.6h1.4M25.2 21.6h1M31.2 21.6h0.8M55.2 21.6h1.4M58.6 21.6h0.8M77.8 21.6h0.8M87.6 21.6h1M97.6 21.6h1M111.6 21.6h1.4M123.8 21.6h1.4M130 21.6h1.4M141.8 21.6h1M142.8 21.6h1M7.4 26.4h1M22.2 26.4h1.4M28.8 26.4h1M32.2 26.4h0.8M38.2 26.4h0.8M50.6 26.4h0.8M55 26.4h1M59.4 26.4h0.8M64.8 26.4h0.8M77 26.4h0.8M84.8 26.4h1M89 26.4h0.8M90.6 26.4h1M91.6 26.4h1.4M100 26.4h1M101 26.4h1M102 26.4h1.4M106.2 26.4h1M120.2 26.4h0.8M146.2 26.4h1M8.6 31.2h1.4M10 31.2h0.8M12.4 31.2h1.4M19.6 31.2h0.8M22.6 31.2h1M26 31.2h1M31.6 31.2h0.8M44.6 31.2h1.4M67.6 31.2h0.8M68.4 31.2h1M73.6 31.2h1M89 31.2h1M95 31.2h1M96 31.2h0.8M110.4 31.2h1M113.4 31.2h1.4M116.2 31.2h1M118.2 31.2h0.8M120.4 31.2h1M142.2 31.2h1.4M147.2 31.2h1.4"/><path stroke-opacity="0.12" d="M11.8 2.4h1M14.6 2.4h1M20.8 2.4h1.4M28 2.4h1M36 2.4h0.8M45 2.4h1M50.8 2.4h1.4M56.4 2.4h1.4M60 2.4h1M62 2.4h0.8M72.4 2.4h1.4M75.6 2.4h1M93.6 2.4h1M107 2.4h1M120.4 2.4h1M123.8 2.4h1M126.2 2.4h1M136.2 2.4h1.4M1 7.2h1M9.6 7.2h1M21.8 7.2h1M34 7.2h0.8M35.8 7.2h1M42.2 7.2h1.4M47.6 7.2h0.8M48.4 7.2h1M52.4 7.2h1M55.8 7.2h1M68.4 7.2h1M77.2 7.2h1M80.4 7.2h0.8M90.2 7.2h1M101.4 7.2h1.4M104.6 7.2h1M138.2 7.2h1.4M141.8 7.2h0.8M145.8 7.2h1M6.8 12h1M11.4 12h1.4M13.8 12h1M19.8 12h0.8M26.6 12h1M28.4 12h1M37 12h0.8M52.4 12h1M63 12h0.8M94.2 12h1.4M102.4 12h1M105.8 12h1M116.2 12h1M118 12h1M125.2 12h1M130.8 12h1M149 12h1.4M0.8 16.8h1M11.6 16.8h0.8M24.4 16.8h1M27.8 16.8h0.8M37.4 16.8h0.8M39.6 16.8h1M41.6 16.8h1M50.6 16.8h1.4M76.4 16.8h1M79.4 16.8h1.4M85.6 16.8h1M104 16.8h1.4M127.8 16.8h1M137.8 16.8h0.8M22.4 21.6h1.4M34 21.6h1M36.8 21.6h1.4M48.2 21.6h1M59.4 21.6h0.8M64 21.6h0.8M79.6 21.6h1.4M83.8 21.6h1.4M94.2 21.6h1M148.8 21.6h0.8M3.4 26.4h1.4M11.8 26.4h1M15.2 26.4h0.8M23.6 26.4h1M26 26.4h1M29.8 26.4h1M57 26.4h1.4M81 26.4h1M82 26.4h1M85.8 26.4h0.8M89.8 26.4h0.8M97.6 26.4h1.4M111 26.4h1.4M117.4 26.4h1.4M128.2 26.4h1M131.4 26.4h0.8M139.4 26.4h1M3.8 31.2h0.8M10.8 31.2h0.8M23.6 31.2h1.4M38.2 31.2h1M52.2 31.2h0.8M53.8 31.2h1.4M57.2 31.2h1.4M59.6 31.2h1.4M61 31.2h1.4M76 31.2h1M86.6 31.2h1M97.8 31.2h1.4M104 31.2h1.4M109.4 31.2h1M112.4 31.2h1M124.4 31.2h1M130.6 31.2h1.4M132.8 31.2h1M146.4 31.2h0.8"/></g></pattern><pattern id="nzL" x="109" y="385.6" width="137" height="33.628" patternUnits="userSpaceOnUse"><g stroke-width="4.90"><path stroke="#d2cc4c" stroke-opacity="0.38" d="M0 2.4h1M21.4 2.4h0.8M36 2.4h1.4M43.4 2.4h1.4M54.8 2.4h0.8M64 2.4h0.8M72 2.4h1.4M76.2 2.4h0.8M83.6 2.4h1.4M87 2.4h1.4M94.8 2.4h0.8M106.2 2.4h0.8M22.4 7.2h0.8M29.2 7.2h0.8M40 7.2h1.4M64.8 7.2h1.4M71.8 7.2h0.8M74.4 7.2h0.8M2.8 12h1.4M5.2 12h0.8M44 12h0.8M100.8 12h0.8M126 12h0.8M128.6 12h1M129.6 12h1M13.8 16.8h1.4M15.2 16.8h1.4M28.6 16.8h1.4M70.8 16.8h1M79.6 16.8h1.4M90.4 16.8h1.4M94 16.8h0.8M6.4 21.6h0.8M37 21.6h0.8M44.2 21.6h1M46.6 21.6h0.8M64 21.6h0.8M93.2 21.6h1M94.2 21.6h1M125.4 21.6h0.8M128 21.6h1M0 26.4h1M36.6 26.4h1.4M50.2 26.4h1M64.8 26.4h0.8M78.6 26.4h1M87.6 26.4h1M126.4 26.4h1.4M0.8 31.2h1.4M4 31.2h1.4M10 31.2h0.8M36.4 31.2h0.8M37.2 31.2h1.4M74.2 31.2h0.8M91.6 31.2h1.4"/><path stroke="#d2cc4c" stroke-opacity="0.55" d="M11.2 2.4h0.8M22.2 2.4h1M120.6 2.4h1.4M8.4 7.2h1.4M26.4 7.2h1M34.6 7.2h1M49.6 7.2h1M81.4 7.2h0.8M134.6 7.2h1M7 12h0.8M15.2 12h1.4M63 12h0.8M68.8 12h0.8M72.6 12h1.4M92.6 12h1M120 12h1.4M135 12h0.8M7 16.8h0.8M7.8 16.8h1M21.2 16.8h1.4M55.8 16.8h1.4M95.8 16.8h1M124.8 16.8h0.8M27.8 21.6h0.8M32.2 21.6h0.8M63.2 21.6h0.8M73.4 21.6h1M80.2 21.6h1.4M97.4 21.6h1.4M100.2 21.6h1.4M120.6 21.6h1M131.4 21.6h1M125 26.4h1.4M32.2 31.2h1M54.6 31.2h1M73.4 31.2h0.8M87.8 31.2h1.4M118 31.2h1"/><path stroke="#a044a2" stroke-opacity="0.45" d="M12 2.4h0.8M27.4 2.4h0.8M44.8 2.4h1M95.6 2.4h0.8M105.2 2.4h1M131 2.4h1.4M24.2 7.2h0.8M94.2 7.2h0.8M14.4 12h0.8M31.6 12h0.8M37.6 12h1.4M40.4 12h1.4M50 12h0.8M82 12h0.8M86.2 12h1.4M10.2 16.8h1.4M33.6 16.8h0.8M87 16.8h1M100.6 16.8h0.8M107.2 16.8h1.4M110 16.8h1.4M89.2 21.6h0.8M107.4 21.6h1M4.6 26.4h1.4M6 26.4h1.4M25.2 26.4h1.4M100.6 26.4h1.4M108.2 26.4h0.8M115.4 26.4h0.8M28.6 31.2h0.8M51.8 31.2h0.8M55.6 31.2h0.8M75 31.2h0.8M127 31.2h1.4M128.4 31.2h0.8"/><path stroke="#a044a2" stroke-opacity="0.3" d="M14.2 2.4h0.8M63 2.4h1M68.4 2.4h1M92.4 2.4h1M104.2 2.4h1M27.4 7.2h1M35.6 7.2h0.8M36.4 7.2h1M55.6 7.2h0.8M56.4 7.2h0.8M58.2 7.2h1.4M87.4 7.2h1.4M111.6 7.2h1.4M133.6 7.2h1M18.6 12h1.4M22.4 12h1M25.8 12h1.4M95 12h1M105.6 12h0.8M116 12h1.4M34.4 16.8h1M41.2 16.8h1M46.6 16.8h1M52.6 16.8h0.8M60.2 16.8h0.8M113.8 16.8h1.4M30 21.6h0.8M30.8 21.6h1.4M98.8 21.6h1.4M117.4 21.6h1.4M134.8 21.6h1M8.4 26.4h0.8M75.4 26.4h1.4M91.6 26.4h1.4M111.6 26.4h0.8M14.4 31.2h0.8M63.4 31.2h0.8M80.4 31.2h0.8M113.4 31.2h0.8"/><path stroke="#d2cc4c" stroke-opacity="0.15" d="M15 2.4h0.8M28.2 2.4h0.8M31.4 2.4h1M34.6 2.4h1.4M126.2 2.4h1M72.6 7.2h1M9.6 12h0.8M13.4 12h1M101.6 12h0.8M102.4 12h1.4M122.2 12h1.4M130.6 12h0.8M131.4 12h1M0 16.8h1.4M1.4 16.8h1.4M11.6 16.8h1.4M19.2 16.8h1M62.4 16.8h0.8M66.2 16.8h1M68 16.8h1M88 16.8h1.4M125.6 16.8h1.4M0 21.6h1.4M8 21.6h1.4M9.4 21.6h1M22.2 21.6h1M53 21.6h1M55 21.6h1M106 21.6h1.4M111.8 21.6h1M112.8 21.6h0.8M28 26.4h1M48.2 26.4h1M59.6 26.4h0.8M61.4 26.4h1M63.8 26.4h1M72.6 26.4h0.8M98.2 26.4h1.4M104.6 26.4h0.8M110.8 26.4h0.8M123.6 26.4h1.4M136 26.4h1.4M21.6 31.2h0.8M78 31.2h1M89.2 31.2h1M94.4 31.2h0.8M98.6 31.2h0.8M101.6 31.2h1.4"/><path stroke="#d2cc4c" stroke-opacity="0.25" d="M16.6 2.4h1.4M66.6 2.4h0.8M96.4 2.4h0.8M132.4 2.4h0.8M21 7.2h1.4M59.6 7.2h1.4M91 7.2h0.8M98.8 7.2h1.4M107 7.2h1.4M117.6 7.2h0.8M48.2 12h0.8M75.4 12h0.8M109.2 12h1M57.2 16.8h0.8M61 16.8h1.4M3.8 21.6h0.8M104.6 21.6h1.4M109.8 21.6h1M123 21.6h1M132.4 21.6h1.4M26.6 26.4h1.4M41.8 26.4h1.4M52.6 26.4h1M57.4 26.4h0.8M58.2 26.4h1.4M60.4 26.4h1M70.4 26.4h1.4M106.8 26.4h1.4M130.6 26.4h1.4M0 31.2h0.8M8.6 31.2h1.4M19.2 31.2h1M53.6 31.2h1M56.4 31.2h0.8M86.4 31.2h1.4M95.2 31.2h1"/><path stroke="#a044a2" stroke-opacity="0.2" d="M24.6 2.4h1.4M52 2.4h1M77 2.4h1M117.8 2.4h1.4M123 2.4h1.4M53 7.2h0.8M67 7.2h1M85.2 7.2h0.8M91.8 7.2h1M115.2 7.2h1.4M4.2 12h1M7.8 12h0.8M11.4 12h1M51.6 12h1M60.6 12h1M74 12h1.4M80.6 12h1.4M112.6 12h1M121.4 12h0.8M134 12h1M43 16.8h1.4M48.4 16.8h1M86.2 16.8h0.8M15.6 21.6h1.4M24.2 21.6h1.4M57.4 21.6h0.8M84 21.6h1.4M130.4 21.6h1M133.8 21.6h1M10.6 26.4h0.8M34.8 26.4h0.8M38.8 26.4h0.8M74.4 26.4h1M83.8 26.4h1M84.8 26.4h0.8M121.6 26.4h1M26.4 31.2h0.8M119 31.2h0.8M131.4 31.2h0.8M133.6 31.2h1.4"/></g></pattern></defs>
<rect x="109.3" y="385.6" width="592.5" height="456.4" fill="#1a0a1e"/>
<g stroke-width="4.92" fill="none">
<path stroke="#5c5737" d="M109.3 388h106.4M309.7 388h76M510 412h51.8M510 416.8h51.8M309.7 431.2h76M510 436h51.8M563.2 440.8h49.3M510 460.1h51.8M510 464.9h51.8M434.3 469.7h16.3M510 469.7h51.8M563.2 469.7h49.3M510 479.3h51.8M614.2 484.1h31.3M647.2 484.1h24.6M309.7 512.9h76M510 517.7h51.8M386.7 527.3h63.9M510 532.1h51.8M563.2 532.1h49.3M694.2 532.1h7.6M510 536.9h51.8M451.7 541.7h56.5M510 541.7h51.8M694.2 541.7h7.6M510 546.5h51.8M694.2 556.1h7.6M510 560.9h51.8M510 565.8h51.8M563.2 565.8h49.3M451.7 570.6h56.5M386.7 613.8h63.9M451.7 613.8h56.5M510 613.8h51.8M694.2 613.8h7.6M451.7 618.6h56.5M694.2 618.6h7.6M694.2 623.4h7.6M694.2 628.2h7.6M386.7 633h63.9M451.7 633h56.5M694.2 633h7.6M386.7 637.8h63.9M563.2 637.8h49.3M386.7 642.6h63.9M386.7 647.4h63.9M451.7 647.4h56.5M386.7 652.2h63.9M510 652.2h51.8M386.7 657h63.9M451.7 657h56.5M510 657h51.8M451.7 661.8h56.5M510 661.8h51.8M673.7 661.8h18.8M386.7 666.6h63.9M451.7 666.6h56.5M673.7 666.6h18.8M309.7 733.9h76M647.2 733.9h24.6M647.2 738.7h24.6M309.7 772.3h76M309.7 777.1h76M510 815.6h51.8M386.7 820.4h63.9M510 820.4h51.8M694.2 830h7.6M694.2 834.8h7.6M386.7 839.6h63.9M694.2 839.6h7.6"/>
<path stroke="#43204b" d="M216.7 388h92M216.7 392.8h22.7M216.7 397.6h22.7M239.4 402.4h69.3M216.7 412h92M563.2 412h49.3M673.7 416.8h18.8M109.3 460.1h106.4M109.3 464.9h106.4M673.7 464.9h18.8M109.3 474.5h106.4M614.2 474.5h31.3M216.7 522.5h92M239.4 536.9h69.3M647.2 536.9h24.6M673.7 541.7h18.8M109.3 642.6h106.4M309.7 642.6h76M309.7 652.2h76M309.7 657h76M614.2 657h31.3M109.3 666.6h106.4M309.7 666.6h76"/>
<path stroke="#422c41" d="M386.7 388h47.6M647.2 388h24.6M673.7 392.8h18.8M451.7 407.2h56.5M386.7 412h63.9M451.7 412h56.5M694.2 412h7.6M673.7 421.6h18.8M510 426.4h51.8M510 431.2h51.8M673.7 431.2h18.8M563.2 436h49.3M694.2 436h7.6M694.2 455.3h7.6M694.2 469.7h7.6M386.7 479.3h47.6M673.7 479.3h18.8M694.2 484.1h7.6M109.3 498.5h106.4M386.7 498.5h63.9M510 498.5h51.8M239.4 508.1h69.3M614.2 512.9h31.3M647.2 512.9h24.6M694.2 517.7h7.6M451.7 527.3h56.5M510 527.3h51.8M563.2 527.3h49.3M451.7 536.9h56.5M216.7 546.5h22.7M451.7 551.3h56.5M694.2 565.8h7.6M510 570.6h51.8M563.2 570.6h49.3M386.7 575.4h47.6M563.2 575.4h49.3M673.7 580.2h18.8M510 585h51.8M563.2 585h49.3M309.7 589.8h76M386.7 589.8h47.6M614.2 589.8h31.3M673.7 594.6h18.8M309.7 599.4h76M109.3 609h106.4M239.4 609h69.3M309.7 609h76M434.3 609h16.3M614.2 609h31.3M647.2 609h24.6M239.4 613.8h69.3M614.2 613.8h31.3M647.2 618.6h24.6M647.2 623.4h24.6M647.2 628.2h24.6M216.7 633h22.7M647.2 633h24.6M647.2 637.8h24.6M673.7 637.8h18.8M647.2 676.2h24.6M239.4 681h69.3M386.7 681h63.9M451.7 681h56.5M510 681h51.8M563.2 681h49.3M109.3 685.9h106.4M309.7 685.9h76M109.3 690.7h106.4M239.4 690.7h69.3M309.7 690.7h76M647.2 690.7h24.6M109.3 695.5h106.4M309.7 695.5h76M386.7 700.3h63.9M451.7 700.3h56.5M510 700.3h51.8M563.2 700.3h49.3M694.2 700.3h7.6M510 705.1h51.8M109.3 709.9h106.4M309.7 709.9h76M386.7 709.9h63.9M451.7 709.9h56.5M510 709.9h51.8M673.7 709.9h18.8M109.3 719.5h106.4M239.4 719.5h69.3M309.7 719.5h76M109.3 724.3h106.4M239.4 724.3h69.3M309.7 724.3h76M239.4 729.1h69.3M109.3 738.7h106.4M309.7 738.7h76M386.7 738.7h63.9M451.7 738.7h56.5M510 738.7h51.8M563.2 738.7h49.3M694.2 743.5h7.6M386.7 753.1h63.9M510 753.1h51.8M673.7 753.1h18.8M239.4 762.7h69.3M309.7 762.7h76M614.2 762.7h31.3M109.3 767.5h106.4M216.7 767.5h22.7M386.7 767.5h63.9M510 767.5h51.8M614.2 767.5h31.3M694.2 772.3h7.6M694.2 781.9h7.6M109.3 791.5h106.4M216.7 791.5h92M386.7 791.5h63.9M451.7 791.5h56.5M510 791.5h51.8M563.2 791.5h49.3M614.2 791.5h31.3M647.2 791.5h24.6M694.2 796.3h7.6M216.7 801.1h22.7M386.7 801.1h63.9M451.7 801.1h56.5M510 801.1h51.8M563.2 801.1h49.3M647.2 801.1h24.6M216.7 820.4h22.7M109.3 825.2h106.4M239.4 825.2h69.3M309.7 825.2h76M386.7 825.2h63.9M451.7 825.2h56.5M510 825.2h51.8M563.2 825.2h49.3M614.2 825.2h31.3M647.2 825.2h24.6"/>
<path stroke="#653966" d="M434.3 388h16.3M239.4 407.2h69.3M614.2 440.8h31.3M434.3 450.5h16.3M614.2 450.5h31.3M614.2 455.3h31.3M647.2 455.3h24.6M614.2 460.1h31.3M647.2 460.1h24.6M647.2 464.9h24.6M434.3 484.1h16.3M563.2 484.1h49.3M386.7 488.9h47.6M451.7 488.9h56.5M510 488.9h51.8M563.2 488.9h49.3M239.4 546.5h69.3M309.7 546.5h76M614.2 546.5h31.3M614.2 556.1h31.3M451.7 560.9h56.5M309.7 565.8h76M614.2 565.8h31.3M673.7 565.8h18.8M216.7 623.4h92M309.7 623.4h76M673.7 623.4h18.8M216.7 628.2h92M309.7 628.2h76M309.7 633h76M614.2 637.8h31.3M109.3 661.8h106.4M239.4 661.8h69.3M694.2 676.2h7.6M563.2 733.9h49.3M109.3 753.1h106.4M239.4 753.1h69.3M451.7 777.1h56.5M216.7 781.9h92M386.7 781.9h63.9M451.7 781.9h56.5M510 781.9h51.8M563.2 781.9h49.3M386.7 786.7h63.9M239.4 815.6h69.3M309.7 815.6h76M614.2 815.6h31.3M647.2 815.6h24.6M673.7 815.6h18.8M239.4 820.4h69.3"/>
<path stroke="#201024" d="M451.7 388h56.5M563.2 388h49.3M694.2 388h7.6M386.7 397.6h63.9M451.7 397.6h56.5M694.2 397.6h7.6M386.7 402.4h47.6M451.7 402.4h56.5M563.2 402.4h49.3M694.2 407.2h7.6M673.7 412h18.8M216.7 416.8h22.7M386.7 416.8h63.9M451.7 416.8h56.5M694.2 416.8h7.6M216.7 421.6h92M386.7 421.6h63.9M451.7 421.6h56.5M694.2 421.6h7.6M386.7 426.4h47.6M451.7 426.4h56.5M694.2 426.4h7.6M239.4 431.2h69.3M386.7 431.2h63.9M451.7 431.2h56.5M694.2 431.2h7.6M386.7 436h47.6M451.7 436h56.5M694.2 440.8h7.6M386.7 445.7h63.9M386.7 450.5h47.6M451.7 450.5h56.5M563.2 450.5h49.3M694.2 450.5h7.6M694.2 460.1h7.6M386.7 464.9h47.6M694.2 464.9h7.6M386.7 474.5h63.9M673.7 474.5h18.8M694.2 474.5h7.6M694.2 479.3h7.6M694.2 488.9h7.6M216.7 493.7h22.7M386.7 493.7h63.9M451.7 493.7h56.5M694.2 493.7h7.6M694.2 498.5h7.6M386.7 503.3h63.9M510 508.1h51.8M694.2 508.1h7.6M109.3 512.9h106.4M239.4 512.9h69.3M386.7 512.9h63.9M451.7 512.9h56.5M510 512.9h51.8M563.2 512.9h49.3M694.2 512.9h7.6M694.2 522.5h7.6M216.7 527.3h22.7M673.7 527.3h18.8M216.7 536.9h22.7M673.7 536.9h18.8M216.7 551.3h92M309.7 551.3h76M647.2 551.3h24.6M673.7 551.3h18.8M216.7 556.1h22.7M216.7 560.9h92M309.7 560.9h76M614.2 560.9h31.3M647.2 560.9h24.6M673.7 560.9h18.8M694.2 560.9h7.6M386.7 570.6h47.6M673.7 570.6h18.8M694.2 570.6h7.6M434.3 575.4h16.3M673.7 575.4h18.8M694.2 575.4h7.6M434.3 580.2h16.3M694.2 580.2h7.6M109.3 585h106.4M239.4 585h69.3M309.7 585h76M434.3 585h16.3M614.2 585h31.3M647.2 585h24.6M673.7 585h18.8M694.2 585h7.6M434.3 589.8h16.3M647.2 589.8h24.6M673.7 589.8h18.8M694.2 589.8h7.6M694.2 594.6h7.6M109.3 599.4h106.4M239.4 599.4h69.3M614.2 599.4h31.3M647.2 599.4h24.6M673.7 599.4h18.8M694.2 599.4h7.6M694.2 604.2h7.6M694.2 609h7.6M109.3 613.8h106.4M309.7 613.8h76M647.2 613.8h24.6M109.3 676.2h106.4M309.7 676.2h76M647.2 681h24.6M673.7 690.7h18.8M694.2 690.7h7.6M451.7 695.5h56.5M694.2 695.5h7.6M216.7 700.3h22.7M216.7 705.1h22.7M694.2 705.1h7.6M694.2 709.9h7.6M109.3 714.7h106.4M309.7 714.7h76M647.2 719.5h24.6M694.2 719.5h7.6M694.2 724.3h7.6M109.3 729.1h106.4M309.7 729.1h76M694.2 729.1h7.6M694.2 738.7h7.6M694.2 748.3h7.6M694.2 753.1h7.6M694.2 757.9h7.6M109.3 762.7h106.4M216.7 762.7h22.7M694.2 762.7h7.6M451.7 767.5h56.5M563.2 767.5h49.3M694.2 767.5h7.6M694.2 777.1h7.6M694.2 786.7h7.6M694.2 791.5h7.6M694.2 801.1h7.6M216.7 806h92M386.7 806h63.9M563.2 806h49.3M614.2 806h31.3M647.2 806h24.6M216.7 825.2h22.7M239.4 834.8h69.3M309.7 834.8h76M386.7 834.8h63.9M451.7 834.8h56.5M510 834.8h51.8M563.2 834.8h49.3M614.2 834.8h31.3M647.2 834.8h24.6M673.7 834.8h18.8M109.3 839.6h106.4M216.7 839.6h92M309.7 839.6h76M614.2 839.6h31.3M647.2 839.6h24.6M673.7 839.6h18.8"/>
<path stroke="#302724" d="M510 388h51.8M510 392.8h51.8M451.7 460.1h56.5M563.2 460.1h49.3M451.7 469.7h56.5M451.7 479.3h56.5M563.2 479.3h49.3M451.7 498.5h56.5M216.7 503.3h22.7M694.2 536.9h7.6M694.2 551.3h7.6M673.7 609h18.8M451.7 642.6h56.5M451.7 652.2h56.5M109.3 681h106.4M309.7 681h76M673.7 681h18.8M386.7 695.5h63.9M510 695.5h51.8M563.2 695.5h49.3M386.7 719.5h63.9M451.7 719.5h56.5M563.2 719.5h49.3M673.7 719.5h18.8M694.2 733.9h7.6M673.7 767.5h18.8M451.7 806h56.5M510 806h51.8M451.7 839.6h56.5M563.2 839.6h49.3"/>
<path stroke="#78714a" d="M614.2 388h31.3M109.3 392.8h106.4M614.2 392.8h31.3M109.3 397.6h106.4M309.7 397.6h76M614.2 397.6h31.3M614.2 402.4h31.3M109.3 407.2h106.4M309.7 407.2h76M614.2 407.2h31.3M109.3 412h106.4M309.7 412h76M109.3 416.8h106.4M309.7 416.8h76M614.2 421.6h31.3M309.7 426.4h76M614.2 426.4h31.3M109.3 431.2h106.4M614.2 431.2h31.3M216.7 436h92M614.2 436h31.3M239.4 450.5h69.3M216.7 455.3h92M239.4 460.1h69.3M216.7 464.9h22.7M216.7 469.7h92M239.4 474.5h69.3M309.7 493.7h76M309.7 498.5h76M309.7 503.3h76M309.7 508.1h76M386.7 536.9h63.9M694.2 546.5h7.6M386.7 551.3h63.9M451.7 575.4h56.5M451.7 585h56.5M451.7 609h56.5M386.7 618.6h63.9M510 618.6h51.8M386.7 628.2h63.9M510 633h51.8M563.2 642.6h49.3M673.7 647.4h18.8M563.2 652.2h49.3M386.7 661.8h63.9M563.2 666.6h49.3M216.7 671.4h22.7M216.7 676.2h22.7M647.2 743.5h24.6M647.2 753.1h24.6M647.2 762.7h24.6M309.7 796.3h76M694.2 815.6h7.6"/>
<path stroke="#543454" d="M673.7 388h18.8M673.7 407.2h18.8M647.2 416.8h24.6M673.7 460.1h18.8M309.7 464.9h76M614.2 464.9h31.3M309.7 469.7h76M614.2 469.7h31.3M647.2 469.7h24.6M673.7 469.7h18.8M647.2 474.5h24.6M614.2 479.3h31.3M647.2 479.3h24.6M239.4 488.9h69.3M216.7 517.7h22.7M216.7 532.1h92M239.4 541.7h69.3M673.7 546.5h18.8M109.3 556.1h106.4M239.4 556.1h69.3M309.7 556.1h76M239.4 565.8h69.3M109.3 594.6h106.4M239.4 594.6h69.3M309.7 594.6h76M614.2 594.6h31.3M673.7 628.2h18.8M673.7 633h18.8M309.7 637.8h76M510 642.6h51.8M614.2 647.4h31.3M614.2 661.8h31.3M614.2 671.4h31.3M647.2 695.5h24.6M647.2 700.3h24.6M647.2 705.1h24.6M510 733.9h51.8M451.7 743.5h56.5M510 743.5h51.8M563.2 743.5h49.3M647.2 777.1h24.6M647.2 781.9h24.6M647.2 786.7h24.6M109.3 815.6h106.4M614.2 820.4h31.3M647.2 820.4h24.6M673.7 820.4h18.8"/>
<path stroke="#652a6f" d="M239.4 392.8h69.3M386.7 392.8h63.9M434.3 402.4h16.3M434.3 407.2h16.3M109.3 440.8h106.4M309.7 440.8h76M309.7 460.1h76M109.3 517.7h106.4M309.7 517.7h76M614.2 517.7h31.3M647.2 517.7h24.6M673.7 517.7h18.8M309.7 522.5h76M614.2 522.5h31.3M647.2 522.5h24.6M673.7 522.5h18.8M109.3 532.1h106.4M309.7 532.1h76M647.2 532.1h24.6M109.3 546.5h106.4M109.3 565.8h106.4M109.3 647.4h106.4M309.7 661.8h76M647.2 661.8h24.6"/>
<path stroke="#6f5c53" d="M309.7 392.8h76M647.2 392.8h24.6M647.2 397.6h24.6M309.7 402.4h76M647.2 402.4h24.6M647.2 407.2h24.6M614.2 412h31.3M647.2 412h24.6M614.2 416.8h31.3M647.2 421.6h24.6M647.2 426.4h24.6M309.7 436h76M647.2 436h24.6M673.7 436h18.8M216.7 440.8h22.7M239.4 440.8h69.3M673.7 440.8h18.8M647.2 450.5h24.6M673.7 450.5h18.8M239.4 479.3h69.3M309.7 488.9h76M614.2 488.9h31.3M647.2 488.9h24.6M109.3 493.7h106.4M614.2 493.7h31.3M647.2 493.7h24.6M673.7 493.7h18.8M614.2 498.5h31.3M647.2 498.5h24.6M109.3 503.3h106.4M614.2 503.3h31.3M647.2 503.3h24.6M109.3 508.1h106.4M614.2 508.1h31.3M451.7 517.7h56.5M451.7 522.5h56.5M510 522.5h51.8M451.7 532.1h56.5M563.2 541.7h49.3M510 551.3h51.8M563.2 551.3h49.3M563.2 556.1h49.3M563.2 560.9h49.3M510 575.4h51.8M510 580.2h51.8M510 589.8h51.8M563.2 589.8h49.3M216.7 594.6h22.7M451.7 594.6h56.5M510 594.6h51.8M563.2 594.6h49.3M216.7 599.4h22.7M386.7 599.4h47.6M451.7 599.4h56.5M510 599.4h51.8M563.2 599.4h49.3M451.7 604.2h56.5M510 604.2h51.8M563.2 604.2h49.3M510 609h51.8M563.2 609h49.3M614.2 618.6h31.3M386.7 623.4h63.9M451.7 623.4h56.5M614.2 623.4h31.3M451.7 628.2h56.5M614.2 628.2h31.3M510 637.8h51.8M673.7 652.2h18.8M510 671.4h51.8M673.7 671.4h18.8M673.7 676.2h18.8M239.4 685.9h69.3M239.4 695.5h69.3M109.3 700.3h106.4M239.4 700.3h69.3M309.7 700.3h76M109.3 705.1h106.4M239.4 705.1h69.3M309.7 705.1h76M109.3 743.5h106.4M216.7 743.5h92M309.7 743.5h76M614.2 743.5h31.3M386.7 748.3h63.9M451.7 748.3h56.5M510 748.3h51.8M563.2 748.3h49.3M614.2 748.3h31.3M647.2 748.3h24.6M614.2 753.1h31.3M109.3 757.9h106.4M239.4 757.9h69.3M309.7 757.9h76M614.2 757.9h31.3M309.7 767.5h76M647.2 767.5h24.6M239.4 772.3h69.3M563.2 777.1h49.3M309.7 781.9h76M309.7 786.7h76M563.2 786.7h49.3M614.2 786.7h31.3M309.7 791.5h76M563.2 796.3h49.3M614.2 796.3h31.3M309.7 801.1h76M386.7 815.6h63.9M451.7 815.6h56.5M563.2 815.6h49.3"/>
<path stroke="#321837" d="M451.7 392.8h56.5M563.2 392.8h49.3M563.2 397.6h49.3M673.7 397.6h18.8M239.4 416.8h69.3M563.2 416.8h49.3M510 421.6h51.8M563.2 421.6h49.3M239.4 426.4h69.3M434.3 426.4h16.3M563.2 426.4h49.3M673.7 426.4h18.8M563.2 431.2h49.3M216.7 445.7h22.7M109.3 469.7h106.4M309.7 474.5h76M109.3 479.3h106.4M309.7 479.3h76M216.7 488.9h22.7M510 493.7h51.8M563.2 493.7h49.3M239.4 498.5h69.3M563.2 503.3h49.3M386.7 508.1h63.9M673.7 532.1h18.8M109.3 536.9h106.4M309.7 536.9h76M614.2 536.9h31.3M673.7 556.1h18.8M109.3 589.8h106.4M239.4 589.8h69.3M647.2 594.6h24.6M109.3 637.8h106.4M614.2 642.6h31.3M647.2 642.6h24.6M647.2 647.4h24.6M109.3 652.2h106.4M614.2 652.2h31.3M647.2 652.2h24.6M109.3 657h106.4M647.2 657h24.6M614.2 666.6h31.3M647.2 666.6h24.6M109.3 671.4h106.4M309.7 671.4h76M647.2 671.4h24.6M614.2 676.2h31.3M647.2 685.9h24.6M673.7 685.9h18.8M216.7 709.9h22.7M647.2 709.9h24.6M239.4 714.7h69.3M386.7 743.5h63.9M673.7 825.2h18.8"/>
<path stroke="#120915" d="M694.2 392.8h7.6M673.7 402.4h18.8M694.2 402.4h7.6M216.7 407.2h22.7M510 407.2h51.8M216.7 426.4h22.7M309.7 445.7h76M451.7 445.7h56.5M647.2 445.7h24.6M451.7 455.3h56.5M563.2 455.3h49.3M451.7 464.9h56.5M563.2 464.9h49.3M451.7 474.5h56.5M510 474.5h51.8M563.2 474.5h49.3M563.2 498.5h49.3M451.7 503.3h56.5M510 503.3h51.8M694.2 503.3h7.6M451.7 508.1h56.5M563.2 508.1h49.3M673.7 508.1h18.8M239.4 527.3h69.3M309.7 527.3h76M614.2 527.3h31.3M647.2 527.3h24.6M694.2 527.3h7.6M109.3 551.3h106.4M614.2 551.3h31.3M109.3 560.9h106.4M109.3 570.6h106.4M239.4 570.6h69.3M309.7 570.6h76M434.3 570.6h16.3M614.2 570.6h31.3M647.2 570.6h24.6M109.3 575.4h106.4M239.4 575.4h69.3M309.7 575.4h76M614.2 575.4h31.3M239.4 580.2h69.3M309.7 580.2h76M614.2 580.2h31.3M647.2 580.2h24.6M216.7 585h22.7M434.3 599.4h16.3M614.2 681h31.3M694.2 681h7.6M386.7 690.7h63.9M451.7 690.7h56.5M510 690.7h51.8M563.2 690.7h49.3M216.7 695.5h22.7M563.2 709.9h49.3M647.2 714.7h24.6M673.7 714.7h18.8M510 719.5h51.8M647.2 724.3h24.6M673.7 724.3h18.8M216.7 729.1h22.7M386.7 729.1h63.9M451.7 729.1h56.5M510 729.1h51.8M563.2 729.1h49.3M647.2 729.1h24.6M673.7 729.1h18.8M216.7 757.9h22.7M510 757.9h51.8M563.2 757.9h49.3M673.7 757.9h18.8M386.7 762.7h63.9M563.2 762.7h49.3M109.3 806h106.4M309.7 806h76M673.7 806h18.8M386.7 830h63.9M109.3 834.8h106.4M216.7 834.8h22.7"/>
<path stroke="#65485d" d="M239.4 397.6h69.3M109.3 402.4h106.4M647.2 431.2h24.6M109.3 436h106.4M434.3 436h16.3M647.2 440.8h24.6M109.3 450.5h106.4M309.7 450.5h76M434.3 455.3h16.3M434.3 460.1h16.3M434.3 464.9h16.3M216.7 479.3h22.7M434.3 479.3h16.3M386.7 484.1h47.6M451.7 484.1h56.5M510 484.1h51.8M109.3 488.9h106.4M434.3 488.9h16.3M239.4 493.7h69.3M239.4 503.3h69.3M216.7 541.7h22.7M451.7 556.1h56.5M216.7 575.4h22.7M216.7 580.2h22.7M386.7 580.2h47.6M563.2 580.2h49.3M386.7 585h47.6M216.7 589.8h22.7M386.7 594.6h63.9M216.7 604.2h22.7M386.7 604.2h47.6M216.7 609h22.7M386.7 609h47.6M216.7 613.8h22.7M109.3 618.6h106.4M216.7 618.6h92M309.7 618.6h76M109.3 623.4h106.4M109.3 628.2h106.4M109.3 633h106.4M239.4 633h69.3M614.2 633h31.3M216.7 637.8h92M216.7 642.6h92M216.7 647.4h92M216.7 652.2h92M216.7 657h92M216.7 661.8h22.7M216.7 666.6h92M239.4 671.4h69.3M239.4 676.2h69.3M216.7 681h22.7M673.7 700.3h18.8M673.7 705.1h18.8M239.4 709.9h69.3M386.7 733.9h63.9M451.7 733.9h56.5M216.7 738.7h92M109.3 748.3h106.4M216.7 748.3h92M309.7 748.3h76M673.7 748.3h18.8M216.7 753.1h22.7M309.7 753.1h76M239.4 767.5h69.3M216.7 772.3h22.7M386.7 772.3h63.9M451.7 772.3h56.5M510 772.3h51.8M563.2 772.3h49.3M109.3 777.1h106.4M216.7 777.1h92M386.7 777.1h63.9M510 777.1h51.8M109.3 781.9h106.4M614.2 781.9h31.3M109.3 786.7h106.4M216.7 786.7h92M451.7 786.7h56.5M510 786.7h51.8M109.3 796.3h106.4M216.7 796.3h92M386.7 796.3h63.9M451.7 796.3h56.5M510 796.3h51.8M647.2 796.3h24.6M109.3 801.1h106.4M239.4 801.1h69.3M614.2 801.1h31.3M216.7 815.6h22.7M109.3 820.4h106.4M309.7 820.4h76"/>
<path stroke="#241128" d="M510 397.6h51.8M614.2 445.7h31.3"/>
<path stroke="#050206" d="M216.7 402.4h22.7M510 402.4h51.8M216.7 431.2h22.7M109.3 445.7h106.4M510 445.7h51.8M694.2 445.7h7.6M216.7 450.5h22.7M216.7 498.5h22.7M216.7 508.1h22.7M216.7 512.9h22.7M109.3 527.3h106.4M216.7 570.6h22.7M647.2 575.4h24.6M109.3 580.2h106.4M109.3 604.2h106.4M239.4 604.2h69.3M309.7 604.2h76M434.3 604.2h16.3M614.2 604.2h31.3M647.2 604.2h24.6M673.7 604.2h18.8M216.7 685.9h22.7M386.7 685.9h63.9M451.7 685.9h56.5M510 685.9h51.8M563.2 685.9h49.3M694.2 685.9h7.6M216.7 690.7h22.7M216.7 714.7h22.7M386.7 714.7h63.9M451.7 714.7h56.5M510 714.7h51.8M563.2 714.7h49.3M694.2 714.7h7.6M216.7 719.5h22.7M216.7 724.3h22.7M386.7 724.3h63.9M451.7 724.3h56.5M510 724.3h51.8M563.2 724.3h49.3M386.7 757.9h63.9M451.7 757.9h56.5M451.7 762.7h56.5M510 762.7h51.8M673.7 762.7h18.8M109.3 810.8h106.4M216.7 810.8h92M309.7 810.8h76M386.7 810.8h63.9M451.7 810.8h56.5M510 810.8h51.8M563.2 810.8h49.3M614.2 810.8h31.3M647.2 810.8h24.6M673.7 810.8h18.8M109.3 830h106.4M216.7 830h92M309.7 830h76M451.7 830h56.5M510 830h51.8M563.2 830h49.3M614.2 830h31.3M647.2 830h24.6M673.7 830h18.8"/>
<path stroke="#54255d" d="M386.7 407.2h47.6M563.2 407.2h49.3M109.3 455.3h106.4M309.7 455.3h76M239.4 517.7h69.3M109.3 522.5h106.4M614.2 532.1h31.3M109.3 541.7h106.4M309.7 541.7h76M614.2 541.7h31.3M647.2 541.7h24.6M647.2 546.5h24.6M647.2 556.1h24.6M647.2 565.8h24.6M309.7 647.4h76"/>
<path stroke="#9f984a" d="M109.3 421.6h106.4M309.7 421.6h76M109.3 426.4h106.4M216.7 460.1h22.7M239.4 464.9h69.3M647.2 508.1h24.6M673.7 512.9h18.8M386.7 522.5h47.6M386.7 532.1h63.9M386.7 541.7h47.6M386.7 546.5h63.9M386.7 556.1h63.9M386.7 560.9h63.9M451.7 565.8h56.5M451.7 580.2h56.5M451.7 589.8h56.5M510 623.4h51.8M510 628.2h51.8M673.7 642.6h18.8M563.2 647.4h49.3M563.2 657h49.3M563.2 661.8h49.3M563.2 671.4h49.3M614.2 695.5h31.3M614.2 700.3h31.3M614.2 709.9h31.3M614.2 729.1h31.3M647.2 757.9h24.6M673.7 772.3h18.8M673.7 786.7h18.8M673.7 801.1h18.8M694.2 810.8h7.6M694.2 820.4h7.6M694.2 825.2h7.6"/>
<path stroke="#534341" d="M386.7 440.8h47.6M434.3 440.8h16.3M510 440.8h51.8M673.7 455.3h18.8M673.7 484.1h18.8M563.2 517.7h49.3M563.2 522.5h49.3M563.2 536.9h49.3M451.7 546.5h56.5M563.2 546.5h49.3M510 556.1h51.8M216.7 565.8h22.7M386.7 565.8h63.9M563.2 613.8h49.3M673.7 613.8h18.8M563.2 618.6h49.3M673.7 618.6h18.8M563.2 623.4h49.3M563.2 628.2h49.3M563.2 633h49.3M451.7 637.8h56.5M694.2 637.8h7.6M694.2 642.6h7.6M510 647.4h51.8M694.2 647.4h7.6M694.2 652.2h7.6M673.7 657h18.8M694.2 657h7.6M694.2 661.8h7.6M510 666.6h51.8M694.2 666.6h7.6M694.2 671.4h7.6M673.7 695.5h18.8M386.7 705.1h63.9M451.7 705.1h56.5M563.2 705.1h49.3M216.7 733.9h92M614.2 738.7h31.3M673.7 738.7h18.8M673.7 743.5h18.8M451.7 753.1h56.5M563.2 753.1h49.3M109.3 772.3h106.4M614.2 772.3h31.3M647.2 772.3h24.6M614.2 777.1h31.3M451.7 820.4h56.5M563.2 820.4h49.3"/>
<path stroke="#413e24" d="M451.7 440.8h56.5M239.4 445.7h69.3M510 455.3h51.8M386.7 460.1h47.6M386.7 469.7h47.6M109.3 484.1h106.4M216.7 484.1h92M309.7 484.1h76M109.3 733.9h106.4M614.2 733.9h31.3M673.7 733.9h18.8M510 839.6h51.8"/>
<path stroke="#232015" d="M563.2 445.7h49.3M673.7 445.7h18.8M510 450.5h51.8M386.7 455.3h47.6M673.7 498.5h18.8"/>
<path stroke="#c5bf4b" d="M216.7 474.5h22.7M673.7 488.9h18.8M673.7 503.3h18.8M386.7 517.7h63.9M434.3 522.5h16.3M434.3 541.7h16.3M614.2 685.9h31.3M614.2 690.7h31.3M614.2 705.1h31.3M614.2 714.7h31.3M614.2 719.5h31.3M614.2 724.3h31.3M673.7 777.1h18.8M673.7 781.9h18.8M673.7 791.5h18.8M673.7 796.3h18.8"/>
<path stroke="#8c6f7f" d="M386.7 671.4h63.9M451.7 671.4h56.5"/>
<path stroke="#827064" d="M386.7 676.2h63.9M451.7 676.2h56.5"/>
<path stroke="#785c6e" d="M510 676.2h51.8"/>
<path stroke="#a99765" d="M563.2 676.2h49.3"/>
<path stroke="#ffff4e" d="M694.2 806h7.6"/>
</g>
<rect x="109.3" y="385.6" width="592.5" height="456.4" fill="url(#nzD)"/>
<path fill="url(#nzL)" fill-opacity="0.35" d="M386.7 385.6h47.6v4.9h-47.6zM434.3 385.6h16.3v4.9h-16.3zM510 385.6h51.8v4.9h-51.8zM647.2 385.6h24.6v4.9h-24.6zM673.7 385.6h18.8v4.9h-18.8zM510 390.4h51.8v4.9h-51.8zM673.7 390.4h18.8v4.9h-18.8zM239.4 404.8h69.3v4.9h-69.3zM451.7 404.8h56.5v4.9h-56.5zM673.7 404.8h18.8v4.9h-18.8zM386.7 409.6h63.9v4.9h-63.9zM451.7 409.6h56.5v4.9h-56.5zM694.2 409.6h7.6v4.9h-7.6zM647.2 414.4h24.6v4.9h-24.6zM673.7 419.2h18.8v4.9h-18.8zM510 424h51.8v4.9h-51.8zM510 428.8h51.8v4.9h-51.8zM673.7 428.8h18.8v4.9h-18.8zM563.2 433.6h49.3v4.9h-49.3zM694.2 433.6h7.6v4.9h-7.6zM614.2 438.4h31.3v4.9h-31.3zM563.2 443.2h49.3v4.9h-49.3zM673.7 443.2h18.8v4.9h-18.8zM434.3 448.1h16.3v4.9h-16.3zM510 448.1h51.8v4.9h-51.8zM614.2 448.1h31.3v4.9h-31.3zM386.7 452.9h47.6v4.9h-47.6zM614.2 452.9h31.3v4.9h-31.3zM647.2 452.9h24.6v4.9h-24.6zM694.2 452.9h7.6v4.9h-7.6zM451.7 457.7h56.5v4.9h-56.5zM563.2 457.7h49.3v4.9h-49.3zM614.2 457.7h31.3v4.9h-31.3zM647.2 457.7h24.6v4.9h-24.6zM673.7 457.7h18.8v4.9h-18.8zM309.7 462.5h76v4.9h-76zM614.2 462.5h31.3v4.9h-31.3zM647.2 462.5h24.6v4.9h-24.6zM309.7 467.3h76v4.9h-76zM451.7 467.3h56.5v4.9h-56.5zM614.2 467.3h31.3v4.9h-31.3zM647.2 467.3h24.6v4.9h-24.6zM673.7 467.3h18.8v4.9h-18.8zM694.2 467.3h7.6v4.9h-7.6zM647.2 472.1h24.6v4.9h-24.6zM386.7 476.9h47.6v4.9h-47.6zM451.7 476.9h56.5v4.9h-56.5zM563.2 476.9h49.3v4.9h-49.3zM614.2 476.9h31.3v4.9h-31.3zM647.2 476.9h24.6v4.9h-24.6zM673.7 476.9h18.8v4.9h-18.8zM434.3 481.7h16.3v4.9h-16.3zM563.2 481.7h49.3v4.9h-49.3zM694.2 481.7h7.6v4.9h-7.6zM239.4 486.5h69.3v4.9h-69.3zM386.7 486.5h47.6v4.9h-47.6zM451.7 486.5h56.5v4.9h-56.5zM510 486.5h51.8v4.9h-51.8zM563.2 486.5h49.3v4.9h-49.3zM109.3 496.1h106.4v4.9h-106.4zM386.7 496.1h63.9v4.9h-63.9zM451.7 496.1h56.5v4.9h-56.5zM510 496.1h51.8v4.9h-51.8zM673.7 496.1h18.8v4.9h-18.8zM216.7 500.9h22.7v4.9h-22.7zM239.4 505.7h69.3v4.9h-69.3zM614.2 510.5h31.3v4.9h-31.3zM647.2 510.5h24.6v4.9h-24.6zM216.7 515.3h22.7v4.9h-22.7zM694.2 515.3h7.6v4.9h-7.6zM451.7 524.9h56.5v4.9h-56.5zM510 524.9h51.8v4.9h-51.8zM563.2 524.9h49.3v4.9h-49.3zM216.7 529.7h92v4.9h-92zM451.7 534.5h56.5v4.9h-56.5zM694.2 534.5h7.6v4.9h-7.6zM239.4 539.3h69.3v4.9h-69.3zM216.7 544.1h22.7v4.9h-22.7zM239.4 544.1h69.3v4.9h-69.3zM309.7 544.1h76v4.9h-76zM614.2 544.1h31.3v4.9h-31.3zM673.7 544.1h18.8v4.9h-18.8zM451.7 548.9h56.5v4.9h-56.5zM694.2 548.9h7.6v4.9h-7.6zM109.3 553.7h106.4v4.9h-106.4zM239.4 553.7h69.3v4.9h-69.3zM309.7 553.7h76v4.9h-76zM614.2 553.7h31.3v4.9h-31.3zM451.7 558.5h56.5v4.9h-56.5zM239.4 563.3h69.3v4.9h-69.3zM309.7 563.3h76v4.9h-76zM614.2 563.3h31.3v4.9h-31.3zM673.7 563.3h18.8v4.9h-18.8zM694.2 563.3h7.6v4.9h-7.6zM510 568.2h51.8v4.9h-51.8zM563.2 568.2h49.3v4.9h-49.3zM386.7 573h47.6v4.9h-47.6zM563.2 573h49.3v4.9h-49.3zM673.7 577.8h18.8v4.9h-18.8zM510 582.6h51.8v4.9h-51.8zM563.2 582.6h49.3v4.9h-49.3zM309.7 587.4h76v4.9h-76zM386.7 587.4h47.6v4.9h-47.6zM614.2 587.4h31.3v4.9h-31.3zM109.3 592.2h106.4v4.9h-106.4zM239.4 592.2h69.3v4.9h-69.3zM309.7 592.2h76v4.9h-76zM614.2 592.2h31.3v4.9h-31.3zM673.7 592.2h18.8v4.9h-18.8zM309.7 597h76v4.9h-76zM109.3 606.6h106.4v4.9h-106.4zM239.4 606.6h69.3v4.9h-69.3zM309.7 606.6h76v4.9h-76zM434.3 606.6h16.3v4.9h-16.3zM614.2 606.6h31.3v4.9h-31.3zM647.2 606.6h24.6v4.9h-24.6zM673.7 606.6h18.8v4.9h-18.8zM239.4 611.4h69.3v4.9h-69.3zM614.2 611.4h31.3v4.9h-31.3zM647.2 616.2h24.6v4.9h-24.6zM216.7 621h92v4.9h-92zM309.7 621h76v4.9h-76zM647.2 621h24.6v4.9h-24.6zM673.7 621h18.8v4.9h-18.8zM216.7 625.8h92v4.9h-92zM309.7 625.8h76v4.9h-76zM647.2 625.8h24.6v4.9h-24.6zM673.7 625.8h18.8v4.9h-18.8zM216.7 630.6h22.7v4.9h-22.7zM309.7 630.6h76v4.9h-76zM647.2 630.6h24.6v4.9h-24.6zM673.7 630.6h18.8v4.9h-18.8zM309.7 635.4h76v4.9h-76zM614.2 635.4h31.3v4.9h-31.3zM647.2 635.4h24.6v4.9h-24.6zM673.7 635.4h18.8v4.9h-18.8zM451.7 640.2h56.5v4.9h-56.5zM510 640.2h51.8v4.9h-51.8zM614.2 645h31.3v4.9h-31.3zM451.7 649.8h56.5v4.9h-56.5zM109.3 659.4h106.4v4.9h-106.4zM239.4 659.4h69.3v4.9h-69.3zM614.2 659.4h31.3v4.9h-31.3zM614.2 669h31.3v4.9h-31.3zM647.2 673.8h24.6v4.9h-24.6zM694.2 673.8h7.6v4.9h-7.6zM109.3 678.6h106.4v4.9h-106.4zM239.4 678.6h69.3v4.9h-69.3zM309.7 678.6h76v4.9h-76zM386.7 678.6h63.9v4.9h-63.9zM451.7 678.6h56.5v4.9h-56.5zM510 678.6h51.8v4.9h-51.8zM563.2 678.6h49.3v4.9h-49.3zM673.7 678.6h18.8v4.9h-18.8zM109.3 683.4h106.4v4.9h-106.4zM309.7 683.4h76v4.9h-76zM109.3 688.3h106.4v4.9h-106.4zM239.4 688.3h69.3v4.9h-69.3zM309.7 688.3h76v4.9h-76zM647.2 688.3h24.6v4.9h-24.6zM109.3 693.1h106.4v4.9h-106.4zM309.7 693.1h76v4.9h-76zM386.7 693.1h63.9v4.9h-63.9zM510 693.1h51.8v4.9h-51.8zM563.2 693.1h49.3v4.9h-49.3zM647.2 693.1h24.6v4.9h-24.6zM386.7 697.9h63.9v4.9h-63.9zM451.7 697.9h56.5v4.9h-56.5zM510 697.9h51.8v4.9h-51.8zM563.2 697.9h49.3v4.9h-49.3zM647.2 697.9h24.6v4.9h-24.6zM694.2 697.9h7.6v4.9h-7.6zM510 702.7h51.8v4.9h-51.8zM647.2 702.7h24.6v4.9h-24.6zM109.3 707.5h106.4v4.9h-106.4zM309.7 707.5h76v4.9h-76zM386.7 707.5h63.9v4.9h-63.9zM451.7 707.5h56.5v4.9h-56.5zM510 707.5h51.8v4.9h-51.8zM673.7 707.5h18.8v4.9h-18.8zM109.3 717.1h106.4v4.9h-106.4zM239.4 717.1h69.3v4.9h-69.3zM309.7 717.1h76v4.9h-76zM386.7 717.1h63.9v4.9h-63.9zM451.7 717.1h56.5v4.9h-56.5zM563.2 717.1h49.3v4.9h-49.3zM673.7 717.1h18.8v4.9h-18.8zM109.3 721.9h106.4v4.9h-106.4zM239.4 721.9h69.3v4.9h-69.3zM309.7 721.9h76v4.9h-76zM239.4 726.7h69.3v4.9h-69.3zM510 731.5h51.8v4.9h-51.8zM563.2 731.5h49.3v4.9h-49.3zM694.2 731.5h7.6v4.9h-7.6zM109.3 736.3h106.4v4.9h-106.4zM309.7 736.3h76v4.9h-76zM386.7 736.3h63.9v4.9h-63.9zM451.7 736.3h56.5v4.9h-56.5zM510 736.3h51.8v4.9h-51.8zM563.2 736.3h49.3v4.9h-49.3zM451.7 741.1h56.5v4.9h-56.5zM510 741.1h51.8v4.9h-51.8zM563.2 741.1h49.3v4.9h-49.3zM694.2 741.1h7.6v4.9h-7.6zM109.3 750.7h106.4v4.9h-106.4zM239.4 750.7h69.3v4.9h-69.3zM386.7 750.7h63.9v4.9h-63.9zM510 750.7h51.8v4.9h-51.8zM673.7 750.7h18.8v4.9h-18.8zM239.4 760.3h69.3v4.9h-69.3zM309.7 760.3h76v4.9h-76zM614.2 760.3h31.3v4.9h-31.3zM109.3 765.1h106.4v4.9h-106.4zM216.7 765.1h22.7v4.9h-22.7zM386.7 765.1h63.9v4.9h-63.9zM510 765.1h51.8v4.9h-51.8zM614.2 765.1h31.3v4.9h-31.3zM673.7 765.1h18.8v4.9h-18.8zM694.2 769.9h7.6v4.9h-7.6zM451.7 774.7h56.5v4.9h-56.5zM647.2 774.7h24.6v4.9h-24.6zM216.7 779.5h92v4.9h-92zM386.7 779.5h63.9v4.9h-63.9zM451.7 779.5h56.5v4.9h-56.5zM510 779.5h51.8v4.9h-51.8zM563.2 779.5h49.3v4.9h-49.3zM647.2 779.5h24.6v4.9h-24.6zM694.2 779.5h7.6v4.9h-7.6zM386.7 784.3h63.9v4.9h-63.9zM647.2 784.3h24.6v4.9h-24.6zM109.3 789.1h106.4v4.9h-106.4zM216.7 789.1h92v4.9h-92zM386.7 789.1h63.9v4.9h-63.9zM451.7 789.1h56.5v4.9h-56.5zM510 789.1h51.8v4.9h-51.8zM563.2 789.1h49.3v4.9h-49.3zM614.2 789.1h31.3v4.9h-31.3zM647.2 789.1h24.6v4.9h-24.6zM694.2 793.9h7.6v4.9h-7.6zM216.7 798.7h22.7v4.9h-22.7zM386.7 798.7h63.9v4.9h-63.9zM451.7 798.7h56.5v4.9h-56.5zM510 798.7h51.8v4.9h-51.8zM563.2 798.7h49.3v4.9h-49.3zM647.2 798.7h24.6v4.9h-24.6zM451.7 803.5h56.5v4.9h-56.5zM510 803.5h51.8v4.9h-51.8zM109.3 813.2h106.4v4.9h-106.4zM239.4 813.2h69.3v4.9h-69.3zM309.7 813.2h76v4.9h-76zM614.2 813.2h31.3v4.9h-31.3zM647.2 813.2h24.6v4.9h-24.6zM673.7 813.2h18.8v4.9h-18.8zM216.7 818h22.7v4.9h-22.7zM239.4 818h69.3v4.9h-69.3zM614.2 818h31.3v4.9h-31.3zM647.2 818h24.6v4.9h-24.6zM673.7 818h18.8v4.9h-18.8zM109.3 822.8h106.4v4.9h-106.4zM239.4 822.8h69.3v4.9h-69.3zM309.7 822.8h76v4.9h-76zM386.7 822.8h63.9v4.9h-63.9zM451.7 822.8h56.5v4.9h-56.5zM510 822.8h51.8v4.9h-51.8zM563.2 822.8h49.3v4.9h-49.3zM614.2 822.8h31.3v4.9h-31.3zM647.2 822.8h24.6v4.9h-24.6zM451.7 837.2h56.5v4.9h-56.5zM563.2 837.2h49.3v4.9h-49.3z"/>
<path fill="url(#nzL)" fill-opacity="0.55" d="M109.3 385.6h106.4v4.9h-106.4zM309.7 385.6h76v4.9h-76zM614.2 385.6h31.3v4.9h-31.3zM109.3 390.4h106.4v4.9h-106.4zM309.7 390.4h76v4.9h-76zM614.2 390.4h31.3v4.9h-31.3zM647.2 390.4h24.6v4.9h-24.6zM109.3 395.2h106.4v4.9h-106.4zM239.4 395.2h69.3v4.9h-69.3zM309.7 395.2h76v4.9h-76zM614.2 395.2h31.3v4.9h-31.3zM647.2 395.2h24.6v4.9h-24.6zM109.3 400h106.4v4.9h-106.4zM309.7 400h76v4.9h-76zM614.2 400h31.3v4.9h-31.3zM647.2 400h24.6v4.9h-24.6zM109.3 404.8h106.4v4.9h-106.4zM309.7 404.8h76v4.9h-76zM614.2 404.8h31.3v4.9h-31.3zM647.2 404.8h24.6v4.9h-24.6zM109.3 409.6h106.4v4.9h-106.4zM309.7 409.6h76v4.9h-76zM510 409.6h51.8v4.9h-51.8zM614.2 409.6h31.3v4.9h-31.3zM647.2 409.6h24.6v4.9h-24.6zM109.3 414.4h106.4v4.9h-106.4zM309.7 414.4h76v4.9h-76zM510 414.4h51.8v4.9h-51.8zM614.2 414.4h31.3v4.9h-31.3zM109.3 419.2h106.4v4.9h-106.4zM309.7 419.2h76v4.9h-76zM614.2 419.2h31.3v4.9h-31.3zM647.2 419.2h24.6v4.9h-24.6zM109.3 424h106.4v4.9h-106.4zM309.7 424h76v4.9h-76zM614.2 424h31.3v4.9h-31.3zM647.2 424h24.6v4.9h-24.6zM109.3 428.8h106.4v4.9h-106.4zM309.7 428.8h76v4.9h-76zM614.2 428.8h31.3v4.9h-31.3zM647.2 428.8h24.6v4.9h-24.6zM109.3 433.6h106.4v4.9h-106.4zM216.7 433.6h92v4.9h-92zM309.7 433.6h76v4.9h-76zM434.3 433.6h16.3v4.9h-16.3zM510 433.6h51.8v4.9h-51.8zM614.2 433.6h31.3v4.9h-31.3zM647.2 433.6h24.6v4.9h-24.6zM673.7 433.6h18.8v4.9h-18.8zM216.7 438.4h22.7v4.9h-22.7zM239.4 438.4h69.3v4.9h-69.3zM386.7 438.4h47.6v4.9h-47.6zM434.3 438.4h16.3v4.9h-16.3zM451.7 438.4h56.5v4.9h-56.5zM510 438.4h51.8v4.9h-51.8zM563.2 438.4h49.3v4.9h-49.3zM647.2 438.4h24.6v4.9h-24.6zM673.7 438.4h18.8v4.9h-18.8zM239.4 443.2h69.3v4.9h-69.3zM109.3 448.1h106.4v4.9h-106.4zM239.4 448.1h69.3v4.9h-69.3zM309.7 448.1h76v4.9h-76zM647.2 448.1h24.6v4.9h-24.6zM673.7 448.1h18.8v4.9h-18.8zM216.7 452.9h92v4.9h-92zM434.3 452.9h16.3v4.9h-16.3zM510 452.9h51.8v4.9h-51.8zM673.7 452.9h18.8v4.9h-18.8zM216.7 457.7h22.7v4.9h-22.7zM239.4 457.7h69.3v4.9h-69.3zM386.7 457.7h47.6v4.9h-47.6zM434.3 457.7h16.3v4.9h-16.3zM510 457.7h51.8v4.9h-51.8zM216.7 462.5h22.7v4.9h-22.7zM239.4 462.5h69.3v4.9h-69.3zM434.3 462.5h16.3v4.9h-16.3zM510 462.5h51.8v4.9h-51.8zM216.7 467.3h92v4.9h-92zM386.7 467.3h47.6v4.9h-47.6zM434.3 467.3h16.3v4.9h-16.3zM510 467.3h51.8v4.9h-51.8zM563.2 467.3h49.3v4.9h-49.3zM216.7 472.1h22.7v4.9h-22.7zM239.4 472.1h69.3v4.9h-69.3zM216.7 476.9h22.7v4.9h-22.7zM239.4 476.9h69.3v4.9h-69.3zM434.3 476.9h16.3v4.9h-16.3zM510 476.9h51.8v4.9h-51.8zM109.3 481.7h106.4v4.9h-106.4zM216.7 481.7h92v4.9h-92zM309.7 481.7h76v4.9h-76zM386.7 481.7h47.6v4.9h-47.6zM451.7 481.7h56.5v4.9h-56.5zM510 481.7h51.8v4.9h-51.8zM614.2 481.7h31.3v4.9h-31.3zM647.2 481.7h24.6v4.9h-24.6zM673.7 481.7h18.8v4.9h-18.8zM109.3 486.5h106.4v4.9h-106.4zM309.7 486.5h76v4.9h-76zM434.3 486.5h16.3v4.9h-16.3zM614.2 486.5h31.3v4.9h-31.3zM647.2 486.5h24.6v4.9h-24.6zM673.7 486.5h18.8v4.9h-18.8zM109.3 491.3h106.4v4.9h-106.4zM239.4 491.3h69.3v4.9h-69.3zM309.7 491.3h76v4.9h-76zM614.2 491.3h31.3v4.9h-31.3zM647.2 491.3h24.6v4.9h-24.6zM673.7 491.3h18.8v4.9h-18.8zM309.7 496.1h76v4.9h-76zM614.2 496.1h31.3v4.9h-31.3zM647.2 496.1h24.6v4.9h-24.6zM109.3 500.9h106.4v4.9h-106.4zM239.4 500.9h69.3v4.9h-69.3zM309.7 500.9h76v4.9h-76zM614.2 500.9h31.3v4.9h-31.3zM647.2 500.9h24.6v4.9h-24.6zM673.7 500.9h18.8v4.9h-18.8zM109.3 505.7h106.4v4.9h-106.4zM309.7 505.7h76v4.9h-76zM614.2 505.7h31.3v4.9h-31.3zM647.2 505.7h24.6v4.9h-24.6zM309.7 510.5h76v4.9h-76zM673.7 510.5h18.8v4.9h-18.8zM386.7 515.3h63.9v4.9h-63.9zM451.7 515.3h56.5v4.9h-56.5zM510 515.3h51.8v4.9h-51.8zM563.2 515.3h49.3v4.9h-49.3zM386.7 520.1h47.6v4.9h-47.6zM434.3 520.1h16.3v4.9h-16.3zM451.7 520.1h56.5v4.9h-56.5zM510 520.1h51.8v4.9h-51.8zM563.2 520.1h49.3v4.9h-49.3zM386.7 524.9h63.9v4.9h-63.9zM386.7 529.7h63.9v4.9h-63.9zM451.7 529.7h56.5v4.9h-56.5zM510 529.7h51.8v4.9h-51.8zM563.2 529.7h49.3v4.9h-49.3zM694.2 529.7h7.6v4.9h-7.6zM386.7 534.5h63.9v4.9h-63.9zM510 534.5h51.8v4.9h-51.8zM563.2 534.5h49.3v4.9h-49.3zM216.7 539.3h22.7v4.9h-22.7zM386.7 539.3h47.6v4.9h-47.6zM434.3 539.3h16.3v4.9h-16.3zM451.7 539.3h56.5v4.9h-56.5zM510 539.3h51.8v4.9h-51.8zM563.2 539.3h49.3v4.9h-49.3zM694.2 539.3h7.6v4.9h-7.6zM386.7 544.1h63.9v4.9h-63.9zM451.7 544.1h56.5v4.9h-56.5zM510 544.1h51.8v4.9h-51.8zM563.2 544.1h49.3v4.9h-49.3zM694.2 544.1h7.6v4.9h-7.6zM386.7 548.9h63.9v4.9h-63.9zM510 548.9h51.8v4.9h-51.8zM563.2 548.9h49.3v4.9h-49.3zM386.7 553.7h63.9v4.9h-63.9zM451.7 553.7h56.5v4.9h-56.5zM510 553.7h51.8v4.9h-51.8zM563.2 553.7h49.3v4.9h-49.3zM694.2 553.7h7.6v4.9h-7.6zM386.7 558.5h63.9v4.9h-63.9zM510 558.5h51.8v4.9h-51.8zM563.2 558.5h49.3v4.9h-49.3zM216.7 563.3h22.7v4.9h-22.7zM386.7 563.3h63.9v4.9h-63.9zM451.7 563.3h56.5v4.9h-56.5zM510 563.3h51.8v4.9h-51.8zM563.2 563.3h49.3v4.9h-49.3zM451.7 568.2h56.5v4.9h-56.5zM216.7 573h22.7v4.9h-22.7zM451.7 573h56.5v4.9h-56.5zM510 573h51.8v4.9h-51.8zM216.7 577.8h22.7v4.9h-22.7zM386.7 577.8h47.6v4.9h-47.6zM451.7 577.8h56.5v4.9h-56.5zM510 577.8h51.8v4.9h-51.8zM563.2 577.8h49.3v4.9h-49.3zM386.7 582.6h47.6v4.9h-47.6zM451.7 582.6h56.5v4.9h-56.5zM216.7 587.4h22.7v4.9h-22.7zM451.7 587.4h56.5v4.9h-56.5zM510 587.4h51.8v4.9h-51.8zM563.2 587.4h49.3v4.9h-49.3zM216.7 592.2h22.7v4.9h-22.7zM386.7 592.2h63.9v4.9h-63.9zM451.7 592.2h56.5v4.9h-56.5zM510 592.2h51.8v4.9h-51.8zM563.2 592.2h49.3v4.9h-49.3zM216.7 597h22.7v4.9h-22.7zM386.7 597h47.6v4.9h-47.6zM451.7 597h56.5v4.9h-56.5zM510 597h51.8v4.9h-51.8zM563.2 597h49.3v4.9h-49.3zM216.7 601.8h22.7v4.9h-22.7zM386.7 601.8h47.6v4.9h-47.6zM451.7 601.8h56.5v4.9h-56.5zM510 601.8h51.8v4.9h-51.8zM563.2 601.8h49.3v4.9h-49.3zM216.7 606.6h22.7v4.9h-22.7zM386.7 606.6h47.6v4.9h-47.6zM451.7 606.6h56.5v4.9h-56.5zM510 606.6h51.8v4.9h-51.8zM563.2 606.6h49.3v4.9h-49.3zM216.7 611.4h22.7v4.9h-22.7zM386.7 611.4h63.9v4.9h-63.9zM451.7 611.4h56.5v4.9h-56.5zM510 611.4h51.8v4.9h-51.8zM563.2 611.4h49.3v4.9h-49.3zM673.7 611.4h18.8v4.9h-18.8zM694.2 611.4h7.6v4.9h-7.6zM109.3 616.2h106.4v4.9h-106.4zM216.7 616.2h92v4.9h-92zM309.7 616.2h76v4.9h-76zM386.7 616.2h63.9v4.9h-63.9zM451.7 616.2h56.5v4.9h-56.5zM510 616.2h51.8v4.9h-51.8zM563.2 616.2h49.3v4.9h-49.3zM614.2 616.2h31.3v4.9h-31.3zM673.7 616.2h18.8v4.9h-18.8zM694.2 616.2h7.6v4.9h-7.6zM109.3 621h106.4v4.9h-106.4zM386.7 621h63.9v4.9h-63.9zM451.7 621h56.5v4.9h-56.5zM510 621h51.8v4.9h-51.8zM563.2 621h49.3v4.9h-49.3zM614.2 621h31.3v4.9h-31.3zM694.2 621h7.6v4.9h-7.6zM109.3 625.8h106.4v4.9h-106.4zM386.7 625.8h63.9v4.9h-63.9zM451.7 625.8h56.5v4.9h-56.5zM510 625.8h51.8v4.9h-51.8zM563.2 625.8h49.3v4.9h-49.3zM614.2 625.8h31.3v4.9h-31.3zM694.2 625.8h7.6v4.9h-7.6zM109.3 630.6h106.4v4.9h-106.4zM239.4 630.6h69.3v4.9h-69.3zM386.7 630.6h63.9v4.9h-63.9zM451.7 630.6h56.5v4.9h-56.5zM510 630.6h51.8v4.9h-51.8zM563.2 630.6h49.3v4.9h-49.3zM614.2 630.6h31.3v4.9h-31.3zM694.2 630.6h7.6v4.9h-7.6zM216.7 635.4h92v4.9h-92zM386.7 635.4h63.9v4.9h-63.9zM451.7 635.4h56.5v4.9h-56.5zM510 635.4h51.8v4.9h-51.8zM563.2 635.4h49.3v4.9h-49.3zM694.2 635.4h7.6v4.9h-7.6zM216.7 640.2h92v4.9h-92zM386.7 640.2h63.9v4.9h-63.9zM563.2 640.2h49.3v4.9h-49.3zM673.7 640.2h18.8v4.9h-18.8zM694.2 640.2h7.6v4.9h-7.6zM216.7 645h92v4.9h-92zM386.7 645h63.9v4.9h-63.9zM451.7 645h56.5v4.9h-56.5zM510 645h51.8v4.9h-51.8zM563.2 645h49.3v4.9h-49.3zM673.7 645h18.8v4.9h-18.8zM694.2 645h7.6v4.9h-7.6zM216.7 649.8h92v4.9h-92zM386.7 649.8h63.9v4.9h-63.9zM510 649.8h51.8v4.9h-51.8zM563.2 649.8h49.3v4.9h-49.3zM673.7 649.8h18.8v4.9h-18.8zM694.2 649.8h7.6v4.9h-7.6zM216.7 654.6h92v4.9h-92zM386.7 654.6h63.9v4.9h-63.9zM451.7 654.6h56.5v4.9h-56.5zM510 654.6h51.8v4.9h-51.8zM563.2 654.6h49.3v4.9h-49.3zM673.7 654.6h18.8v4.9h-18.8zM694.2 654.6h7.6v4.9h-7.6zM216.7 659.4h22.7v4.9h-22.7zM386.7 659.4h63.9v4.9h-63.9zM451.7 659.4h56.5v4.9h-56.5zM510 659.4h51.8v4.9h-51.8zM563.2 659.4h49.3v4.9h-49.3zM673.7 659.4h18.8v4.9h-18.8zM694.2 659.4h7.6v4.9h-7.6zM216.7 664.2h92v4.9h-92zM386.7 664.2h63.9v4.9h-63.9zM451.7 664.2h56.5v4.9h-56.5zM510 664.2h51.8v4.9h-51.8zM563.2 664.2h49.3v4.9h-49.3zM673.7 664.2h18.8v4.9h-18.8zM694.2 664.2h7.6v4.9h-7.6zM216.7 669h22.7v4.9h-22.7zM239.4 669h69.3v4.9h-69.3zM386.7 669h63.9v4.9h-63.9zM451.7 669h56.5v4.9h-56.5zM510 669h51.8v4.9h-51.8zM563.2 669h49.3v4.9h-49.3zM673.7 669h18.8v4.9h-18.8zM694.2 669h7.6v4.9h-7.6zM216.7 673.8h22.7v4.9h-22.7zM239.4 673.8h69.3v4.9h-69.3zM386.7 673.8h63.9v4.9h-63.9zM451.7 673.8h56.5v4.9h-56.5zM510 673.8h51.8v4.9h-51.8zM563.2 673.8h49.3v4.9h-49.3zM673.7 673.8h18.8v4.9h-18.8zM216.7 678.6h22.7v4.9h-22.7zM239.4 683.4h69.3v4.9h-69.3zM614.2 683.4h31.3v4.9h-31.3zM614.2 688.3h31.3v4.9h-31.3zM239.4 693.1h69.3v4.9h-69.3zM614.2 693.1h31.3v4.9h-31.3zM673.7 693.1h18.8v4.9h-18.8zM109.3 697.9h106.4v4.9h-106.4zM239.4 697.9h69.3v4.9h-69.3zM309.7 697.9h76v4.9h-76zM614.2 697.9h31.3v4.9h-31.3zM673.7 697.9h18.8v4.9h-18.8zM109.3 702.7h106.4v4.9h-106.4zM239.4 702.7h69.3v4.9h-69.3zM309.7 702.7h76v4.9h-76zM386.7 702.7h63.9v4.9h-63.9zM451.7 702.7h56.5v4.9h-56.5zM563.2 702.7h49.3v4.9h-49.3zM614.2 702.7h31.3v4.9h-31.3zM673.7 702.7h18.8v4.9h-18.8zM239.4 707.5h69.3v4.9h-69.3zM614.2 707.5h31.3v4.9h-31.3zM614.2 712.3h31.3v4.9h-31.3zM614.2 717.1h31.3v4.9h-31.3zM614.2 721.9h31.3v4.9h-31.3zM614.2 726.7h31.3v4.9h-31.3zM109.3 731.5h106.4v4.9h-106.4zM216.7 731.5h92v4.9h-92zM309.7 731.5h76v4.9h-76zM386.7 731.5h63.9v4.9h-63.9zM451.7 731.5h56.5v4.9h-56.5zM614.2 731.5h31.3v4.9h-31.3zM647.2 731.5h24.6v4.9h-24.6zM673.7 731.5h18.8v4.9h-18.8zM216.7 736.3h92v4.9h-92zM614.2 736.3h31.3v4.9h-31.3zM647.2 736.3h24.6v4.9h-24.6zM673.7 736.3h18.8v4.9h-18.8zM109.3 741.1h106.4v4.9h-106.4zM216.7 741.1h92v4.9h-92zM309.7 741.1h76v4.9h-76zM614.2 741.1h31.3v4.9h-31.3zM647.2 741.1h24.6v4.9h-24.6zM673.7 741.1h18.8v4.9h-18.8zM109.3 745.9h106.4v4.9h-106.4zM216.7 745.9h92v4.9h-92zM309.7 745.9h76v4.9h-76zM386.7 745.9h63.9v4.9h-63.9zM451.7 745.9h56.5v4.9h-56.5zM510 745.9h51.8v4.9h-51.8zM563.2 745.9h49.3v4.9h-49.3zM614.2 745.9h31.3v4.9h-31.3zM647.2 745.9h24.6v4.9h-24.6zM673.7 745.9h18.8v4.9h-18.8zM216.7 750.7h22.7v4.9h-22.7zM309.7 750.7h76v4.9h-76zM451.7 750.7h56.5v4.9h-56.5zM563.2 750.7h49.3v4.9h-49.3zM614.2 750.7h31.3v4.9h-31.3zM647.2 750.7h24.6v4.9h-24.6zM109.3 755.5h106.4v4.9h-106.4zM239.4 755.5h69.3v4.9h-69.3zM309.7 755.5h76v4.9h-76zM614.2 755.5h31.3v4.9h-31.3zM647.2 755.5h24.6v4.9h-24.6zM647.2 760.3h24.6v4.9h-24.6zM239.4 765.1h69.3v4.9h-69.3zM309.7 765.1h76v4.9h-76zM647.2 765.1h24.6v4.9h-24.6zM109.3 769.9h106.4v4.9h-106.4zM216.7 769.9h22.7v4.9h-22.7zM239.4 769.9h69.3v4.9h-69.3zM309.7 769.9h76v4.9h-76zM386.7 769.9h63.9v4.9h-63.9zM451.7 769.9h56.5v4.9h-56.5zM510 769.9h51.8v4.9h-51.8zM563.2 769.9h49.3v4.9h-49.3zM614.2 769.9h31.3v4.9h-31.3zM647.2 769.9h24.6v4.9h-24.6zM673.7 769.9h18.8v4.9h-18.8zM109.3 774.7h106.4v4.9h-106.4zM216.7 774.7h92v4.9h-92zM309.7 774.7h76v4.9h-76zM386.7 774.7h63.9v4.9h-63.9zM510 774.7h51.8v4.9h-51.8zM563.2 774.7h49.3v4.9h-49.3zM614.2 774.7h31.3v4.9h-31.3zM673.7 774.7h18.8v4.9h-18.8zM109.3 779.5h106.4v4.9h-106.4zM309.7 779.5h76v4.9h-76zM614.2 779.5h31.3v4.9h-31.3zM673.7 779.5h18.8v4.9h-18.8zM109.3 784.3h106.4v4.9h-106.4zM216.7 784.3h92v4.9h-92zM309.7 784.3h76v4.9h-76zM451.7 784.3h56.5v4.9h-56.5zM510 784.3h51.8v4.9h-51.8zM563.2 784.3h49.3v4.9h-49.3zM614.2 784.3h31.3v4.9h-31.3zM673.7 784.3h18.8v4.9h-18.8zM309.7 789.1h76v4.9h-76zM673.7 789.1h18.8v4.9h-18.8zM109.3 793.9h106.4v4.9h-106.4zM216.7 793.9h92v4.9h-92zM309.7 793.9h76v4.9h-76zM386.7 793.9h63.9v4.9h-63.9zM451.7 793.9h56.5v4.9h-56.5zM510 793.9h51.8v4.9h-51.8zM563.2 793.9h49.3v4.9h-49.3zM614.2 793.9h31.3v4.9h-31.3zM647.2 793.9h24.6v4.9h-24.6zM673.7 793.9h18.8v4.9h-18.8zM109.3 798.7h106.4v4.9h-106.4zM239.4 798.7h69.3v4.9h-69.3zM309.7 798.7h76v4.9h-76zM614.2 798.7h31.3v4.9h-31.3zM673.7 798.7h18.8v4.9h-18.8zM694.2 803.5h7.6v4.9h-7.6zM694.2 808.4h7.6v4.9h-7.6zM216.7 813.2h22.7v4.9h-22.7zM386.7 813.2h63.9v4.9h-63.9zM451.7 813.2h56.5v4.9h-56.5zM510 813.2h51.8v4.9h-51.8zM563.2 813.2h49.3v4.9h-49.3zM694.2 813.2h7.6v4.9h-7.6zM109.3 818h106.4v4.9h-106.4zM309.7 818h76v4.9h-76zM386.7 818h63.9v4.9h-63.9zM451.7 818h56.5v4.9h-56.5zM510 818h51.8v4.9h-51.8zM563.2 818h49.3v4.9h-49.3zM694.2 818h7.6v4.9h-7.6zM694.2 822.8h7.6v4.9h-7.6zM694.2 827.6h7.6v4.9h-7.6zM694.2 832.4h7.6v4.9h-7.6zM386.7 837.2h63.9v4.9h-63.9zM510 837.2h51.8v4.9h-51.8zM694.2 837.2h7.6v4.9h-7.6z"/>
<path d="M216.2 385.1v457.4M309.2 385.1v457.4M386.2 385.1v457.4M451.1 385.1v457.4M509.1 385.1v457.4M562.5 385.1v457.4M613.4 385.1v457.4M646.4 385.1v457.4M672.8 385.1v457.4M693.4 385.1v457.4" stroke="#fff" stroke-width="1.2"/>
<defs><filter id="grain" x="0" y="0" width="100%" height="100%"><feTurbulence type="fractalNoise" baseFrequency="0.95" numOctaves="1" seed="2" result="n"/><feColorMatrix in="n" type="matrix" values="0 0 0 0 0  0 0 0 0 0  0 0 0 0 0  1 0 0 0 0" result="a"/><feComposite in="a" in2="SourceGraphic" operator="arithmetic" k1="0" k2="6" k3="5" k4="-5.5"/></filter>
<linearGradient id="dG1" gradientUnits="userSpaceOnUse" x1="0" y1="700" x2="0" y2="850"><stop offset="0.000" stop-color="#000" stop-opacity="0.30"/><stop offset="0.042" stop-color="#000" stop-opacity="0.31"/><stop offset="0.083" stop-color="#000" stop-opacity="0.32"/><stop offset="0.125" stop-color="#000" stop-opacity="0.32"/><stop offset="0.167" stop-color="#000" stop-opacity="0.35"/><stop offset="0.208" stop-color="#000" stop-opacity="0.39"/><stop offset="0.250" stop-color="#000" stop-opacity="0.41"/><stop offset="0.292" stop-color="#000" stop-opacity="0.42"/><stop offset="0.333" stop-color="#000" stop-opacity="0.44"/><stop offset="0.375" stop-color="#000" stop-opacity="0.47"/><stop offset="0.417" stop-color="#000" stop-opacity="0.51"/><stop offset="0.458" stop-color="#000" stop-opacity="0.55"/><stop offset="0.500" stop-color="#000" stop-opacity="0.64"/><stop offset="0.542" stop-color="#000" stop-opacity="0.65"/><stop offset="0.583" stop-color="#000" stop-opacity="0.65"/><stop offset="0.625" stop-color="#000" stop-opacity="0.65"/><stop offset="0.667" stop-color="#000" stop-opacity="0.65"/><stop offset="0.708" stop-color="#000" stop-opacity="0.65"/><stop offset="0.750" stop-color="#000" stop-opacity="0.65"/><stop offset="0.792" stop-color="#000" stop-opacity="0.59"/><stop offset="0.833" stop-color="#000" stop-opacity="0.51"/><stop offset="0.875" stop-color="#000" stop-opacity="0.43"/><stop offset="0.917" stop-color="#000" stop-opacity="0.38"/><stop offset="0.958" stop-color="#000" stop-opacity="0.33"/><stop offset="1.000" stop-color="#000" stop-opacity="0.30"/></linearGradient><linearGradient id="dG2" gradientUnits="userSpaceOnUse" x1="0" y1="660" x2="0" y2="853"><stop offset="0.000" stop-color="#000" stop-opacity="0.31"/><stop offset="0.042" stop-color="#000" stop-opacity="0.31"/><stop offset="0.083" stop-color="#000" stop-opacity="0.32"/><stop offset="0.125" stop-color="#000" stop-opacity="0.32"/><stop offset="0.167" stop-color="#000" stop-opacity="0.33"/><stop offset="0.208" stop-color="#000" stop-opacity="0.35"/><stop offset="0.250" stop-color="#000" stop-opacity="0.38"/><stop offset="0.292" stop-color="#000" stop-opacity="0.42"/><stop offset="0.333" stop-color="#000" stop-opacity="0.47"/><stop offset="0.375" stop-color="#000" stop-opacity="0.52"/><stop offset="0.417" stop-color="#000" stop-opacity="0.58"/><stop offset="0.458" stop-color="#000" stop-opacity="0.65"/><stop offset="0.500" stop-color="#000" stop-opacity="0.65"/><stop offset="0.542" stop-color="#000" stop-opacity="0.65"/><stop offset="0.583" stop-color="#000" stop-opacity="0.65"/><stop offset="0.625" stop-color="#000" stop-opacity="0.65"/><stop offset="0.667" stop-color="#000" stop-opacity="0.65"/><stop offset="0.708" stop-color="#000" stop-opacity="0.65"/><stop offset="0.750" stop-color="#000" stop-opacity="0.58"/><stop offset="0.792" stop-color="#000" stop-opacity="0.50"/><stop offset="0.833" stop-color="#000" stop-opacity="0.42"/><stop offset="0.875" stop-color="#000" stop-opacity="0.36"/><stop offset="0.917" stop-color="#000" stop-opacity="0.34"/><stop offset="0.958" stop-color="#000" stop-opacity="0.32"/><stop offset="1.000" stop-color="#000" stop-opacity="0.30"/></linearGradient></defs>
<path d="M880.8 692.5L881.1 692.5L881.1 693.7L881.1 694.9L881.1 696.1L881.2 697.3L881.2 698.5L881.2 699.7L881.2 700.9L881.3 702.1L881.3 703.3L881.3 704.5L881.3 705.7L881.4 706.9L881.4 708.1L881.4 709.3L881.4 710.5L881.5 711.7L881.5 712.9L881.5 714.1L881.5 715.3L881.6 716.5L881.6 717.7L881.6 718.9L881.6 720.1L881.7 721.3L881.8 722.5L881.9 723.7L882.1 724.9L882.3 726.1L882.4 727.3L882.6 728.5L882.8 729.7L882.9 730.9L883.0 732.1L883.2 733.3L883.3 734.5L883.4 735.7L883.5 736.9L883.6 738.1L883.8 739.3L884.0 740.5L884.2 741.7L884.4 742.9L884.6 744.1L884.7 745.3L884.9 746.5L885.1 747.7L885.2 748.9L885.4 750.1L885.6 751.3L885.8 752.5L886.2 753.7L886.5 754.9L886.9 756.1L887.2 757.3L887.5 758.5L887.8 759.7L888.2 760.9L888.7 762.1L889.4 763.3L890.1 764.5L890.8 765.7L891.4 766.9L892.0 768.1L892.9 769.3L894.1 770.5L895.4 771.7L896.9 772.9L898.1 774.1L899.3 775.3L900.4 776.5L901.6 777.7L903.2 778.9L904.9 780.1L906.7 781.3L908.2 782.5L909.4 783.7L910.4 784.9L911.5 786.1L912.6 787.3L913.6 788.5L914.5 789.7L915.1 790.9L915.7 792.1L916.4 793.3L916.9 794.5L917.3 795.7L917.3 796.9L917.2 798.1L916.9 799.3L916.6 800.5L916.1 801.7L915.2 802.9L913.8 804.1L912.1 805.3L910.5 806.5L909.1 807.7L907.8 808.9L906.3 810.1L904.6 811.3L902.8 812.5L901.3 813.7L899.9 814.9L898.7 816.1L897.2 817.3L895.6 818.5L894.2 819.7L893.0 820.9L891.9 822.1L890.8 823.3L889.5 824.5L888.3 825.7L887.4 826.9L886.6 828.1L886.1 829.3L885.4 830.5L884.8 831.7L884.3 832.9L883.8 834.1L883.5 835.3L883.2 836.5L882.9 837.7L882.6 838.9L882.3 840.1L882.2 841.3L882.0 842.5L881.8 843.7L881.7 844.9L881.5 846.1L881.3 847.3L881.2 848.5L881.1 849.3L880.5 849.3L880.4 848.5L880.3 847.3L880.1 846.1L879.9 844.9L879.8 843.7L879.6 842.5L879.4 841.3L879.3 840.1L879.0 838.9L878.7 837.7L878.4 836.5L878.1 835.3L877.8 834.1L877.3 832.9L876.8 831.7L876.2 830.5L875.5 829.3L875.0 828.1L874.2 826.9L873.3 825.7L872.1 824.5L870.8 823.3L869.7 822.1L868.6 820.9L867.4 819.7L866.0 818.5L864.4 817.3L862.9 816.1L861.7 814.9L860.3 813.7L858.8 812.5L857.0 811.3L855.3 810.1L853.8 808.9L852.5 807.7L851.1 806.5L849.5 805.3L847.8 804.1L846.4 802.9L845.5 801.7L845.0 800.5L844.7 799.3L844.4 798.1L844.3 796.9L844.3 795.7L844.7 794.5L845.2 793.3L845.9 792.1L846.5 790.9L847.1 789.7L848.0 788.5L849.0 787.3L850.1 786.1L851.2 784.9L852.2 783.7L853.4 782.5L854.9 781.3L856.7 780.1L858.4 778.9L860.0 777.7L861.2 776.5L862.3 775.3L863.5 774.1L864.7 772.9L866.2 771.7L867.5 770.5L868.7 769.3L869.6 768.1L870.2 766.9L870.8 765.7L871.5 764.5L872.2 763.3L872.9 762.1L873.4 760.9L873.8 759.7L874.1 758.5L874.4 757.3L874.7 756.1L875.1 754.9L875.4 753.7L875.8 752.5L876.0 751.3L876.2 750.1L876.4 748.9L876.5 747.7L876.7 746.5L876.9 745.3L877.0 744.1L877.2 742.9L877.4 741.7L877.6 740.5L877.8 739.3L878.0 738.1L878.1 736.9L878.2 735.7L878.3 734.5L878.4 733.3L878.6 732.1L878.7 730.9L878.8 729.7L879.0 728.5L879.2 727.3L879.3 726.1L879.5 724.9L879.7 723.7L879.8 722.5L879.9 721.3L880.0 720.1L880.0 718.9L880.0 717.7L880.0 716.5L880.1 715.3L880.1 714.1L880.1 712.9L880.1 711.7L880.2 710.5L880.2 709.3L880.2 708.1L880.2 706.9L880.3 705.7L880.3 704.5L880.3 703.3L880.3 702.1L880.4 700.9L880.4 699.7L880.4 698.5L880.4 697.3L880.5 696.1L880.5 694.9L880.5 693.7L880.5 692.5Z" fill="#F3938A" stroke="#3a3a3a" stroke-width="0.8" stroke-linejoin="round"/>
<path d="M960.8 646.3L961.1 646.3L961.1 647.5L961.1 648.7L961.1 649.9L961.1 651.1L961.1 652.3L961.2 653.5L961.2 654.7L961.2 655.9L961.2 657.1L961.2 658.3L961.2 659.5L961.2 660.7L961.3 661.9L961.3 663.1L961.3 664.3L961.3 665.5L961.3 666.7L961.3 667.9L961.4 669.1L961.4 670.3L961.4 671.5L961.4 672.7L961.4 673.9L961.4 675.1L961.5 676.3L961.5 677.5L961.5 678.7L961.5 679.9L961.5 681.1L961.5 682.3L961.5 683.5L961.6 684.7L961.6 685.9L961.6 687.1L961.6 688.3L961.6 689.5L961.6 690.7L961.7 691.9L961.7 693.1L961.8 694.3L961.8 695.5L961.9 696.7L962.0 697.9L962.0 699.1L962.1 700.3L962.2 701.5L962.2 702.7L962.3 703.9L962.3 705.1L962.5 706.3L962.6 707.5L962.8 708.7L963.0 709.9L963.2 711.1L963.4 712.3L963.6 713.5L963.8 714.7L964.0 715.9L964.3 717.1L964.7 718.3L965.1 719.5L965.6 720.7L966.0 721.9L966.3 723.1L966.7 724.3L967.0 725.5L967.3 726.7L967.8 727.9L968.4 729.1L968.9 730.3L969.5 731.5L970.0 732.7L970.5 733.9L970.9 735.1L971.5 736.3L972.3 737.5L973.2 738.7L974.2 739.9L975.2 741.1L976.2 742.3L977.0 743.5L977.7 744.7L978.5 745.9L979.5 747.1L980.8 748.3L982.2 749.5L983.6 750.7L985.0 751.9L986.2 753.1L987.3 754.3L988.1 755.5L989.1 756.7L990.2 757.9L991.4 759.1L992.5 760.3L993.4 761.5L994.1 762.7L994.7 763.9L995.4 765.1L996.0 766.3L996.5 767.5L996.9 768.7L997.1 769.9L997.4 771.1L997.5 772.3L997.5 773.5L997.3 774.7L996.9 775.9L996.6 777.1L996.2 778.3L995.9 779.5L995.5 780.7L994.9 781.9L994.2 783.1L993.6 784.3L992.9 785.5L992.2 786.7L991.3 787.9L990.2 789.1L989.1 790.3L988.1 791.5L987.2 792.7L986.0 793.9L984.7 795.1L983.4 796.3L982.2 797.5L981.2 798.7L980.1 799.9L978.8 801.1L977.4 802.3L976.1 803.5L975.1 804.7L974.2 805.9L973.1 807.1L972.0 808.3L970.8 809.5L969.8 810.7L969.0 811.9L968.3 813.1L967.6 814.3L966.9 815.5L966.1 816.7L965.3 817.9L964.8 819.1L964.4 820.3L964.1 821.5L963.8 822.7L963.6 823.9L963.3 825.1L963.0 826.3L962.7 827.5L962.5 828.7L962.4 829.9L962.3 831.1L962.2 832.3L962.2 833.5L962.1 834.7L962.0 835.9L962.0 837.1L961.9 838.3L961.8 839.5L961.8 840.7L961.7 841.9L961.6 843.1L961.5 844.3L961.4 845.5L961.4 846.7L961.3 847.9L961.3 849.1L961.2 850.3L961.2 851.5L961.1 852.7L961.1 853.0L960.5 853.0L960.5 852.7L960.4 851.5L960.4 850.3L960.3 849.1L960.3 847.9L960.2 846.7L960.2 845.5L960.1 844.3L960.0 843.1L959.9 841.9L959.8 840.7L959.8 839.5L959.7 838.3L959.6 837.1L959.6 835.9L959.5 834.7L959.4 833.5L959.4 832.3L959.3 831.1L959.2 829.9L959.1 828.7L958.9 827.5L958.6 826.3L958.3 825.1L958.0 823.9L957.8 822.7L957.5 821.5L957.2 820.3L956.8 819.1L956.3 817.9L955.5 816.7L954.7 815.5L954.0 814.3L953.3 813.1L952.6 811.9L951.8 810.7L950.8 809.5L949.6 808.3L948.5 807.1L947.4 805.9L946.5 804.7L945.5 803.5L944.2 802.3L942.8 801.1L941.5 799.9L940.4 798.7L939.4 797.5L938.2 796.3L936.9 795.1L935.6 793.9L934.4 792.7L933.5 791.5L932.5 790.3L931.4 789.1L930.3 787.9L929.4 786.7L928.7 785.5L928.0 784.3L927.4 783.1L926.7 781.9L926.1 780.7L925.7 779.5L925.4 778.3L925.0 777.1L924.7 775.9L924.3 774.7L924.1 773.5L924.1 772.3L924.2 771.1L924.5 769.9L924.7 768.7L925.1 767.5L925.6 766.3L926.2 765.1L926.9 763.9L927.5 762.7L928.2 761.5L929.1 760.3L930.2 759.1L931.4 757.9L932.5 756.7L933.5 755.5L934.3 754.3L935.4 753.1L936.6 751.9L938.0 750.7L939.4 749.5L940.8 748.3L942.1 747.1L943.1 745.9L943.9 744.7L944.6 743.5L945.4 742.3L946.4 741.1L947.4 739.9L948.4 738.7L949.3 737.5L950.1 736.3L950.7 735.1L951.1 733.9L951.6 732.7L952.1 731.5L952.7 730.3L953.2 729.1L953.8 727.9L954.3 726.7L954.6 725.5L954.9 724.3L955.3 723.1L955.6 721.9L956.0 720.7L956.5 719.5L956.9 718.3L957.3 717.1L957.6 715.9L957.8 714.7L958.0 713.5L958.2 712.3L958.4 711.1L958.6 709.9L958.8 708.7L959.0 707.5L959.1 706.3L959.3 705.1L959.3 703.9L959.4 702.7L959.4 701.5L959.5 700.3L959.6 699.1L959.6 697.9L959.7 696.7L959.8 695.5L959.8 694.3L959.9 693.1L959.9 691.9L960.0 690.7L960.0 689.5L960.0 688.3L960.0 687.1L960.0 685.9L960.0 684.7L960.1 683.5L960.1 682.3L960.1 681.1L960.1 679.9L960.1 678.7L960.1 677.5L960.1 676.3L960.2 675.1L960.2 673.9L960.2 672.7L960.2 671.5L960.2 670.3L960.2 669.1L960.3 667.9L960.3 666.7L960.3 665.5L960.3 664.3L960.3 663.1L960.3 661.9L960.4 660.7L960.4 659.5L960.4 658.3L960.4 657.1L960.4 655.9L960.4 654.7L960.4 653.5L960.5 652.3L960.5 651.1L960.5 649.9L960.5 648.7L960.5 647.5L960.5 646.3Z" fill="#38BAC2" stroke="#3a3a3a" stroke-width="0.8" stroke-linejoin="round"/>
<g filter="url(#grain)">
<rect x="848.3" y="700" width="65" height="150" fill="url(#dG1)"/>
<rect x="928.3" y="660" width="65" height="193" fill="url(#dG2)"/>
</g>
<path transform="scale(.5)" d="M1893 1291h0m69 5h0m-76 1h0m18 1h0m21-1h0m60 2h0m-126 8h0m9-3h0m5 3h0m3-3h0m86 1h0m16-1h0m1 2h0m-88 7h0m31-3h0m6 1h0m0-1h0m8 3h0m6-1h0m3-3h0m31 4h0m-104 5h0m15-1h0m11-1h0m12-1h0m19-1h0m33 6h0m-101 6h0m10-2h0m5-4h0m24 1h0m30 1h0m13 0h0m39 3h0m-111 2h0m68 2h0m23 8h0m0-4h0m-98 5h0m15 1h0m9 4h0m35 0h0m19-3h0m14 0h0m0 1h0m10 1h0m-102 3h0m49 4h0m22-2h0m36 1h0m-38 4h0m38-1h0m-96 11h0m48-3h0m28-2h0m9 2h0m24-2h0m1 4h0m-114 4h0m31-2h0m25 2h0m-70 5h0m21 2h0m16 0h0m7-3h0m9 2h0m-49 5h0m11-2h0m47 6h0m2-3h0m28-2h0m20 0h0m17 4h0m-230 1h0m109 3h0m41 0h0m69 1h0m-235 6h0m15-4h0m103 5h0m11 1h0m35-1h0m24 1h0m54-3h0m4-2h0m-269 9h0m16 0h0m24 2h0m33-3h0m16 2h0m71-1h0m27-1h0m65-2h0m5 3h0m-252 5h0m70-2h0m4 2h0m93-2h0m26 2h0m34 1h0m14-3h0m21 1h0m-280 10h0m14-5h0m29 0h0m13 5h0m6-3h0m112-2h0m2 2h0m8 1h0m11-2h0m21 4h0m3-2h0m49 1h0m8-5h0m-264 11h0m17 1h0m6-6h0m79 3h0m53-1h0m12-1h0m39 3h0m2-3h0m-201 11h0m14-5h0m132 4h0m34-1h0m11 0h0m14 0h0m4 0h0m23-3h0m-252 6h0m35 4h0m23-3h0m10 3h0m93-2h0m17 1h0m11-2h0m12 3h0m4-5h0m17 5h0m28 1h0m2-5h0m2 0h0m-206 10h0m10-1h0m10 0h0m22-2h0m9 0h0m63 0h0m1-1h0m31 2h0m13-1h0m4 0h0m11 2h0m5 1h0m21-1h0m7 0h0m10-1h0m8-1h0m6 1h0m-283 8h0m1 0h0m53-1h0m23-3h0m92 1h0m4 1h0m1-2h0m3 3h0m0-1h0m1 2h0m18-2h0m15 0h0m10 0h0m37-2h0m-257 9h0m27 0h0m150-2h0m7 3h0m23-3h0m3 2h0m2-3h0m1 3h0m15 0h0m4-3h0m3 1h0m3-1h0m3 4h0m6-4h0m30 5h0m0-4h0m1 1h0m5-2h0m-277 10h0m38 0h0m2-4h0m20 1h0m2-2h0m22 3h0m14 3h0m60-2h0m9-3h0m1 1h0m19 0h0m3-2h0m17 4h0m1 0h0m2-3h0m8 5h0m27-5h0m-253 10h0m9-4h0m49 4h0m19 0h0m42-5h0m2 3h0m0 1h0m4-2h0m47 1h0m6 2h0m19 0h0m12-3h0m1-1h0m4 3h0m1 0h0m3 1h0m3-3h0m39-1h0m3 4h0m9-3h0m3 1h0m5 2h0m-281 2h0m29 3h0m38 0h0m42-4h0m20 5h0m32-3h0m1 1h0m1-1h0m3 2h0m1-3h0m1 1h0m13 4h0m15-3h0m21 0h0m1 0h0m17-2h0m1 1h0m5 1h0m3 2h0m7-2h0m3-1h0m11 4h0m10-5h0m4 3h0m3-4h0m3 1h0m-273 6h0m15 2h0m8-1h0m40 1h0m9 0h0m9-1h0m3 2h0m6-2h0m11 3h0m6-1h0m8 0h0m34-2h0m3 0h0m4 2h0m12-1h0m41-1h0m5 0h0m4 3h0m4-1h0m1 1h0m1 1h0m3-6h0m7 5h0m2 0h0m1-4h0m0 4h0m1-3h0m1-1h0m7 1h0m1-2h0m5 3h0m6 0h0m1 3h0m8-5h0m5 5h0m-266 3h0m24 3h0m17 0h0m13-3h0m6-1h0m1 4h0m2-4h0m82-2h0m3 4h0m1-2h0m1 0h0m12-1h0m3 3h0m6 0h0m6 0h0m2 2h0m0-2h0m5-2h0m0 1h0m3-1h0m0-2h0m14 6h0m2 0h0m0-3h0m7 2h0m1 0h0m6-3h0m1 3h0m0-3h0m2-1h0m2 3h0m3 0h0m1 0h0m3-4h0m1 1h0m2 3h0m3 0h0m15-1h0m3 2h0m8-1h0m0-3h0m3 0h0m0 2h0m4 0h0m0-2h0m-286 9h0m27 0h0m33-3h0m31 4h0m10 0h0m14-4h0m6 1h0m42 4h0m2-1h0m3-1h0m12-1h0m2-2h0m2 2h0m4 0h0m6 1h0m1-4h0m8 4h0m3-1h0m9 1h0m8-1h0m0-2h0m10 3h0m12-1h0m4 2h0m0-3h0m14 4h0m1-4h0m3-2h0m1 1h0m2-1h0m0 3h0m5 3h0m3-5h0m3 3h0m6 2h0m-287 2h0m4 0h0m11-2h0m3 4h0m11 1h0m6 1h0m36-1h0m13-3h0m6 0h0m10-2h0m23 3h0m0 0h0m56-2h0m6 4h0m1 0h0m5-4h0m3 3h0m4 0h0m2-2h0m3-1h0m1 0h0m4 2h0m1-2h0m6 0h0m2 3h0m2 0h0m4 1h0m2-1h0m13-1h0m5-2h0m0 0h0m3 3h0m0 1h0m1-2h0m3 1h0m6-2h0m7 0h0m4 4h0m2-5h0m4 2h0m3-1h0m0 2h0m2 0h0m9 0h0m0 1h0m-273 6h0m3-2h0m7 2h0m5-3h0m7-2h0m1 3h0m2 1h0m13-2h0m9-1h0m37 3h0m3-3h0m4 3h0m2-1h0m6 2h0m6 0h0m8-3h0m35 1h0m6-2h0m1 1h0m6-1h0m4 0h0m0 5h0m6-1h0m4-2h0m2 2h0m3-4h0m8 3h0m6-1h0m1-2h0m2 1h0m1 1h0m2 2h0m0-1h0m6-4h0m16 2h0m4 1h0m1 2h0m2-1h0m5 1h0m12 0h0m10-3h0m6 0h0m4 2h0m5 2h0m-284 3h0m10-3h0m2 4h0m25-4h0m5 0h0m5 5h0m13-3h0m5 3h0m11-5h0m7 4h0m3-4h0m2 2h0m7 2h0m29-3h0m35 5h0m4-1h0m1-2h0m2-1h0m2 0h0m2 2h0m3 1h0m1 0h0m6-3h0m3-1h0m4 1h0m1 3h0m7 1h0m2-5h0m0 4h0m0 1h0m1-1h0m0 1h0m1-1h0m1 1h0m3-6h0m8 0h0m5 2h0m0 2h0m0-2h0m1 4h0m4-4h0m1 0h0m0-1h0m3 5h0m2-1h0m7-3h0m4 0h0m4 0h0m1 3h0m12 1h0m2-1h0m8-4h0m9 3h0m0 1h0m1-3h0m2 0h0m3 0h0m3 3h0m1-5h0m-263 8h0m15 1h0m12 2h0m13-2h0m13-1h0m19 3h0m3-4h0m4 3h0m15 1h0m4-5h0m1 6h0m0-5h0m6 1h0m2 0h0m31 3h0m2 1h0m7-5h0m2 4h0m3-5h0m5 3h0m7-2h0m1 1h0m1 0h0m0 1h0m3-1h0m0 1h0m7 0h0m1-1h0m5 2h0m6 1h0m1-4h0m0 0h0m3 4h0m1-3h0m5 3h0m1-4h0m2 3h0m4-4h0m13 4h0m14-2h0m1 0h0m0 4h0m1-1h0m4 0h0m6-2h0m2 1h0m1-1h0m2 3h0m2 0h0m5-4h0m5 2h0m1 1h0m1 1h0m0-6h0m1 1h0m2 3h0m-284 7h0m2-3h0m21-1h0m4 3h0m3-4h0m17 1h0m1 3h0m7 2h0m4 0h0m14 0h0m1-1h0m3-2h0m1 2h0m6-4h0m16 4h0m3-1h0m2 1h0m3-5h0m8 3h0m2 2h0m1-1h0m1-2h0m36-2h0m1 2h0m14 2h0m0-1h0m3-2h0m1 5h0m1-2h0m2 2h0m2-4h0m4 0h0m1 4h0m6-3h0m1 2h0m0 0h0m3-1h0m1-3h0m0 5h0m1-4h0m3 3h0m6-3h0m1 3h0m7 0h0m1-4h0m11 3h0m4-3h0m1 2h0m2 1h0m4 1h0m3 1h0m1-1h0m3 0h0m1-1h0m0-2h0m3 2h0m7-2h0m11 0h0m4 4h0m1-2h0m3 1h0m0-1h0m2-3h0m0 1h0m1 1h0m0 2h0m4-1h0m0-1h0m-285 6h0m3 1h0m2 0h0m0-2h0m3-2h0m0 5h0m12-2h0m1 0h0m19 3h0m5-2h0m11 1h0m3-4h0m4 3h0m2 0h0m4-2h0m9 0h0m2 4h0m6-2h0m4 0h0m2-2h0m0 1h0m1-1h0m15 1h0m2 1h0m0 2h0m0-6h0m10 5h0m41 1h0m0-1h0m1-2h0m1 3h0m3 0h0m3-3h0m1 2h0m0-3h0m3 0h0m1-2h0m4 1h0m2 0h0m0 1h0m2 4h0m2-1h0m4-1h0m1-2h0m0 2h0m3-2h0m3 4h0m5-6h0m1 5h0m1 0h0m1 0h0m3-1h0m9-1h0m0 2h0m0-2h0m6 1h0m1 1h0m5-3h0m1-2h0m0 2h0m4-1h0m2 0h0m1 2h0m2 2h0m2-3h0m4 0h0m3 3h0m4-2h0m1 0h0m2 1h0m1-1h0m1 2h0m1-4h0m1 1h0m3 3h0m0-2h0m3-2h0m6 1h0m2-1h0m1 5h0m3-6h0m0 0h0m8 1h0m0 2h0m2 3h0m2-2h0m-284 2h0m6 6h0m11-4h0m4 1h0m2 2h0m2-3h0m7-1h0m0 3h0m5 0h0m6 1h0m1-4h0m6 0h0m6 0h0m7 2h0m2 1h0m6-2h0m1 0h0m14-2h0m16 4h0m5-2h0m4 2h0m10 1h0m36-3h0m9 2h0m1-3h0m1 2h0m2-1h0m0 0h0m0-1h0m2 0h0m7 0h0m5 1h0m1 2h0m1-1h0m2 1h0m2-3h0m9 0h0m3 1h0m0 2h0m1-2h0m0 0h0m1-1h0m1 1h0m4 4h0m3-2h0m3 1h0m2-3h0m5 3h0m2-4h0m2 4h0m0-1h0m1-2h0m0 0h0m1 1h0m1 0h0m3-1h0m4 3h0m1-3h0m1 0h0m3-2h0m1 6h0m2-4h0m0 0h0m2 3h0m5 1h0m2-5h0m2 5h0m0-5h0m3 0h0m9 1h0m0-1h0m1 5h0m1-2h0m2 1h0m1-2h0m0-2h0m0 3h0m6-1h0m3 3h0m0 0h0m2-1h0m1-3h0m2 1h0m-283 8h0m10-1h0m1-3h0m2 3h0m3-4h0m22 2h0m2-2h0m22 2h0m13 3h0m2 0h0m8 0h0m8 0h0m23-1h0m3 1h0m37-3h0m0-2h0m2 2h0m3 2h0m0-3h0m2 2h0m3 0h0m2-3h0m1 6h0m1-2h0m0-2h0m1 3h0m2-4h0m3-1h0m0 4h0m9-3h0m0 3h0m2 0h0m3 0h0m0 0h0m5-2h0m0 1h0m3 1h0m0-1h0m4-1h0m0 2h0m0-2h0m1 3h0m0-2h0m0-2h0m1 3h0m2-3h0m0 5h0m4-3h0m2-3h0m3 3h0m2 0h0m1 3h0m2-3h0m7-3h0m4 2h0m5 4h0m2-4h0m5 3h0m2 1h0m3-5h0m4 0h0m1 0h0m0 5h0m4 0h0m3-4h0m1 0h0m0 0h0m7 2h0m0-2h0m0 2h0m5 1h0m5-1h0m2 0h0m1-3h0m-280 9h0m5 0h0m2 2h0m26-1h0m13 0h0m1-2h0m3-1h0m2 0h0m0 1h0m13 1h0m6-2h0m10 2h0m1 2h0m1 0h0m4-4h0m13-1h0m4 0h0m5 5h0m1-2h0m0-3h0m10 2h0m1 1h0m1 0h0m31 1h0m0-4h0m0 0h0m0 3h0m1 0h0m1 2h0m0-4h0m2 0h0m2-2h0m2 4h0m10 1h0m2-3h0m0-2h0m0 4h0m3 1h0m1-1h0m16 0h0m4 1h0m3-2h0m1-1h0m2 3h0m2 0h0m0-1h0m1 2h0m8-2h0m1 1h0m2 0h0m2 1h0m0 0h0m3-1h0m1 0h0m1 1h0m2-2h0m6-3h0m3 3h0m1 1h0m1-4h0m1 1h0m3 3h0m0-4h0m1 2h0m0 0h0m1-2h0m3 3h0m13-4h0m1 4h0m0 0h0m1 0h0m2 1h0m2-5h0m0 4h0m1 2h0m0 0h0m3-5h0m1 1h0m1 1h0m1-2h0m0 2h0m7 1h0m3 0h0m-287 3h0m2 0h0m10 1h0m0 1h0m20 1h0m1-1h0m2-2h0m5 1h0m14 3h0m11-1h0m2-1h0m5-3h0m2 1h0m18 4h0m8 1h0m0-5h0m8 2h0m10-2h0m1 3h0m4-4h0m35 6h0m0-5h0m5 0h0m1 3h0m1-1h0m3 1h0m1 0h0m2-3h0m3 0h0m0 3h0m7-2h0m9-1h0m4 5h0m7-3h0m2 2h0m2 1h0m3-1h0m2-3h0m2 4h0m0 0h0m1-2h0m2-3h0m1 0h0m7 0h0m3-1h0m0 6h0m0-4h0m3 1h0m2 0h0m1-1h0m2 0h0m1 4h0m1-5h0m0 3h0m0-2h0m2 2h0m0-4h0m6 3h0m0-2h0m4 5h0m1-1h0m1 0h0m3 0h0m3-1h0m0 0h0m1 0h0m1 0h0m4 0h0m0-1h0m3 0h0m1 0h0m1-2h0m2 4h0m1-1h0m1-3h0m0 3h0m1-1h0m1-2h0m2 4h0m1-4h0m3 0h0m0 1h0m5 1h0m1 0h0m-281 7h0m3 0h0m5-4h0m0 5h0m13-1h0m7-2h0m6-1h0m1 1h0m2-1h0m0 1h0m2 2h0m1 0h0m3-4h0m2 5h0m3-4h0m1 5h0m7-5h0m2 3h0m5-2h0m3 2h0m3 1h0m7-4h0m1 4h0m3-4h0m6 1h0m1 4h0m6-1h0m4 0h0m1-3h0m2 4h0m0-3h0m6 3h0m4-4h0m12 2h0m34-2h0m11 2h0m4 1h0m1-4h0m0 3h0m1 1h0m1-4h0m0 0h0m1 4h0m5 1h0m3-4h0m1 3h0m0-4h0m9 4h0m8-2h0m2-2h0m3 2h0m1 2h0m1-4h0m0 4h0m3-3h0m2 1h0m3-1h0m2 4h0m1 0h0m1-5h0m1 4h0m1-2h0m5-3h0m1 1h0m0 1h0m1 3h0m3-3h0m6 2h0m3-2h0m1 3h0m2-3h0m0-1h0m1 5h0m1-2h0m3-3h0m1 0h0m0 4h0m7-2h0m4-3h0m1 4h0m4 0h0m6 1h0m0-2h0m1 2h0m7-1h0m-284 5h0m3 0h0m5-1h0m9 4h0m1-6h0m3 4h0m1 0h0m3-2h0m16 3h0m4-4h0m1 3h0m1 0h0m0 0h0m10-1h0m3 1h0m0 1h0m6-2h0m2 0h0m9 3h0m2-1h0m9-2h0m1 0h0m0 0h0m1 1h0m0-1h0m1 3h0m2-4h0m5 0h0m0 4h0m10 0h0m1 0h0m4-2h0m0 0h0m0 0h0m1 2h0m1-5h0m1 5h0m2-3h0m1-3h0m4 5h0m2-1h0m2-1h0m0-2h0m37 2h0m1 0h0m2 0h0m1 1h0m1-2h0m1 3h0m0-2h0m2-2h0m1 5h0m3-3h0m3 0h0m1-1h0m3-1h0m3 5h0m1-4h0m0-2h0m1 5h0m0-2h0m1 1h0m12-2h0m2-1h0m3 2h0m0 1h0m0-1h0m0-2h0m2 0h0m2 0h0m3-1h0m1 2h0m2 1h0m0 2h0m3-4h0m4 0h0m4 5h0m1-3h0m2 2h0m0-1h0m1 1h0m4-1h0m2-2h0m1 1h0m3 0h0m0 1h0m4-2h0m1 3h0m8 1h0m2-1h0m7-5h0m1 1h0m2 1h0m1 4h0m1-1h0m1-2h0m0 2h0m0 0h0m5-4h0m1 2h0m6 1h0m2 2h0m1-3h0m1-1h0m3-1h0m-290 8h0m3-1h0m1 4h0m1-4h0m2 3h0m0-3h0m4 4h0m0-6h0m9 6h0m2-5h0m0 1h0m4-2h0m1 4h0m8-3h0m1 5h0m1-1h0m11-3h0m0-1h0m1 4h0m2-1h0m5-3h0m2 0h0m1 1h0m4 1h0m3 0h0m1-3h0m2 0h0m1 2h0m3 0h0m2-1h0m4-1h0m3 5h0m1-2h0m0 3h0m3-5h0m1 4h0m1-3h0m5 2h0m1 1h0m1-1h0m0 2h0m2-3h0m4-3h0m7 5h0m0-3h0m7 3h0m1-1h0m6 1h0m3 1h0m2-2h0m1-3h0m33 0h0m1 2h0m3-2h0m2 2h0m0-1h0m2 3h0m2-2h0m3 1h0m1 0h0m15 2h0m6-4h0m0 1h0m2 0h0m1 2h0m3-1h0m5 1h0m2-2h0m1-1h0m5 1h0m6 2h0m6-5h0m1 1h0m3 2h0m0-1h0m5-2h0m1 6h0m3-3h0m8 2h0m0-2h0m3-3h0m0 2h0m2 3h0m0-5h0m0 3h0m3-2h0m2 1h0m1-1h0m2 5h0m4-3h0m0 2h0m1-4h0m3 0h0m0 2h0m1 1h0m1-1h0m3-2h0m1 0h0m2 4h0m2-3h0m0 1h0m1 1h0m3-4h0m1 5h0m-284 6h0m1-1h0m2-1h0m5-1h0m3-2h0m4 6h0m3-4h0m4 3h0m1-2h0m1 2h0m0-3h0m0 2h0m1-2h0m1-1h0m2 5h0m0-6h0m7 3h0m1 0h0m0 0h0m5-1h0m1-2h0m1 4h0m0-2h0m3-2h0m4 2h0m0 2h0m0 2h0m5-4h0m0 0h0m1-1h0m0 3h0m0-1h0m7 3h0m2-3h0m1 2h0m2-5h0m1 1h0m0 0h0m2 0h0m6 2h0m10 2h0m4-5h0m1 0h0m0 5h0m4 1h0m0-2h0m2 0h0m4-3h0m0 3h0m6 2h0m0-3h0m3 1h0m7 0h0m4-1h0m3-1h0m0 1h0m3 0h0m0 2h0m33-4h0m1 4h0m6-2h0m2 3h0m0-3h0m1-2h0m4 4h0m0-5h0m3 2h0m3 3h0m5-1h0m2-4h0m0 2h0m3 3h0m3-2h0m1-1h0m1 2h0m0-2h0m1 2h0m2 2h0m8-4h0m5 1h0m0 1h0m1-3h0m0 1h0m2-1h0m4 5h0m0-3h0m1-1h0m1-1h0m2 5h0m0-5h0m0 4h0m7 0h0m2-2h0m0 3h0m2-4h0m2 2h0m0-1h0m5-3h0m3 1h0m1 4h0m1-1h0m2-4h0m1 3h0m4-2h0m4 1h0m1 3h0m3 1h0m2-2h0m7 1h0m2-2h0m0 0h0m2 0h0m1 0h0m1 0h0m2 3h0m1-3h0m1-2h0m0 3h0m0-1h0m2-3h0m1 2h0m1 4h0m4-2h0m-285 4h0m0 2h0m4-4h0m0 5h0m1-5h0m5 5h0m8-1h0m5 1h0m2-2h0m1 1h0m1-2h0m3 1h0m0-1h0m5 0h0m1 3h0m2 1h0m7-1h0m1-4h0m0 3h0m1-1h0m0-3h0m9 0h0m0 3h0m1 1h0m4 1h0m5 1h0m4-3h0m8-2h0m0 4h0m6 1h0m1-3h0m4 1h0m0 0h0m6 0h0m0-4h0m1 0h0m3 5h0m2-4h0m2 3h0m2-1h0m0 1h0m3-2h0m2-1h0m0 4h0m3-2h0m0-1h0m8-1h0m36 4h0m0-1h0m1-2h0m1-2h0m3 5h0m1 1h0m0-3h0m7-1h0m1 1h0m0 1h0m1-1h0m1 2h0m1-2h0m2 1h0m2 1h0m3-3h0m3 0h0m2-1h0m1 2h0m1 3h0m6 0h0m1-2h0m0-1h0m0 2h0m0-3h0m1 3h0m2 1h0m2-2h0m2-2h0m1 1h0m1 2h0m1-3h0m4 4h0m0-4h0m1 0h0m3 1h0m0 3h0m3-4h0m0 2h0m1 0h0m2 0h0m1-1h0m1 3h0m2-5h0m3 4h0m3-1h0m0 0h0m4-2h0m1 0h0m0 0h0m1-2h0m2 2h0m2 2h0m1-2h0m0 4h0m0-4h0m2 0h0m1 2h0m1 0h0m6-1h0m2-2h0m3 4h0m3-2h0m3-3h0m1 1h0m1 0h0m1 1h0m2 0h0m5 2h0m3-3h0m0 5h0m8-5h0m1 4h0m-283 5h0m2-4h0m0 1h0m1 3h0m5-4h0m7 4h0m0 0h0m10 0h0m5-1h0m2 2h0m2 0h0m0-4h0m3 1h0m1 2h0m7-1h0m1-1h0m1 2h0m1 2h0m1-4h0m2 0h0m0 0h0m1 2h0m6-2h0m4 0h0m0-2h0m1 4h0m2-3h0m2 3h0m2 0h0m0-4h0m0 4h0m1 2h0m0-2h0m3-4h0m1 6h0m1-1h0m3-4h0m5 3h0m0 0h0m1-4h0m1 3h0m6 3h0m3-1h0m1-3h0m3-1h0m3 0h0m0 2h0m2 2h0m0-5h0m0 3h0m1-1h0m1 1h0m2 0h0m1-1h0m1 0h0m1 2h0m5-2h0m7 2h0m1 1h0m0 1h0m3-5h0m31 4h0m2 0h0m1-5h0m4 2h0m1 4h0m0-5h0m1 3h0m2-2h0m1 1h0m2 0h0m0 1h0m7 2h0m2-6h0m2 1h0m6 4h0m1-2h0m0-3h0m5 3h0m5-1h0m0 4h0m10 0h0m2-5h0m0 0h0m2 1h0m1 0h0m2 0h0m3 0h0m2-1h0m0 2h0m1 3h0m3-6h0m6 5h0m3-1h0m5 0h0m2 2h0m2 0h0m2-1h0m6-2h0m3-2h0m0-1h0m2 0h0m3 5h0m0-1h0m3-4h0m2 0h0m1 5h0m3-1h0m4-2h0m2-1h0m7 5h0m1-3h0m1 0h0m-284 6h0m4 3h0m1-5h0m5 0h0m3 2h0m0-2h0m1 3h0m0 0h0m2-1h0m2 3h0m1-2h0m0 2h0m1-4h0m9-2h0m2 3h0m3-2h0m0 4h0m2-5h0m2 6h0m0-2h0m4-3h0m4-1h0m2 2h0m0 1h0m1-1h0m0 1h0m2-3h0m1 2h0m2 2h0m1 1h0m0-1h0m1-3h0m0 5h0m3-1h0m1-2h0m1 0h0m1-2h0m0 2h0m1 1h0m1-1h0m1 1h0m1-4h0m0 4h0m2 0h0m0 0h0m1 0h0m0-1h0m4 3h0m2-2h0m1-3h0m2 4h0m0-2h0m1-3h0m0 3h0m0 2h0m1-5h0m1 2h0m0 3h0m0 0h0m1-5h0m3 4h0m0-3h0m3-1h0m1 2h0m2 3h0m1-4h0m7 3h0m1 0h0m3 1h0m1-1h0m1-2h0m0 2h0m1 0h0m0 1h0m3-3h0m1 0h0m2-2h0m1 1h0m1 0h0m2 4h0m2-3h0m3-1h0m2 4h0m1 1h0m35-6h0m1 5h0m3-3h0m2 3h0m0 1h0m3-2h0m5 1h0m3-3h0m4 0h0m3 1h0m1 3h0m0-3h0m0 0h0m4-1h0m0 0h0m1 3h0m2 0h0m0 0h0m1-3h0m6-2h0m1 6h0m2-6h0m2 1h0m2 0h0m1 3h0m2 0h0m1-1h0m2 1h0m4 0h0m1 1h0m1-4h0m3 0h0m0 3h0m5-1h0m1 2h0m0-3h0m3 3h0m3-4h0m0 5h0m3-2h0m20-2h0m3 1h0m5-3h0m5 2h0m12-1h0m1 3h0m3 0h0m-286 6h0m1-2h0m1-2h0m0 3h0m0 3h0m1-5h0m3 3h0m4-2h0m2 1h0m1-1h0m0 1h0m1-2h0m0 3h0m3 0h0m3-1h0m3 1h0m1 1h0m2-3h0m5-2h0m0 1h0m1 2h0m1-1h0m3 3h0m2-1h0m1-4h0m3 4h0m1-1h0m0-2h0m1 1h0m1 2h0m1 0h0m2 2h0m3-1h0m0-5h0m0 0h0m1 1h0m1 3h0m0-2h0m4 0h0m3 2h0m5 1h0m2-2h0m1 0h0m2-1h0m0 4h0m2-4h0m5-1h0m1 3h0m0-2h0m6 3h0m1-2h0m0 2h0m1-1h0m0-2h0m4-2h0m3 1h0m1-1h0m2 3h0m2-2h0m1 3h0m1-1h0m1 2h0m1-1h0m0 1h0m1-5h0m0 0h0m1 5h0m3-4h0m3-1h0m1 0h0m2 2h0m3 1h0m3 1h0m4-1h0m0-1h0m1-2h0m2 5h0m1 0h0m37-3h0m0-1h0m8 0h0m11 3h0m2-3h0m1 2h0m1 1h0m6-2h0m1 2h0m0-2h0m8 3h0m2-2h0m0-1h0m1 2h0m9 1h0m0-1h0m1-1h0m9-1h0m2 2h0m6-1h0m6-1h0m1 2h0m3 1h0m5 1h0m6-2h0m0 1h0m17-1h0m1 0h0m1-2h0m2 2h0m3 0h0m2-1h0m7-2h0m1 1h0m1 1h0m-285 7h0m2 2h0m4-4h0m4-1h0m1 1h0m2-1h0m2 5h0m0-4h0m2 0h0m5 1h0m3 1h0m4 0h0m1-4h0m2 6h0m1-2h0m0 0h0m5-1h0m2 0h0m3-1h0m6 2h0m1 0h0m1-2h0m1 3h0m8-2h0m9-1h0m4 4h0m2-1h0m1-4h0m0-1h0m1 2h0m1 2h0m0 0h0m3 1h0m2 1h0m1-3h0m0 1h0m2-3h0m1 3h0m0 0h0m3-3h0m2 5h0m1-2h0m4-1h0m2-2h0m1 3h0m1-2h0m0 2h0m1 1h0m0-4h0m4 4h0m1-1h0m1-4h0m2 1h0m3 3h0m1-2h0m1 3h0m0 0h0m1 1h0m1 0h0m4-2h0m2-4h0m1 5h0m2 0h0m36-3h0m2 1h0m5-1h0m1 4h0m7-6h0m0 6h0m7-1h0m5 1h0m1-3h0m3 0h0m4 2h0m2-1h0m4 0h0m1-3h0m4 4h0m4-2h0m5-1h0m9 2h0m4-3h0m1 3h0m3 0h0m4 1h0m2 0h0m7-3h0m1 0h0m3-2h0m1 1h0m0 3h0m3 1h0m3-1h0m1-1h0m1 1h0m0 2h0m4-3h0m2 2h0m1-5h0m4 1h0m4 3h0m0 1h0m1-3h0m1-2h0m1 1h0m0 1h0m-280 5h0m1 1h0m0 2h0m3 0h0m1-2h0m0 2h0m2 1h0m2-4h0m0 3h0m1 0h0m2-4h0m2 1h0m1 2h0m0-1h0m3 2h0m1 1h0m5 0h0m9-1h0m0-2h0m3 1h0m5-2h0m0 1h0m3 3h0m1-1h0m1 0h0m1 2h0m0-4h0m4 2h0m1 1h0m3-3h0m0 0h0m1 4h0m1-4h0m3-1h0m1 5h0m3-5h0m1 3h0m1-4h0m2 3h0m1-1h0m5-2h0m0 1h0m1 3h0m1 1h0m1 0h0m2-1h0m1-3h0m2-1h0m0 4h0m0-2h0m1-1h0m0 1h0m3 0h0m2 0h0m2 1h0m2-3h0m1 6h0m1-5h0m1 3h0m3-2h0m1 1h0m1 2h0m2 0h0m0-5h0m1 3h0m1-2h0m3 2h0m1 1h0m1-3h0m2 0h0m8 5h0m2-2h0m1 1h0m2-1h0m35-3h0m5 0h0m1 4h0m2-2h0m0-3h0m4 5h0m1 1h0m18-6h0m0 2h0m5-2h0m1 5h0m7 1h0m1-3h0m1-1h0m5 3h0m19-4h0m5 2h0m3 0h0m1 2h0m8-4h0m0 1h0m18-2h0m10 4h0m3 0h0m2-2h0m0 4h0m3-2h0m1 0h0m-284 4h0m0 3h0m3-1h0m0-4h0m2 5h0m1 0h0m4-3h0m0 0h0m3 3h0m2-3h0m0 2h0m1-1h0m1-3h0m4 4h0m1 1h0m5 1h0m1-3h0m2-2h0m0 3h0m1-2h0m0 2h0m0-3h0m0 4h0m3 1h0m1 0h0m5-4h0m2 1h0m14 0h0m2 1h0m1 0h0m1 0h0m1-1h0m1 3h0m1-3h0m0 0h0m2 1h0m3-2h0m1 4h0m1 0h0m0-6h0m2 4h0m0 1h0m2-2h0m0 1h0m0 0h0m1-3h0m1 3h0m1-2h0m1 2h0m2-1h0m4-2h0m1 3h0m0 2h0m1-5h0m1 3h0m3 0h0m6 1h0m4-4h0m0 5h0m1-6h0m0 2h0m2 2h0m1-3h0m3 2h0m1 1h0m0 2h0m4-1h0m4-1h0m0-1h0m1-2h0m1 5h0m1-4h0m0-2h0m1 1h0m6 4h0m0-2h0m1 1h0m2-2h0m0 0h0m33 2h0m13-2h0m2 3h0m7-2h0m7 2h0m6-4h0m0 1h0m2-1h0m6 5h0m3-2h0m0-3h0m14 0h0m0 2h0m0-2h0m4 3h0m6 1h0m2 0h0m10-1h0m11-2h0m3 4h0m4-2h0m5-3h0m2-1h0m5 4h0m0-4h0m3 5h0m3-1h0m7-2h0m-282 9h0m3-4h0m2 0h0m0 2h0m1-2h0m0 2h0m3-1h0m0 1h0m1 3h0m0-6h0m3 4h0m8-3h0m6 3h0m0 1h0m4-4h0m4 3h0m0-3h0m1 2h0m0-2h0m0-1h0m2 4h0m0 0h0m5-1h0m1-1h0m4 1h0m6 2h0m0 0h0m7-3h0m1-1h0m2 2h0m3 2h0m0-5h0m5 0h0m3 4h0m2-2h0m3 2h0m3-2h0m6 3h0m3-2h0m4 3h0m3 0h0m0-3h0m4 2h0m3 0h0m4-4h0m2 3h0m1-1h0m1-3h0m1 0h0m5 0h0m0 5h0m36 0h0m1 0h0m6-3h0m3-1h0m4 2h0m10-1h0m2 0h0m30 2h0m15 0h0m1-3h0m3 4h0m5-2h0m1-2h0m2 3h0m14 1h0m15-1h0m4-1h0m0-2h0m3 1h0m-274 5h0m1 4h0m7-2h0m1 2h0m1-4h0m6 2h0m1-2h0m3 2h0m0-2h0m2 4h0m2-1h0m0-2h0m3 4h0m0-2h0m1-1h0m1 2h0m3 0h0m1-3h0m2 4h0m1-3h0m0 1h0m2-3h0m0 0h0m2 3h0m2 2h0m8-6h0m0 5h0m1 0h0m1 1h0m1-6h0m1 2h0m0 0h0m2-2h0m0 6h0m1 0h0m1-4h0m0 2h0m1 2h0m0-1h0m3-1h0m1-3h0m0 1h0m0 1h0m0-1h0m0 0h0m1 1h0m4 1h0m3-3h0m2 4h0m1-3h0m4 0h0m3 0h0m3 3h0m2 0h0m0-2h0m3 0h0m1 0h0m1 1h0m2-4h0m4 6h0m1-6h0m2 6h0m4-6h0m3 2h0m3 2h0m1 0h0m2-2h0m0 2h0m1-2h0m0 2h0m1-4h0m5 5h0m0 0h0m1-1h0m53 2h0m17-5h0m9 3h0m4 0h0m6-3h0m3 2h0m13-1h0m21 0h0m7 3h0m2-1h0m18-2h0m-277 6h0m2-2h0m9 4h0m1 1h0m2-4h0m3 1h0m3 0h0m10 2h0m0-2h0m3-2h0m4 1h0m1-1h0m2 0h0m1 4h0m2-3h0m0 0h0m1 4h0m0-1h0m1 0h0m3-4h0m0 1h0m2 3h0m4 2h0m2-4h0m0-1h0m4 1h0m2 0h0m2-2h0m1 5h0m1 0h0m0-1h0m2 1h0m7-4h0m8 0h0m0 3h0m1-4h0m8 2h0m6-2h0m2 5h0m1 0h0m2-5h0m4 5h0m0 0h0m2 0h0m2-1h0m0-2h0m1 1h0m9 0h0m1-3h0m3 2h0m37-2h0m16 4h0m9-1h0m2 2h0m30-3h0m11 0h0m14 3h0m13-5h0m2 2h0m1 1h0m11-1h0m2 1h0m-274 5h0m1-1h0m5 5h0m1-4h0m1 3h0m15-3h0m6-1h0m37 1h0m4 4h0m0-1h0m1-5h0m1 5h0m3-4h0m4-1h0m0 1h0m1 2h0m3-1h0m1 1h0m3 1h0m2-3h0m3 5h0m5-3h0m0 3h0m7-5h0m1 3h0m6-2h0m1-2h0m12 4h0m3-1h0m0-2h0m0 3h0m47 0h0m17-3h0m5 1h0m1-1h0m7 3h0m7-3h0m36 5h0m3-2h0m1-1h0m2 3h0m-254 2h0m3 3h0m10-3h0m2-1h0m1 0h0m1 3h0m1-2h0m2-1h0m7 2h0m16-2h0m5 4h0m0 0h0m1-1h0m4 2h0m5-2h0m0-3h0m0 0h0m2 3h0m0-2h0m2 3h0m2 1h0m1-1h0m1-1h0m4 0h0m8 2h0m1-1h0m1-3h0m7-1h0m5-1h0m1 2h0m4 0h0m2 2h0m1-2h0m1 3h0m7-5h0m5 4h0m13-4h0m48 5h0m4 1h0m5-5h0m13 2h0m4 0h0m2 0h0m18 2h0m8 0h0m5 1h0m7-6h0m19 2h0m12 3h0m2-1h0m0-1h0m10-1h0m2 4h0m-284 4h0m8 0h0m6-2h0m3 0h0m21 0h0m19 4h0m2-2h0m5 0h0m4-2h0m7 1h0m5 2h0m8-4h0m10 1h0m1 2h0m2 0h0m8-1h0m2-3h0m4 4h0m5-3h0m0 1h0m3 0h0m42 1h0m17-2h0m26 5h0m20-5h0m33 1h0m10 3h0m7 1h0m9-3h0m-288 6h0m2 2h0m8-3h0m13 0h0m2 3h0m21 0h0m3 0h0m3-2h0m4 1h0m45 2h0m1-4h0m3-2h0m1 1h0m11 5h0m1-4h0m2 1h0m41 2h0m15-4h0m0 1h0m15 0h0m6 0h0m13 2h0m35-4h0m3 3h0m19-2h0m17 0h0m2 1h0m-285 8h0m8 1h0m0-3h0m0 0h0m7 0h0m15 2h0m4-2h0m10 3h0m1-3h0m2 4h0m2-5h0m3 2h0m9 2h0m8-2h0m11 0h0m4-1h0m6 1h0m4 0h0m2 3h0m1-5h0m2 3h0m13-3h0m6 0h0m8 3h0m0-3h0m67 3h0m17-3h0m8 1h0m12 0h0m5-2h0m28 5h0m22-5h0m-268 12h0m2-4h0m10 3h0m0-3h0m7 2h0m13 0h0m5 1h0m9-1h0m9-1h0m0-3h0m1 5h0m6-4h0m12 4h0m137-3h0m44-2h0m-271 6h0m31 1h0m28 5h0m8-2h0m7-1h0m12-1h0m1 0h0m16 0h0m3 0h0m4 1h0m5 1h0m1-1h0m8 0h0m42 0h0m24-1h0m63 3h0m-244 7h0m0 0h0m8-3h0m4 1h0m10-2h0m17 2h0m8-3h0m24 1h0m6 2h0m7-4h0m14 4h0m9 1h0m7-5h0m1 2h0m91 4h0m35-4h0m1 0h0m14 0h0m3 0h0m14-1h0m-258 7h0m1 0h0m7-2h0m6 2h0m3 0h0m20 3h0m6 0h0m19 1h0m18-4h0m12 3h0m59-2h0m7-1h0m35 3h0m4-3h0m2 2h0m9 1h0m35-5h0m15 1h0m-283 5h0m4 1h0m12 2h0m16 0h0m1 0h0m6-3h0m2 1h0m10 3h0m1-1h0m19 1h0m29-1h0m4 2h0m19-1h0m35-2h0m27 0h0m6-1h0m1 2h0m18-2h0m9 5h0m14-3h0m17-3h0m18 3h0m-233 8h0m1-3h0m10 4h0m1-5h0m49 4h0m11-5h0m4 4h0m48-3h0m112 4h0m9-2h0m-259 5h0m10 3h0m5-4h0m11 0h0m11-1h0m21 6h0m41-4h0m41 0h0m13-1h0m1 0h0m21 1h0m13 1h0m17 3h0m-225 2h0m1 0h0m9 0h0m11-1h0m7 1h0m4-2h0m29 2h0m16-1h0m13 1h0m34 0h0m51 0h0m20 0h0m0 1h0m38 1h0m1-2h0m11 2h0m11-2h0m18 1h0" stroke="#0a0a0a" stroke-width="1.70" stroke-linecap="round" fill="none"/>
<path d="M584.4 914.8L582.9 914.8L582.7 916.3L582.5 917.8L582.2 919.3L581.9 920.8L581.6 922.3L581.3 923.8L580.9 925.3L580.6 926.8L580.3 928.3L580.0 929.8L579.8 931.3L579.5 932.8L579.1 934.3L578.6 935.8L577.9 937.3L577.2 938.8L576.4 940.3L575.6 941.8L575.0 943.3L574.4 944.8L573.9 946.3L573.4 947.8L572.8 949.3L572.1 950.8L571.4 952.3L570.6 953.8L569.8 955.3L569.1 956.8L568.4 958.3L567.9 959.8L567.5 961.3L567.3 962.8L567.0 964.3L566.7 965.8L566.4 967.3L566.1 968.8L565.8 970.3L565.5 971.8L565.2 973.3L565.0 974.8L564.9 976.3L564.8 977.8L564.9 979.3L564.9 980.8L565.0 982.3L565.0 983.8L565.1 985.3L565.3 986.8L565.8 988.3L566.5 989.8L567.4 991.3L568.5 992.8L569.5 994.3L570.3 995.8L571.1 997.3L571.9 998.8L572.9 1000.3L574.0 1001.8L575.3 1003.3L576.6 1004.8L577.9 1006.3L578.8 1007.8L579.5 1009.3L580.1 1010.8L580.6 1012.3L581.2 1013.8L581.8 1015.3L582.4 1016.8L582.9 1018.3L583.2 1019.8L583.4 1021.3L583.5 1022.8L583.6 1024.3L583.6 1025.8L583.7 1027.3L583.8 1028.8L583.9 1030.3L584.0 1031.8L584.0 1033.3L584.1 1034.8L584.2 1036.3L584.2 1037.8L584.4 1037.8Z" fill="#F3938A" stroke="#3a3a3a" stroke-width="0.8" stroke-linejoin="round"/>
<path d="M584.4 862.5L584.6 862.5L584.6 864.0L584.6 865.5L584.6 867.0L584.6 868.5L584.6 870.0L584.6 871.5L584.6 873.0L584.6 874.5L584.6 876.0L584.7 877.5L584.7 879.0L584.7 880.5L584.7 882.0L584.7 883.5L584.7 885.0L584.7 886.5L584.7 888.0L584.7 889.5L584.7 891.0L584.7 892.5L584.7 894.0L584.7 895.5L584.8 897.0L584.8 898.5L584.8 900.0L584.8 901.5L584.8 903.0L584.8 904.5L584.8 906.0L584.8 907.5L584.8 909.0L584.8 910.5L585.0 912.0L585.1 913.5L585.4 915.0L585.7 916.5L586.0 918.0L586.3 919.5L586.6 921.0L586.8 922.5L587.1 924.0L587.3 925.5L587.7 927.0L588.2 928.5L588.7 930.0L589.3 931.5L589.9 933.0L590.4 934.5L590.9 936.0L591.3 937.5L591.6 939.0L592.0 940.5L592.5 942.0L593.1 943.5L593.8 945.0L594.5 946.5L595.2 948.0L595.8 949.5L596.4 951.0L596.9 952.5L597.3 954.0L597.7 955.5L598.2 957.0L598.8 958.5L599.5 960.0L600.1 961.5L600.8 963.0L601.4 964.5L602.0 966.0L602.4 967.5L602.7 969.0L603.0 970.5L603.2 972.0L603.5 973.5L603.8 975.0L604.1 976.5L604.3 978.0L604.4 979.5L604.2 981.0L603.8 982.5L603.3 984.0L602.8 985.5L602.3 987.0L601.9 988.5L601.3 990.0L600.6 991.5L599.8 993.0L598.8 994.5L597.8 996.0L596.7 997.5L595.8 999.0L595.1 1000.5L594.4 1002.0L593.7 1003.5L592.8 1005.0L591.9 1006.5L590.8 1008.0L589.8 1009.5L588.9 1011.0L588.2 1012.5L587.7 1014.0L587.3 1015.5L586.8 1017.0L586.3 1018.5L585.9 1020.0L585.6 1021.5L585.4 1023.0L585.3 1024.5L585.2 1026.0L585.1 1027.5L585.1 1029.0L585.0 1030.5L584.9 1032.0L584.8 1033.5L584.7 1035.0L584.7 1036.5L584.6 1037.8L584.4 1037.8Z" fill="#38BAC2" stroke="#3a3a3a" stroke-width="0.8" stroke-linejoin="round"/>
<path d="M628.4 918.5L628.1 918.5L628.1 920.0L628.0 921.5L628.0 923.0L627.9 924.5L627.8 926.0L627.7 927.5L627.6 929.0L627.5 930.5L627.4 932.0L627.3 933.5L627.2 935.0L627.1 936.5L627.0 938.0L627.0 939.5L626.9 941.0L626.7 942.5L626.5 944.0L626.0 945.5L625.5 947.0L624.9 948.5L624.3 950.0L623.8 951.5L623.3 953.0L622.8 954.5L622.2 956.0L621.4 957.5L620.5 959.0L619.7 960.5L618.9 962.0L618.2 963.5L617.6 965.0L617.2 966.5L616.7 968.0L616.1 969.5L615.4 971.0L614.7 972.5L614.0 974.0L613.4 975.5L612.8 977.0L612.4 978.5L612.0 980.0L611.6 981.5L611.2 983.0L610.7 984.5L610.2 986.0L609.7 987.5L609.2 989.0L608.8 990.5L608.6 992.0L608.7 993.5L609.0 995.0L609.6 996.5L610.1 998.0L610.7 999.5L611.3 1001.0L611.8 1002.5L612.2 1004.0L612.9 1005.5L613.7 1007.0L614.6 1008.5L615.6 1010.0L616.6 1011.5L617.6 1013.0L618.4 1014.5L619.1 1016.0L619.7 1017.5L620.2 1019.0L620.9 1020.5L621.6 1022.0L622.4 1023.5L623.0 1025.0L623.6 1026.5L624.0 1028.0L624.4 1029.5L624.8 1031.0L625.3 1032.5L625.8 1034.0L626.2 1035.5L626.6 1037.0L626.9 1038.5L627.0 1040.0L627.2 1041.5L627.4 1043.0L627.6 1044.5L627.8 1046.0L628.0 1047.5L628.1 1049.0L628.4 1049.0Z" fill="#F3938A" stroke="#3a3a3a" stroke-width="0.8" stroke-linejoin="round"/>
<path d="M628.4 910.0L628.6 910.0L628.6 911.5L628.6 913.0L628.6 914.5L628.7 916.0L628.7 917.5L628.8 919.0L628.8 920.5L628.8 922.0L628.9 923.5L629.0 925.0L629.3 926.5L629.6 928.0L629.9 929.5L630.3 931.0L630.6 932.5L630.9 934.0L631.2 935.5L631.5 937.0L632.0 938.5L632.5 940.0L633.2 941.5L634.0 943.0L634.8 944.5L635.5 946.0L636.2 947.5L636.7 949.0L637.2 950.5L637.7 952.0L638.4 953.5L639.1 955.0L639.8 956.5L640.5 958.0L641.1 959.5L641.7 961.0L642.3 962.5L643.0 964.0L643.8 965.5L644.8 967.0L645.6 968.5L646.4 970.0L646.9 971.5L647.2 973.0L647.4 974.5L647.6 976.0L647.7 977.5L647.8 979.0L648.0 980.5L648.0 982.0L648.0 983.5L647.9 985.0L647.7 986.5L647.4 988.0L647.1 989.5L646.8 991.0L646.6 992.5L646.3 994.0L645.9 995.5L645.3 997.0L644.5 998.5L643.6 1000.0L642.7 1001.5L641.9 1003.0L641.1 1004.5L640.4 1006.0L639.8 1007.5L639.2 1009.0L638.5 1010.5L637.6 1012.0L636.7 1013.5L635.8 1015.0L634.9 1016.5L634.2 1018.0L633.6 1019.5L633.2 1021.0L632.9 1022.5L632.6 1024.0L632.2 1025.5L631.7 1027.0L631.3 1028.5L630.9 1030.0L630.5 1031.5L630.2 1033.0L630.0 1034.5L629.8 1036.0L629.7 1037.5L629.5 1039.0L629.4 1040.5L629.2 1042.0L629.0 1043.5L628.9 1045.0L628.7 1046.5L628.6 1048.0L628.6 1049.0L628.4 1049.0Z" fill="#38BAC2" stroke="#3a3a3a" stroke-width="0.8" stroke-linejoin="round"/>
<path d="M672.3 929.6L672.1 929.6L672.1 931.1L672.0 932.6L672.0 934.1L671.9 935.6L671.9 937.1L671.8 938.6L671.8 940.1L671.7 941.6L671.6 943.1L671.6 944.6L671.5 946.1L671.5 947.6L671.4 949.1L671.4 950.6L671.3 952.1L671.2 953.6L671.0 955.1L670.7 956.6L670.3 958.1L669.8 959.6L669.4 961.1L669.0 962.6L668.7 964.1L668.2 965.6L667.6 967.1L666.9 968.6L666.0 970.1L665.1 971.6L664.3 973.1L663.6 974.6L662.9 976.1L662.2 977.6L661.4 979.1L660.4 980.6L659.4 982.1L658.4 983.6L657.5 985.1L656.8 986.6L656.3 988.1L655.8 989.6L655.2 991.1L654.5 992.6L653.9 994.1L653.3 995.6L652.9 997.1L652.7 998.6L652.8 1000.1L653.0 1001.6L653.2 1003.1L653.5 1004.6L653.7 1006.1L654.0 1007.6L654.5 1009.1L655.2 1010.6L656.0 1012.1L656.9 1013.6L657.8 1015.1L658.5 1016.6L659.2 1018.1L660.0 1019.6L660.9 1021.1L662.1 1022.6L663.3 1024.1L664.4 1025.6L665.3 1027.1L665.9 1028.6L666.5 1030.1L667.1 1031.6L667.7 1033.1L668.4 1034.6L669.0 1036.1L669.6 1037.6L670.0 1039.1L670.3 1040.6L670.5 1042.1L670.7 1043.6L670.9 1045.1L671.1 1046.6L671.4 1048.1L671.6 1049.6L671.8 1051.1L672.0 1052.6L672.1 1054.0L672.3 1054.0Z" fill="#F3938A" stroke="#3a3a3a" stroke-width="0.8" stroke-linejoin="round"/>
<path d="M672.3 905.6L674.3 905.6L674.4 907.1L674.6 908.6L674.8 910.1L675.1 911.6L675.3 913.1L675.6 914.6L675.8 916.1L676.1 917.6L676.3 919.1L676.5 920.6L676.7 922.1L676.9 923.6L677.1 925.1L677.4 926.6L677.8 928.1L678.2 929.6L678.6 931.1L679.1 932.6L679.5 934.1L679.9 935.6L680.3 937.1L680.6 938.6L680.9 940.1L681.4 941.6L681.9 943.1L682.5 944.6L683.1 946.1L683.6 947.6L684.1 949.1L684.6 950.6L685.2 952.1L686.0 953.6L686.9 955.1L687.8 956.6L688.6 958.1L689.3 959.6L689.8 961.1L690.2 962.6L690.6 964.1L691.1 965.6L691.5 967.1L691.9 968.6L692.1 970.1L692.1 971.6L691.9 973.1L691.6 974.6L691.3 976.1L691.1 977.6L690.8 979.1L690.5 980.6L690.1 982.1L689.6 983.6L689.0 985.1L688.4 986.6L687.8 988.1L687.4 989.6L687.0 991.1L686.6 992.6L686.1 994.1L685.5 995.6L684.8 997.1L684.1 998.6L683.5 1000.1L682.9 1001.6L682.3 1003.1L681.9 1004.6L681.5 1006.1L681.0 1007.6L680.5 1009.1L680.0 1010.6L679.4 1012.1L678.8 1013.6L678.3 1015.1L678.0 1016.6L677.6 1018.1L677.3 1019.6L676.9 1021.1L676.4 1022.6L676.0 1024.1L675.5 1025.6L675.2 1027.1L674.9 1028.6L674.8 1029.0L672.3 1029.0Z" fill="#38BAC2" stroke="#3a3a3a" stroke-width="0.8" stroke-linejoin="round"/>
<path d="M716.2 923.0L716.0 923.0L715.8 924.5L715.7 926.0L715.6 927.5L715.4 929.0L715.2 930.5L715.0 932.0L714.8 933.5L714.6 935.0L714.4 936.5L714.3 938.0L714.1 939.5L714.0 941.0L713.8 942.5L713.6 944.0L713.3 945.5L712.9 947.0L712.6 948.5L712.2 950.0L711.9 951.5L711.6 953.0L711.6 954.5L711.6 956.0L711.8 957.5L712.0 959.0L712.1 960.5L712.3 962.0L712.4 963.5L712.1 965.0L711.4 966.5L710.3 968.0L709.0 969.5L707.7 971.0L706.5 972.5L705.6 974.0L704.7 975.5L703.6 977.0L702.4 978.5L701.2 980.0L700.1 981.5L699.3 983.0L698.7 984.5L698.1 986.0L697.4 987.5L696.9 989.0L696.8 990.5L697.2 992.0L698.3 993.5L699.6 995.0L701.0 996.5L702.3 998.0L703.3 999.5L704.2 1001.0L705.1 1002.5L706.2 1004.0L707.4 1005.5L708.5 1007.0L709.6 1008.5L710.5 1010.0L711.2 1011.5L711.8 1013.0L712.2 1013.9L716.2 1013.9Z" fill="#F3938A" stroke="#3a3a3a" stroke-width="0.8" stroke-linejoin="round"/>
<path d="M716.2 923.5L716.5 923.5L716.6 925.0L716.7 926.5L716.8 928.0L717.0 929.5L717.1 931.0L717.2 932.5L717.3 934.0L717.5 935.5L717.6 937.0L717.7 938.5L717.8 940.0L718.0 941.5L718.2 943.0L718.5 944.5L718.8 946.0L719.1 947.5L719.4 949.0L719.7 950.5L720.0 952.0L720.2 953.5L720.5 955.0L720.9 956.5L721.4 958.0L721.9 959.5L722.5 961.0L723.2 962.5L723.8 964.0L724.4 965.5L725.0 967.0L725.6 968.5L726.1 970.0L726.5 971.5L727.0 973.0L727.5 974.5L728.2 976.0L729.1 977.5L730.0 979.0L730.9 980.5L731.7 982.0L732.4 983.5L733.0 985.0L733.5 986.5L733.9 988.0L734.4 989.5L734.9 991.0L735.4 992.5L735.7 994.0L735.7 995.5L735.3 997.0L734.7 998.5L734.0 1000.0L733.2 1001.5L732.4 1003.0L731.6 1004.5L730.9 1006.0L730.3 1007.5L729.7 1009.0L729.2 1010.5L728.5 1012.0L727.7 1013.5L726.7 1015.0L725.7 1016.5L724.7 1018.0L723.7 1019.5L722.8 1021.0L722.1 1022.5L721.5 1024.0L721.1 1025.5L720.8 1027.0L720.4 1028.5L720.0 1030.0L719.6 1031.5L719.1 1033.0L718.7 1034.5L718.3 1036.0L718.0 1037.5L717.8 1039.0L717.7 1040.5L717.6 1042.0L717.5 1043.5L717.4 1045.0L717.4 1046.5L717.2 1048.0L717.1 1049.5L717.0 1051.0L716.9 1052.5L716.8 1054.0L716.7 1055.5L716.6 1057.0L716.6 1058.5L716.5 1060.0L716.5 1061.0L716.2 1061.0Z" fill="#38BAC2" stroke="#3a3a3a" stroke-width="0.8" stroke-linejoin="round"/>
<path d="M760.2 959.6L758.2 959.6L757.9 961.1L757.6 962.6L757.2 964.1L756.7 965.6L756.2 967.1L755.7 968.6L755.2 970.1L754.8 971.6L754.4 973.1L754.0 974.6L753.7 976.1L753.2 977.6L752.6 979.1L751.8 980.6L750.9 982.1L750.0 983.6L749.1 985.1L748.2 986.6L747.5 988.1L746.8 989.6L746.2 991.1L745.5 992.6L744.6 994.1L743.6 995.6L742.6 997.1L741.7 998.6L741.2 1000.1L741.0 1001.6L741.1 1003.1L741.3 1004.6L741.6 1006.1L741.8 1007.6L742.1 1009.1L742.3 1010.6L742.4 1012.1L742.5 1013.6L742.5 1015.1L742.4 1016.6L742.2 1018.1L742.1 1019.6L741.9 1021.1L741.9 1022.6L742.0 1024.1L742.6 1025.6L743.7 1027.1L745.0 1028.6L746.4 1030.1L747.7 1031.6L748.8 1033.1L749.8 1034.6L750.9 1036.1L752.2 1037.6L753.5 1039.1L754.8 1040.6L755.8 1042.1L756.6 1043.6L757.2 1045.1L757.8 1046.6L758.5 1048.1L759.1 1049.6L759.5 1051.1L759.8 1052.6L759.9 1054.1L759.9 1055.6L759.9 1057.1L759.9 1058.6L759.9 1060.1L759.9 1061.6L760.0 1063.1L760.0 1064.6L760.0 1066.1L760.0 1067.6L760.0 1069.1L760.0 1070.6L760.0 1072.0L760.2 1072.0Z" fill="#F3938A" stroke="#3a3a3a" stroke-width="0.8" stroke-linejoin="round"/>
<path d="M760.2 924.0L760.4 924.0L760.4 925.5L760.4 927.0L760.4 928.5L760.5 930.0L760.5 931.5L760.5 933.0L760.5 934.5L760.5 936.0L760.6 937.5L760.6 939.0L760.6 940.5L760.6 942.0L760.7 943.5L760.7 945.0L760.7 946.5L760.8 948.0L760.9 949.5L761.2 951.0L761.7 952.5L762.1 954.0L762.6 955.5L763.1 957.0L763.6 958.5L764.0 960.0L764.4 961.5L764.8 963.0L765.3 964.5L765.9 966.0L766.7 967.5L767.5 969.0L768.4 970.5L769.3 972.0L770.1 973.5L770.7 975.0L771.3 976.5L771.9 978.0L772.7 979.5L773.5 981.0L774.4 982.5L775.3 984.0L776.1 985.5L776.7 987.0L777.2 988.5L777.7 990.0L778.3 991.5L778.9 993.0L779.5 994.5L779.8 996.0L779.7 997.5L779.2 999.0L778.4 1000.5L777.4 1002.0L776.5 1003.5L775.5 1005.0L774.6 1006.5L773.9 1008.0L773.3 1009.5L772.7 1011.0L772.0 1012.5L771.3 1014.0L770.4 1015.5L769.5 1017.0L768.6 1018.5L767.7 1020.0L767.0 1021.5L766.3 1023.0L765.9 1024.5L765.5 1026.0L765.1 1027.5L764.6 1029.0L764.2 1030.5L763.6 1032.0L763.1 1033.5L762.7 1035.0L762.3 1036.5L761.9 1038.0L761.8 1039.5L761.7 1041.0L761.6 1042.5L761.6 1044.0L761.5 1045.5L761.4 1047.0L761.4 1048.5L761.3 1050.0L761.2 1051.5L761.2 1053.0L761.1 1054.5L761.0 1056.0L761.0 1057.5L760.9 1059.0L760.8 1060.5L760.7 1062.0L760.7 1063.5L760.6 1065.0L760.6 1066.5L760.5 1068.0L760.5 1069.5L760.4 1071.0L760.4 1072.0L760.2 1072.0Z" fill="#38BAC2" stroke="#3a3a3a" stroke-width="0.8" stroke-linejoin="round"/>
<path d="M804.1 954.6L802.1 954.6L801.9 956.1L801.6 957.6L801.3 959.1L801.0 960.6L800.6 962.1L800.2 963.6L799.8 965.1L799.5 966.6L799.2 968.1L798.8 969.6L798.2 971.1L797.4 972.6L796.5 974.1L795.4 975.6L794.4 977.1L793.3 978.6L792.4 980.1L791.6 981.6L791.0 983.1L790.7 984.6L790.5 986.1L790.4 987.6L790.2 989.1L790.1 990.6L789.9 992.1L789.8 993.6L789.6 995.1L789.3 996.6L788.9 998.1L788.4 999.6L787.9 1001.1L787.3 1002.6L786.7 1004.1L786.2 1005.6L785.8 1007.1L785.4 1008.6L785.3 1010.1L785.2 1011.6L785.3 1013.1L785.4 1014.6L785.5 1016.1L785.5 1017.6L785.6 1019.1L785.8 1020.6L786.1 1022.1L786.6 1023.6L787.2 1025.1L787.8 1026.6L788.5 1028.1L789.0 1029.6L789.6 1031.1L790.1 1032.6L790.9 1034.1L791.8 1035.6L792.8 1037.1L793.6 1038.6L794.3 1040.1L794.8 1041.6L795.1 1042.6L804.1 1042.6Z" fill="#F3938A" stroke="#3a3a3a" stroke-width="0.8" stroke-linejoin="round"/>
<path d="M804.1 923.0L804.4 923.0L804.4 924.5L804.4 926.0L804.4 927.5L804.4 929.0L804.4 930.5L804.4 932.0L804.5 933.5L804.5 935.0L804.5 936.5L804.5 938.0L804.6 939.5L804.6 941.0L804.6 942.5L804.6 944.0L804.6 945.5L804.7 947.0L804.9 948.5L805.3 950.0L806.0 951.5L806.8 953.0L807.7 954.5L808.5 956.0L809.3 957.5L809.9 959.0L810.6 960.5L811.4 962.0L812.4 963.5L813.5 965.0L814.6 966.5L815.7 968.0L816.8 969.5L817.6 971.0L818.3 972.5L818.9 974.0L819.5 975.5L820.2 977.0L820.9 978.5L821.6 980.0L822.3 981.5L822.8 983.0L823.1 984.5L823.3 986.0L823.6 987.5L823.8 989.0L824.0 990.5L824.2 992.0L824.1 993.5L823.9 995.0L823.5 996.5L823.1 998.0L822.7 999.5L822.3 1001.0L821.8 1002.5L821.2 1004.0L820.3 1005.5L819.3 1007.0L818.3 1008.5L817.3 1010.0L816.5 1011.5L815.8 1013.0L815.3 1014.5L814.7 1016.0L814.0 1017.5L813.3 1019.0L812.5 1020.5L811.9 1022.0L811.3 1023.5L810.9 1025.0L810.4 1026.5L809.8 1028.0L809.1 1029.5L808.4 1031.0L807.8 1032.5L807.3 1034.0L806.8 1035.5L806.5 1037.0L806.2 1038.5L805.9 1040.0L805.7 1041.5L805.4 1042.6L804.1 1042.6Z" fill="#38BAC2" stroke="#3a3a3a" stroke-width="0.8" stroke-linejoin="round"/>
<path d="M848.1 954.0L847.6 954.0L847.4 955.5L847.1 957.0L846.8 958.5L846.4 960.0L846.0 961.5L845.6 963.0L845.2 964.5L844.9 966.0L844.6 967.5L844.2 969.0L843.7 970.5L842.8 972.0L841.9 973.5L840.8 975.0L839.8 976.5L838.9 978.0L838.1 979.5L837.4 981.0L836.6 982.5L835.7 984.0L834.6 985.5L833.6 987.0L832.7 988.5L831.9 990.0L831.3 991.5L830.9 993.0L830.3 994.5L829.8 996.0L829.2 997.5L828.6 999.0L828.1 1000.5L827.9 1002.0L827.8 1003.5L827.9 1005.0L828.1 1006.5L828.2 1008.0L828.4 1009.5L828.5 1011.0L828.7 1012.5L829.1 1014.0L829.8 1015.5L830.7 1017.0L831.7 1018.5L832.7 1020.0L833.6 1021.5L834.5 1023.0L835.2 1024.5L835.9 1026.0L836.8 1027.5L837.9 1029.0L839.0 1030.5L840.1 1032.0L841.0 1033.5L841.7 1035.0L842.3 1036.5L842.8 1038.0L843.4 1039.5L844.1 1041.0L844.7 1042.5L845.3 1044.0L845.8 1045.5L846.1 1047.0L846.4 1048.5L846.6 1050.0L846.8 1051.5L847.0 1053.0L847.2 1054.5L847.4 1056.0L847.6 1057.5L847.8 1059.0L847.9 1060.0L848.1 1060.0Z" fill="#F3938A" stroke="#3a3a3a" stroke-width="0.8" stroke-linejoin="round"/>
<path d="M848.1 900.0L848.3 900.0L848.3 901.5L848.3 903.0L848.3 904.5L848.3 906.0L848.4 907.5L848.4 909.0L848.4 910.5L848.4 912.0L848.4 913.5L848.4 915.0L848.5 916.5L848.5 918.0L848.5 919.5L848.5 921.0L848.5 922.5L848.6 924.0L848.6 925.5L848.6 927.0L848.6 928.5L848.6 930.0L848.6 931.5L848.7 933.0L848.7 934.5L848.7 936.0L848.7 937.5L848.8 939.0L849.1 940.5L849.5 942.0L850.0 943.5L850.6 945.0L851.2 946.5L851.8 948.0L852.4 949.5L852.9 951.0L853.3 952.5L853.7 954.0L854.2 955.5L854.7 957.0L855.4 958.5L856.1 960.0L856.9 961.5L857.6 963.0L858.3 964.5L858.8 966.0L859.3 967.5L859.8 969.0L860.4 970.5L861.2 972.0L862.0 973.5L862.7 975.0L863.5 976.5L864.1 978.0L864.6 979.5L865.0 981.0L865.4 982.5L865.9 984.0L866.5 985.5L867.0 987.0L867.4 988.5L867.8 990.0L867.8 991.5L867.5 993.0L866.9 994.5L866.3 996.0L865.7 997.5L865.2 999.0L864.7 1000.5L864.1 1002.0L863.3 1003.5L862.4 1005.0L861.3 1006.5L860.3 1008.0L859.3 1009.5L858.5 1011.0L857.8 1012.5L857.3 1014.0L856.8 1015.5L856.2 1017.0L855.6 1018.5L854.9 1020.0L854.2 1021.5L853.5 1023.0L852.9 1024.5L852.4 1026.0L852.0 1027.5L851.7 1029.0L851.4 1030.5L851.1 1032.0L850.7 1033.5L850.3 1035.0L850.0 1036.5L849.6 1038.0L849.4 1039.5L849.2 1041.0L849.1 1042.5L849.0 1044.0L848.9 1045.5L848.9 1047.0L848.8 1048.5L848.7 1050.0L848.6 1051.5L848.6 1053.0L848.5 1054.5L848.4 1056.0L848.4 1057.5L848.3 1059.0L848.3 1060.0L848.1 1060.0Z" fill="#38BAC2" stroke="#3a3a3a" stroke-width="0.8" stroke-linejoin="round"/>
<path d="M892.0 974.4L891.6 974.4L891.0 975.9L890.2 977.4L889.3 978.9L888.3 980.4L887.3 981.9L886.3 983.4L885.4 984.9L884.7 986.4L884.0 987.9L883.3 989.4L882.3 990.9L881.3 992.4L880.1 993.9L879.0 995.4L878.0 996.9L877.1 998.4L876.4 999.9L875.8 1001.4L875.4 1002.9L874.8 1004.4L874.2 1005.9L873.6 1007.4L873.0 1008.9L872.5 1010.4L872.1 1011.9L872.0 1013.4L872.3 1014.9L873.0 1016.4L873.8 1017.9L874.7 1019.4L875.5 1020.9L876.3 1022.4L877.0 1023.9L877.8 1025.4L879.0 1026.9L880.4 1028.4L881.9 1029.9L883.5 1031.4L885.0 1032.9L886.1 1034.4L887.0 1035.9L887.6 1037.4L888.1 1038.9L888.7 1040.4L889.4 1041.9L890.0 1043.4L890.5 1044.9L890.9 1046.4L891.1 1047.9L891.2 1049.4L891.3 1050.9L891.4 1052.4L891.5 1053.9L891.6 1055.4L891.7 1056.9L891.8 1058.4L891.8 1059.9L891.8 1060.0L892.0 1060.0Z" fill="#F3938A" stroke="#3a3a3a" stroke-width="0.8" stroke-linejoin="round"/>
<path d="M892.0 945.7L892.2 945.7L892.3 947.2L892.3 948.7L892.4 950.2L892.4 951.7L892.5 953.2L892.5 954.7L892.6 956.2L892.6 957.7L892.8 959.2L893.2 960.7L893.8 962.2L894.6 963.7L895.5 965.2L896.3 966.7L897.0 968.2L897.7 969.7L898.7 971.2L899.8 972.7L901.1 974.2L902.2 975.7L903.1 977.2L903.6 978.7L903.9 980.2L904.1 981.7L904.2 983.2L904.4 984.7L904.6 986.2L904.8 987.7L904.9 989.2L905.1 990.7L905.5 992.2L905.9 993.7L906.6 995.2L907.2 996.7L907.9 998.2L908.5 999.7L909.0 1001.2L909.4 1002.7L909.8 1004.2L910.3 1005.7L910.8 1007.2L911.3 1008.7L911.6 1010.2L911.6 1011.7L911.0 1013.2L910.1 1014.7L909.1 1016.2L908.1 1017.7L907.1 1019.2L905.8 1020.7L904.0 1022.2L902.1 1023.7L900.2 1025.2L898.5 1026.7L897.3 1028.2L896.2 1029.7L895.3 1031.0L892.0 1031.0Z" fill="#38BAC2" stroke="#3a3a3a" stroke-width="0.8" stroke-linejoin="round"/>
<path d="M936.0 972.6L935.6 972.6L935.2 974.1L934.7 975.6L934.1 977.1L933.5 978.6L932.9 980.1L932.3 981.6L931.8 983.1L931.3 984.6L930.7 986.1L929.9 987.6L929.0 989.1L928.2 990.6L927.4 992.1L926.6 993.6L926.0 995.1L925.1 996.6L924.1 998.1L922.9 999.6L921.6 1001.1L920.4 1002.6L919.3 1004.1L918.5 1005.6L918.0 1007.1L917.5 1008.6L916.9 1010.1L916.5 1011.6L916.3 1013.1L916.4 1014.6L916.8 1016.1L917.3 1017.6L917.8 1019.1L918.3 1020.6L918.8 1022.1L919.5 1023.6L920.4 1025.1L921.6 1026.6L922.9 1028.1L924.2 1029.6L925.4 1031.1L926.4 1032.6L927.2 1034.1L927.9 1035.6L928.6 1037.1L929.5 1038.6L930.4 1040.1L931.3 1041.6L932.0 1043.1L932.5 1044.6L932.9 1046.1L933.2 1047.6L933.6 1049.1L934.0 1050.6L934.4 1052.1L934.9 1053.6L935.2 1055.1L935.5 1056.6L935.8 1058.0L936.0 1058.0Z" fill="#F3938A" stroke="#3a3a3a" stroke-width="0.8" stroke-linejoin="round"/>
<path d="M936.0 956.0L936.2 956.0L936.3 957.5L936.4 959.0L936.6 960.5L937.0 962.0L937.6 963.5L938.4 965.0L939.4 966.5L940.4 968.0L941.3 969.5L942.2 971.0L942.9 972.5L943.8 974.0L944.8 975.5L946.0 977.0L947.4 978.5L948.7 980.0L949.8 981.5L950.7 983.0L951.5 984.5L952.2 986.0L953.0 987.5L953.9 989.0L954.7 990.5L955.3 992.0L955.6 993.5L955.7 995.0L955.6 996.5L955.5 998.0L955.4 999.5L955.2 1001.0L955.1 1002.5L955.0 1004.0L955.0 1005.5L955.0 1007.0L955.1 1008.5L955.2 1010.0L955.4 1011.5L955.5 1013.0L955.6 1014.5L955.6 1016.0L955.2 1017.5L954.2 1019.0L952.8 1020.5L951.3 1022.0L949.8 1023.5L948.5 1025.0L947.4 1026.5L946.4 1028.0L945.3 1029.5L944.0 1031.0L942.8 1032.5L941.8 1034.0L941.0 1035.2L936.0 1035.2Z" fill="#38BAC2" stroke="#3a3a3a" stroke-width="0.8" stroke-linejoin="round"/>
<path d="M980.0 969.0L979.7 969.0L979.4 970.5L979.0 972.0L978.6 973.5L978.2 975.0L977.8 976.5L977.3 978.0L976.9 979.5L976.5 981.0L976.1 982.5L975.7 984.0L975.2 985.5L974.5 987.0L973.6 988.5L972.7 990.0L971.8 991.5L971.1 993.0L970.4 994.5L969.6 996.0L968.6 997.5L967.4 999.0L966.1 1000.5L964.7 1002.0L963.6 1003.5L962.6 1005.0L962.0 1006.5L961.6 1008.0L961.3 1009.5L961.0 1011.0L960.6 1012.5L960.4 1014.0L960.2 1015.5L960.2 1017.0L960.2 1018.5L960.2 1020.0L960.2 1021.5L960.2 1023.0L960.5 1024.5L961.3 1026.0L962.4 1027.5L963.6 1029.0L964.7 1030.5L965.7 1032.0L966.6 1033.5L967.7 1035.0L969.0 1036.5L970.3 1038.0L971.7 1039.5L972.8 1041.0L973.7 1042.5L974.4 1044.0L975.0 1045.5L975.7 1047.0L976.5 1048.5L977.3 1050.0L978.0 1051.5L978.5 1053.0L978.9 1054.5L979.1 1056.0L979.3 1057.5L979.5 1059.0L979.6 1060.5L979.8 1062.0L980.0 1062.0Z" fill="#F3938A" stroke="#3a3a3a" stroke-width="0.8" stroke-linejoin="round"/>
<path d="M980.0 958.3L988.9 958.3L988.7 959.8L988.6 961.3L988.4 962.8L988.2 964.3L988.1 965.8L988.1 967.3L988.3 968.8L988.7 970.3L989.1 971.8L989.5 973.3L989.9 974.8L990.3 976.3L990.7 977.8L991.3 979.3L992.0 980.8L993.0 982.3L994.0 983.8L995.0 985.3L995.9 986.8L996.7 988.3L997.2 989.8L997.7 991.3L998.2 992.8L998.7 994.3L999.2 995.8L999.6 997.3L999.7 998.8L999.5 1000.3L999.0 1001.8L998.5 1003.3L998.0 1004.8L997.5 1006.3L997.0 1007.8L996.4 1009.3L995.6 1010.8L994.7 1012.3L993.6 1013.8L992.6 1015.3L991.7 1016.8L991.0 1018.3L990.4 1019.8L990.0 1020.7L980.0 1020.7Z" fill="#38BAC2" stroke="#3a3a3a" stroke-width="0.8" stroke-linejoin="round"/>
<path d="M1023.9 960.6L1023.7 960.6L1023.7 962.1L1023.6 963.6L1023.6 965.1L1023.6 966.6L1023.5 968.1L1023.5 969.6L1023.4 971.1L1023.4 972.6L1023.3 974.1L1023.3 975.6L1023.1 977.1L1022.8 978.6L1022.3 980.1L1021.8 981.6L1021.3 983.1L1020.9 984.6L1020.5 986.1L1020.0 987.6L1019.5 989.1L1018.8 990.6L1017.9 992.1L1017.0 993.6L1016.1 995.1L1015.4 996.6L1014.7 998.1L1014.1 999.6L1013.3 1001.1L1012.4 1002.6L1011.4 1004.1L1010.3 1005.6L1009.4 1007.1L1008.7 1008.6L1008.1 1010.1L1007.6 1011.6L1007.1 1013.1L1006.5 1014.6L1005.9 1016.1L1005.2 1017.6L1004.6 1019.1L1004.1 1020.6L1003.9 1022.1L1004.1 1023.6L1004.7 1025.1L1005.5 1026.6L1006.3 1028.1L1007.2 1029.6L1008.1 1031.1L1009.4 1032.6L1011.0 1034.1L1012.6 1035.6L1014.0 1037.1L1015.2 1038.6L1016.1 1040.1L1016.9 1041.6L1017.9 1043.1L1018.9 1044.6L1019.9 1046.1L1020.6 1047.6L1021.1 1049.1L1021.4 1050.6L1021.7 1052.1L1022.0 1053.6L1022.4 1055.1L1022.7 1056.6L1023.0 1058.1L1023.3 1059.6L1023.5 1061.1L1023.7 1062.0L1023.9 1062.0Z" fill="#F3938A" stroke="#3a3a3a" stroke-width="0.8" stroke-linejoin="round"/>
<path d="M1023.9 983.7L1042.9 983.7L1042.7 985.2L1042.4 986.7L1042.1 988.2L1041.8 989.7L1041.5 991.2L1041.2 992.7L1040.8 994.2L1040.2 995.7L1039.7 997.2L1039.2 998.7L1039.0 1000.2L1039.2 1001.7L1039.7 1003.2L1040.3 1004.7L1040.8 1006.2L1041.3 1007.7L1041.8 1009.2L1042.3 1010.7L1042.8 1012.2L1043.2 1013.7L1043.4 1015.2L1043.4 1016.7L1043.2 1017.4L1023.9 1017.4Z" fill="#38BAC2" stroke="#3a3a3a" stroke-width="0.8" stroke-linejoin="round"/>
<g fill="#171314">
<text x="15" y="21" font-size="17" font-weight="bold" fill="#000">A</text>
<text x="403" y="21" font-size="17" font-weight="bold" fill="#000">B</text>
<text x="831" y="21" font-size="17" font-weight="bold" fill="#000">C</text>
<text x="15" y="363" font-size="17" font-weight="bold" fill="#000">D</text>
<text x="715.5" y="344.5" font-size="17" font-weight="bold" fill="#000">F</text>
<text x="783" y="638" font-size="17" font-weight="bold" fill="#000">G</text>
<text x="15" y="904" font-size="17" font-weight="bold" fill="#000">E</text>
<text x="497" y="868" font-size="17" font-weight="bold" fill="#000">H</text>
<rect x="51" y="25" width="311" height="283" fill="none" stroke="#3a3a3a" stroke-width="1.15"/>
<text x="204" y="19.5" font-size="14" text-anchor="middle" textLength="108" lengthAdjust="spacingAndGlyphs">Skin + SDLN T<tspan font-size="10.1" dy="2">regs</tspan></text>
<path d="M47.5 93H51" stroke="#3a3a3a" stroke-width="1"/>
<text x="45" y="97.8" font-size="13.5" text-anchor="end">5</text>
<path d="M47.5 168.6H51" stroke="#3a3a3a" stroke-width="1"/>
<text x="45" y="173.4" font-size="13.5" text-anchor="end">0</text>
<path d="M47.5 244.3H51" stroke="#3a3a3a" stroke-width="1"/>
<text x="45" y="249.10000000000002" font-size="13.5" text-anchor="end">-5</text>
<path d="M103.5 308V311" stroke="#3a3a3a" stroke-width="1"/>
<text x="103" y="326.5" font-size="13.5" text-anchor="middle">-5</text>
<path d="M165.0 308V311" stroke="#3a3a3a" stroke-width="1"/>
<text x="164.5" y="326.5" font-size="13.5" text-anchor="middle">-2.5</text>
<path d="M227.3 308V311" stroke="#3a3a3a" stroke-width="1"/>
<text x="226.8" y="326.5" font-size="13.5" text-anchor="middle">0</text>
<path d="M288.0 308V311" stroke="#3a3a3a" stroke-width="1"/>
<text x="287.5" y="326.5" font-size="13.5" text-anchor="middle">2.5</text>
<path d="M349.0 308V311" stroke="#3a3a3a" stroke-width="1"/>
<text x="348.5" y="326.5" font-size="13.5" text-anchor="middle">5</text>
<text x="205.5" y="338.5" font-size="14" text-anchor="middle" textLength="54" lengthAdjust="spacingAndGlyphs">UMAP_1</text>
<text x="32" y="168" font-size="14" text-anchor="middle" textLength="54" lengthAdjust="spacingAndGlyphs" transform="rotate(-90 32 168)">UMAP_2</text>
<circle cx="372" cy="43" r="6.2" fill="#F07B72"/>
<text x="381" y="48" font-size="14">1</text>
<circle cx="372" cy="68" r="6.2" fill="#D99136"/>
<text x="381" y="73" font-size="14">2</text>
<circle cx="372" cy="93" r="6.2" fill="#ADA340"/>
<text x="381" y="98" font-size="14">3</text>
<circle cx="372" cy="118" r="6.2" fill="#6DB44E"/>
<text x="381" y="123" font-size="14">4</text>
<circle cx="372" cy="143" r="6.2" fill="#41B062"/>
<text x="381" y="148" font-size="14">5</text>
<circle cx="372" cy="168" r="6.2" fill="#3FB6A1"/>
<text x="381" y="173" font-size="14">6</text>
<circle cx="372" cy="193" r="6.2" fill="#31B7DD"/>
<text x="381" y="198" font-size="14">7</text>
<circle cx="372" cy="218" r="6.2" fill="#4F9BD5"/>
<text x="381" y="223" font-size="14">8</text>
<circle cx="372" cy="243" r="6.2" fill="#9C85C2"/>
<text x="381" y="248" font-size="14">9</text>
<circle cx="372" cy="268" r="6.2" fill="#C273AF"/>
<text x="381" y="273" font-size="14">10</text>
<circle cx="372" cy="293" r="6.2" fill="#E969A3"/>
<text x="381" y="298" font-size="14">11</text>
<text x="233" y="60" font-size="13.5" text-anchor="middle" font-weight="bold" fill="#111">4</text>
<text x="343" y="64" font-size="13.5" text-anchor="middle" font-weight="bold" fill="#111">11</text>
<text x="167" y="105" font-size="13.5" text-anchor="middle" font-weight="bold" fill="#111">5</text>
<text x="226" y="111" font-size="13.5" text-anchor="middle" font-weight="bold" fill="#111">7</text>
<text x="291" y="108" font-size="13.5" text-anchor="middle" font-weight="bold" fill="#111">6</text>
<text x="190" y="188" font-size="13.5" text-anchor="middle" font-weight="bold" fill="#111">2</text>
<text x="302" y="193.5" font-size="13.5" text-anchor="middle" font-weight="bold" fill="#111">10</text>
<text x="227" y="210" font-size="13.5" text-anchor="middle" font-weight="bold" fill="#111">9</text>
<text x="263" y="243" font-size="13.5" text-anchor="middle" font-weight="bold" fill="#111">3</text>
<text x="188" y="250.5" font-size="13.5" text-anchor="middle" font-weight="bold" fill="#111">1</text>
<text x="267" y="290" font-size="13.5" text-anchor="middle" font-weight="bold" fill="#111">8</text>
<rect x="412" y="73" width="203.3" height="186.5" fill="none" stroke="#3a3a3a" stroke-width="1.2"/>
<rect x="619.5" y="73" width="203.3" height="186.5" fill="none" stroke="#3a3a3a" stroke-width="1.2"/>
<text x="517" y="65.5" font-size="14" text-anchor="middle" textLength="59" lengthAdjust="spacingAndGlyphs">Skin T<tspan font-size="10.1" dy="2">regs</tspan></text>
<text x="716.5" y="65.5" font-size="14" text-anchor="middle" textLength="67" lengthAdjust="spacingAndGlyphs">SDLN T<tspan font-size="10.1" dy="2">regs</tspan></text>
<text x="516.5" y="275.5" font-size="14" text-anchor="middle" textLength="53" lengthAdjust="spacingAndGlyphs">UMAP_1</text>
<text x="724" y="275.5" font-size="14" text-anchor="middle" textLength="53" lengthAdjust="spacingAndGlyphs">UMAP_1</text>
<text x="407" y="166" font-size="14" text-anchor="middle" textLength="53" lengthAdjust="spacingAndGlyphs" transform="rotate(-90 407 166)">UMAP_2</text>
<rect x="907.6" y="257.30" width="47.2" height="25.10" fill="#D99136" stroke="#1e1e1e" stroke-width="0.8"/>
<rect x="907.6" y="254.51" width="47.2" height="2.79" fill="#ADA340" stroke="#1e1e1e" stroke-width="0.8"/>
<rect x="907.6" y="203.81" width="47.2" height="50.70" fill="#6DB44E" stroke="#1e1e1e" stroke-width="0.8"/>
<rect x="907.6" y="144.50" width="47.2" height="59.32" fill="#41B062" stroke="#1e1e1e" stroke-width="0.8"/>
<rect x="907.6" y="93.80" width="47.2" height="50.70" fill="#3FB6A1" stroke="#1e1e1e" stroke-width="0.8"/>
<rect x="907.6" y="45.63" width="47.2" height="48.17" fill="#31B7DD" stroke="#1e1e1e" stroke-width="0.8"/>
<rect x="907.6" y="44.36" width="47.2" height="1.27" fill="#4F9BD5" stroke="#1e1e1e" stroke-width="0.8"/>
<rect x="907.6" y="42.08" width="47.2" height="2.28" fill="#9C85C2" stroke="#1e1e1e" stroke-width="0.8"/>
<rect x="907.6" y="35.49" width="47.2" height="6.59" fill="#C273AF" stroke="#1e1e1e" stroke-width="0.8"/>
<rect x="907.6" y="26.62" width="47.2" height="8.87" fill="#E969A3" stroke="#1e1e1e" stroke-width="0.8"/>
<rect x="980.3" y="205.59" width="47.2" height="76.81" fill="#F07B72" stroke="#1e1e1e" stroke-width="0.8"/>
<rect x="980.3" y="155.40" width="47.2" height="50.19" fill="#D99136" stroke="#1e1e1e" stroke-width="0.8"/>
<rect x="980.3" y="101.40" width="47.2" height="54.00" fill="#ADA340" stroke="#1e1e1e" stroke-width="0.8"/>
<rect x="980.3" y="89.49" width="47.2" height="11.91" fill="#6DB44E" stroke="#1e1e1e" stroke-width="0.8"/>
<rect x="980.3" y="87.97" width="47.2" height="1.52" fill="#41B062" stroke="#1e1e1e" stroke-width="0.8"/>
<rect x="980.3" y="84.16" width="47.2" height="3.80" fill="#3FB6A1" stroke="#1e1e1e" stroke-width="0.8"/>
<rect x="980.3" y="79.85" width="47.2" height="4.31" fill="#31B7DD" stroke="#1e1e1e" stroke-width="0.8"/>
<rect x="980.3" y="57.29" width="47.2" height="22.56" fill="#4F9BD5" stroke="#1e1e1e" stroke-width="0.8"/>
<rect x="980.3" y="40.31" width="47.2" height="16.98" fill="#9C85C2" stroke="#1e1e1e" stroke-width="0.8"/>
<rect x="980.3" y="31.05" width="47.2" height="9.25" fill="#C273AF" stroke="#1e1e1e" stroke-width="0.8"/>
<rect x="980.3" y="26.62" width="47.2" height="4.44" fill="#E969A3" stroke="#1e1e1e" stroke-width="0.8"/>
<path d="M883.3 28.4V282.4H1052.3" fill="none" stroke="#3a3a3a" stroke-width="1.2"/>
<path d="M875 282.4H883.3" stroke="#3a3a3a" stroke-width="1.1"/>
<text x="871.8" y="287.4" font-size="14" text-anchor="end">0</text>
<path d="M875 231.7H883.3" stroke="#3a3a3a" stroke-width="1.1"/>
<text x="871.8" y="236.7" font-size="14" text-anchor="end">20</text>
<path d="M875 181.0H883.3" stroke="#3a3a3a" stroke-width="1.1"/>
<text x="871.8" y="185.99999999999997" font-size="14" text-anchor="end">40</text>
<path d="M875 130.3H883.3" stroke="#3a3a3a" stroke-width="1.1"/>
<text x="871.8" y="135.29999999999995" font-size="14" text-anchor="end">60</text>
<path d="M875 79.6H883.3" stroke="#3a3a3a" stroke-width="1.1"/>
<text x="871.8" y="84.59999999999997" font-size="14" text-anchor="end">80</text>
<path d="M875 28.9H883.3" stroke="#3a3a3a" stroke-width="1.1"/>
<text x="871.8" y="33.89999999999998" font-size="14" text-anchor="end">100</text>
<path d="M931.2 282.4V291" stroke="#3a3a3a" stroke-width="1.1"/>
<path d="M1003.9 282.4V291" stroke="#3a3a3a" stroke-width="1.1"/>
<text x="939" y="297" font-size="13.5" text-anchor="end" transform="rotate(-48 939 297)">Skin</text>
<text x="1011" y="297" font-size="13.5" text-anchor="end" transform="rotate(-48 1011 297)">SDLN</text>
<text x="846" y="155" font-size="14" text-anchor="middle" transform="rotate(-90 846 155)" textLength="160" lengthAdjust="spacingAndGlyphs">% in cluster of total T<tspan font-size="10.1" dy="2">regs</tspan></text>
<text x="214.5" y="360" font-size="14" textLength="384" lengthAdjust="spacingAndGlyphs">Top DE genes between all clusters (log N fold change &gt; 0.25)</text>
<rect x="109.3" y="364.4" width="106.4" height="19.9" fill="#F07B72"/>
<text x="162.5" y="379.4" font-size="14.5" text-anchor="middle" font-weight="bold" fill="#000">1</text>
<rect x="216.7" y="364.4" width="92.0" height="19.9" fill="#D99136"/>
<text x="262.7" y="379.4" font-size="14.5" text-anchor="middle" font-weight="bold" fill="#000">2</text>
<rect x="309.7" y="364.4" width="76.0" height="19.9" fill="#ADA340"/>
<text x="347.7" y="379.4" font-size="14.5" text-anchor="middle" font-weight="bold" fill="#000">3</text>
<rect x="386.7" y="364.4" width="63.9" height="19.9" fill="#6DB44E"/>
<text x="418.65" y="379.4" font-size="14.5" text-anchor="middle" font-weight="bold" fill="#000">4</text>
<rect x="451.7" y="364.4" width="56.5" height="19.9" fill="#41B062"/>
<text x="479.95" y="379.4" font-size="14.5" text-anchor="middle" font-weight="bold" fill="#000">5</text>
<rect x="510" y="364.4" width="51.8" height="19.9" fill="#3FB6A1"/>
<text x="535.9" y="379.4" font-size="14.5" text-anchor="middle" font-weight="bold" fill="#000">6</text>
<rect x="563.2" y="364.4" width="49.3" height="19.9" fill="#31B7DD"/>
<text x="587.85" y="379.4" font-size="14.5" text-anchor="middle" font-weight="bold" fill="#000">7</text>
<rect x="614.2" y="364.4" width="31.3" height="19.9" fill="#4F9BD5"/>
<text x="629.85" y="381" font-size="14.5" text-anchor="middle" font-weight="bold" fill="#000">8</text>
<rect x="647.2" y="364.4" width="24.6" height="19.9" fill="#9C85C2"/>
<text x="659.5" y="381" font-size="14.5" text-anchor="middle" font-weight="bold" fill="#000">9</text>
<rect x="673.7" y="364.4" width="18.8" height="19.9" fill="#C273AF"/>
<text x="683.1" y="381" font-size="14.5" text-anchor="middle" font-weight="bold" fill="#000">10</text>
<rect x="694.2" y="364.4" width="7.6" height="19.9" fill="#E969A3"/>
<text x="697.2" y="352.6" font-size="15.5" text-anchor="middle" font-weight="bold" textLength="13.5" lengthAdjust="spacingAndGlyphs" fill="#000">11</text>
<path d="M692.2 354.5L697.3 364L702.4 354.5" fill="none" stroke="#222" stroke-width="0.9"/>
<rect x="15.4" y="385.6" width="93.3" height="47.8" fill="#F07B72"/>
<text x="61.5" y="403.6" font-size="11.8" text-anchor="end" font-style="italic" fill="#161212">Klf2</text>
<text x="61.5" y="414.5" font-size="11.8" text-anchor="end" font-style="italic" fill="#161212">Gimap4</text>
<text x="61.5" y="425.4" font-size="11.8" text-anchor="end" font-style="italic" fill="#161212">Bcl2</text>
<text x="105" y="403.6" font-size="11.8" text-anchor="end" font-style="italic" fill="#161212">Sell</text>
<text x="105" y="414.5" font-size="11.8" text-anchor="end" font-style="italic" fill="#161212">Ccr7</text>
<text x="105" y="425.4" font-size="11.8" text-anchor="end" font-style="italic" fill="#161212">Evl</text>
<rect x="15.4" y="433.4" width="93.3" height="48.2" fill="#D99136"/>
<text x="61.5" y="451" font-size="11.8" text-anchor="end" font-style="italic" fill="#161212">Slamf6</text>
<text x="61.5" y="462" font-size="11.8" text-anchor="end" font-style="italic" fill="#161212">Itgb1</text>
<text x="61.5" y="472.8" font-size="11.8" text-anchor="end" font-style="italic" fill="#161212">Cst7</text>
<text x="105" y="451" font-size="11.8" text-anchor="end" font-style="italic" fill="#161212">Izumo1r</text>
<text x="105" y="462" font-size="11.8" text-anchor="end" font-style="italic" fill="#161212">Id3</text>
<text x="105" y="472.8" font-size="11.8" text-anchor="end" font-style="italic" fill="#161212">Nrp1</text>
<rect x="15.4" y="481.6" width="93.3" height="33.8" fill="#ADA340"/>
<text x="105" y="491" font-size="11.8" text-anchor="end" font-style="italic" fill="#161212">Tuba1b</text>
<text x="105" y="501.8" font-size="11.8" text-anchor="end" font-style="italic" fill="#161212">Nop56</text>
<text x="105" y="512.6" font-size="11.8" text-anchor="end" font-style="italic" fill="#161212">Srm</text>
<rect x="15.4" y="515.4" width="93.3" height="48.0" fill="#6DB44E"/>
<text x="61.5" y="530.5" font-size="11.8" text-anchor="end" font-style="italic" fill="#161212">Gzmb</text>
<text x="61.5" y="541.5" font-size="11.8" text-anchor="end" font-style="italic" fill="#161212">Icos</text>
<text x="61.5" y="552.4" font-size="11.8" text-anchor="end" font-style="italic" fill="#161212">Glrx</text>
<text x="105" y="530.5" font-size="11.8" text-anchor="end" font-style="italic" fill="#161212">Ccr2</text>
<text x="105" y="541.5" font-size="11.8" text-anchor="end" font-style="italic" fill="#161212">Fgl2</text>
<text x="105" y="552.4" font-size="11.8" text-anchor="end" font-style="italic" fill="#161212">Ctla4</text>
<rect x="15.4" y="563.4" width="93.3" height="47.6" fill="#41B062"/>
<text x="61.5" y="578.5" font-size="11.8" text-anchor="end" font-style="italic" fill="#161212">Dusp2</text>
<text x="61.5" y="589.4" font-size="11.8" text-anchor="end" font-style="italic" fill="#161212">Areg</text>
<text x="61.5" y="600.2" font-size="11.8" text-anchor="end" font-style="italic" fill="#161212">Klf6</text>
<text x="105" y="578.5" font-size="11.8" text-anchor="end" font-style="italic" fill="#161212">Junb</text>
<text x="105" y="589.4" font-size="11.8" text-anchor="end" font-style="italic" fill="#161212">Nr4a1</text>
<text x="105" y="600.2" font-size="11.8" text-anchor="end" font-style="italic" fill="#161212">CD69</text>
<rect x="15.4" y="611" width="93.3" height="29.4" fill="#3FB6A1"/>
<text x="61.5" y="624" font-size="11.8" text-anchor="end" font-style="italic" textLength="45" lengthAdjust="spacingAndGlyphs" fill="#161212">S100A10</text>
<text x="61.5" y="635" font-size="11.8" text-anchor="end" font-style="italic" fill="#161212">Itgb7</text>
<text x="105" y="624" font-size="11.8" text-anchor="end" font-style="italic" fill="#161212">Pycard</text>
<text x="105" y="635" font-size="11.8" text-anchor="end" font-style="italic" fill="#161212">Il1rl1</text>
<rect x="15.4" y="640.4" width="93.3" height="43.0" fill="#31B7DD"/>
<text x="61.5" y="653.6" font-size="11.8" text-anchor="end" font-style="italic" fill="#161212">CD74</text>
<text x="61.5" y="664.6" font-size="11.8" text-anchor="end" font-style="italic" fill="#161212">CD83</text>
<text x="61.5" y="675.6" font-size="11.8" text-anchor="end" font-style="italic" fill="#161212">Icos</text>
<text x="105" y="653.6" font-size="11.8" text-anchor="end" font-style="italic" fill="#161212">Tnfrsf9</text>
<text x="105" y="664.6" font-size="11.8" text-anchor="end" font-style="italic" fill="#161212">Tnfrsf4</text>
<text x="105" y="675.6" font-size="11.8" text-anchor="end" font-style="italic" fill="#161212">Batf</text>
<rect x="15.4" y="683.4" width="93.3" height="48.0" fill="#4F9BD5"/>
<text x="61.5" y="700" font-size="11.8" text-anchor="end" font-style="italic" fill="#161212">Isg15</text>
<text x="61.5" y="711" font-size="11.8" text-anchor="end" font-style="italic" fill="#161212">Bst2</text>
<text x="105" y="700" font-size="11.8" text-anchor="end" font-style="italic" fill="#161212">Ifit1</text>
<text x="105" y="711" font-size="11.8" text-anchor="end" font-style="italic" fill="#161212">Ifit3</text>
<text x="105" y="722" font-size="11.8" text-anchor="end" font-style="italic" fill="#161212">Irf7</text>
<rect x="15.4" y="731.4" width="93.3" height="38.6" fill="#9C85C2"/>
<text x="61.5" y="749.6" font-size="11.8" text-anchor="end" font-style="italic" fill="#161212">Ccr7</text>
<text x="61.5" y="760.6" font-size="11.8" text-anchor="end" font-style="italic" fill="#161212">Zfos1</text>
<text x="105" y="749.6" font-size="11.8" text-anchor="end" font-style="italic" fill="#161212">Capn3</text>
<text x="105" y="760.6" font-size="11.8" text-anchor="end" font-style="italic" fill="#161212">Ctsw</text>
<rect x="15.4" y="770" width="93.3" height="34.2" fill="#C273AF"/>
<text x="61.5" y="786.6" font-size="11.8" text-anchor="end" font-style="italic" fill="#161212">Nme1</text>
<text x="61.5" y="797.6" font-size="11.8" text-anchor="end" font-style="italic" fill="#161212">Mif</text>
<text x="105" y="786.6" font-size="11.8" text-anchor="end" font-style="italic" fill="#161212">Eif5a</text>
<text x="105" y="797.6" font-size="11.8" text-anchor="end" font-style="italic" fill="#161212">Ncl</text>
<rect x="15.4" y="804.2" width="93.3" height="37.8" fill="#E969A3"/>
<text x="61.5" y="821.6" font-size="11.8" text-anchor="end" font-style="italic" fill="#161212">Stmn1</text>
<text x="61.5" y="832.6" font-size="11.8" text-anchor="end" font-style="italic" fill="#161212">Lig1</text>
<text x="105" y="821.6" font-size="11.8" text-anchor="end" font-style="italic" fill="#161212">Ccnb2</text>
<text x="105" y="832.6" font-size="11.8" text-anchor="end" font-style="italic" fill="#161212">Mki67</text>
<defs><linearGradient id="gD" x1="0" y1="0" x2="0" y2="1"><stop offset="0" stop-color="#f4f03c"/><stop offset="0.12" stop-color="#d8d43e"/><stop offset="0.3" stop-color="#8f8c36"/><stop offset="0.44" stop-color="#2d2c14"/><stop offset="0.5" stop-color="#000"/><stop offset="0.58" stop-color="#2a0d2e"/><stop offset="0.72" stop-color="#6a2670"/><stop offset="0.86" stop-color="#a544a4"/><stop offset="1" stop-color="#cf76c0"/></linearGradient></defs>
<rect x="724.9" y="739.6" width="20.8" height="102.9" fill="url(#gD)"/>
<path d="M724.9 750.5H727.5M743 750.5H745.7" stroke="#fff" stroke-opacity="0.55" stroke-width="0.8"/>
<text x="750" y="755.1" font-size="13">2</text>
<path d="M724.9 771H727.5M743 771H745.7" stroke="#fff" stroke-opacity="0.55" stroke-width="0.8"/>
<text x="750" y="775.6" font-size="13">1</text>
<path d="M724.9 791.5H727.5M743 791.5H745.7" stroke="#fff" stroke-opacity="0.55" stroke-width="0.8"/>
<text x="750" y="796.1" font-size="13">0</text>
<path d="M724.9 812.4H727.5M743 812.4H745.7" stroke="#fff" stroke-opacity="0.55" stroke-width="0.8"/>
<text x="750" y="817.0" font-size="13">-1</text>
<path d="M724.9 833H727.5M743 833H745.7" stroke="#fff" stroke-opacity="0.55" stroke-width="0.8"/>
<text x="750" y="837.6" font-size="13">-2</text>
<text x="715.2" y="842" font-size="13.2" transform="rotate(-90 715.2 842)" textLength="184" lengthAdjust="spacingAndGlyphs">Expression (log<tspan font-size="9" dy="3">2</tspan><tspan dy="-3"> fold change)</tspan></text>
<rect x="729.5" y="352" width="275.7" height="249.3" fill="none" stroke="#3a3a3a" stroke-width="1.2"/>
<text x="752" y="345" font-size="14.5" textLength="225" lengthAdjust="spacingAndGlyphs">Immune regulatory gene signature</text>
<text x="872.5" y="615.5" font-size="14" text-anchor="middle" textLength="53" lengthAdjust="spacingAndGlyphs">UMAP_1</text>
<text x="724" y="480" font-size="14" text-anchor="middle" textLength="53" lengthAdjust="spacingAndGlyphs" transform="rotate(-90 724 480)">UMAP_2</text>
<defs><linearGradient id="gF" x1="0" y1="0" x2="0" y2="1"><stop offset="0" stop-color="#27207f"/><stop offset="0.25" stop-color="#4b3a99"/><stop offset="0.55" stop-color="#8a76bd"/><stop offset="0.8" stop-color="#bcb3d3"/><stop offset="1" stop-color="#d9d9dc"/></linearGradient></defs>
<rect x="1024.5" y="502.5" width="19.5" height="97.5" fill="url(#gF)"/>
<text x="1047.5" y="514.0" font-size="12.5" textLength="15" lengthAdjust="spacingAndGlyphs">0.5</text>
<text x="1047.5" y="533.0" font-size="12.5" textLength="15" lengthAdjust="spacingAndGlyphs">0.4</text>
<text x="1047.5" y="551.5" font-size="12.5" textLength="15" lengthAdjust="spacingAndGlyphs">0.3</text>
<text x="1047.5" y="570.0" font-size="12.5" textLength="15" lengthAdjust="spacingAndGlyphs">0.2</text>
<text x="1047.5" y="588.0" font-size="12.5" textLength="15" lengthAdjust="spacingAndGlyphs">0.1</text>
<text x="1019" y="545" font-size="14" text-anchor="middle" textLength="112" lengthAdjust="spacingAndGlyphs" transform="rotate(-90 1019 545)">Scaled expression</text>
<path d="M832.5 633V863H1008.8" fill="none" stroke="#3a3a3a" stroke-width="1.2"/>
<path d="M828.5 643.3H832.5" stroke="#3a3a3a" stroke-width="1"/>
<text x="824" y="648.3" font-size="14" text-anchor="end">1</text>
<path d="M828.5 705H832.5" stroke="#3a3a3a" stroke-width="1"/>
<text x="824" y="710" font-size="14" text-anchor="end">0.5</text>
<path d="M828.5 766.5H832.5" stroke="#3a3a3a" stroke-width="1"/>
<text x="824" y="771.5" font-size="14" text-anchor="end">0</text>
<path d="M828.5 828.3H832.5" stroke="#3a3a3a" stroke-width="1"/>
<text x="824" y="833.3" font-size="14" text-anchor="end">-0.5</text>
<path d="M880.8 863V867" stroke="#3a3a3a" stroke-width="1"/>
<path d="M960.8 863V867" stroke="#3a3a3a" stroke-width="1"/>
<path d="M880.5 637.2H960" stroke="#3a3a3a" stroke-width="1"/>
<text x="920.5" y="637" font-size="13" text-anchor="middle" font-weight="bold" fill="#222">****</text>
<text x="787.5" y="751.7" font-size="12.6" text-anchor="middle" textLength="124.5" lengthAdjust="spacingAndGlyphs" transform="rotate(-90 787.5 751.7)">Immune regulatory</text>
<text x="802.7" y="749.5" font-size="12.6" text-anchor="middle" textLength="133" lengthAdjust="spacingAndGlyphs" transform="rotate(-90 802.7 749.5)">gene signature score</text>
<rect x="1010" y="658.8" width="12.3" height="12" fill="#F3938A" stroke="#555" stroke-width="0.8"/>
<rect x="1010" y="679.5" width="12.3" height="12" fill="#2DBBC4" stroke="#555" stroke-width="0.8"/>
<text x="1026.7" y="670.5" font-size="14" textLength="35" lengthAdjust="spacingAndGlyphs">SDLN</text>
<text x="1026.7" y="691.5" font-size="14" textLength="27" lengthAdjust="spacingAndGlyphs">Skin</text>
<rect x="56.50" y="952.5" width="20.55" height="20.6" fill="#FDF3B0" stroke="#2a2a2a" stroke-width="0.8"/>
<rect x="56.50" y="973.1" width="20.55" height="20.7" fill="#EEF2DA" stroke="#2a2a2a" stroke-width="0.8"/>
<rect x="77.05" y="952.5" width="20.55" height="20.6" fill="#E9F2E4" stroke="#2a2a2a" stroke-width="0.8"/>
<rect x="77.05" y="973.1" width="20.55" height="20.7" fill="#EAF2DD" stroke="#2a2a2a" stroke-width="0.8"/>
<rect x="97.60" y="952.5" width="20.55" height="20.6" fill="#FCF2B3" stroke="#2a2a2a" stroke-width="0.8"/>
<rect x="97.60" y="973.1" width="20.55" height="20.7" fill="#4170B2" stroke="#2a2a2a" stroke-width="0.8"/>
<rect x="118.15" y="952.5" width="20.55" height="20.6" fill="#CFE3EE" stroke="#2a2a2a" stroke-width="0.8"/>
<rect x="118.15" y="973.1" width="20.55" height="20.7" fill="#5385BD" stroke="#2a2a2a" stroke-width="0.8"/>
<rect x="138.70" y="952.5" width="20.55" height="20.6" fill="#B5D3E7" stroke="#2a2a2a" stroke-width="0.8"/>
<rect x="138.70" y="973.1" width="20.55" height="20.7" fill="#6595C6" stroke="#2a2a2a" stroke-width="0.8"/>
<rect x="159.25" y="952.5" width="20.55" height="20.6" fill="#E3F0EE" stroke="#2a2a2a" stroke-width="0.8"/>
<rect x="159.25" y="973.1" width="20.55" height="20.7" fill="#6C9BC9" stroke="#2a2a2a" stroke-width="0.8"/>
<rect x="179.80" y="952.5" width="20.55" height="20.6" fill="#A8CBE2" stroke="#2a2a2a" stroke-width="0.8"/>
<rect x="179.80" y="973.1" width="20.55" height="20.7" fill="#C0DCEA" stroke="#2a2a2a" stroke-width="0.8"/>
<rect x="200.35" y="952.5" width="20.55" height="20.6" fill="#4A78B5" stroke="#2a2a2a" stroke-width="0.8"/>
<rect x="200.35" y="973.1" width="20.55" height="20.7" fill="#4775B4" stroke="#2a2a2a" stroke-width="0.8"/>
<rect x="220.90" y="952.5" width="20.55" height="20.6" fill="#4571B2" stroke="#2a2a2a" stroke-width="0.8"/>
<rect x="220.90" y="973.1" width="20.55" height="20.7" fill="#4470B1" stroke="#2a2a2a" stroke-width="0.8"/>
<rect x="241.45" y="952.5" width="20.55" height="20.6" fill="#4E7DB8" stroke="#2a2a2a" stroke-width="0.8"/>
<rect x="241.45" y="973.1" width="20.55" height="20.7" fill="#4D7BB7" stroke="#2a2a2a" stroke-width="0.8"/>
<rect x="262.00" y="952.5" width="20.55" height="20.6" fill="#5D8DC0" stroke="#2a2a2a" stroke-width="0.8"/>
<rect x="262.00" y="973.1" width="20.55" height="20.7" fill="#4673B3" stroke="#2a2a2a" stroke-width="0.8"/>
<rect x="282.55" y="952.5" width="20.55" height="20.6" fill="#5A89BF" stroke="#2a2a2a" stroke-width="0.8"/>
<rect x="282.55" y="973.1" width="20.55" height="20.7" fill="#6594C5" stroke="#2a2a2a" stroke-width="0.8"/>
<rect x="303.10" y="952.5" width="20.55" height="20.6" fill="#A3C8E0" stroke="#2a2a2a" stroke-width="0.8"/>
<rect x="303.10" y="973.1" width="20.55" height="20.7" fill="#4674B4" stroke="#2a2a2a" stroke-width="0.8"/>
<rect x="323.65" y="952.5" width="20.55" height="20.6" fill="#A0C6DF" stroke="#2a2a2a" stroke-width="0.8"/>
<rect x="323.65" y="973.1" width="20.55" height="20.7" fill="#4D7BB7" stroke="#2a2a2a" stroke-width="0.8"/>
<rect x="344.20" y="952.5" width="20.55" height="20.6" fill="#D33B2C" stroke="#2a2a2a" stroke-width="0.8"/>
<rect x="344.20" y="973.1" width="20.55" height="20.7" fill="#FBDB8F" stroke="#2a2a2a" stroke-width="0.8"/>
<rect x="364.75" y="952.5" width="20.55" height="20.6" fill="#EF8355" stroke="#2a2a2a" stroke-width="0.8"/>
<rect x="364.75" y="973.1" width="20.55" height="20.7" fill="#FCE79B" stroke="#2a2a2a" stroke-width="0.8"/>
<rect x="385.30" y="952.5" width="20.55" height="20.6" fill="#EE7F52" stroke="#2a2a2a" stroke-width="0.8"/>
<rect x="385.30" y="973.1" width="20.55" height="20.7" fill="#D9E9F1" stroke="#2a2a2a" stroke-width="0.8"/>
<text x="52" y="968.5" font-size="14" text-anchor="end" textLength="26" lengthAdjust="spacingAndGlyphs">Skin</text>
<text x="52" y="989.8" font-size="14" text-anchor="end" textLength="35" lengthAdjust="spacingAndGlyphs">SDLN</text>
<text x="70.8" y="1005.3" font-size="12.8" text-anchor="end" transform="rotate(-45 70.8 1005.3)">Tgfb1</text>
<text x="91.3" y="1005.3" font-size="12.8" text-anchor="end" transform="rotate(-45 91.3 1005.3)" font-weight="bold" font-style="italic">Il2ra</text>
<text x="111.9" y="1005.3" font-size="12.8" text-anchor="end" transform="rotate(-45 111.9 1005.3)">Il10</text>
<text x="132.4" y="1005.3" font-size="12.8" text-anchor="end" transform="rotate(-45 132.4 1005.3)">Il1r2</text>
<text x="153.0" y="1005.3" font-size="12.8" text-anchor="end" transform="rotate(-45 153.0 1005.3)">Pdcd1</text>
<text x="173.5" y="1005.3" font-size="12.8" text-anchor="end" transform="rotate(-45 173.5 1005.3)">Gzmb</text>
<text x="194.1" y="1005.3" font-size="12.8" text-anchor="end" transform="rotate(-45 194.1 1005.3)">Vsir</text>
<text x="214.6" y="1005.3" font-size="12.8" text-anchor="end" transform="rotate(-45 214.6 1005.3)">Tnfrsf8</text>
<text x="235.2" y="1005.3" font-size="12.8" text-anchor="end" transform="rotate(-45 235.2 1005.3)">Tnfrsf14</text>
<text x="255.7" y="1005.3" font-size="12.8" text-anchor="end" transform="rotate(-45 255.7 1005.3)">Entpd1</text>
<text x="276.3" y="1005.3" font-size="12.8" text-anchor="end" transform="rotate(-45 276.3 1005.3)">Havcr2</text>
<text x="296.8" y="1005.3" font-size="12.8" text-anchor="end" transform="rotate(-45 296.8 1005.3)">Lag3</text>
<text x="317.4" y="1005.3" font-size="12.8" text-anchor="end" transform="rotate(-45 317.4 1005.3)">Tigit</text>
<text x="337.9" y="1005.3" font-size="12.8" text-anchor="end" transform="rotate(-45 337.9 1005.3)">Itgb8</text>
<text x="358.5" y="1005.3" font-size="12.8" text-anchor="end" transform="rotate(-45 358.5 1005.3)">Tnfrsf4</text>
<text x="379.0" y="1005.3" font-size="12.8" text-anchor="end" transform="rotate(-45 379.0 1005.3)">Tnfrsf18</text>
<text x="399.6" y="1005.3" font-size="12.8" text-anchor="end" transform="rotate(-45 399.6 1005.3)" font-weight="bold" font-style="italic">Ctla4</text>
<path d="M163.8 938V926.3H380V944.5M92.5 943.8V938H235.5V944.5M77 948.8V943.8H108V952.5M66.8 952.5V948.8H87.5V952.5M172.5 947.5V944.5H297.5V948M154.5 950.8V947.5H190.5V952.5M128.8 952.5V950.8H169.5V952.5M139 952.5V951.6H149.5V952.5M272.5 950V948H323.8V950.5M252 952.5V950H293V952.5M231.5 952.5V951.3H262V950M211 952.5V951.8H241.5V951.3M303 952.5V950.5H334V952.5M313 952.5V951.5H324V952.5M365 948.8V944.5H395V952.5M354.3 952.5V948.8H375V952.5M406 962.6H424.5V983H406" fill="none" stroke="#2a2a2a" stroke-width="0.9"/>
<defs><linearGradient id="gE" x1="0" y1="0" x2="0" y2="1"><stop offset="0" stop-color="#D73027"/><stop offset="0.2" stop-color="#F46D43"/><stop offset="0.36" stop-color="#FDAE61"/><stop offset="0.5" stop-color="#FEE090"/><stop offset="0.62" stop-color="#FFFFBF"/><stop offset="0.74" stop-color="#E0F3F8"/><stop offset="0.86" stop-color="#91BFDB"/><stop offset="1" stop-color="#4575B4"/></linearGradient></defs>
<rect x="445.5" y="933.8" width="4.8" height="74.5" fill="url(#gE)"/>
<text x="453" y="944.6" font-size="13" textLength="17" lengthAdjust="spacingAndGlyphs">2.5</text>
<text x="453" y="962.1" font-size="13">2</text>
<text x="453" y="977.1" font-size="13" textLength="17" lengthAdjust="spacingAndGlyphs">1.5</text>
<text x="453" y="992.1" font-size="13">1</text>
<text x="453" y="1007.1" font-size="13" textLength="17" lengthAdjust="spacingAndGlyphs">0.5</text>
<text x="441.5" y="972.5" font-size="14" text-anchor="middle" textLength="140" lengthAdjust="spacingAndGlyphs" transform="rotate(-90 441.5 972.5)">Avg scaled expression</text>
<path d="M558.3 852.5V1082.8H1052" fill="none" stroke="#3a3a3a" stroke-width="1.2"/>
<path d="M554.3 861.3H558.3" stroke="#3a3a3a" stroke-width="1"/>
<text x="550.5" y="866.3" font-size="14" text-anchor="end">1</text>
<path d="M554.3 923.3H558.3" stroke="#3a3a3a" stroke-width="1"/>
<text x="550.5" y="928.3" font-size="14" text-anchor="end">0.5</text>
<path d="M554.3 985.6H558.3" stroke="#3a3a3a" stroke-width="1"/>
<text x="550.5" y="990.6" font-size="14" text-anchor="end">0</text>
<path d="M554.3 1047.8H558.3" stroke="#3a3a3a" stroke-width="1"/>
<text x="550.5" y="1052.8" font-size="14" text-anchor="end">-0.5</text>
<path d="M584.4 1082.8V1086.5" stroke="#3a3a3a" stroke-width="1"/>
<rect x="573.8" y="1088.5" width="21.2" height="19.8" fill="#31B7DD"/>
<text x="584.4" y="1104" font-size="14" text-anchor="middle" font-weight="bold" fill="#111">7</text>
<path d="M628.4 1082.8V1086.5" stroke="#3a3a3a" stroke-width="1"/>
<rect x="617.8" y="1088.5" width="21.2" height="19.8" fill="#6DB44E"/>
<text x="628.4" y="1104" font-size="14" text-anchor="middle" font-weight="bold" fill="#111">4</text>
<path d="M672.3 1082.8V1086.5" stroke="#3a3a3a" stroke-width="1"/>
<rect x="661.7" y="1088.5" width="21.2" height="19.8" fill="#C273AF"/>
<text x="672.3" y="1104" font-size="14" text-anchor="middle" font-weight="bold" fill="#111">10</text>
<path d="M716.2 1082.8V1086.5" stroke="#3a3a3a" stroke-width="1"/>
<rect x="705.6" y="1088.5" width="21.2" height="19.8" fill="#41B062"/>
<text x="716.2" y="1104" font-size="14" text-anchor="middle" font-weight="bold" fill="#111">5</text>
<path d="M760.2 1082.8V1086.5" stroke="#3a3a3a" stroke-width="1"/>
<rect x="749.6" y="1088.5" width="21.2" height="19.8" fill="#3FB6A1"/>
<text x="760.2" y="1104" font-size="14" text-anchor="middle" font-weight="bold" fill="#111">6</text>
<path d="M804.1 1082.8V1086.5" stroke="#3a3a3a" stroke-width="1"/>
<rect x="793.5" y="1088.5" width="21.2" height="19.8" fill="#E969A3"/>
<text x="804.1" y="1104" font-size="14" text-anchor="middle" font-weight="bold" fill="#111">11</text>
<path d="M848.1 1082.8V1086.5" stroke="#3a3a3a" stroke-width="1"/>
<rect x="837.5" y="1088.5" width="21.2" height="19.8" fill="#D99136"/>
<text x="848.1" y="1104" font-size="14" text-anchor="middle" font-weight="bold" fill="#111">2</text>
<path d="M892.0 1082.8V1086.5" stroke="#3a3a3a" stroke-width="1"/>
<rect x="881.4" y="1088.5" width="21.2" height="19.8" fill="#9C85C2"/>
<text x="892.0" y="1104" font-size="14" text-anchor="middle" font-weight="bold" fill="#111">9</text>
<path d="M936.0 1082.8V1086.5" stroke="#3a3a3a" stroke-width="1"/>
<rect x="925.4" y="1088.5" width="21.2" height="19.8" fill="#ADA340"/>
<text x="936.0" y="1104" font-size="14" text-anchor="middle" font-weight="bold" fill="#111">3</text>
<path d="M980.0 1082.8V1086.5" stroke="#3a3a3a" stroke-width="1"/>
<rect x="969.4" y="1088.5" width="21.2" height="19.8" fill="#4F9BD5"/>
<text x="980.0" y="1104" font-size="14" text-anchor="middle" font-weight="bold" fill="#111">8</text>
<path d="M1023.9 1082.8V1086.5" stroke="#3a3a3a" stroke-width="1"/>
<rect x="1013.3" y="1088.5" width="21.2" height="19.8" fill="#F07B72"/>
<text x="1023.9" y="1104" font-size="14" text-anchor="middle" font-weight="bold" fill="#111">1</text>
<text x="507.8" y="975.8" font-size="12.6" text-anchor="middle" textLength="124" lengthAdjust="spacingAndGlyphs" transform="rotate(-90 507.8 975.8)">Immune regulatory</text>
<text x="526.5" y="974" font-size="12.6" text-anchor="middle" textLength="133" lengthAdjust="spacingAndGlyphs" transform="rotate(-90 526.5 974)">gene signature score</text>
<defs><linearGradient id="gH" x1="0" y1="0" x2="1" y2="0"><stop offset="0" stop-color="#0a0a0a"/><stop offset="0.3" stop-color="#4a4a4a"/><stop offset="0.6" stop-color="#909090"/><stop offset="1" stop-color="#d8d8d8"/></linearGradient></defs>
<path d="M585.5 1118.5V1139.5L1030 1129Z" fill="url(#gH)"/>
<path d="M592 861.5H596" stroke="#333" stroke-width="1"/>
</g>
</svg>
</body></html>
